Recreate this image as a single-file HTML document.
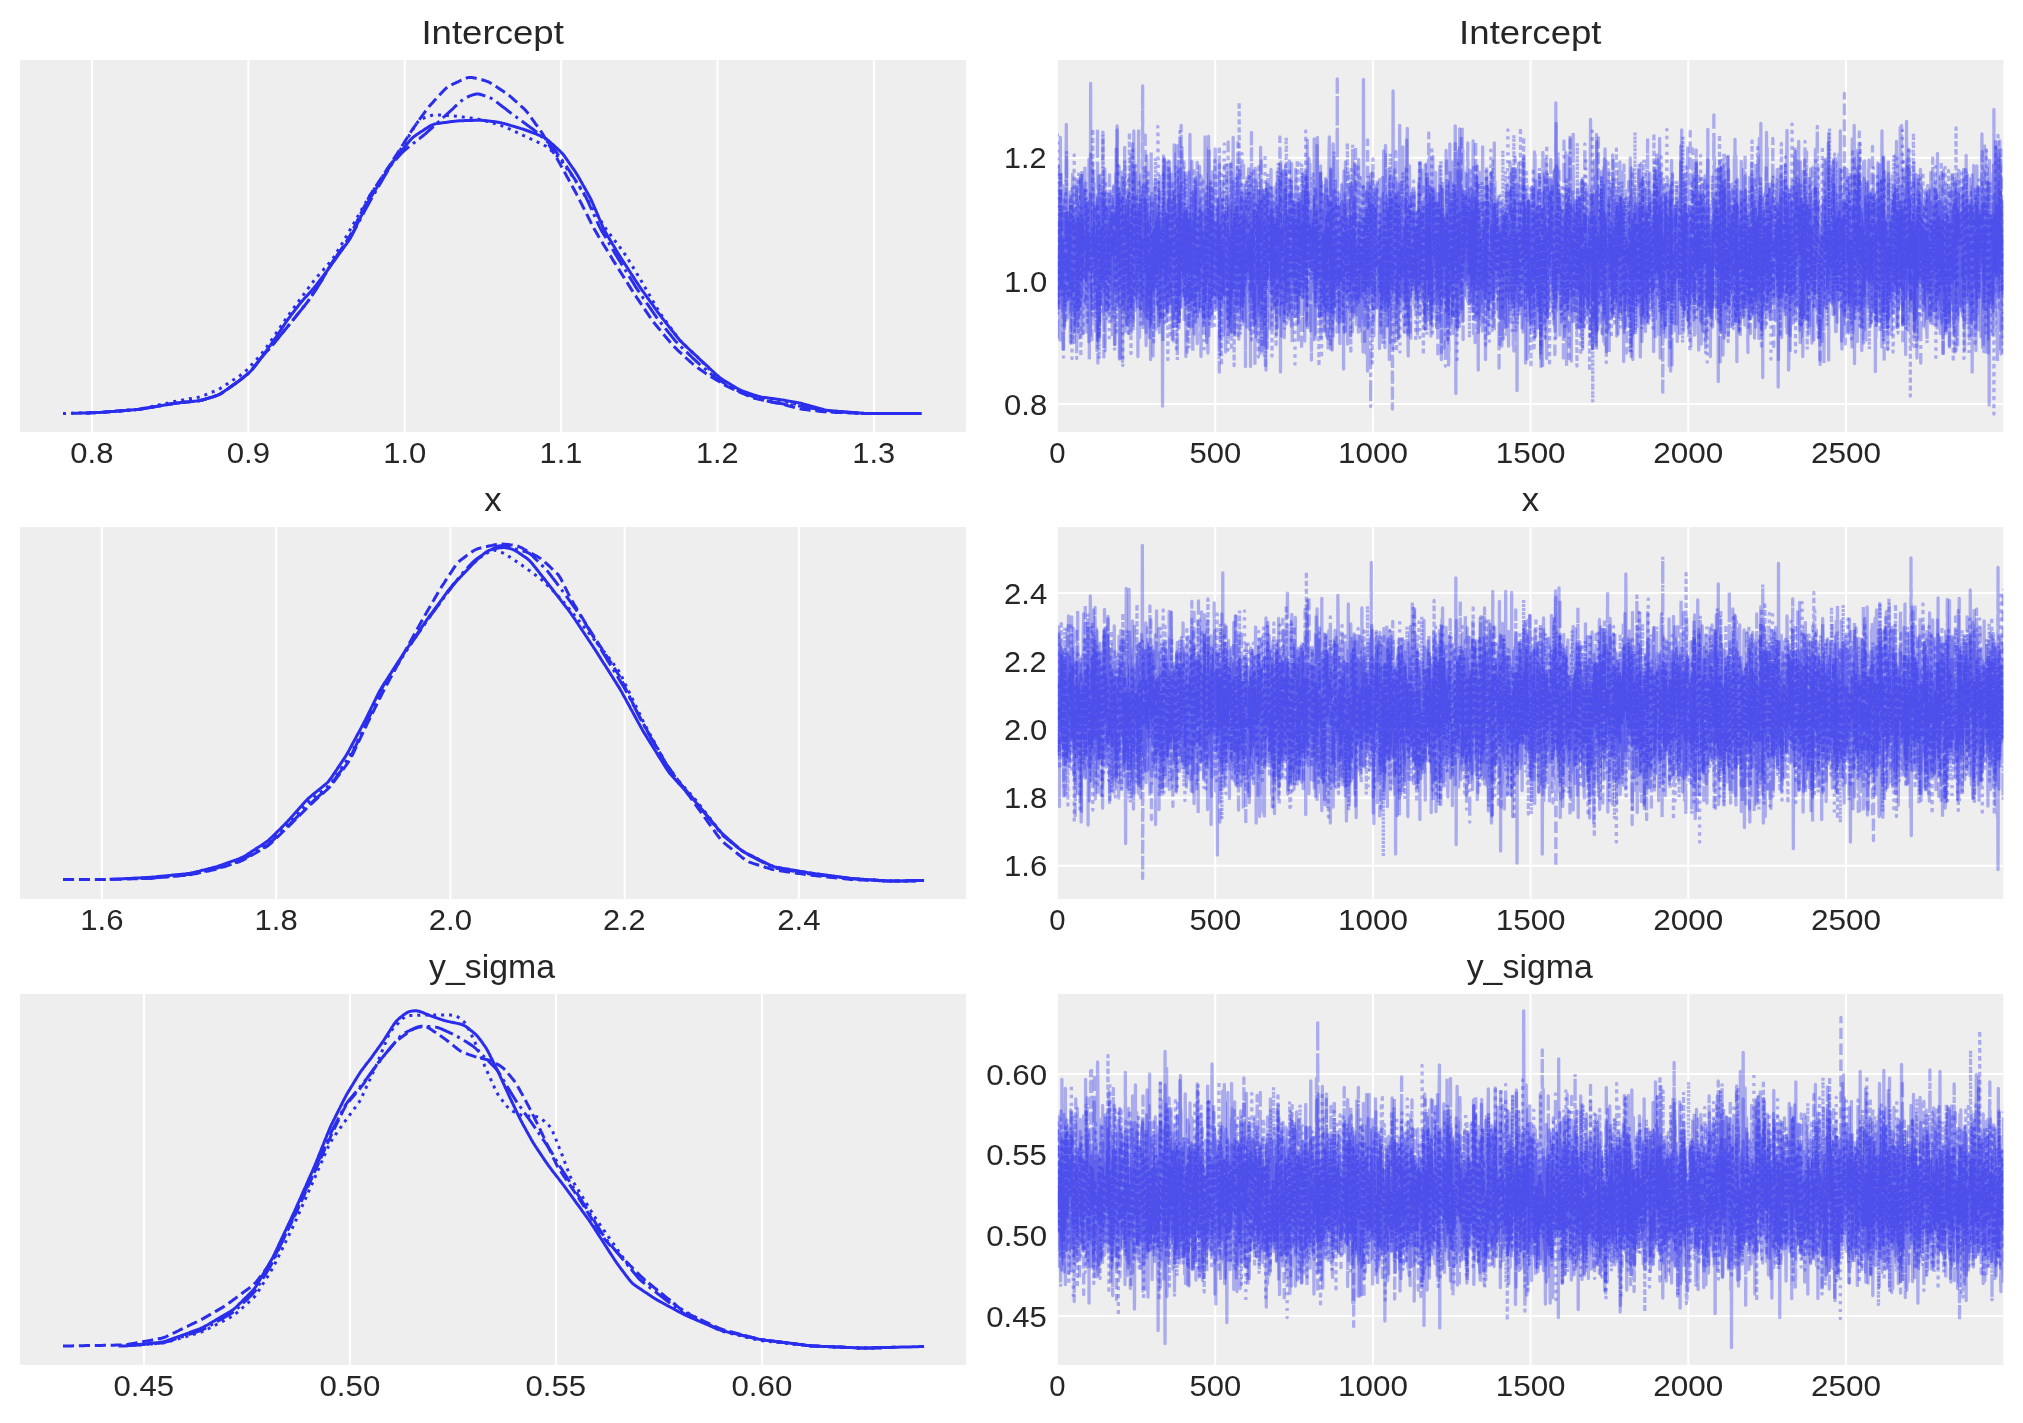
<!DOCTYPE html><html><head><meta charset="utf-8"><title>Trace plot</title><style>html,body{margin:0;padding:0;background:#fff;overflow:hidden}svg{display:block;will-change:transform}</style></head><body><svg width="2023" height="1423" viewBox="0 0 2023 1423">
<rect width="2023" height="1423" fill="#ffffff"/>
<defs><clipPath id="cl0"><rect x="19.97" y="59.95" width="945.93" height="371.95"/></clipPath><clipPath id="cr0"><rect x="1057.85" y="59.95" width="945.55" height="371.95"/></clipPath><clipPath id="cl1"><rect x="19.97" y="527.1" width="945.93" height="371.80"/></clipPath><clipPath id="cr1"><rect x="1057.85" y="527.1" width="945.55" height="371.80"/></clipPath><clipPath id="cl2"><rect x="19.97" y="993.9" width="945.93" height="371.00"/></clipPath><clipPath id="cr2"><rect x="1057.85" y="993.9" width="945.55" height="371.00"/></clipPath></defs>
<rect x="19.97" y="59.95" width="945.93" height="371.95" fill="#eeeeee"/>
<rect x="1057.85" y="59.95" width="945.55" height="371.95" fill="#eeeeee"/>
<path d="M91.95 59.95V431.9M248.34 59.95V431.9M404.73 59.95V431.9M561.12 59.95V431.9M717.51 59.95V431.9M873.90 59.95V431.9M1057.85 403.97H2003.4M1057.85 280.91H2003.4M1057.85 157.85H2003.4M1215.20 59.95V431.9M1372.90 59.95V431.9M1530.60 59.95V431.9M1688.30 59.95V431.9M1846.00 59.95V431.9" stroke="#ffffff" stroke-width="2" fill="none"/>
<rect x="19.97" y="527.1" width="945.93" height="371.80" fill="#eeeeee"/>
<rect x="1057.85" y="527.1" width="945.55" height="371.80" fill="#eeeeee"/>
<path d="M101.87 527.1V898.9M276.13 527.1V898.9M450.39 527.1V898.9M624.65 527.1V898.9M798.91 527.1V898.9M1057.85 865.87H2003.4M1057.85 797.65H2003.4M1057.85 729.43H2003.4M1057.85 661.21H2003.4M1057.85 592.99H2003.4M1215.20 527.1V898.9M1372.90 527.1V898.9M1530.60 527.1V898.9M1688.30 527.1V898.9M1846.00 527.1V898.9" stroke="#ffffff" stroke-width="2" fill="none"/>
<rect x="19.97" y="993.9" width="945.93" height="371.00" fill="#eeeeee"/>
<rect x="1057.85" y="993.9" width="945.55" height="371.00" fill="#eeeeee"/>
<path d="M143.97 993.9V1364.9M349.97 993.9V1364.9M555.97 993.9V1364.9M761.97 993.9V1364.9M1057.85 1316.10H2003.4M1057.85 1235.39H2003.4M1057.85 1154.68H2003.4M1057.85 1073.97H2003.4M1215.20 993.9V1364.9M1372.90 993.9V1364.9M1530.60 993.9V1364.9M1688.30 993.9V1364.9M1846.00 993.9V1364.9" stroke="#ffffff" stroke-width="2" fill="none"/>
<g clip-path="url(#cl0)" fill="none" stroke="#2a2eec" stroke-width="3.0" stroke-linecap="butt" stroke-linejoin="round">
<path d="M87.0 412.9L88.5 412.9 90.0 412.8 91.5 412.8 93.0 412.7 94.5 412.7 96.0 412.6 97.5 412.6 99.0 412.5 100.5 412.4 102.0 412.3 103.5 412.2 105.0 412.1 106.5 411.9 108.0 411.8 109.5 411.7 111.0 411.6 112.5 411.5 114.0 411.4 115.5 411.2 117.0 411.1 118.5 411.0 120.0 410.9 121.5 410.8 123.0 410.7 124.5 410.5 126.0 410.4 127.5 410.3 129.0 410.2 130.5 410.1 132.0 410.0 133.5 409.8 135.0 409.7 136.5 409.6 138.0 409.4 139.5 409.2 140.9 409.0 142.4 408.8 143.9 408.5 145.4 408.3 146.9 408.0 148.4 407.8 149.8 407.5 151.3 407.3 152.8 407.0 154.3 406.8 155.8 406.5 157.2 406.3 158.7 406.0 160.2 405.8 161.7 405.6 163.2 405.3 164.7 405.1 166.1 404.8 167.6 404.6 169.1 404.3 170.6 404.1 172.1 403.8 173.5 403.6 175.0 403.4 176.5 403.1 178.0 402.9 179.5 402.8 181.0 402.6 182.5 402.5 184.0 402.3 185.5 402.2 187.0 402.0 188.5 401.9 190.0 401.7 191.5 401.6 192.9 401.4 194.4 401.2 195.9 401.1 197.4 400.9 198.9 400.7 200.4 400.4 201.8 400.1 203.3 399.7 204.7 399.3 206.2 398.8 207.6 398.4 209.0 398.0 210.5 397.6 211.9 397.1 213.4 396.7 214.8 396.2 216.2 395.8 217.6 395.2 218.9 394.6 220.3 393.9 221.5 393.1 222.8 392.3 224.0 391.5 225.3 390.6 226.5 389.8 227.7 388.9 228.9 388.0 230.2 387.2 231.4 386.3 232.6 385.5 233.9 384.6 235.1 383.7 236.3 382.8 237.5 382.0 238.7 381.1 239.9 380.1 241.1 379.2 242.3 378.3 243.4 377.3 244.6 376.4 245.8 375.5 246.9 374.5 248.1 373.5 249.2 372.6 250.3 371.5 251.3 370.4 252.3 369.3 253.2 368.1 254.2 367.0 255.1 365.8 256.0 364.6 256.9 363.4 257.8 362.2 258.7 361.0 259.7 359.8 260.6 358.6 261.5 357.4 262.4 356.2 263.3 355.0 264.2 353.8 265.1 352.6 265.9 351.4 266.8 350.2 267.7 348.9 268.6 347.7 269.4 346.5 270.3 345.3 271.2 344.0 272.0 342.8 272.9 341.6 273.8 340.4 274.6 339.1 275.5 337.9 276.4 336.7 277.2 335.4 278.0 334.2 278.9 332.9 279.7 331.7 280.6 330.4 281.4 329.2 282.2 327.9 283.1 326.7 283.9 325.4 284.7 324.2 285.6 322.9 286.4 321.7 287.2 320.5 288.1 319.2 289.0 318.0 289.9 316.8 290.8 315.6 291.7 314.4 292.6 313.2 293.5 312.0 294.4 310.8 295.3 309.6 296.3 308.4 297.2 307.3 298.1 306.1 299.0 304.9 299.9 303.7 300.9 302.5 301.9 301.4 302.8 300.3 303.8 299.1 304.8 298.0 305.9 296.9 306.9 295.8 307.9 294.7 308.9 293.6 309.9 292.5 310.9 291.4 311.9 290.2 312.9 289.1 313.9 288.0 314.8 286.8 315.8 285.6 316.7 284.4 317.6 283.3 318.5 282.1 319.4 280.9 320.3 279.7 321.2 278.5 322.2 277.3 323.1 276.1 324.0 274.9 324.9 273.7 325.8 272.5 326.7 271.3 327.6 270.1 328.4 268.9 329.3 267.6 330.2 266.4 331.1 265.2 331.9 264.0 332.8 262.7 333.7 261.5 334.6 260.3 335.4 259.1 336.3 257.8 337.2 256.6 338.0 255.4 338.9 254.2 339.8 253.0 340.7 251.7 341.6 250.5 342.5 249.3 343.3 248.1 344.2 246.9 345.1 245.7 346.0 244.5 346.9 243.3 347.7 242.0 348.6 240.8 349.4 239.5 350.1 238.2 350.8 236.9 351.5 235.5 352.2 234.2 352.8 232.9 353.5 231.5 354.2 230.2 354.8 228.8 355.5 227.5 356.2 226.1 356.8 224.8 357.5 223.4 358.2 222.1 358.8 220.7 359.5 219.4 360.2 218.1 360.8 216.7 361.5 215.4 362.2 214.0 362.8 212.7 363.5 211.3 364.2 210.0 364.8 208.6 365.5 207.3 366.2 205.9 366.8 204.6 367.5 203.2 368.2 201.9 368.9 200.6 369.6 199.3 370.3 198.0 371.1 196.7 371.9 195.4 372.7 194.1 373.5 192.8 374.3 191.6 375.1 190.3 375.9 189.0 376.7 187.7 377.5 186.5 378.3 185.2 379.1 183.9 379.9 182.6 380.7 181.4 381.5 180.1 382.3 178.8 383.1 177.6 383.9 176.3 384.7 175.0 385.4 173.7 386.2 172.5 387.0 171.2 387.8 169.9 388.6 168.6 389.4 167.4 390.2 166.1 391.0 164.8 391.9 163.6 392.7 162.3 393.5 161.1 394.4 159.9 395.3 158.7 396.3 157.5 397.2 156.3 398.1 155.2 399.1 154.0 400.0 152.8 401.0 151.6 401.9 150.5 402.8 149.3 403.8 148.1 404.7 147.0 405.7 145.8 406.6 144.6 407.5 143.4 408.5 142.3 409.4 141.1 410.4 140.0 411.4 138.9 412.5 137.8 413.6 136.9 414.8 136.0 416.0 135.1 417.3 134.3 418.5 133.4 419.8 132.6 421.0 131.8 422.3 131.0 423.5 130.2 424.8 129.3 426.0 128.5 427.3 127.7 428.6 126.9 429.8 126.1 431.1 125.4 432.5 124.8 433.9 124.3 435.3 123.9 436.7 123.6 438.2 123.4 439.7 123.2 441.2 123.0 442.7 122.8 444.2 122.6 445.7 122.4 447.1 122.2 448.6 122.0 450.1 121.8 451.6 121.6 453.1 121.4 454.6 121.2 456.1 121.1 457.6 120.9 459.1 120.8 460.6 120.8 462.1 120.7 463.6 120.7 465.1 120.6 466.6 120.6 468.1 120.5 469.6 120.5 471.1 120.4 472.6 120.4 474.1 120.3 475.6 120.3 477.1 120.2 478.6 120.2 480.1 120.3 481.6 120.3 483.1 120.5 484.6 120.6 486.1 120.8 487.6 121.0 489.0 121.1 490.5 121.3 492.0 121.5 493.5 121.6 495.0 121.8 496.5 122.0 498.0 122.2 499.5 122.5 500.9 122.7 502.4 123.1 503.8 123.4 505.3 123.9 506.7 124.3 508.2 124.7 509.6 125.1 511.1 125.6 512.5 126.0 513.9 126.4 515.4 126.8 516.8 127.3 518.3 127.7 519.7 128.1 521.1 128.6 522.6 129.0 524.0 129.5 525.4 130.0 526.8 130.5 528.2 131.0 529.6 131.5 531.0 132.1 532.4 132.6 533.8 133.2 535.2 133.7 536.6 134.2 538.0 134.8 539.4 135.3 540.8 135.9 542.2 136.5 543.5 137.1 544.8 137.8 546.1 138.7 547.2 139.6 548.4 140.5 549.5 141.5 550.6 142.5 551.7 143.5 552.8 144.5 554.0 145.5 555.1 146.6 556.2 147.6 557.3 148.6 558.4 149.6 559.5 150.6 560.6 151.7 561.6 152.7 562.6 153.8 563.6 155.0 564.5 156.2 565.3 157.4 566.2 158.6 567.1 159.9 567.9 161.1 568.8 162.3 569.6 163.6 570.5 164.8 571.3 166.0 572.2 167.3 573.1 168.5 573.9 169.7 574.8 171.0 575.6 172.2 576.4 173.5 577.2 174.8 578.0 176.1 578.7 177.4 579.5 178.7 580.2 180.0 580.9 181.3 581.7 182.6 582.4 183.9 583.1 185.2 583.9 186.5 584.6 187.8 585.4 189.1 586.1 190.4 586.8 191.8 587.6 193.1 588.3 194.4 589.0 195.7 589.7 197.0 590.4 198.3 591.1 199.7 591.7 201.0 592.3 202.4 592.9 203.8 593.5 205.2 594.1 206.6 594.7 207.9 595.3 209.3 595.9 210.7 596.5 212.1 597.1 213.5 597.7 214.8 598.2 216.2 598.8 217.6 599.4 219.0 600.0 220.4 600.6 221.8 601.2 223.1 601.8 224.5 602.4 225.9 603.0 227.3 603.6 228.6 604.3 230.0 605.0 231.3 605.7 232.6 606.5 233.9 607.2 235.2 608.0 236.5 608.8 237.8 609.5 239.1 610.3 240.4 611.1 241.6 611.9 242.9 612.6 244.2 613.4 245.5 614.2 246.8 614.9 248.1 615.7 249.4 616.5 250.7 617.3 252.0 618.0 253.2 618.8 254.5 619.6 255.8 620.4 257.1 621.2 258.4 622.0 259.6 622.8 260.9 623.6 262.1 624.5 263.4 625.3 264.7 626.1 265.9 626.9 267.2 627.7 268.4 628.6 269.7 629.4 271.0 630.2 272.2 631.0 273.5 631.8 274.7 632.7 276.0 633.5 277.2 634.3 278.5 635.1 279.8 635.9 281.0 636.8 282.3 637.6 283.5 638.4 284.8 639.2 286.0 640.1 287.3 640.9 288.5 641.8 289.8 642.7 291.0 643.5 292.2 644.4 293.4 645.3 294.6 646.2 295.9 647.0 297.1 647.9 298.3 648.8 299.5 649.7 300.8 650.5 302.0 651.4 303.2 652.3 304.4 653.2 305.6 654.0 306.9 654.9 308.1 655.8 309.3 656.6 310.5 657.5 311.8 658.4 313.0 659.3 314.2 660.2 315.4 661.1 316.6 662.0 317.8 662.9 319.0 663.9 320.1 664.8 321.3 665.7 322.5 666.6 323.7 667.6 324.9 668.5 326.0 669.4 327.2 670.4 328.4 671.3 329.6 672.2 330.8 673.2 331.9 674.1 333.1 675.0 334.3 675.9 335.5 676.9 336.7 677.8 337.8 678.8 339.0 679.7 340.1 680.8 341.2 681.8 342.3 682.9 343.4 684.0 344.4 685.0 345.4 686.1 346.5 687.2 347.5 688.3 348.5 689.4 349.5 690.5 350.6 691.6 351.6 692.7 352.6 693.8 353.6 694.9 354.7 696.0 355.7 697.1 356.7 698.2 357.7 699.3 358.8 700.4 359.8 701.5 360.8 702.6 361.8 703.7 362.9 704.8 363.9 705.9 364.9 707.0 365.9 708.1 366.9 709.2 368.0 710.3 369.0 711.4 370.0 712.5 371.0 713.6 372.0 714.7 373.1 715.8 374.1 717.0 375.1 718.1 376.1 719.2 377.1 720.4 378.0 721.6 378.9 722.9 379.7 724.1 380.5 725.4 381.3 726.7 382.1 728.0 382.8 729.2 383.6 730.5 384.4 731.8 385.2 733.1 385.9 734.4 386.7 735.7 387.5 737.0 388.3 738.3 389.0 739.6 389.7 741.0 390.3 742.3 390.9 743.7 391.4 745.2 391.9 746.6 392.4 748.0 392.9 749.4 393.4 750.8 393.8 752.3 394.3 753.7 394.8 755.1 395.3 756.5 395.7 758.0 396.2 759.4 396.5 760.9 396.9 762.3 397.2 763.8 397.4 765.3 397.6 766.8 397.8 768.3 398.0 769.8 398.2 771.3 398.4 772.8 398.6 774.2 398.8 775.7 399.0 777.2 399.2 778.7 399.4 780.2 399.6 781.7 399.9 783.2 400.1 784.6 400.3 786.1 400.6 787.6 400.9 789.1 401.1 790.6 401.4 792.1 401.6 793.5 401.9 795.0 402.1 796.5 402.4 798.0 402.7 799.4 403.0 800.9 403.3 802.3 403.7 803.8 404.1 805.2 404.5 806.7 404.9 808.1 405.3 809.6 405.7 811.0 406.1 812.5 406.5 813.9 406.9 815.4 407.3 816.8 407.7 818.3 408.1 819.7 408.5 821.2 408.9 822.6 409.3 824.1 409.7 825.5 410.0 827.0 410.2 828.5 410.4 830.0 410.6 831.5 410.7 833.0 410.9 834.5 411.0 836.0 411.1 837.5 411.2 839.0 411.4 840.5 411.5 842.0 411.6 843.4 411.7 844.9 411.9 846.4 412.0 847.9 412.1 849.4 412.2 850.9 412.3 852.4 412.5 853.9 412.6 855.4 412.7 856.9 412.8 858.4 413.0 859.9 413.1 861.4 413.2 862.9 413.3 864.4 413.4 865.9 413.4 867.4 413.5 868.9 413.5 870.4 413.5 871.9 413.5 873.4 413.5 874.9 413.5 876.4 413.5 877.9 413.5 879.4 413.5 880.9 413.5 882.4 413.5 883.9 413.5 885.4 413.5 886.9 413.5 888.4 413.5 889.9 413.5 891.5 413.5 893.0 413.5 894.5 413.5 896.0 413.5 897.5 413.5 899.0 413.5 900.5 413.5 902.0 413.5 903.5 413.5 905.0 413.5 906.5 413.5 908.0 413.5 909.5 413.5 911.0 413.5" stroke-linecap="square"/>
<path d="M87.0 412.9L88.5 412.9 90.0 412.8 91.5 412.8 93.0 412.7 94.6 412.7 96.1 412.6 97.6 412.6 99.1 412.5 100.6 412.4 102.1 412.3 103.6 412.2 105.1 412.1 106.5 411.9 108.0 411.8 109.5 411.7 111.0 411.6 112.5 411.5 114.0 411.4 115.5 411.2 117.0 411.1 118.5 411.0 120.0 410.9 121.5 410.8 123.0 410.7 124.5 410.5 126.0 410.4 127.5 410.3 129.0 410.2 130.5 410.1 132.0 410.0 133.5 409.8 135.0 409.7 136.5 409.6 138.0 409.4 139.5 409.2 141.0 409.0 142.5 408.7 143.9 408.5 145.4 408.3 146.9 408.0 148.4 407.8 149.9 407.5 151.4 407.3 152.8 407.0 154.3 406.8 155.8 406.5 157.3 406.3 158.8 406.0 160.3 405.8 161.7 405.5 163.2 405.3 164.7 405.0 166.2 404.8 167.7 404.6 169.2 404.3 170.6 404.1 172.1 403.8 173.6 403.6 175.1 403.3 176.6 403.1 178.1 402.9 179.6 402.8 181.1 402.6 182.5 402.4 184.0 402.3 185.5 402.1 187.0 402.0 188.5 401.8 190.0 401.7 191.5 401.5 193.0 401.4 194.5 401.2 196.0 401.1 197.5 400.9 199.0 400.7 200.4 400.4 201.9 400.0 203.3 399.7 204.8 399.3 206.2 398.8 207.7 398.4 209.1 398.0 210.6 397.5 212.0 397.1 213.4 396.7 214.9 396.2 216.3 395.7 217.7 395.2 219.0 394.6 220.3 393.9 221.6 393.1 222.8 392.3 224.1 391.4 225.3 390.6 226.6 389.7 227.8 388.9 229.0 388.0 230.2 387.1 231.5 386.3 232.7 385.4 233.9 384.5 235.2 383.7 236.4 382.8 237.6 381.9 238.8 381.0 240.0 380.1 241.2 379.2 242.3 378.2 243.5 377.3 244.7 376.3 245.9 375.4 247.0 374.4 248.2 373.5 249.3 372.5 250.4 371.4 251.4 370.4 252.4 369.2 253.3 368.1 254.2 366.9 255.1 365.7 256.1 364.5 257.0 363.3 257.9 362.1 258.8 360.9 259.7 359.7 260.7 358.6 261.6 357.4 262.5 356.2 263.5 355.1 264.5 353.9 265.5 352.8 266.5 351.7 267.5 350.6 268.6 349.5 269.6 348.4 270.6 347.3 271.5 346.1 272.5 345.0 273.5 343.8 274.4 342.7 275.4 341.5 276.3 340.3 277.3 339.2 278.2 338.0 279.2 336.9 280.2 335.7 281.1 334.6 282.1 333.4 283.0 332.2 284.0 331.1 284.9 329.9 285.9 328.8 286.9 327.6 287.8 326.4 288.8 325.3 289.7 324.1 290.7 322.9 291.6 321.8 292.5 320.6 293.5 319.4 294.4 318.3 295.4 317.1 296.3 315.9 297.3 314.7 298.2 313.6 299.1 312.4 300.1 311.2 301.0 310.1 302.0 308.9 302.9 307.7 303.8 306.5 304.8 305.4 305.7 304.2 306.6 303.0 307.5 301.8 308.4 300.6 309.3 299.3 310.1 298.1 310.9 296.8 311.8 295.6 312.6 294.3 313.4 293.1 314.3 291.8 315.1 290.6 316.0 289.3 316.8 288.1 317.6 286.8 318.4 285.6 319.3 284.3 320.1 283.1 320.9 281.8 321.6 280.5 322.4 279.2 323.1 277.9 323.9 276.6 324.6 275.3 325.4 274.0 326.1 272.7 326.9 271.4 327.7 270.1 328.4 268.8 329.2 267.5 330.0 266.2 330.8 264.9 331.6 263.7 332.4 262.4 333.2 261.2 334.1 259.9 334.9 258.7 335.8 257.4 336.6 256.2 337.4 254.9 338.3 253.7 339.1 252.5 339.9 251.2 340.8 249.9 341.6 248.7 342.4 247.4 343.3 246.2 344.1 244.9 344.9 243.7 345.7 242.4 346.6 241.2 347.4 239.9 348.2 238.6 348.9 237.3 349.7 236.0 350.4 234.7 351.1 233.4 351.7 232.0 352.4 230.7 353.1 229.3 353.7 228.0 354.4 226.6 355.1 225.3 355.7 223.9 356.4 222.6 357.1 221.2 357.7 219.9 358.4 218.5 359.1 217.2 359.7 215.8 360.4 214.5 361.0 213.2 361.7 211.8 362.4 210.5 363.0 209.1 363.7 207.8 364.4 206.4 365.0 205.1 365.7 203.7 366.4 202.4 367.0 201.0 367.7 199.7 368.4 198.3 369.1 197.0 369.8 195.7 370.6 194.4 371.4 193.1 372.2 191.9 373.0 190.6 373.8 189.4 374.7 188.1 375.5 186.8 376.3 185.6 377.1 184.3 378.0 183.1 378.8 181.8 379.6 180.6 380.4 179.3 381.3 178.0 382.1 176.8 382.9 175.5 383.7 174.3 384.5 173.0 385.4 171.8 386.2 170.5 387.0 169.2 387.8 168.0 388.7 166.7 389.5 165.5 390.3 164.2 391.1 163.0 392.0 161.7 392.8 160.4 393.6 159.2 394.4 157.9 395.2 156.7 396.1 155.4 396.9 154.1 397.7 152.9 398.5 151.6 399.3 150.3 400.1 149.0 400.9 147.8 401.7 146.5 402.5 145.2 403.3 144.0 404.1 142.7 404.9 141.4 405.7 140.1 406.5 138.9 407.3 137.6 408.1 136.3 408.9 135.1 409.7 133.8 410.5 132.5 411.3 131.2 412.1 130.0 413.0 128.7 413.8 127.5 414.7 126.3 415.6 125.1 416.4 123.8 417.3 122.6 418.2 121.4 419.0 120.2 419.9 118.9 420.8 117.7 421.7 116.5 422.5 115.3 423.4 114.1 424.3 112.8 425.2 111.6 426.1 110.4 427.0 109.2 427.9 108.0 428.8 106.8 429.8 105.7 430.8 104.6 431.8 103.5 432.8 102.4 433.8 101.3 434.9 100.1 435.9 99.0 436.9 97.9 437.9 96.8 438.9 95.7 439.9 94.6 440.9 93.5 442.0 92.4 443.0 91.3 444.0 90.2 445.1 89.1 446.2 88.1 447.3 87.2 448.6 86.4 449.8 85.7 451.2 85.0 452.5 84.3 453.9 83.7 455.2 83.1 456.6 82.4 458.0 81.8 459.3 81.2 460.7 80.5 462.1 79.9 463.4 79.3 464.8 78.7 466.2 78.1 467.5 77.7 468.9 77.4 470.4 77.4 471.8 77.5 473.2 77.7 474.7 78.0 476.1 78.4 477.6 78.7 479.1 79.1 480.5 79.5 482.0 79.8 483.4 80.2 484.9 80.6 486.3 81.1 487.7 81.6 489.0 82.2 490.3 82.9 491.6 83.7 492.9 84.5 494.1 85.3 495.4 86.1 496.7 86.9 497.9 87.8 499.2 88.6 500.4 89.4 501.7 90.2 502.9 91.0 504.2 91.9 505.5 92.7 506.7 93.6 507.9 94.4 509.1 95.3 510.2 96.3 511.4 97.3 512.5 98.3 513.6 99.3 514.7 100.3 515.9 101.3 517.0 102.3 518.1 103.3 519.2 104.3 520.3 105.3 521.4 106.4 522.5 107.4 523.6 108.4 524.7 109.4 525.7 110.5 526.7 111.7 527.6 112.8 528.5 114.0 529.4 115.2 530.3 116.5 531.2 117.7 532.0 118.9 532.9 120.1 533.8 121.3 534.7 122.6 535.5 123.8 536.4 125.0 537.3 126.2 538.2 127.5 539.0 128.7 539.9 129.9 540.8 131.1 541.6 132.4 542.4 133.7 543.2 134.9 544.0 136.2 544.7 137.5 545.5 138.8 546.2 140.1 547.0 141.4 547.8 142.7 548.5 144.0 549.3 145.3 550.0 146.6 550.8 147.9 551.5 149.2 552.3 150.5 553.0 151.8 553.8 153.1 554.5 154.4 555.3 155.7 556.0 157.0 556.8 158.3 557.6 159.6 558.3 160.9 559.0 162.2 559.8 163.5 560.5 164.8 561.2 166.2 562.0 167.5 562.7 168.8 563.4 170.1 564.1 171.4 564.9 172.8 565.6 174.1 566.3 175.4 567.0 176.7 567.8 178.0 568.5 179.3 569.2 180.7 569.9 182.0 570.6 183.3 571.4 184.6 572.1 185.9 572.8 187.2 573.5 188.6 574.3 189.9 575.0 191.2 575.7 192.5 576.4 193.8 577.1 195.2 577.8 196.5 578.5 197.8 579.2 199.2 579.8 200.5 580.5 201.9 581.2 203.2 581.9 204.6 582.5 205.9 583.2 207.2 583.9 208.6 584.6 209.9 585.3 211.3 585.9 212.6 586.6 214.0 587.3 215.3 588.0 216.6 588.6 218.0 589.3 219.3 590.0 220.7 590.7 222.0 591.3 223.3 592.0 224.7 592.7 226.0 593.4 227.4 594.1 228.7 594.8 230.0 595.6 231.3 596.3 232.6 597.1 233.9 597.9 235.2 598.6 236.5 599.4 237.8 600.2 239.0 601.0 240.3 601.8 241.6 602.6 242.9 603.3 244.2 604.1 245.5 604.9 246.7 605.7 248.0 606.5 249.3 607.2 250.6 608.0 251.9 608.8 253.2 609.6 254.4 610.4 255.7 611.2 257.0 611.9 258.3 612.7 259.6 613.5 260.9 614.3 262.1 615.1 263.4 615.9 264.7 616.7 266.0 617.5 267.2 618.3 268.5 619.1 269.8 619.9 271.1 620.7 272.3 621.5 273.6 622.3 274.9 623.1 276.1 623.9 277.4 624.7 278.7 625.5 280.0 626.3 281.2 627.1 282.5 627.9 283.8 628.7 285.1 629.5 286.3 630.3 287.6 631.1 288.9 631.9 290.2 632.7 291.4 633.5 292.7 634.3 293.9 635.1 295.2 636.0 296.4 636.8 297.7 637.7 298.9 638.5 300.2 639.4 301.4 640.2 302.7 641.0 303.9 641.9 305.1 642.7 306.4 643.6 307.6 644.4 308.9 645.3 310.1 646.1 311.4 647.0 312.6 647.8 313.8 648.7 315.1 649.5 316.3 650.4 317.6 651.2 318.8 652.1 320.0 652.9 321.3 653.8 322.5 654.8 323.6 655.7 324.8 656.7 326.0 657.6 327.1 658.6 328.3 659.5 329.4 660.5 330.6 661.5 331.8 662.4 332.9 663.4 334.1 664.3 335.2 665.3 336.4 666.3 337.5 667.2 338.7 668.2 339.8 669.2 341.0 670.1 342.1 671.1 343.3 672.1 344.4 673.1 345.5 674.1 346.6 675.2 347.7 676.3 348.7 677.3 349.8 678.4 350.8 679.5 351.8 680.6 352.8 681.7 353.9 682.8 354.9 683.9 355.9 685.0 356.9 686.1 358.0 687.2 359.0 688.3 360.0 689.4 361.0 690.6 362.0 691.7 363.0 692.8 364.0 694.0 365.0 695.1 365.9 696.4 366.8 697.6 367.7 698.8 368.5 700.0 369.4 701.3 370.3 702.5 371.1 703.7 372.0 705.0 372.8 706.2 373.7 707.5 374.5 708.7 375.3 710.0 376.1 711.3 376.9 712.6 377.6 713.9 378.4 715.2 379.2 716.4 380.0 717.7 380.8 719.0 381.5 720.3 382.3 721.6 383.1 722.9 383.9 724.2 384.6 725.5 385.4 726.8 386.1 728.1 386.8 729.5 387.4 730.8 388.1 732.2 388.7 733.6 389.3 735.0 389.9 736.3 390.5 737.7 391.1 739.1 391.8 740.4 392.4 741.8 393.0 743.2 393.6 744.6 394.2 745.9 394.8 747.3 395.4 748.7 396.0 750.1 396.6 751.4 397.2 752.8 397.7 754.3 398.2 755.7 398.6 757.2 398.9 758.6 399.3 760.1 399.6 761.6 399.9 763.0 400.2 764.5 400.4 766.0 400.7 767.5 401.0 768.9 401.3 770.4 401.6 771.9 401.9 773.4 402.2 774.8 402.5 776.3 402.8 777.8 403.1 779.2 403.4 780.7 403.8 782.2 404.1 783.6 404.5 785.1 404.9 786.5 405.3 788.0 405.7 789.4 406.1 790.9 406.5 792.3 406.9 793.8 407.3 795.2 407.7 796.7 408.1 798.1 408.4 799.6 408.7 801.1 409.0 802.5 409.2 804.0 409.4 805.5 409.6 807.0 409.8 808.5 410.0 810.0 410.2 811.5 410.3 813.0 410.5 814.5 410.7 816.0 410.8 817.5 411.0 819.0 411.2 820.5 411.4 822.0 411.5 823.4 411.7 824.9 411.8 826.4 411.9 827.9 412.0 829.4 412.1 830.9 412.2 832.4 412.2 833.9 412.3 835.4 412.4 836.9 412.4 838.4 412.5 839.9 412.5 841.5 412.6 843.0 412.7 844.5 412.7 846.0 412.8 847.5 412.8 849.0 412.9 850.5 412.9 852.0 413.0 853.5 413.1 855.0 413.1 856.5 413.2 858.0 413.2 859.5 413.3 861.0 413.3 862.5 413.4 864.0 413.4 865.5 413.5 867.0 413.5 868.5 413.5 870.0 413.5 871.5 413.5 873.0 413.5 874.5 413.5 876.0 413.5 877.5 413.5 879.0 413.5 880.5 413.5 882.0 413.5 883.5 413.5 885.0 413.5 886.5 413.5 888.0 413.5 889.5 413.5 891.0 413.5 892.5 413.5 894.0 413.5 895.5 413.5 897.0 413.5 898.6 413.5 900.1 413.5 901.6 413.5 903.1 413.5 904.6 413.5 906.1 413.5 907.6 413.5 909.1 413.5 910.6 413.5 912.1 413.5 913.6 413.5 915.1 413.5 916.6 413.5 918.1 413.5 919.6 413.5 921.1 413.5 922.6 413.5" stroke-dasharray="11.10 4.80"/>
<path d="M72.0 413.3L73.5 413.3 75.0 413.3 76.5 413.2 78.0 413.2 79.5 413.1 81.0 413.1 82.5 413.0 84.0 413.0 85.5 413.0 87.0 412.9 88.5 412.9 90.0 412.8 91.5 412.8 93.0 412.7 94.5 412.7 96.1 412.6 97.6 412.6 99.1 412.5 100.6 412.4 102.1 412.3 103.6 412.2 105.0 412.1 106.5 411.9 108.0 411.8 109.5 411.7 111.0 411.6 112.5 411.5 114.0 411.4 115.5 411.2 117.0 411.1 118.5 411.0 120.0 410.9 121.5 410.8 123.0 410.7 124.5 410.5 126.0 410.4 127.5 410.3 129.0 410.2 130.5 410.1 132.0 410.0 133.5 409.8 135.0 409.7 136.5 409.6 138.0 409.4 139.5 409.2 141.0 409.0 142.5 408.7 143.9 408.5 145.4 408.3 146.9 408.0 148.4 407.8 149.9 407.5 151.4 407.3 152.8 407.0 154.3 406.8 155.8 406.5 157.3 406.3 158.8 406.0 160.3 405.8 161.7 405.5 163.2 405.3 164.7 405.0 166.2 404.8 167.7 404.6 169.1 404.3 170.6 404.1 172.1 403.8 173.6 403.6 175.1 403.4 176.6 403.1 178.1 402.9 179.6 402.8 181.0 402.6 182.5 402.4 184.0 402.3 185.5 402.1 187.0 402.0 188.5 401.8 190.0 401.7 191.5 401.5 193.0 401.4 194.5 401.2 196.0 401.1 197.5 400.9 199.0 400.7 200.4 400.4 201.9 400.0 203.3 399.7 204.8 399.3 206.2 398.8 207.7 398.4 209.1 398.0 210.5 397.5 212.0 397.1 213.4 396.7 214.9 396.2 216.3 395.7 217.7 395.2 219.0 394.6 220.3 393.9 221.6 393.1 222.8 392.3 224.1 391.4 225.3 390.6 226.5 389.7 227.8 388.9 229.0 388.0 230.2 387.1 231.5 386.3 232.7 385.4 233.9 384.5 235.2 383.7 236.4 382.8 237.6 381.9 238.8 381.0 240.0 380.1 241.2 379.2 242.3 378.2 243.5 377.3 244.7 376.3 245.9 375.4 247.0 374.5 248.2 373.5 249.3 372.5 250.4 371.5 251.4 370.4 252.3 369.2 253.3 368.1 254.2 366.9 255.1 365.7 256.1 364.5 257.0 363.3 257.9 362.1 258.8 360.9 259.7 359.7 260.6 358.6 261.6 357.4 262.5 356.2 263.5 355.1 264.5 353.9 265.5 352.8 266.5 351.7 267.5 350.6 268.6 349.5 269.6 348.4 270.6 347.3 271.5 346.1 272.5 345.0 273.5 343.8 274.4 342.7 275.4 341.5 276.3 340.4 277.3 339.2 278.2 338.0 279.2 336.9 280.2 335.7 281.1 334.6 282.1 333.4 283.0 332.2 284.0 331.1 284.9 329.9 285.9 328.8 286.9 327.6 287.8 326.4 288.8 325.3 289.7 324.1 290.7 322.9 291.6 321.8 292.5 320.6 293.5 319.4 294.4 318.3 295.4 317.1 296.3 315.9 297.2 314.7 298.2 313.6 299.1 312.4 300.1 311.2 301.0 310.1 302.0 308.9 302.9 307.7 303.8 306.5 304.8 305.4 305.7 304.2 306.6 303.0 307.5 301.8 308.4 300.6 309.3 299.3 310.1 298.1 310.9 296.9 311.8 295.6 312.6 294.4 313.4 293.1 314.3 291.9 315.1 290.6 315.9 289.4 316.8 288.1 317.6 286.9 318.4 285.6 319.3 284.3 320.1 283.1 320.8 281.8 321.6 280.5 322.4 279.2 323.1 277.9 323.9 276.6 324.6 275.3 325.4 274.0 326.1 272.7 326.9 271.4 327.6 270.1 328.4 268.8 329.2 267.5 330.0 266.2 330.7 265.0 331.6 263.7 332.4 262.4 333.2 261.2 334.1 259.9 334.9 258.7 335.8 257.5 336.6 256.2 337.5 255.0 338.3 253.7 339.2 252.5 340.1 251.3 341.0 250.2 342.0 249.0 342.9 247.8 343.9 246.7 344.8 245.5 345.8 244.3 346.7 243.1 347.6 242.0 348.5 240.7 349.3 239.5 350.1 238.2 350.9 236.9 351.6 235.6 352.3 234.3 353.0 233.0 353.7 231.7 354.4 230.3 355.1 229.0 355.9 227.7 356.6 226.3 357.3 225.0 358.0 223.7 358.7 222.4 359.4 221.0 360.1 219.7 360.8 218.4 361.5 217.1 362.2 215.7 362.9 214.4 363.6 213.1 364.3 211.7 365.0 210.4 365.7 209.1 366.4 207.8 367.1 206.4 367.9 205.1 368.6 203.8 369.3 202.5 370.0 201.2 370.8 199.9 371.5 198.6 372.3 197.2 373.0 195.9 373.8 194.6 374.5 193.3 375.3 192.1 376.0 190.8 376.8 189.5 377.5 188.2 378.3 186.9 379.1 185.6 379.8 184.3 380.6 183.0 381.3 181.7 382.1 180.4 382.8 179.1 383.6 177.8 384.3 176.5 385.1 175.2 385.9 173.9 386.6 172.6 387.4 171.3 388.1 170.0 388.9 168.7 389.7 167.4 390.5 166.1 391.4 164.9 392.3 163.7 393.2 162.6 394.2 161.4 395.2 160.3 396.2 159.2 397.2 158.0 398.2 156.9 399.2 155.8 400.2 154.7 401.2 153.6 402.3 152.5 403.3 151.5 404.5 150.5 405.6 149.5 406.8 148.6 407.9 147.7 409.1 146.7 410.3 145.8 411.5 144.9 412.7 143.9 413.8 143.0 415.0 142.1 416.2 141.1 417.4 140.2 418.6 139.3 419.8 138.4 420.9 137.4 422.1 136.5 423.3 135.5 424.4 134.6 425.6 133.6 426.7 132.6 427.8 131.6 428.9 130.6 430.0 129.6 431.2 128.6 432.3 127.6 433.4 126.5 434.5 125.5 435.6 124.5 436.7 123.5 437.8 122.5 438.9 121.5 440.0 120.5 441.1 119.4 442.2 118.4 443.3 117.4 444.5 116.4 445.6 115.4 446.7 114.4 447.8 113.3 448.9 112.3 450.0 111.3 451.1 110.3 452.2 109.3 453.3 108.3 454.4 107.2 455.5 106.2 456.6 105.2 457.7 104.2 458.9 103.2 460.0 102.2 461.1 101.2 462.2 100.2 463.4 99.3 464.6 98.5 465.9 97.7 467.2 97.1 468.6 96.5 470.0 95.9 471.4 95.4 472.8 94.9 474.2 94.5 475.6 94.1 477.0 94.0 478.4 94.1 479.8 94.3 481.3 94.7 482.7 95.1 484.1 95.6 485.5 96.1 487.0 96.6 488.4 97.1 489.7 97.7 491.1 98.3 492.3 99.0 493.6 99.9 494.8 100.7 496.0 101.6 497.2 102.5 498.4 103.4 499.6 104.4 500.8 105.3 502.0 106.2 503.2 107.1 504.4 108.0 505.6 108.9 506.8 109.9 507.9 110.8 509.1 111.7 510.3 112.6 511.5 113.5 512.7 114.4 513.9 115.3 515.2 116.2 516.4 117.1 517.6 118.0 518.8 118.9 520.0 119.7 521.2 120.6 522.4 121.5 523.6 122.4 524.8 123.3 526.1 124.2 527.3 125.1 528.5 126.0 529.7 126.9 530.9 127.8 532.1 128.6 533.3 129.5 534.5 130.5 535.7 131.4 536.8 132.4 538.0 133.3 539.1 134.3 540.2 135.3 541.3 136.3 542.5 137.3 543.6 138.3 544.7 139.3 545.8 140.3 546.9 141.3 548.1 142.3 549.2 143.4 550.2 144.4 551.2 145.5 552.2 146.6 553.1 147.8 554.0 149.0 554.9 150.2 555.8 151.4 556.7 152.7 557.5 153.9 558.4 155.1 559.3 156.3 560.2 157.6 561.0 158.8 561.9 160.0 562.8 161.2 563.6 162.5 564.5 163.7 565.4 164.9 566.2 166.2 567.1 167.4 567.9 168.6 568.8 169.9 569.6 171.1 570.4 172.4 571.2 173.7 572.0 174.9 572.9 176.2 573.7 177.5 574.5 178.7 575.3 180.0 576.1 181.2 576.9 182.5 577.7 183.8 578.6 185.0 579.4 186.3 580.2 187.6 581.0 188.8 581.8 190.1 582.6 191.4 583.4 192.6 584.2 193.9 584.9 195.2 585.6 196.5 586.3 197.9 586.9 199.3 587.6 200.6 588.2 202.0 588.8 203.4 589.4 204.7 590.0 206.1 590.7 207.5 591.3 208.8 591.9 210.2 592.5 211.6 593.2 212.9 593.8 214.3 594.4 215.7 595.0 217.0 595.6 218.4 596.3 219.8 596.9 221.1 597.5 222.5 598.1 223.9 598.8 225.2 599.4 226.6 600.1 227.9 600.8 229.2 601.5 230.6 602.3 231.9 603.1 233.2 603.8 234.4 604.6 235.7 605.4 237.0 606.1 238.3 606.9 239.6 607.7 240.9 608.4 242.2 609.2 243.5 609.9 244.8 610.7 246.1 611.5 247.4 612.2 248.7 613.0 250.0 613.8 251.3 614.5 252.6 615.3 253.8 616.1 255.1 616.9 256.4 617.6 257.7 618.4 259.0 619.2 260.3 620.0 261.5 620.8 262.8 621.6 264.1 622.4 265.4 623.2 266.7 624.0 267.9 624.7 269.2 625.5 270.5 626.3 271.8 627.1 273.0 627.9 274.3 628.7 275.6 629.5 276.9 630.3 278.2 631.1 279.4 631.9 280.7 632.7 282.0 633.5 283.3 634.2 284.5 635.0 285.8 635.8 287.1 636.7 288.4 637.5 289.6 638.3 290.9 639.2 292.1 640.0 293.4 640.9 294.6 641.7 295.8 642.6 297.1 643.4 298.3 644.3 299.5 645.1 300.8 646.0 302.0 646.8 303.3 647.7 304.5 648.5 305.7 649.4 307.0 650.2 308.2 651.1 309.4 651.9 310.7 652.8 311.9 653.7 313.1 654.5 314.4 655.4 315.6 656.2 316.8 657.1 318.0 658.0 319.2 659.0 320.4 659.9 321.6 660.8 322.8 661.8 324.0 662.7 325.1 663.6 326.3 664.6 327.5 665.5 328.7 666.5 329.8 667.4 331.0 668.3 332.2 669.3 333.4 670.2 334.5 671.2 335.7 672.1 336.9 673.0 338.0 674.0 339.2 674.9 340.4 675.9 341.5 676.9 342.6 677.9 343.7 679.0 344.8 680.0 345.9 681.1 346.9 682.2 347.9 683.3 349.0 684.4 350.0 685.5 351.1 686.6 352.1 687.7 353.1 688.7 354.2 689.8 355.2 690.9 356.2 692.0 357.3 693.1 358.3 694.2 359.3 695.3 360.4 696.4 361.4 697.5 362.4 698.6 363.4 699.8 364.4 700.9 365.3 702.1 366.3 703.2 367.3 704.4 368.3 705.5 369.2 706.6 370.2 707.8 371.2 708.9 372.1 710.1 373.1 711.2 374.1 712.4 375.1 713.5 376.0 714.7 377.0 715.9 377.9 717.1 378.8 718.3 379.6 719.6 380.4 720.9 381.2 722.2 381.9 723.5 382.7 724.8 383.4 726.1 384.1 727.4 384.9 728.7 385.6 730.0 386.4 731.3 387.1 732.6 387.8 734.0 388.6 735.3 389.3 736.6 390.0 737.9 390.7 739.3 391.4 740.6 392.0 742.0 392.6 743.4 393.1 744.8 393.6 746.2 394.1 747.7 394.6 749.1 395.0 750.5 395.5 752.0 396.0 753.4 396.5 754.8 396.9 756.2 397.4 757.7 397.9 759.1 398.4 760.5 398.8 761.9 399.3 763.4 399.8 764.8 400.3 766.2 400.7 767.7 401.1 769.1 401.5 770.6 401.9 772.0 402.2 773.5 402.4 775.0 402.7 776.5 402.9 778.0 403.1 779.4 403.3 780.9 403.5 782.4 403.7 783.9 403.9 785.4 404.1 786.9 404.3 788.4 404.5 789.9 404.7 791.4 404.8 792.9 405.0 794.3 405.2 795.8 405.5 797.3 405.7 798.8 405.9 800.3 406.1 801.8 406.4 803.3 406.6 804.7 406.9 806.2 407.2 807.7 407.5 809.2 407.8 810.6 408.0 812.1 408.3 813.6 408.6 815.1 408.9 816.5 409.2 818.0 409.5 819.5 409.7 821.0 410.0 822.4 410.3 823.9 410.5 825.4 410.8 826.9 411.0 828.4 411.1 829.9 411.2 831.4 411.3 832.9 411.4 834.4 411.5 835.9 411.6 837.4 411.7 838.9 411.8 840.4 411.9 841.9 412.0 843.4 412.1 844.9 412.2 846.4 412.3 847.9 412.4 849.4 412.5 850.9 412.6 852.4 412.7 853.9 412.8 855.4 412.9 856.9 413.0 858.4 413.1 859.9 413.2 861.4 413.3 862.9 413.3 864.4 413.4 865.9 413.4 867.4 413.5 868.9 413.5 870.4 413.5 871.9 413.5 873.4 413.5 874.9 413.5 876.4 413.5 877.9 413.5 879.4 413.5 880.9 413.5 882.4 413.5 883.9 413.5 885.4 413.5 886.9 413.5 888.4 413.5 889.9 413.5 891.4 413.5 892.9 413.5 894.4 413.5 895.9 413.5 897.4 413.5 899.0 413.5 900.5 413.5 902.0 413.5 903.5 413.5 905.0 413.5 906.5 413.5 908.0 413.5 909.5 413.5 911.0 413.5" stroke-dasharray="19.20 4.80 3.00 4.80"/>
<path d="M63.0 413.6L64.5 413.6 66.0 413.5 67.5 413.5 69.0 413.4 70.5 413.4 72.0 413.3 73.5 413.3 75.0 413.3 76.5 413.2 78.0 413.2 79.5 413.1 81.0 413.1 82.5 413.0 84.0 413.0 85.5 413.0 87.0 412.9 88.5 412.9 90.0 412.8 91.5 412.8 93.0 412.7 94.5 412.7 96.1 412.6 97.6 412.6 99.1 412.5 100.6 412.4 102.1 412.3 103.5 412.2 105.0 412.1 106.5 411.9 108.0 411.8 109.5 411.7 111.0 411.6 112.5 411.5 114.0 411.4 115.5 411.2 117.0 411.1 118.5 411.0 120.0 410.9 121.5 410.8 123.0 410.7 124.5 410.5 126.0 410.4 127.5 410.3 129.0 410.2 130.5 410.1 132.0 410.0 133.5 409.8 135.0 409.7 136.5 409.5 138.0 409.3 139.5 409.1 140.9 408.8 142.4 408.5 143.9 408.2 145.4 407.9 146.8 407.6 148.3 407.3 149.8 406.9 151.2 406.6 152.7 406.3 154.2 406.0 155.6 405.7 157.1 405.3 158.6 405.0 160.0 404.7 161.5 404.4 163.0 404.1 164.4 403.7 165.9 403.4 167.4 403.1 168.9 402.8 170.3 402.5 171.8 402.1 173.3 401.8 174.7 401.5 176.2 401.2 177.7 400.9 179.2 400.6 180.6 400.4 182.1 400.1 183.6 399.9 185.1 399.6 186.6 399.3 188.0 399.1 189.5 398.8 191.0 398.6 192.5 398.3 194.0 398.0 195.4 397.8 196.9 397.5 198.4 397.2 199.8 396.8 201.2 396.4 202.7 395.9 204.1 395.3 205.5 394.8 206.9 394.2 208.2 393.7 209.6 393.1 211.0 392.5 212.4 392.0 213.8 391.4 215.2 390.8 216.6 390.2 217.9 389.6 219.3 388.9 220.6 388.2 221.9 387.4 223.1 386.6 224.4 385.8 225.6 385.0 226.9 384.1 228.2 383.3 229.4 382.5 230.7 381.7 231.9 380.9 233.2 380.0 234.5 379.2 235.7 378.4 237.0 377.6 238.2 376.8 239.5 375.9 240.7 375.1 242.0 374.2 243.2 373.3 244.3 372.4 245.4 371.4 246.5 370.3 247.5 369.3 248.5 368.2 249.6 367.0 250.6 365.9 251.6 364.8 252.6 363.7 253.6 362.6 254.6 361.5 255.6 360.4 256.7 359.3 257.7 358.2 258.7 357.1 259.7 355.9 260.7 354.8 261.7 353.7 262.6 352.5 263.6 351.4 264.5 350.2 265.4 349.0 266.2 347.7 267.1 346.5 267.9 345.2 268.8 344.0 269.6 342.8 270.5 341.5 271.3 340.3 272.2 339.0 273.0 337.8 273.9 336.6 274.7 335.3 275.6 334.1 276.4 332.8 277.2 331.6 278.1 330.4 278.9 329.1 279.8 327.9 280.6 326.6 281.5 325.4 282.3 324.2 283.2 322.9 284.0 321.7 284.9 320.4 285.7 319.2 286.6 318.0 287.4 316.7 288.3 315.5 289.2 314.3 290.0 313.0 290.9 311.8 291.8 310.6 292.7 309.4 293.6 308.2 294.5 307.0 295.4 305.8 296.3 304.6 297.1 303.3 298.0 302.1 298.9 300.9 299.8 299.7 300.7 298.5 301.6 297.3 302.5 296.1 303.4 294.9 304.3 293.6 305.1 292.4 306.0 291.2 306.9 290.0 307.8 288.8 308.7 287.6 309.6 286.4 310.5 285.2 311.4 284.0 312.3 282.8 313.2 281.6 314.1 280.4 315.1 279.2 316.1 278.1 317.0 276.9 318.0 275.8 319.0 274.7 320.0 273.6 321.0 272.4 322.0 271.3 323.0 270.2 324.0 269.0 325.0 267.9 326.0 266.8 327.0 265.7 327.9 264.5 328.9 263.4 329.9 262.3 330.9 261.1 331.8 259.9 332.7 258.7 333.6 257.5 334.4 256.3 335.2 255.0 336.0 253.7 336.7 252.4 337.5 251.1 338.3 249.8 339.1 248.6 339.8 247.3 340.6 246.0 341.4 244.7 342.2 243.4 342.9 242.1 343.7 240.8 344.5 239.5 345.2 238.2 346.0 236.9 346.7 235.6 347.5 234.3 348.2 233.0 349.0 231.7 349.7 230.4 350.5 229.1 351.2 227.8 352.0 226.5 352.7 225.2 353.5 223.9 354.2 222.6 355.0 221.3 355.7 220.0 356.5 218.7 357.2 217.4 358.0 216.1 358.7 214.8 359.5 213.5 360.2 212.2 361.0 210.9 361.7 209.6 362.5 208.3 363.2 207.0 364.0 205.6 364.7 204.3 365.5 203.0 366.2 201.7 367.0 200.4 367.7 199.1 368.5 197.8 369.3 196.6 370.0 195.3 370.9 194.0 371.7 192.8 372.5 191.5 373.3 190.3 374.2 189.0 375.0 187.8 375.8 186.5 376.7 185.3 377.5 184.0 378.4 182.8 379.2 181.5 380.0 180.3 380.9 179.0 381.7 177.8 382.5 176.5 383.4 175.3 384.2 174.0 385.0 172.8 385.9 171.5 386.7 170.3 387.5 169.0 388.4 167.8 389.2 166.5 390.1 165.3 390.9 164.0 391.7 162.8 392.6 161.5 393.4 160.3 394.2 159.0 395.1 157.8 395.9 156.5 396.7 155.3 397.6 154.0 398.4 152.8 399.2 151.5 400.1 150.3 400.9 149.0 401.7 147.7 402.5 146.5 403.3 145.2 404.1 143.9 404.8 142.6 405.6 141.3 406.4 140.1 407.2 138.8 408.0 137.5 408.8 136.2 409.5 134.9 410.3 133.6 411.1 132.4 411.9 131.1 412.7 129.8 413.5 128.5 414.2 127.2 415.0 126.0 415.8 124.7 416.7 123.5 417.5 122.3 418.5 121.2 419.6 120.3 420.8 119.5 422.1 118.9 423.4 118.3 424.8 117.7 426.2 117.2 427.6 116.6 429.0 116.1 430.5 115.7 431.9 115.3 433.3 115.1 434.8 114.9 436.3 114.9 437.8 115.0 439.3 115.0 440.8 115.1 442.3 115.2 443.8 115.3 445.3 115.4 446.8 115.5 448.3 115.6 449.8 115.7 451.3 115.8 452.8 116.0 454.3 116.1 455.8 116.2 457.2 116.4 458.7 116.5 460.2 116.7 461.7 116.9 463.2 117.1 464.7 117.3 466.2 117.5 467.7 117.7 469.2 117.9 470.7 118.0 472.2 118.2 473.6 118.4 475.1 118.6 476.6 118.8 478.1 119.1 479.6 119.4 481.0 119.7 482.5 120.0 483.9 120.4 485.4 120.8 486.8 121.3 488.3 121.7 489.7 122.1 491.1 122.5 492.6 123.0 494.0 123.4 495.5 123.8 496.9 124.3 498.3 124.7 499.8 125.2 501.2 125.6 502.6 126.1 504.0 126.6 505.4 127.2 506.8 127.8 508.2 128.4 509.5 129.0 510.9 129.6 512.3 130.3 513.6 130.9 515.0 131.5 516.4 132.2 517.7 132.8 519.1 133.5 520.4 134.1 521.8 134.7 523.2 135.4 524.5 136.0 525.9 136.6 527.2 137.3 528.6 137.9 530.0 138.5 531.3 139.2 532.7 139.8 534.1 140.4 535.4 141.0 536.8 141.7 538.2 142.3 539.5 142.9 540.9 143.5 542.3 144.2 543.6 144.8 544.9 145.6 546.2 146.3 547.4 147.2 548.6 148.1 549.7 149.1 550.8 150.1 551.9 151.1 553.0 152.1 554.1 153.1 555.2 154.2 556.3 155.2 557.4 156.3 558.4 157.3 559.4 158.5 560.4 159.6 561.3 160.8 562.2 162.0 563.1 163.2 563.9 164.4 564.8 165.7 565.7 166.9 566.5 168.1 567.4 169.3 568.3 170.5 569.2 171.8 570.0 173.0 570.9 174.2 571.8 175.4 572.7 176.7 573.5 177.9 574.4 179.1 575.2 180.4 576.1 181.6 576.9 182.9 577.7 184.2 578.5 185.4 579.3 186.7 580.1 188.0 580.9 189.2 581.7 190.5 582.5 191.8 583.3 193.1 584.1 194.3 584.9 195.6 585.7 196.9 586.5 198.2 587.3 199.4 588.1 200.7 588.9 202.0 589.7 203.3 590.5 204.5 591.3 205.8 592.1 207.1 592.9 208.3 593.7 209.6 594.5 210.9 595.3 212.1 596.1 213.4 596.9 214.7 597.7 215.9 598.5 217.2 599.3 218.5 600.1 219.7 601.0 221.0 601.8 222.3 602.6 223.5 603.4 224.8 604.2 226.1 605.0 227.3 605.8 228.6 606.7 229.8 607.6 231.0 608.5 232.3 609.4 233.5 610.3 234.6 611.2 235.8 612.1 237.0 613.0 238.2 613.9 239.4 614.8 240.6 615.7 241.8 616.7 243.0 617.6 244.2 618.5 245.4 619.4 246.6 620.3 247.8 621.2 249.0 622.1 250.2 623.0 251.4 623.9 252.6 624.7 253.9 625.5 255.1 626.3 256.4 627.1 257.7 627.9 258.9 628.7 260.2 629.5 261.5 630.3 262.8 631.0 264.1 631.8 265.4 632.6 266.6 633.4 267.9 634.2 269.2 634.9 270.5 635.7 271.8 636.5 273.1 637.3 274.4 638.1 275.6 638.9 276.9 639.6 278.2 640.4 279.5 641.2 280.8 642.0 282.1 642.7 283.4 643.5 284.7 644.2 286.0 645.0 287.3 645.7 288.6 646.5 289.9 647.2 291.2 648.0 292.5 648.7 293.8 649.5 295.1 650.2 296.4 650.9 297.7 651.7 299.0 652.4 300.3 653.2 301.6 653.9 302.9 654.7 304.2 655.4 305.5 656.2 306.8 656.9 308.1 657.7 309.4 658.5 310.7 659.3 312.0 660.1 313.2 661.0 314.5 661.8 315.7 662.7 316.9 663.6 318.1 664.5 319.3 665.4 320.5 666.3 321.8 667.1 323.0 668.0 324.2 668.9 325.4 669.8 326.6 670.7 327.8 671.6 329.0 672.5 330.3 673.3 331.5 674.2 332.7 675.1 333.9 676.0 335.1 676.9 336.3 677.8 337.5 678.7 338.7 679.6 339.9 680.6 341.0 681.6 342.1 682.7 343.2 683.8 344.2 684.9 345.3 686.0 346.3 687.1 347.3 688.2 348.3 689.2 349.4 690.3 350.4 691.4 351.4 692.5 352.4 693.6 353.5 694.7 354.5 695.8 355.5 696.9 356.5 698.0 357.6 699.1 358.6 700.2 359.7 701.2 360.7 702.3 361.8 703.3 362.9 704.4 364.0 705.4 365.1 706.4 366.2 707.5 367.2 708.5 368.3 709.6 369.4 710.6 370.5 711.6 371.6 712.7 372.7 713.7 373.8 714.7 374.9 715.8 376.0 716.8 377.0 717.8 378.1 718.9 379.2 719.9 380.3 721.0 381.4 722.0 382.4 723.1 383.4 724.3 384.3 725.5 385.1 726.8 385.9 728.2 386.5 729.5 387.1 730.9 387.7 732.3 388.3 733.7 388.9 735.0 389.5 736.4 390.1 737.8 390.7 739.2 391.3 740.6 391.9 741.9 392.5 743.3 393.1 744.7 393.7 746.1 394.3 747.5 394.8 748.9 395.3 750.3 395.8 751.7 396.2 753.2 396.5 754.7 396.8 756.2 397.0 757.6 397.3 759.1 397.5 760.6 397.7 762.1 398.0 763.6 398.2 765.1 398.5 766.5 398.7 768.0 399.0 769.5 399.2 771.0 399.5 772.5 399.7 774.0 399.9 775.4 400.2 776.9 400.4 778.4 400.7 779.9 401.0 781.4 401.2 782.8 401.5 784.3 401.8 785.8 402.1 787.3 402.4 788.7 402.7 790.2 403.0 791.7 403.3 793.1 403.6 794.6 403.9 796.1 404.2 797.6 404.5 799.0 404.8 800.5 405.1 802.0 405.5 803.4 405.8 804.9 406.1 806.4 406.5 807.8 406.8 809.3 407.1 810.8 407.5 812.2 407.8 813.7 408.2 815.1 408.5 816.6 408.8 818.1 409.2 819.5 409.5 821.0 409.8 822.5 410.2 823.9 410.5 825.4 410.7 826.9 410.9 828.4 411.1 829.9 411.2 831.4 411.3 832.9 411.4 834.4 411.5 835.9 411.6 837.4 411.7 838.9 411.8 840.4 411.9 841.9 412.0 843.4 412.1 844.9 412.2 846.4 412.3 847.9 412.4 849.4 412.5 850.9 412.6 852.4 412.7 853.9 412.8 855.4 412.9 856.9 413.0 858.4 413.1 859.9 413.2 861.4 413.3 862.9 413.3 864.4 413.4 865.9 413.4 867.4 413.5 868.9 413.5 870.4 413.5 871.9 413.5 873.4 413.5 874.9 413.5 876.4 413.5 877.9 413.5 879.4 413.5 880.9 413.5 882.4 413.5 883.9 413.5 885.4 413.5 886.9 413.5 888.4 413.5 889.9 413.5 891.4 413.5 892.9 413.5 894.4 413.5 895.9 413.5 897.4 413.5 899.0 413.5 900.5 413.5 902.0 413.5 903.5 413.5 905.0 413.5 906.5 413.5 908.0 413.5 909.5 413.5 911.0 413.5" stroke-dasharray="3.00 4.95"/>
</g>
<g clip-path="url(#cl1)" fill="none" stroke="#2a2eec" stroke-width="3.0" stroke-linecap="butt" stroke-linejoin="round">
<path d="M111.1 879.3L112.6 879.3 114.1 879.2 115.6 879.2 117.1 879.1 118.6 879.0 120.1 878.9 121.6 878.9 123.1 878.8 124.6 878.7 126.1 878.6 127.6 878.5 129.1 878.5 130.6 878.4 132.1 878.3 133.6 878.2 135.1 878.1 136.6 878.1 138.1 878.0 139.6 877.9 141.1 877.8 142.6 877.7 144.1 877.7 145.6 877.6 147.1 877.5 148.6 877.4 150.1 877.3 151.6 877.2 153.1 877.0 154.6 876.9 156.1 876.8 157.6 876.6 159.1 876.5 160.6 876.3 162.1 876.2 163.6 876.0 165.1 875.9 166.6 875.7 168.1 875.6 169.6 875.4 171.1 875.3 172.6 875.1 174.1 875.0 175.6 874.8 177.1 874.7 178.6 874.5 180.1 874.4 181.6 874.2 183.1 874.1 184.6 873.9 186.1 873.8 187.6 873.6 189.0 873.4 190.5 873.1 192.0 872.8 193.5 872.5 194.9 872.1 196.4 871.8 197.8 871.4 199.3 871.1 200.8 870.7 202.2 870.3 203.7 870.0 205.1 869.6 206.6 869.3 208.0 868.9 209.5 868.5 211.0 868.2 212.4 867.8 213.9 867.4 215.3 867.0 216.8 866.6 218.2 866.1 219.6 865.6 221.0 865.2 222.5 864.7 223.9 864.2 225.3 863.7 226.7 863.2 228.1 862.7 229.5 862.2 231.0 861.7 232.4 861.2 233.8 860.7 235.2 860.2 236.6 859.7 238.0 859.1 239.4 858.6 240.8 858.0 242.2 857.4 243.5 856.7 244.8 856.0 246.1 855.2 247.3 854.4 248.6 853.5 249.9 852.7 251.1 851.9 252.4 851.1 253.6 850.3 254.9 849.5 256.2 848.6 257.4 847.8 258.7 847.0 260.0 846.2 261.2 845.4 262.5 844.5 263.7 843.7 265.0 842.9 266.2 842.0 267.4 841.1 268.6 840.2 269.7 839.2 270.8 838.2 271.9 837.2 273.0 836.1 274.0 835.1 275.1 834.0 276.2 832.9 277.2 831.9 278.3 830.8 279.4 829.7 280.4 828.7 281.5 827.6 282.5 826.6 283.6 825.5 284.7 824.4 285.7 823.3 286.7 822.3 287.8 821.2 288.8 820.0 289.8 818.9 290.8 817.8 291.8 816.7 292.8 815.6 293.8 814.4 294.8 813.3 295.8 812.2 296.8 811.1 297.8 809.9 298.8 808.8 299.8 807.7 300.8 806.6 301.8 805.4 302.8 804.3 303.8 803.2 304.8 802.1 305.8 801.0 306.9 799.9 307.9 798.9 309.0 797.8 310.2 796.9 311.3 795.9 312.5 794.9 313.6 794.0 314.8 793.0 316.0 792.1 317.1 791.1 318.3 790.2 319.5 789.2 320.6 788.3 321.8 787.3 323.0 786.4 324.1 785.4 325.3 784.5 326.4 783.5 327.5 782.5 328.5 781.4 329.4 780.2 330.3 779.0 331.2 777.8 332.1 776.6 332.9 775.3 333.7 774.1 334.6 772.8 335.4 771.6 336.2 770.3 337.1 769.1 337.9 767.8 338.7 766.6 339.6 765.3 340.4 764.1 341.2 762.8 342.1 761.6 342.9 760.3 343.7 759.1 344.6 757.8 345.4 756.6 346.2 755.3 347.0 754.0 347.7 752.7 348.5 751.4 349.2 750.1 349.9 748.7 350.6 747.4 351.3 746.1 352.0 744.8 352.7 743.5 353.5 742.1 354.2 740.8 354.9 739.5 355.6 738.2 356.3 736.8 357.0 735.5 357.7 734.2 358.4 732.9 359.2 731.5 359.9 730.2 360.6 728.9 361.3 727.6 362.0 726.2 362.7 724.9 363.4 723.6 364.1 722.3 364.8 720.9 365.5 719.6 366.2 718.2 366.9 716.9 367.5 715.6 368.2 714.2 368.8 712.9 369.5 711.5 370.2 710.2 370.8 708.8 371.5 707.4 372.2 706.1 372.8 704.7 373.5 703.4 374.1 702.0 374.8 700.7 375.5 699.3 376.1 698.0 376.8 696.6 377.5 695.3 378.1 694.0 378.8 692.6 379.5 691.3 380.2 690.0 381.0 688.7 381.8 687.4 382.6 686.1 383.4 684.9 384.2 683.6 385.0 682.3 385.8 681.1 386.6 679.8 387.5 678.5 388.3 677.3 389.1 676.0 389.9 674.7 390.7 673.5 391.5 672.2 392.3 671.0 393.2 669.7 394.0 668.4 394.8 667.2 395.6 665.9 396.4 664.6 397.2 663.4 398.0 662.1 398.9 660.8 399.7 659.6 400.5 658.3 401.3 657.0 402.1 655.8 402.9 654.5 403.8 653.3 404.6 652.0 405.4 650.8 406.3 649.5 407.1 648.3 408.0 647.1 408.9 645.8 409.7 644.6 410.6 643.4 411.4 642.1 412.3 640.9 413.1 639.6 414.0 638.4 414.8 637.2 415.7 635.9 416.5 634.7 417.4 633.5 418.3 632.2 419.1 631.0 420.0 629.7 420.8 628.5 421.7 627.3 422.5 626.0 423.4 624.8 424.2 623.6 425.1 622.3 426.0 621.1 426.8 619.9 427.7 618.6 428.6 617.4 429.4 616.2 430.3 615.0 431.2 613.8 432.1 612.6 433.0 611.4 433.9 610.1 434.8 608.9 435.7 607.7 436.6 606.5 437.5 605.3 438.4 604.1 439.3 602.9 440.2 601.7 441.1 600.5 442.0 599.3 442.9 598.1 443.7 596.8 444.6 595.6 445.5 594.4 446.4 593.2 447.3 592.0 448.2 590.8 449.1 589.6 450.0 588.4 451.0 587.2 451.9 586.1 452.9 584.9 453.9 583.8 454.9 582.7 456.0 581.6 457.0 580.5 458.0 579.5 459.1 578.4 460.1 577.3 461.2 576.2 462.2 575.1 463.2 574.0 464.3 572.9 465.3 571.9 466.4 570.8 467.4 569.7 468.4 568.6 469.5 567.5 470.5 566.4 471.6 565.3 472.6 564.3 473.6 563.2 474.7 562.1 475.8 561.1 476.9 560.0 478.0 559.0 479.1 558.0 480.2 557.0 481.3 556.0 482.5 555.0 483.6 554.0 484.7 553.1 485.9 552.2 487.1 551.4 488.4 550.7 489.8 550.1 491.2 549.7 492.6 549.3 494.1 548.9 495.6 548.6 497.0 548.3 498.5 548.0 500.0 547.8 501.5 547.7 502.9 547.6 504.4 547.6 505.9 547.7 507.4 548.0 508.8 548.3 510.3 548.6 511.7 549.1 513.1 549.6 514.4 550.2 515.7 550.9 517.0 551.7 518.3 552.5 519.5 553.4 520.8 554.2 522.0 555.0 523.3 555.9 524.5 556.7 525.8 557.6 527.0 558.4 528.1 559.4 529.2 560.4 530.3 561.4 531.3 562.5 532.3 563.7 533.2 564.8 534.1 566.0 535.1 567.2 536.0 568.4 536.9 569.6 537.9 570.7 538.8 571.9 539.7 573.1 540.6 574.3 541.6 575.5 542.5 576.6 543.4 577.8 544.4 579.0 545.3 580.2 546.2 581.4 547.2 582.6 548.1 583.7 549.0 584.9 549.9 586.1 550.8 587.3 551.8 588.5 552.7 589.7 553.6 590.9 554.5 592.1 555.4 593.3 556.3 594.5 557.3 595.6 558.2 596.8 559.1 598.0 560.0 599.2 560.9 600.4 561.8 601.6 562.8 602.8 563.7 604.0 564.6 605.2 565.5 606.4 566.4 607.6 567.4 608.7 568.3 609.9 569.2 611.1 570.1 612.3 571.0 613.6 571.8 614.8 572.7 616.0 573.5 617.3 574.4 618.5 575.2 619.8 576.0 621.0 576.9 622.3 577.7 623.5 578.5 624.8 579.4 626.0 580.2 627.3 581.0 628.5 581.9 629.8 582.7 631.0 583.5 632.3 584.4 633.5 585.2 634.8 586.0 636.0 586.9 637.3 587.7 638.5 588.5 639.8 589.4 641.0 590.2 642.3 591.0 643.5 591.9 644.8 592.7 646.0 593.5 647.3 594.4 648.6 595.2 649.8 596.0 651.1 596.8 652.3 597.6 653.6 598.4 654.9 599.2 656.2 600.0 657.4 600.8 658.7 601.6 660.0 602.4 661.2 603.2 662.5 604.1 663.8 604.9 665.0 605.7 666.3 606.5 667.6 607.3 668.8 608.1 670.1 608.9 671.4 609.7 672.7 610.5 673.9 611.3 675.2 612.1 676.5 612.9 677.7 613.7 679.0 614.5 680.3 615.3 681.5 616.1 682.8 616.9 684.1 617.7 685.4 618.5 686.6 619.3 687.9 620.1 689.2 620.8 690.5 621.6 691.8 622.3 693.1 623.0 694.5 623.7 695.8 624.5 697.1 625.2 698.4 625.9 699.7 626.6 701.1 627.3 702.4 628.1 703.7 628.8 705.0 629.5 706.3 630.2 707.7 630.9 709.0 631.7 710.3 632.4 711.6 633.1 712.9 633.8 714.3 634.5 715.6 635.3 716.9 636.0 718.2 636.7 719.5 637.4 720.9 638.1 722.2 638.9 723.5 639.6 724.8 640.3 726.1 641.0 727.5 641.8 728.8 642.5 730.1 643.3 731.4 644.0 732.7 644.8 733.9 645.6 735.2 646.4 736.5 647.2 737.8 648.0 739.1 648.8 740.3 649.6 741.6 650.4 742.9 651.2 744.2 652.0 745.4 652.8 746.7 653.6 748.0 654.4 749.3 655.2 750.5 656.0 751.8 656.7 753.1 657.5 754.4 658.3 755.6 659.1 756.9 659.9 758.2 660.7 759.5 661.5 760.7 662.3 762.0 663.1 763.3 663.9 764.6 664.7 765.8 665.5 767.1 666.3 768.4 667.1 769.6 668.0 770.9 668.8 772.1 669.7 773.3 670.7 774.5 671.7 775.6 672.7 776.7 673.7 777.8 674.7 778.9 675.7 780.1 676.7 781.2 677.7 782.3 678.7 783.4 679.7 784.5 680.8 785.6 681.8 786.7 682.8 787.8 683.8 789.0 684.8 790.1 685.8 791.2 686.8 792.3 687.8 793.4 688.8 794.5 689.9 795.6 690.9 796.7 691.9 797.9 692.9 799.0 693.9 800.1 694.9 801.2 695.9 802.4 696.8 803.5 697.8 804.7 698.8 805.8 699.7 807.0 700.7 808.1 701.7 809.3 702.6 810.4 703.6 811.6 704.5 812.7 705.5 813.9 706.5 815.1 707.4 816.2 708.4 817.4 709.4 818.5 710.3 819.7 711.3 820.8 712.2 822.0 713.2 823.1 714.2 824.3 715.1 825.5 716.1 826.6 717.0 827.8 718.0 828.9 719.0 830.1 720.0 831.2 721.0 832.3 722.0 833.4 723.1 834.4 724.2 835.4 725.3 836.4 726.5 837.4 727.6 838.4 728.7 839.4 729.9 840.4 731.0 841.4 732.1 842.4 733.3 843.4 734.4 844.4 735.5 845.3 736.6 846.3 737.8 847.3 738.9 848.3 740.1 849.3 741.3 850.2 742.5 851.0 743.7 851.8 745.0 852.6 746.4 853.3 747.7 853.9 749.0 854.6 750.4 855.3 751.7 856.0 753.1 856.6 754.4 857.3 755.8 858.0 757.1 858.7 758.5 859.3 759.8 860.0 761.2 860.7 762.5 861.3 763.8 862.0 765.2 862.7 766.5 863.4 767.9 864.0 769.2 864.7 770.6 865.3 772.0 865.9 773.3 866.4 774.8 866.9 776.2 867.2 777.7 867.5 779.2 867.8 780.6 868.1 782.1 868.3 783.6 868.6 785.1 868.8 786.6 869.1 788.1 869.3 789.5 869.5 791.0 869.8 792.5 870.0 794.0 870.3 795.5 870.5 797.0 870.8 798.4 871.0 799.9 871.3 801.4 871.5 802.9 871.8 804.4 872.0 805.9 872.2 807.3 872.5 808.8 872.7 810.3 873.0 811.8 873.2 813.3 873.4 814.8 873.6 816.3 873.9 817.7 874.1 819.2 874.3 820.7 874.5 822.2 874.6 823.7 874.8 825.2 875.0 826.7 875.2 828.2 875.4 829.7 875.6 831.2 875.8 832.6 876.0 834.1 876.2 835.6 876.4 837.1 876.6 838.6 876.8 840.1 877.0 841.6 877.2 843.1 877.4 844.6 877.6 846.1 877.8 847.6 878.0 849.0 878.2 850.5 878.4 852.0 878.5 853.5 878.7 855.0 878.8 856.5 878.9 858.0 879.0 859.5 879.1 861.0 879.2 862.5 879.3 864.0 879.4 865.5 879.5 867.0 879.6 868.5 879.7 870.0 879.8 871.5 879.9 873.0 880.0 874.5 880.1 876.0 880.2 877.5 880.3 879.0 880.4 880.5 880.5 882.0 880.6 883.5 880.7 885.0 880.8 886.5 880.9 888.0 881.0 889.5 881.0 891.0 881.1 892.5 881.1 894.0 881.1 895.5 881.1 897.0 881.1 898.5 881.0 900.1 881.0 901.6 881.0 903.1 880.9 904.6 880.9 906.1 880.9 907.6 880.8 909.1 880.8 910.6 880.8 912.1 880.7 913.6 880.7 915.1 880.7 916.6 880.6 918.1 880.6 919.6 880.6 921.1 880.5 922.6 880.5" stroke-linecap="square"/>
<path d="M63.0 879.4L64.5 879.4 66.0 879.4 67.5 879.4 69.0 879.4 70.5 879.4 72.0 879.4 73.5 879.4 75.0 879.4 76.5 879.4 78.0 879.4 79.5 879.4 81.0 879.4 82.5 879.4 84.0 879.4 85.5 879.4 87.0 879.4 88.5 879.4 90.0 879.4 91.5 879.4 93.0 879.4 94.5 879.4 96.0 879.4 97.5 879.4 99.1 879.4 100.6 879.4 102.1 879.4 103.6 879.4 105.1 879.4 106.6 879.4 108.1 879.4 109.6 879.4 111.1 879.4 112.6 879.3 114.1 879.3 115.6 879.3 117.1 879.2 118.6 879.2 120.1 879.2 121.6 879.1 123.1 879.1 124.6 879.0 126.1 879.0 127.6 878.9 129.1 878.9 130.6 878.9 132.1 878.8 133.6 878.8 135.1 878.7 136.6 878.7 138.1 878.7 139.6 878.6 141.1 878.6 142.6 878.5 144.1 878.5 145.6 878.4 147.1 878.4 148.6 878.3 150.1 878.3 151.6 878.2 153.1 878.1 154.6 878.0 156.1 877.8 157.6 877.7 159.1 877.6 160.6 877.4 162.1 877.3 163.6 877.2 165.1 877.1 166.6 876.9 168.1 876.8 169.6 876.7 171.1 876.5 172.6 876.4 174.1 876.3 175.6 876.1 177.0 876.0 178.5 875.9 180.0 875.8 181.5 875.6 183.0 875.5 184.5 875.4 186.0 875.2 187.5 875.1 189.0 874.9 190.5 874.7 192.0 874.4 193.4 874.1 194.9 873.8 196.4 873.5 197.9 873.2 199.3 872.9 200.8 872.6 202.3 872.3 203.7 872.0 205.2 871.7 206.7 871.4 208.1 871.1 209.6 870.8 211.1 870.4 212.6 870.1 214.0 869.8 215.5 869.4 216.9 869.0 218.4 868.6 219.8 868.2 221.2 867.7 222.6 867.2 224.1 866.7 225.5 866.3 226.9 865.8 228.3 865.3 229.8 864.8 231.2 864.4 232.6 863.9 234.0 863.4 235.5 862.9 236.9 862.5 238.3 862.0 239.7 861.5 241.1 860.9 242.5 860.3 243.8 859.7 245.2 859.0 246.5 858.2 247.8 857.5 249.1 856.8 250.4 856.0 251.7 855.3 253.0 854.5 254.3 853.8 255.6 853.0 256.9 852.3 258.2 851.5 259.5 850.8 260.8 850.0 262.1 849.3 263.4 848.5 264.7 847.8 266.0 847.0 267.2 846.2 268.4 845.3 269.6 844.4 270.7 843.4 271.8 842.4 272.9 841.4 274.0 840.3 275.1 839.3 276.2 838.2 277.3 837.2 278.4 836.2 279.4 835.1 280.5 834.1 281.6 833.0 282.7 832.0 283.8 831.0 284.9 829.9 285.9 828.9 287.0 827.8 288.1 826.8 289.2 825.8 290.3 824.7 291.3 823.7 292.4 822.6 293.5 821.5 294.5 820.5 295.6 819.4 296.7 818.3 297.7 817.3 298.8 816.2 299.8 815.2 300.9 814.1 302.0 813.0 303.0 812.0 304.1 810.9 305.1 809.9 306.2 808.8 307.3 807.7 308.3 806.7 309.4 805.6 310.5 804.6 311.6 803.6 312.7 802.6 313.8 801.6 315.0 800.5 316.1 799.5 317.2 798.5 318.3 797.5 319.4 796.5 320.5 795.5 321.6 794.5 322.8 793.5 323.9 792.5 325.0 791.5 326.1 790.5 327.2 789.5 328.3 788.4 329.3 787.4 330.3 786.3 331.3 785.1 332.2 783.9 333.1 782.7 334.0 781.5 334.9 780.3 335.8 779.1 336.7 777.9 337.6 776.7 338.5 775.5 339.4 774.3 340.3 773.1 341.2 771.9 342.1 770.7 343.0 769.5 343.9 768.3 344.8 767.1 345.7 765.9 346.6 764.6 347.4 763.4 348.3 762.2 349.1 761.0 349.9 759.7 350.7 758.4 351.3 757.1 352.0 755.7 352.7 754.4 353.3 753.0 354.0 751.6 354.6 750.3 355.2 748.9 355.9 747.6 356.5 746.2 357.2 744.9 357.8 743.5 358.5 742.1 359.1 740.8 359.7 739.4 360.4 738.1 361.0 736.7 361.7 735.4 362.3 734.0 363.0 732.6 363.6 731.3 364.2 729.9 364.9 728.6 365.5 727.2 366.2 725.9 366.8 724.5 367.5 723.1 368.1 721.8 368.8 720.4 369.5 719.1 370.1 717.8 370.8 716.4 371.5 715.1 372.1 713.7 372.8 712.4 373.5 711.0 374.2 709.7 374.8 708.3 375.5 707.0 376.2 705.7 376.8 704.3 377.5 703.0 378.2 701.6 378.9 700.3 379.5 698.9 380.2 697.6 380.9 696.3 381.5 694.9 382.2 693.6 382.9 692.2 383.6 690.9 384.2 689.5 384.9 688.2 385.6 686.9 386.3 685.6 387.0 684.2 387.8 682.9 388.5 681.6 389.2 680.3 389.9 678.9 390.6 677.6 391.3 676.3 392.1 675.0 392.8 673.7 393.5 672.3 394.2 671.0 394.9 669.7 395.6 668.4 396.4 667.1 397.1 665.7 397.8 664.4 398.5 663.1 399.2 661.8 399.9 660.5 400.7 659.1 401.4 657.8 402.1 656.5 402.8 655.2 403.5 653.9 404.3 652.6 405.0 651.2 405.7 649.9 406.4 648.6 407.2 647.3 407.9 646.0 408.6 644.7 409.3 643.3 410.1 642.0 410.8 640.7 411.5 639.4 412.2 638.1 413.0 636.8 413.7 635.5 414.4 634.1 415.2 632.8 415.9 631.5 416.6 630.2 417.3 628.9 418.1 627.6 418.8 626.3 419.5 624.9 420.2 623.6 421.0 622.3 421.7 621.0 422.4 619.7 423.2 618.4 423.9 617.1 424.7 615.8 425.4 614.5 426.2 613.2 426.9 611.9 427.7 610.6 428.4 609.3 429.2 608.0 429.9 606.7 430.7 605.4 431.4 604.1 432.2 602.8 432.9 601.5 433.7 600.2 434.4 598.9 435.2 597.6 435.9 596.3 436.7 595.0 437.4 593.7 438.2 592.4 438.9 591.1 439.7 589.8 440.5 588.5 441.3 587.2 442.1 586.0 443.0 584.7 443.8 583.5 444.6 582.2 445.4 580.9 446.2 579.7 447.1 578.4 447.9 577.2 448.7 575.9 449.5 574.7 450.3 573.4 451.2 572.1 452.0 570.9 452.8 569.6 453.6 568.4 454.5 567.1 455.3 565.9 456.2 564.7 457.1 563.5 458.1 562.4 459.2 561.4 460.3 560.4 461.5 559.5 462.7 558.6 463.9 557.7 465.1 556.8 466.3 555.9 467.5 555.0 468.7 554.2 469.9 553.3 471.1 552.4 472.4 551.5 473.6 550.7 474.9 550.0 476.2 549.4 477.6 548.8 479.0 548.4 480.5 548.0 481.9 547.7 483.4 547.3 484.9 547.0 486.3 546.7 487.8 546.3 489.2 546.0 490.7 545.7 492.2 545.4 493.6 545.0 495.1 544.7 496.6 544.4 498.1 544.2 499.5 544.1 501.0 544.0 502.5 544.1 504.0 544.2 505.5 544.3 507.0 544.5 508.5 544.6 510.0 544.8 511.5 544.9 512.9 545.1 514.4 545.3 515.9 545.6 517.3 546.0 518.7 546.5 520.0 547.1 521.4 547.7 522.7 548.4 524.0 549.2 525.3 549.9 526.6 550.6 528.0 551.3 529.3 552.1 530.6 552.8 531.9 553.5 533.2 554.2 534.5 555.0 535.8 555.7 537.2 556.4 538.4 557.2 539.7 558.0 540.9 558.8 542.1 559.7 543.3 560.7 544.4 561.6 545.5 562.7 546.6 563.7 547.7 564.7 548.8 565.7 549.9 566.7 551.0 567.8 552.1 568.8 553.2 569.8 554.3 570.8 555.4 571.9 556.5 572.9 557.5 574.0 558.5 575.1 559.3 576.3 560.1 577.6 560.9 578.9 561.6 580.2 562.2 581.5 562.9 582.9 563.6 584.2 564.3 585.6 564.9 586.9 565.6 588.2 566.3 589.6 566.9 590.9 567.6 592.3 568.3 593.6 568.9 595.0 569.6 596.3 570.3 597.6 571.0 599.0 571.8 600.3 572.5 601.6 573.3 602.9 574.0 604.2 574.8 605.5 575.6 606.7 576.4 608.0 577.1 609.3 577.9 610.6 578.7 611.9 579.5 613.2 580.2 614.5 581.0 615.7 581.8 617.0 582.6 618.3 583.3 619.6 584.1 620.9 584.9 622.2 585.7 623.5 586.4 624.8 587.2 626.0 588.0 627.3 588.8 628.6 589.6 629.9 590.4 631.1 591.2 632.4 592.0 633.7 592.8 634.9 593.7 636.2 594.5 637.4 595.3 638.7 596.1 639.9 596.9 641.2 597.8 642.5 598.6 643.7 599.4 645.0 600.2 646.2 601.1 647.5 601.9 648.8 602.7 650.0 603.5 651.3 604.3 652.5 605.2 653.8 606.0 655.0 606.8 656.3 607.6 657.6 608.4 658.8 609.2 660.1 610.0 661.4 610.9 662.6 611.7 663.9 612.5 665.2 613.3 666.4 614.1 667.7 614.9 668.9 615.7 670.2 616.5 671.5 617.3 672.7 618.1 674.0 618.9 675.3 619.7 676.6 620.4 677.9 621.1 679.2 621.8 680.6 622.4 681.9 623.1 683.3 623.8 684.6 624.4 686.0 625.1 687.3 625.7 688.7 626.4 690.0 627.0 691.4 627.7 692.7 628.4 694.1 629.0 695.4 629.7 696.8 630.3 698.1 631.0 699.5 631.6 700.8 632.3 702.2 633.0 703.5 633.6 704.9 634.3 706.2 634.9 707.6 635.6 708.9 636.2 710.3 636.9 711.6 637.6 713.0 638.2 714.3 638.9 715.7 639.6 717.0 640.3 718.3 641.0 719.7 641.7 721.0 642.4 722.3 643.2 723.6 643.9 724.9 644.7 726.2 645.4 727.5 646.1 728.8 646.9 730.1 647.6 731.4 648.4 732.7 649.1 734.0 649.9 735.3 650.6 736.7 651.3 738.0 652.1 739.3 652.8 740.6 653.6 741.9 654.3 743.2 655.1 744.5 655.8 745.8 656.5 747.1 657.3 748.4 658.0 749.7 658.8 751.0 659.5 752.3 660.2 753.6 661.0 754.9 661.7 756.2 662.5 757.5 663.2 758.8 664.0 760.1 664.8 761.4 665.6 762.7 666.4 763.9 667.3 765.2 668.1 766.4 669.0 767.6 669.9 768.8 670.8 770.1 671.6 771.3 672.5 772.5 673.4 773.7 674.3 775.0 675.1 776.2 676.0 777.4 676.9 778.6 677.7 779.8 678.6 781.1 679.5 782.3 680.4 783.5 681.2 784.7 682.1 786.0 683.0 787.2 683.9 788.4 684.7 789.6 685.6 790.8 686.5 792.1 687.3 793.3 688.2 794.5 689.1 795.7 690.0 797.0 690.8 798.2 691.7 799.4 692.6 800.6 693.5 801.8 694.3 803.1 695.2 804.3 696.1 805.5 697.0 806.7 697.8 807.9 698.7 809.2 699.6 810.4 700.5 811.6 701.3 812.8 702.2 814.1 703.1 815.3 704.0 816.5 704.8 817.7 705.7 818.9 706.6 820.2 707.5 821.4 708.3 822.6 709.2 823.8 710.1 825.0 711.0 826.3 711.8 827.5 712.7 828.7 713.6 829.9 714.5 831.1 715.3 832.4 716.2 833.6 717.1 834.8 718.0 836.0 718.9 837.2 719.8 838.4 720.7 839.6 721.7 840.7 722.8 841.7 723.9 842.7 725.0 843.7 726.2 844.6 727.4 845.6 728.5 846.5 729.7 847.4 730.9 848.4 732.1 849.3 733.2 850.3 734.4 851.2 735.6 852.1 736.8 853.1 737.9 854.0 739.1 855.0 740.3 855.9 741.4 856.8 742.6 857.8 743.8 858.7 745.0 859.6 746.2 860.4 747.5 861.2 748.8 861.8 750.2 862.4 751.6 862.9 753.0 863.4 754.4 863.8 755.9 864.3 757.3 864.7 758.7 865.2 760.2 865.6 761.6 866.1 763.0 866.6 764.5 867.0 765.9 867.5 767.3 867.9 768.8 868.4 770.2 868.8 771.6 869.2 773.1 869.6 774.6 869.9 776.0 870.2 777.5 870.4 779.0 870.6 780.5 870.9 782.0 871.1 783.5 871.3 784.9 871.5 786.4 871.7 787.9 871.9 789.4 872.1 790.9 872.3 792.4 872.5 793.9 872.7 795.4 873.0 796.8 873.2 798.3 873.4 799.8 873.6 801.3 873.8 802.8 874.0 804.3 874.2 805.8 874.4 807.3 874.6 808.7 874.8 810.2 875.0 811.7 875.2 813.2 875.4 814.7 875.6 816.2 875.8 817.7 875.9 819.2 876.1 820.7 876.2 822.2 876.4 823.7 876.6 825.2 876.7 826.6 876.9 828.1 877.0 829.6 877.2 831.1 877.4 832.6 877.5 834.1 877.7 835.6 877.8 837.1 878.0 838.6 878.2 840.1 878.3 841.6 878.5 843.1 878.6 844.6 878.8 846.1 879.0 847.6 879.1 849.1 879.3 850.5 879.4 852.0 879.5 853.5 879.6 855.0 879.7 856.5 879.8 858.0 879.8 859.5 879.9 861.0 880.0 862.5 880.0 864.0 880.1 865.5 880.2 867.0 880.2 868.5 880.3 870.0 880.3 871.6 880.4 873.1 880.5 874.6 880.5 876.1 880.6 877.6 880.6 879.1 880.7 880.6 880.8 882.1 880.8 883.6 880.9 885.1 880.9 886.6 881.0 888.1 881.1 889.6 881.1 891.1 881.1 892.6 881.1 894.1 881.1 895.6 881.1 897.1 881.1 898.6 881.0 900.1 881.0 901.6 881.0 903.1 880.9 904.6 880.9 906.1 880.9 907.6 880.8 909.1 880.8 910.6 880.8 912.1 880.7 913.6 880.7 915.1 880.7 916.6 880.6" stroke-dasharray="11.10 4.80"/>
<path d="M141.1 878.6L142.6 878.5 144.1 878.5 145.6 878.4 147.1 878.4 148.6 878.3 150.1 878.2 151.6 878.2 153.1 878.0 154.6 877.9 156.1 877.8 157.6 877.6 159.1 877.5 160.6 877.3 162.1 877.2 163.6 877.0 165.1 876.9 166.6 876.7 168.1 876.6 169.6 876.4 171.0 876.3 172.5 876.1 174.0 876.0 175.5 875.8 177.0 875.7 178.5 875.5 180.0 875.4 181.5 875.2 183.0 875.1 184.5 874.9 186.0 874.8 187.5 874.6 189.0 874.4 190.5 874.2 191.9 873.9 193.4 873.6 194.9 873.3 196.3 872.9 197.8 872.6 199.3 872.3 200.7 871.9 202.2 871.6 203.6 871.3 205.1 870.9 206.6 870.6 208.0 870.2 209.5 869.9 211.0 869.6 212.4 869.2 213.9 868.9 215.3 868.5 216.8 868.1 218.2 867.7 219.7 867.2 221.1 866.7 222.5 866.3 223.9 865.8 225.4 865.3 226.8 864.8 228.2 864.4 229.6 863.9 231.1 863.4 232.5 862.9 233.9 862.5 235.3 862.0 236.8 861.5 238.2 861.0 239.6 860.5 241.0 860.0 242.4 859.4 243.7 858.7 245.0 858.0 246.3 857.3 247.7 856.6 249.0 855.8 250.3 855.1 251.6 854.3 252.9 853.6 254.2 852.8 255.5 852.1 256.8 851.4 258.1 850.6 259.4 849.9 260.7 849.1 262.0 848.4 263.3 847.6 264.6 846.9 265.9 846.1 267.1 845.3 268.3 844.4 269.5 843.5 270.6 842.5 271.7 841.5 272.8 840.4 273.9 839.4 275.0 838.4 276.1 837.3 277.2 836.3 278.3 835.3 279.3 834.2 280.4 833.2 281.5 832.1 282.6 831.1 283.7 830.1 284.8 829.0 285.8 828.0 286.9 826.9 288.0 825.9 289.1 824.8 290.2 823.8 291.2 822.7 292.3 821.7 293.4 820.6 294.4 819.6 295.5 818.5 296.6 817.4 297.6 816.4 298.7 815.3 299.7 814.3 300.8 813.2 301.9 812.1 302.9 811.1 304.0 810.0 305.1 808.9 306.1 807.9 307.2 806.8 308.3 805.8 309.3 804.7 310.4 803.7 311.5 802.7 312.6 801.6 313.7 800.6 314.9 799.6 316.0 798.6 317.1 797.6 318.2 796.6 319.3 795.6 320.4 794.6 321.6 793.6 322.7 792.6 323.8 791.6 324.9 790.6 326.0 789.6 327.1 788.6 328.2 787.5 329.2 786.4 330.2 785.3 331.2 784.2 332.1 783.0 333.0 781.8 333.9 780.6 334.7 779.4 335.6 778.1 336.5 776.9 337.4 775.7 338.2 774.5 339.1 773.2 340.0 772.0 340.9 770.8 341.7 769.6 342.6 768.4 343.5 767.1 344.4 765.9 345.2 764.7 346.1 763.5 347.0 762.2 347.8 761.0 348.7 759.8 349.5 758.5 350.2 757.2 350.9 755.9 351.6 754.5 352.3 753.2 352.9 751.8 353.5 750.5 354.2 749.1 354.8 747.8 355.5 746.4 356.1 745.1 356.8 743.7 357.4 742.3 358.0 741.0 358.7 739.6 359.3 738.3 360.0 736.9 360.6 735.5 361.2 734.2 361.9 732.8 362.5 731.5 363.2 730.1 363.8 728.8 364.5 727.4 365.1 726.0 365.7 724.7 366.4 723.3 367.0 722.0 367.6 720.6 368.2 719.2 368.9 717.8 369.5 716.5 370.1 715.1 370.7 713.7 371.3 712.4 371.9 711.0 372.5 709.6 373.2 708.2 373.8 706.9 374.4 705.5 375.0 704.1 375.6 702.8 376.2 701.4 376.8 700.0 377.4 698.6 378.1 697.3 378.7 695.9 379.3 694.5 379.9 693.2 380.5 691.8 381.1 690.4 381.7 689.1 382.4 687.7 383.0 686.3 383.7 685.0 384.4 683.7 385.2 682.4 386.0 681.1 386.8 679.9 387.6 678.6 388.4 677.4 389.3 676.1 390.1 674.9 390.9 673.6 391.8 672.4 392.6 671.1 393.4 669.9 394.3 668.6 395.1 667.4 395.9 666.1 396.8 664.9 397.6 663.6 398.4 662.4 399.3 661.1 400.1 659.9 400.9 658.6 401.8 657.4 402.6 656.1 403.4 654.9 404.3 653.6 405.1 652.4 406.0 651.1 406.8 649.9 407.7 648.7 408.5 647.4 409.4 646.2 410.2 644.9 411.1 643.7 411.9 642.5 412.8 641.2 413.6 640.0 414.5 638.8 415.3 637.5 416.2 636.3 417.0 635.0 417.9 633.8 418.7 632.6 419.6 631.3 420.4 630.1 421.3 628.9 422.1 627.6 423.0 626.4 423.9 625.1 424.7 623.9 425.6 622.7 426.4 621.4 427.3 620.2 428.2 619.0 429.0 617.8 429.9 616.5 430.8 615.3 431.7 614.1 432.6 612.9 433.5 611.7 434.4 610.5 435.3 609.3 436.2 608.1 437.1 606.9 438.0 605.7 438.8 604.5 439.7 603.3 440.6 602.1 441.5 600.8 442.4 599.6 443.3 598.4 444.2 597.2 445.1 596.0 446.0 594.8 446.9 593.6 447.8 592.4 448.7 591.2 449.6 590.0 450.5 588.8 451.4 587.6 452.3 586.4 453.2 585.2 454.1 584.0 455.0 582.8 456.0 581.6 456.9 580.4 457.8 579.3 458.7 578.1 459.6 576.9 460.6 575.7 461.5 574.5 462.5 573.4 463.4 572.2 464.4 571.1 465.4 570.0 466.4 568.9 467.5 567.8 468.5 566.7 469.5 565.6 470.6 564.5 471.6 563.4 472.7 562.4 473.8 561.3 474.9 560.3 476.0 559.4 477.2 558.5 478.4 557.7 479.7 556.8 481.0 556.1 482.3 555.3 483.6 554.5 484.8 553.7 486.1 553.0 487.4 552.2 488.7 551.4 490.0 550.6 491.3 549.9 492.6 549.1 493.8 548.3 495.1 547.6 496.4 546.9 497.8 546.3 499.1 545.9 500.5 545.7 501.9 545.8 503.3 546.0 504.7 546.3 506.2 546.7 507.6 547.0 509.1 547.4 510.6 547.8 512.0 548.2 513.5 548.6 514.9 548.9 516.4 549.3 517.8 549.7 519.3 550.1 520.7 550.5 522.2 550.8 523.6 551.2 525.1 551.6 526.5 552.1 527.8 552.6 529.1 553.3 530.3 554.1 531.5 555.0 532.6 556.0 533.7 557.1 534.7 558.1 535.8 559.2 536.8 560.2 537.9 561.3 539.0 562.4 540.0 563.4 541.1 564.5 542.2 565.6 543.2 566.6 544.3 567.7 545.3 568.8 546.3 569.9 547.3 571.0 548.3 572.1 549.2 573.3 550.1 574.5 551.0 575.7 551.9 576.9 552.8 578.1 553.8 579.3 554.7 580.5 555.6 581.7 556.5 582.9 557.4 584.1 558.3 585.3 559.2 586.5 560.1 587.7 561.0 588.9 561.9 590.1 562.8 591.3 563.7 592.5 564.6 593.7 565.5 594.9 566.4 596.1 567.2 597.4 568.1 598.6 569.0 599.8 569.9 601.0 570.7 602.2 571.6 603.5 572.5 604.7 573.3 605.9 574.2 607.1 575.1 608.4 576.0 609.6 576.8 610.8 577.7 612.0 578.6 613.3 579.4 614.5 580.3 615.7 581.2 616.9 582.0 618.2 582.9 619.4 583.7 620.7 584.5 621.9 585.3 623.2 586.0 624.5 586.8 625.8 587.6 627.1 588.4 628.4 589.1 629.7 589.9 631.0 590.7 632.2 591.4 633.5 592.2 634.8 593.0 636.1 593.8 637.4 594.5 638.7 595.3 640.0 596.1 641.3 596.8 642.6 597.6 643.8 598.4 645.1 599.2 646.4 599.9 647.7 600.7 649.0 601.5 650.3 602.3 651.6 603.0 652.9 603.8 654.1 604.6 655.4 605.4 656.7 606.2 658.0 606.9 659.3 607.7 660.6 608.5 661.8 609.3 663.1 610.1 664.4 610.8 665.7 611.6 667.0 612.4 668.3 613.2 669.5 614.0 670.8 614.7 672.1 615.5 673.4 616.3 674.7 617.1 676.0 617.9 677.3 618.6 678.5 619.4 679.8 620.2 681.1 621.0 682.4 621.8 683.7 622.5 685.0 623.3 686.2 624.1 687.5 624.8 688.8 625.6 690.2 626.3 691.5 627.0 692.8 627.7 694.1 628.4 695.5 629.1 696.8 629.8 698.1 630.5 699.5 631.2 700.8 631.9 702.1 632.6 703.4 633.2 704.8 633.9 706.1 634.6 707.4 635.3 708.8 636.0 710.1 636.7 711.4 637.4 712.8 638.1 714.1 638.8 715.4 639.5 716.8 640.2 718.1 640.9 719.4 641.6 720.8 642.3 722.1 643.0 723.4 643.7 724.7 644.4 726.1 645.1 727.4 645.8 728.7 646.5 730.1 647.2 731.4 647.9 732.7 648.6 734.0 649.4 735.3 650.1 736.6 650.9 737.9 651.6 739.2 652.4 740.5 653.2 741.8 653.9 743.1 654.7 744.4 655.4 745.7 656.2 747.0 657.0 748.3 657.7 749.6 658.5 750.9 659.2 752.2 660.0 753.5 660.8 754.8 661.5 756.1 662.3 757.4 663.0 758.7 663.8 760.0 664.5 761.3 665.3 762.6 666.1 763.9 666.8 765.2 667.6 766.4 668.3 767.7 669.1 769.0 669.9 770.3 670.7 771.6 671.5 772.9 672.3 774.1 673.2 775.3 674.2 776.5 675.1 777.6 676.1 778.8 677.1 779.9 678.1 781.0 679.0 782.2 680.0 783.3 681.0 784.4 682.0 785.6 683.0 786.7 683.9 787.9 684.9 789.0 685.9 790.1 686.9 791.3 687.9 792.4 688.8 793.5 689.8 794.7 690.8 795.8 691.8 797.0 692.8 798.1 693.8 799.2 694.7 800.4 695.7 801.5 696.7 802.7 697.6 803.8 698.5 805.0 699.5 806.2 700.4 807.4 701.3 808.6 702.3 809.7 703.2 810.9 704.1 812.1 705.0 813.3 706.0 814.5 706.9 815.7 707.8 816.8 708.7 818.0 709.7 819.2 710.6 820.4 711.5 821.6 712.4 822.8 713.4 823.9 714.3 825.1 715.2 826.3 716.1 827.5 717.1 828.7 718.0 829.9 718.9 831.0 719.9 832.2 720.8 833.3 721.8 834.4 722.9 835.5 724.0 836.5 725.2 837.4 726.3 838.4 727.5 839.3 728.7 840.2 729.9 841.2 731.1 842.1 732.2 843.0 733.4 843.9 734.6 844.9 735.8 845.8 737.0 846.7 738.2 847.6 739.3 848.6 740.5 849.5 741.7 850.4 742.9 851.3 744.1 852.2 745.4 853.0 746.7 853.8 748.0 854.5 749.3 855.2 750.6 855.9 752.0 856.6 753.3 857.3 754.6 858.0 755.9 858.7 757.3 859.4 758.6 860.1 759.9 860.8 761.3 861.5 762.6 862.2 763.9 862.9 765.3 863.6 766.6 864.3 767.9 864.9 769.3 865.6 770.6 866.3 772.0 866.9 773.4 867.4 774.8 867.9 776.2 868.2 777.7 868.5 779.2 868.8 780.6 869.1 782.1 869.3 783.6 869.6 785.1 869.8 786.6 870.1 788.1 870.3 789.5 870.5 791.0 870.8 792.5 871.0 794.0 871.3 795.5 871.5 796.9 871.8 798.4 872.0 799.9 872.3 801.4 872.5 802.9 872.8 804.4 873.0 805.8 873.2 807.3 873.5 808.8 873.7 810.3 874.0 811.8 874.2 813.3 874.4 814.7 874.6 816.2 874.8 817.7 874.9 819.2 875.1 820.7 875.2 822.2 875.4 823.7 875.6 825.2 875.7 826.7 875.9 828.2 876.0 829.7 876.2 831.2 876.4 832.7 876.5 834.2 876.7 835.7 876.8 837.1 877.0 838.6 877.2 840.1 877.3 841.6 877.5 843.1 877.6 844.6 877.8 846.1 878.0 847.6 878.1 849.1 878.3 850.6 878.4 852.1 878.6 853.6 878.7 855.1 878.8 856.6 878.9 858.1 879.0 859.6 879.1 861.1 879.2 862.6 879.3 864.1 879.4 865.6 879.5 867.1 879.6 868.6 879.7 870.1 879.8 871.6 879.9 873.1 880.0 874.6 880.1 876.1 880.2 877.6 880.3 879.1 880.4 880.6 880.5 882.1 880.6 883.6 880.7 885.1 880.8 886.6 880.9 888.1 881.0 889.6 881.0 891.1 881.1 892.6 881.1 894.1 881.1 895.6 881.1 897.1 881.1 898.6 881.0 900.1 881.0 901.6 881.0 903.1 880.9 904.6 880.9 906.1 880.9 907.6 880.8 909.1 880.8 910.6 880.8 912.1 880.7 913.6 880.7 915.1 880.7 916.6 880.6" stroke-dasharray="19.20 4.80 3.00 4.80"/>
<path d="M141.1 878.2L142.6 878.1 144.1 878.1 145.6 878.0 147.1 877.9 148.6 877.9 150.1 877.8 151.6 877.7 153.1 877.6 154.6 877.5 156.1 877.3 157.6 877.2 159.1 877.1 160.6 876.9 162.1 876.8 163.6 876.7 165.1 876.6 166.6 876.4 168.1 876.3 169.5 876.2 171.0 876.0 172.5 875.9 174.0 875.8 175.5 875.6 177.0 875.5 178.5 875.4 180.0 875.3 181.5 875.1 183.0 875.0 184.5 874.9 186.0 874.7 187.5 874.6 189.0 874.4 190.5 874.1 191.9 873.9 193.4 873.6 194.9 873.3 196.3 872.9 197.8 872.6 199.3 872.3 200.7 871.9 202.2 871.6 203.7 871.2 205.1 870.9 206.6 870.6 208.1 870.2 209.5 869.9 211.0 869.6 212.4 869.2 213.9 868.9 215.4 868.5 216.8 868.1 218.2 867.6 219.7 867.2 221.1 866.7 222.5 866.3 223.9 865.8 225.4 865.3 226.8 864.8 228.2 864.4 229.6 863.9 231.1 863.4 232.5 862.9 233.9 862.5 235.3 862.0 236.8 861.5 238.2 861.0 239.6 860.5 241.0 859.9 242.3 859.3 243.7 858.7 245.0 857.9 246.3 857.2 247.6 856.4 248.9 855.6 250.1 854.9 251.4 854.1 252.7 853.3 254.0 852.5 255.3 851.7 256.5 850.9 257.8 850.2 259.1 849.4 260.4 848.6 261.7 847.8 263.0 847.0 264.2 846.2 265.5 845.4 266.7 844.6 267.9 843.7 269.1 842.8 270.2 841.8 271.3 840.7 272.4 839.7 273.4 838.6 274.5 837.6 275.6 836.5 276.6 835.4 277.7 834.4 278.7 833.3 279.8 832.2 280.9 831.2 281.9 830.1 283.0 829.1 284.0 828.0 285.1 826.9 286.1 825.9 287.2 824.8 288.2 823.7 289.3 822.6 290.3 821.5 291.3 820.4 292.3 819.3 293.3 818.2 294.3 817.1 295.3 816.0 296.4 814.8 297.4 813.7 298.4 812.6 299.4 811.5 300.4 810.4 301.4 809.3 302.4 808.2 303.4 807.1 304.5 806.0 305.5 804.9 306.5 803.8 307.5 802.7 308.6 801.7 309.7 800.6 310.9 799.7 312.0 798.7 313.2 797.8 314.4 796.9 315.6 796.0 316.8 795.1 318.0 794.2 319.2 793.2 320.4 792.3 321.6 791.4 322.8 790.5 324.0 789.6 325.1 788.7 326.3 787.8 327.5 786.8 328.6 785.8 329.7 784.8 330.7 783.7 331.6 782.5 332.5 781.3 333.3 780.1 334.2 778.9 335.0 777.6 335.9 776.4 336.7 775.1 337.5 773.9 338.4 772.6 339.2 771.4 340.1 770.2 340.9 768.9 341.8 767.7 342.6 766.4 343.4 765.2 344.3 763.9 345.1 762.7 346.0 761.5 346.8 760.2 347.6 758.9 348.4 757.7 349.2 756.4 350.0 755.1 350.7 753.8 351.4 752.5 352.2 751.2 352.9 749.8 353.6 748.5 354.3 747.2 355.0 745.9 355.7 744.6 356.5 743.2 357.2 741.9 357.9 740.6 358.6 739.3 359.3 738.0 360.0 736.6 360.8 735.3 361.5 734.0 362.2 732.7 362.9 731.4 363.6 730.0 364.3 728.7 365.1 727.4 365.8 726.1 366.5 724.8 367.2 723.4 367.9 722.1 368.5 720.8 369.2 719.4 369.8 718.0 370.5 716.7 371.1 715.3 371.8 714.0 372.4 712.6 373.0 711.2 373.7 709.9 374.3 708.5 375.0 707.2 375.6 705.8 376.2 704.4 376.9 703.1 377.5 701.7 378.1 700.4 378.8 699.0 379.4 697.6 380.1 696.3 380.7 694.9 381.3 693.6 382.0 692.2 382.7 690.9 383.4 689.6 384.1 688.2 384.8 686.9 385.6 685.6 386.3 684.3 387.1 683.0 387.8 681.7 388.6 680.4 389.3 679.1 390.1 677.8 390.9 676.5 391.6 675.2 392.4 673.9 393.1 672.6 393.9 671.3 394.6 670.0 395.4 668.8 396.2 667.5 396.9 666.2 397.7 664.9 398.4 663.6 399.2 662.3 399.9 661.0 400.7 659.7 401.5 658.4 402.2 657.1 403.0 655.8 403.8 654.5 404.6 653.3 405.4 652.0 406.2 650.7 407.1 649.5 407.9 648.3 408.8 647.0 409.6 645.8 410.5 644.6 411.3 643.3 412.2 642.1 413.0 640.8 413.9 639.6 414.8 638.4 415.6 637.1 416.5 635.9 417.3 634.7 418.2 633.4 419.0 632.2 419.9 630.9 420.7 629.7 421.6 628.5 422.4 627.2 423.3 626.0 424.1 624.8 425.0 623.5 425.8 622.3 426.7 621.0 427.5 619.8 428.4 618.6 429.3 617.4 430.1 616.1 431.0 614.9 431.9 613.7 432.8 612.5 433.6 611.3 434.5 610.0 435.4 608.8 436.3 607.6 437.1 606.4 438.0 605.2 438.9 603.9 439.8 602.7 440.7 601.5 441.5 600.3 442.4 599.1 443.3 597.8 444.2 596.6 445.0 595.4 445.9 594.2 446.8 593.0 447.7 591.7 448.5 590.5 449.4 589.3 450.3 588.1 451.2 586.9 452.2 585.7 453.1 584.6 454.1 583.5 455.1 582.3 456.1 581.2 457.1 580.1 458.2 579.0 459.2 577.9 460.2 576.8 461.2 575.7 462.2 574.6 463.2 573.5 464.2 572.3 465.2 571.2 466.3 570.1 467.3 569.0 468.3 567.9 469.3 566.9 470.4 565.8 471.5 564.8 472.6 563.8 473.8 562.8 474.9 561.8 476.1 560.9 477.2 559.9 478.4 559.0 479.5 558.0 480.7 557.1 481.9 556.2 483.2 555.4 484.4 554.6 485.7 553.8 487.0 553.0 488.3 552.2 489.6 551.5 490.9 550.9 492.2 550.4 493.5 550.2 494.9 550.2 496.2 550.4 497.6 550.9 499.0 551.4 500.4 551.9 501.8 552.5 503.1 553.1 504.5 553.8 505.8 554.5 507.1 555.3 508.3 556.1 509.6 556.9 510.8 557.7 512.1 558.6 513.3 559.4 514.6 560.3 515.8 561.1 517.1 561.9 518.3 562.8 519.5 563.6 520.8 564.5 522.0 565.3 523.2 566.2 524.5 567.1 525.7 567.9 526.9 568.8 528.1 569.7 529.4 570.6 530.6 571.4 531.8 572.3 533.0 573.2 534.2 574.1 535.4 575.0 536.7 575.9 537.9 576.7 539.1 577.6 540.2 578.6 541.4 579.5 542.5 580.5 543.6 581.5 544.7 582.6 545.8 583.6 546.8 584.7 547.9 585.7 549.0 586.8 550.0 587.8 551.1 588.9 552.2 590.0 553.2 591.0 554.3 592.1 555.4 593.1 556.4 594.2 557.5 595.3 558.5 596.4 559.5 597.5 560.5 598.6 561.5 599.7 562.5 600.9 563.5 602.0 564.4 603.2 565.4 604.3 566.3 605.5 567.3 606.6 568.3 607.8 569.2 608.9 570.2 610.1 571.1 611.3 572.1 612.4 573.0 613.6 574.0 614.7 574.9 615.9 575.9 617.1 576.8 618.2 577.8 619.4 578.7 620.6 579.7 621.7 580.6 622.9 581.6 624.1 582.5 625.2 583.5 626.4 584.4 627.5 585.4 628.7 586.3 629.9 587.3 631.0 588.2 632.2 589.2 633.4 590.1 634.5 591.1 635.7 592.0 636.9 593.0 638.0 593.9 639.2 594.9 640.4 595.8 641.5 596.8 642.7 597.7 643.9 598.6 645.0 599.6 646.2 600.5 647.4 601.5 648.5 602.4 649.7 603.4 650.9 604.3 652.0 605.2 653.2 606.2 654.4 607.1 655.6 608.0 656.8 609.0 657.9 609.9 659.1 610.8 660.3 611.7 661.5 612.6 662.7 613.5 663.9 614.4 665.1 615.4 666.3 616.3 667.5 617.2 668.7 618.0 669.9 618.8 671.2 619.6 672.5 620.3 673.8 621.0 675.1 621.6 676.5 622.3 677.8 622.9 679.2 623.6 680.5 624.2 681.9 624.9 683.2 625.5 684.6 626.2 685.9 626.8 687.3 627.5 688.6 628.1 690.0 628.8 691.3 629.4 692.7 630.1 694.1 630.8 695.4 631.4 696.8 632.1 698.1 632.7 699.5 633.4 700.8 634.0 702.2 634.7 703.5 635.3 704.9 636.0 706.2 636.6 707.6 637.3 708.9 637.9 710.3 638.6 711.6 639.2 713.0 639.9 714.4 640.5 715.7 641.2 717.1 641.8 718.4 642.5 719.8 643.1 721.1 643.8 722.5 644.5 723.8 645.1 725.2 645.8 726.5 646.5 727.8 647.3 729.1 648.0 730.5 648.7 731.8 649.4 733.1 650.1 734.4 650.8 735.7 651.6 737.1 652.3 738.4 653.0 739.7 653.7 741.0 654.4 742.3 655.1 743.7 655.9 745.0 656.6 746.3 657.3 747.6 658.0 748.9 658.7 750.3 659.4 751.6 660.2 752.9 660.9 754.2 661.6 755.5 662.3 756.9 663.0 758.2 663.7 759.5 664.5 760.8 665.2 762.1 665.9 763.4 666.6 764.8 667.3 766.1 668.1 767.4 668.8 768.7 669.6 770.0 670.5 771.2 671.4 772.4 672.3 773.5 673.3 774.7 674.3 775.8 675.3 776.9 676.3 778.1 677.2 779.2 678.2 780.3 679.2 781.4 680.2 782.6 681.2 783.7 682.2 784.8 683.2 785.9 684.2 787.1 685.2 788.2 686.2 789.3 687.2 790.4 688.2 791.6 689.2 792.7 690.2 793.8 691.2 794.9 692.2 796.1 693.2 797.2 694.2 798.3 695.2 799.4 696.1 800.6 697.1 801.7 698.0 802.9 699.0 804.1 699.9 805.3 700.8 806.5 701.7 807.6 702.7 808.8 703.6 810.0 704.5 811.2 705.4 812.4 706.3 813.6 707.2 814.8 708.2 816.0 709.1 817.2 710.0 818.3 710.9 819.5 711.8 820.7 712.7 821.9 713.7 823.1 714.6 824.3 715.5 825.5 716.4 826.7 717.3 827.9 718.3 829.0 719.2 830.2 720.1 831.4 721.1 832.5 722.1 833.6 723.1 834.7 724.2 835.7 725.3 836.7 726.5 837.7 727.6 838.7 728.8 839.7 729.9 840.7 731.0 841.6 732.2 842.6 733.3 843.6 734.5 844.6 735.6 845.5 736.7 846.5 737.9 847.5 739.0 848.5 740.2 849.4 741.4 850.3 742.6 851.1 743.9 851.9 745.2 852.6 746.5 853.3 747.9 854.0 749.2 854.7 750.5 855.4 751.9 856.0 753.2 856.7 754.6 857.4 755.9 858.1 757.3 858.7 758.6 859.4 760.0 860.1 761.3 860.7 762.6 861.4 764.0 862.1 765.3 862.8 766.7 863.4 768.0 864.1 769.4 864.8 770.7 865.4 772.1 866.0 773.5 866.5 774.9 866.9 776.4 867.3 777.8 867.6 779.3 867.8 780.8 868.1 782.3 868.3 783.7 868.6 785.2 868.8 786.7 869.1 788.2 869.3 789.7 869.6 791.1 869.8 792.6 870.1 794.1 870.3 795.6 870.5 797.1 870.8 798.6 871.0 800.0 871.3 801.5 871.5 803.0 871.8 804.5 872.0 806.0 872.3 807.4 872.5 808.9 872.8 810.4 873.0 811.9 873.2 813.4 873.4 814.9 873.7 816.4 873.9 817.8 874.1 819.3 874.3 820.8 874.5 822.3 874.7 823.8 874.9 825.3 875.1 826.8 875.3 828.3 875.5 829.8 875.6 831.2 875.8 832.7 876.0 834.2 876.2 835.7 876.4 837.2 876.6 838.7 876.8 840.2 877.0 841.7 877.2 843.2 877.4 844.6 877.6 846.1 877.8 847.6 878.0 849.1 878.2 850.6 878.4 852.1 878.5 853.6 878.7 855.1 878.8 856.6 878.9 858.1 879.0 859.6 879.1 861.1 879.2 862.6 879.3 864.1 879.4 865.6 879.5 867.1 879.6 868.6 879.7 870.1 879.8 871.6 879.9 873.1 880.0 874.6 880.1 876.1 880.2 877.6 880.3 879.1 880.4 880.6 880.5 882.1 880.6 883.6 880.7 885.1 880.8 886.6 880.9 888.1 881.0 889.6 881.0 891.1 881.1 892.6 881.1 894.1 881.1 895.6 881.1 897.1 881.1 898.6 881.0 900.1 881.0 901.6 881.0 903.1 880.9 904.6 880.9 906.1 880.9 907.6 880.8 909.1 880.8 910.6 880.8 912.1 880.7 913.6 880.7 915.1 880.7 916.6 880.6" stroke-dasharray="3.00 4.95"/>
</g>
<g clip-path="url(#cl2)" fill="none" stroke="#2a2eec" stroke-width="3.0" stroke-linecap="butt" stroke-linejoin="round">
<path d="M120.1 1346.0L121.6 1346.0 123.1 1345.9 124.6 1345.9 126.1 1345.8 127.6 1345.6 129.1 1345.5 130.6 1345.4 132.1 1345.2 133.6 1345.1 135.1 1344.9 136.6 1344.8 138.1 1344.6 139.6 1344.5 141.1 1344.3 142.6 1344.2 144.1 1344.0 145.6 1343.9 147.1 1343.7 148.6 1343.6 150.1 1343.4 151.6 1343.3 153.1 1343.1 154.6 1343.0 156.1 1342.8 157.6 1342.7 159.0 1342.5 160.5 1342.3 162.0 1342.1 163.5 1341.8 164.9 1341.4 166.3 1341.0 167.8 1340.5 169.2 1340.0 170.6 1339.5 172.0 1339.0 173.4 1338.4 174.8 1337.9 176.2 1337.4 177.7 1336.9 179.1 1336.4 180.5 1335.9 181.9 1335.3 183.3 1334.8 184.7 1334.3 186.1 1333.8 187.5 1333.3 188.9 1332.8 190.4 1332.2 191.8 1331.7 193.2 1331.2 194.6 1330.7 196.0 1330.2 197.4 1329.7 198.8 1329.1 200.2 1328.6 201.6 1328.0 203.0 1327.3 204.3 1326.7 205.6 1325.9 206.9 1325.2 208.2 1324.5 209.5 1323.7 210.8 1322.9 212.1 1322.2 213.4 1321.4 214.7 1320.7 216.0 1319.9 217.3 1319.1 218.6 1318.4 219.9 1317.6 221.2 1316.9 222.5 1316.1 223.8 1315.4 225.1 1314.6 226.4 1313.8 227.7 1313.1 229.0 1312.3 230.3 1311.5 231.5 1310.7 232.8 1309.9 234.0 1309.0 235.1 1308.0 236.2 1307.0 237.3 1306.0 238.4 1304.9 239.4 1303.9 240.5 1302.8 241.6 1301.8 242.6 1300.7 243.7 1299.6 244.8 1298.6 245.8 1297.5 246.9 1296.5 248.0 1295.4 249.0 1294.3 250.1 1293.3 251.1 1292.2 252.2 1291.1 253.2 1290.0 254.2 1288.9 255.1 1287.7 255.9 1286.5 256.7 1285.2 257.5 1283.9 258.2 1282.6 259.0 1281.3 259.7 1280.0 260.5 1278.7 261.3 1277.4 262.0 1276.1 262.8 1274.8 263.5 1273.5 264.3 1272.2 265.0 1270.9 265.8 1269.6 266.5 1268.3 267.3 1267.0 268.1 1265.7 268.8 1264.4 269.6 1263.1 270.3 1261.8 271.1 1260.5 271.8 1259.2 272.5 1257.9 273.2 1256.6 273.9 1255.2 274.6 1253.9 275.2 1252.5 275.8 1251.2 276.5 1249.8 277.1 1248.4 277.8 1247.1 278.4 1245.7 279.0 1244.3 279.7 1243.0 280.3 1241.6 281.0 1240.3 281.6 1238.9 282.2 1237.5 282.9 1236.2 283.5 1234.8 284.2 1233.5 284.8 1232.1 285.4 1230.7 286.1 1229.4 286.7 1228.0 287.4 1226.7 288.0 1225.3 288.6 1223.9 289.3 1222.6 289.9 1221.2 290.6 1219.9 291.2 1218.5 291.8 1217.1 292.5 1215.8 293.1 1214.4 293.7 1213.1 294.4 1211.7 295.0 1210.3 295.6 1208.9 296.2 1207.6 296.8 1206.2 297.4 1204.8 298.0 1203.4 298.6 1202.1 299.3 1200.7 299.9 1199.3 300.5 1197.9 301.1 1196.6 301.7 1195.2 302.3 1193.8 302.9 1192.4 303.5 1191.1 304.1 1189.7 304.7 1188.3 305.4 1186.9 306.0 1185.6 306.6 1184.2 307.2 1182.8 307.8 1181.5 308.4 1180.1 309.0 1178.7 309.6 1177.3 310.2 1176.0 310.8 1174.6 311.4 1173.2 312.1 1171.8 312.7 1170.5 313.3 1169.1 313.9 1167.7 314.5 1166.3 315.0 1164.9 315.6 1163.5 316.2 1162.1 316.7 1160.8 317.3 1159.4 317.9 1158.0 318.4 1156.6 319.0 1155.2 319.5 1153.8 320.1 1152.4 320.7 1151.0 321.2 1149.6 321.8 1148.2 322.3 1146.8 322.9 1145.4 323.5 1144.0 324.0 1142.6 324.6 1141.2 325.1 1139.8 325.7 1138.4 326.3 1137.0 326.8 1135.6 327.4 1134.2 328.0 1132.9 328.5 1131.5 329.1 1130.1 329.7 1128.7 330.3 1127.3 330.9 1125.9 331.5 1124.6 332.2 1123.2 332.9 1121.9 333.5 1120.5 334.2 1119.2 334.9 1117.8 335.5 1116.5 336.2 1115.1 336.9 1113.8 337.5 1112.5 338.2 1111.1 338.9 1109.8 339.6 1108.4 340.2 1107.1 340.9 1105.7 341.6 1104.4 342.2 1103.0 342.9 1101.7 343.6 1100.3 344.3 1099.0 345.0 1097.7 345.7 1096.3 346.4 1095.0 347.1 1093.7 347.9 1092.4 348.7 1091.1 349.5 1089.9 350.2 1088.6 351.0 1087.3 351.8 1086.0 352.6 1084.7 353.4 1083.4 354.1 1082.1 354.9 1080.9 355.7 1079.6 356.5 1078.3 357.3 1077.0 358.1 1075.7 358.9 1074.5 359.7 1073.2 360.5 1072.0 361.4 1070.7 362.3 1069.5 363.2 1068.3 364.1 1067.1 365.0 1065.9 365.9 1064.7 366.8 1063.5 367.7 1062.4 368.7 1061.2 369.6 1060.0 370.5 1058.8 371.4 1057.6 372.3 1056.3 373.2 1055.1 374.0 1053.9 374.9 1052.7 375.8 1051.5 376.7 1050.3 377.5 1049.0 378.4 1047.8 379.3 1046.6 380.2 1045.4 381.1 1044.2 381.9 1042.9 382.8 1041.7 383.6 1040.5 384.5 1039.2 385.3 1037.9 386.1 1036.7 386.9 1035.4 387.7 1034.1 388.5 1032.8 389.3 1031.6 390.1 1030.3 390.9 1029.0 391.7 1027.7 392.5 1026.5 393.3 1025.2 394.1 1024.0 395.0 1022.8 395.9 1021.6 396.9 1020.5 398.0 1019.5 399.1 1018.5 400.3 1017.5 401.4 1016.6 402.6 1015.7 403.8 1014.7 405.0 1013.9 406.2 1013.1 407.5 1012.4 408.8 1011.8 410.2 1011.4 411.7 1011.1 413.1 1010.9 414.6 1010.8 416.1 1010.8 417.5 1011.0 418.9 1011.3 420.3 1011.7 421.7 1012.2 423.1 1012.7 424.5 1013.3 425.9 1013.9 427.3 1014.5 428.7 1015.0 430.1 1015.6 431.5 1016.1 432.9 1016.7 434.3 1017.2 435.7 1017.6 437.2 1018.1 438.6 1018.6 440.0 1019.1 441.4 1019.6 442.9 1020.0 444.3 1020.5 445.7 1020.9 447.2 1021.3 448.7 1021.6 450.1 1021.9 451.6 1022.2 453.1 1022.5 454.5 1022.8 456.0 1023.1 457.5 1023.4 459.0 1023.7 460.4 1024.1 461.8 1024.5 463.2 1025.0 464.5 1025.7 465.8 1026.4 467.0 1027.3 468.2 1028.2 469.3 1029.1 470.5 1030.1 471.7 1031.0 472.8 1032.0 474.0 1032.9 475.1 1033.9 476.2 1034.9 477.2 1036.0 478.2 1037.1 479.1 1038.3 480.0 1039.5 480.9 1040.7 481.8 1041.9 482.7 1043.2 483.5 1044.4 484.4 1045.6 485.3 1046.8 486.1 1048.1 486.8 1049.4 487.6 1050.7 488.3 1052.0 489.0 1053.4 489.7 1054.7 490.3 1056.0 491.0 1057.4 491.7 1058.7 492.4 1060.1 493.0 1061.4 493.7 1062.8 494.4 1064.1 495.1 1065.4 495.7 1066.8 496.4 1068.1 497.1 1069.5 497.7 1070.8 498.3 1072.2 499.0 1073.6 499.6 1074.9 500.2 1076.3 500.8 1077.7 501.5 1079.0 502.1 1080.4 502.7 1081.8 503.3 1083.1 503.9 1084.5 504.6 1085.9 505.2 1087.3 505.8 1088.6 506.4 1090.0 507.1 1091.4 507.7 1092.7 508.3 1094.1 508.9 1095.5 509.6 1096.8 510.2 1098.2 510.9 1099.5 511.5 1100.9 512.1 1102.3 512.8 1103.6 513.4 1105.0 514.1 1106.3 514.7 1107.7 515.4 1109.0 516.0 1110.4 516.7 1111.8 517.3 1113.1 518.0 1114.5 518.6 1115.8 519.3 1117.2 519.9 1118.5 520.6 1119.9 521.3 1121.2 522.0 1122.5 522.7 1123.9 523.4 1125.2 524.1 1126.5 524.9 1127.8 525.6 1129.1 526.3 1130.5 527.0 1131.8 527.8 1133.1 528.5 1134.4 529.2 1135.7 530.0 1137.0 530.7 1138.4 531.4 1139.7 532.2 1141.0 532.9 1142.3 533.7 1143.5 534.5 1144.8 535.3 1146.1 536.2 1147.3 537.0 1148.6 537.8 1149.8 538.7 1151.1 539.5 1152.3 540.4 1153.6 541.2 1154.8 542.0 1156.1 542.9 1157.3 543.7 1158.6 544.5 1159.8 545.4 1161.1 546.2 1162.3 547.1 1163.5 547.9 1164.8 548.8 1166.0 549.7 1167.2 550.6 1168.4 551.5 1169.6 552.4 1170.8 553.3 1172.0 554.3 1173.2 555.2 1174.4 556.1 1175.6 557.0 1176.7 557.9 1177.9 558.9 1179.1 559.8 1180.3 560.7 1181.5 561.6 1182.7 562.5 1183.9 563.5 1185.1 564.4 1186.3 565.3 1187.5 566.1 1188.7 567.0 1189.9 567.9 1191.1 568.8 1192.3 569.7 1193.6 570.6 1194.8 571.4 1196.0 572.3 1197.2 573.2 1198.4 574.1 1199.6 575.0 1200.9 575.9 1202.1 576.7 1203.3 577.6 1204.5 578.5 1205.7 579.4 1207.0 580.3 1208.2 581.2 1209.4 582.0 1210.6 582.9 1211.8 583.8 1213.0 584.7 1214.3 585.6 1215.5 586.4 1216.7 587.3 1217.9 588.2 1219.1 589.1 1220.4 589.9 1221.6 590.8 1222.8 591.6 1224.1 592.4 1225.3 593.3 1226.6 594.1 1227.9 594.9 1229.1 595.7 1230.4 596.5 1231.7 597.3 1232.9 598.1 1234.2 598.9 1235.5 599.8 1236.7 600.6 1238.0 601.4 1239.2 602.2 1240.5 603.0 1241.8 603.8 1243.0 604.6 1244.3 605.5 1245.6 606.3 1246.8 607.1 1248.1 607.9 1249.4 608.7 1250.6 609.5 1251.9 610.3 1253.2 611.1 1254.4 612.0 1255.7 612.8 1257.0 613.6 1258.2 614.4 1259.5 615.2 1260.7 616.1 1262.0 616.9 1263.2 617.8 1264.4 618.7 1265.6 619.6 1266.8 620.5 1268.1 621.4 1269.3 622.3 1270.5 623.2 1271.7 624.1 1272.9 625.0 1274.1 625.9 1275.3 626.8 1276.5 627.7 1277.7 628.6 1278.9 629.5 1280.1 630.5 1281.2 631.5 1282.3 632.5 1283.4 633.7 1284.3 634.8 1285.2 636.1 1286.1 637.3 1286.9 638.6 1287.8 639.8 1288.6 641.1 1289.4 642.3 1290.3 643.6 1291.1 644.8 1292.0 646.1 1292.8 647.3 1293.6 648.6 1294.5 649.8 1295.3 651.1 1296.1 652.3 1297.0 653.6 1297.8 654.8 1298.6 656.1 1299.3 657.4 1300.1 658.7 1300.8 660.1 1301.6 661.4 1302.3 662.7 1303.0 664.0 1303.7 665.3 1304.4 666.7 1305.2 668.0 1305.9 669.3 1306.6 670.6 1307.3 671.9 1308.0 673.3 1308.8 674.6 1309.5 675.9 1310.2 677.2 1310.9 678.5 1311.6 679.9 1312.3 681.2 1313.0 682.5 1313.7 683.9 1314.4 685.2 1315.1 686.6 1315.7 688.0 1316.3 689.3 1316.9 690.7 1317.5 692.1 1318.1 693.5 1318.7 694.9 1319.3 696.2 1319.9 697.6 1320.5 699.0 1321.1 700.4 1321.7 701.8 1322.3 703.1 1322.8 704.5 1323.4 705.9 1324.0 707.3 1324.6 708.7 1325.2 710.1 1325.8 711.4 1326.4 712.8 1327.0 714.2 1327.6 715.6 1328.2 717.0 1328.8 718.4 1329.3 719.8 1329.9 721.2 1330.3 722.6 1330.8 724.1 1331.1 725.5 1331.5 727.0 1331.9 728.4 1332.2 729.9 1332.5 731.4 1332.9 732.8 1333.2 734.3 1333.6 735.8 1333.9 737.2 1334.2 738.7 1334.6 740.2 1334.9 741.6 1335.3 743.1 1335.6 744.6 1336.0 746.0 1336.3 747.5 1336.6 748.9 1337.0 750.4 1337.3 751.9 1337.7 753.3 1338.0 754.8 1338.3 756.3 1338.7 757.7 1339.0 759.2 1339.3 760.7 1339.5 762.2 1339.8 763.7 1340.0 765.2 1340.2 766.6 1340.4 768.1 1340.5 769.6 1340.7 771.1 1340.9 772.6 1341.1 774.1 1341.3 775.6 1341.5 777.1 1341.7 778.6 1341.8 780.1 1342.0 781.6 1342.2 783.1 1342.4 784.6 1342.6 786.0 1342.8 787.5 1343.0 789.0 1343.1 790.5 1343.3 792.0 1343.5 793.5 1343.7 795.0 1343.9 796.5 1344.1 798.0 1344.3 799.5 1344.4 801.0 1344.6 802.5 1344.8 803.9 1345.0 805.4 1345.2 806.9 1345.4 808.4 1345.5 809.9 1345.7 811.4 1345.8 812.9 1346.0 814.4 1346.1 815.9 1346.1 817.4 1346.2 818.9 1346.3 820.4 1346.3 821.9 1346.4 823.4 1346.5 824.9 1346.5 826.4 1346.6 827.9 1346.6 829.4 1346.7 830.9 1346.8 832.4 1346.8 833.9 1346.9 835.4 1346.9 836.9 1347.0 838.4 1347.1 839.9 1347.1 841.4 1347.2 842.9 1347.2 844.5 1347.3 846.0 1347.4 847.5 1347.4 849.0 1347.5 850.5 1347.6 852.0 1347.6 853.5 1347.7 855.0 1347.7 856.5 1347.8 858.0 1347.9 859.5 1347.9 861.0 1348.0 862.5 1348.0 864.0 1348.0 865.5 1348.0 867.0 1348.0 868.5 1348.0 870.0 1347.9 871.5 1347.9 873.0 1347.9 874.5 1347.8 876.0 1347.8 877.5 1347.7 879.0 1347.7 880.5 1347.7 882.0 1347.6 883.5 1347.6 885.0 1347.5 886.5 1347.5 888.0 1347.5 889.5 1347.4 891.0 1347.4 892.5 1347.3 894.0 1347.3 895.5 1347.3 897.0 1347.2 898.5 1347.2 900.1 1347.1 901.6 1347.1 903.1 1347.1 904.6 1347.0 906.1 1347.0 907.6 1346.9 909.1 1346.9 910.6 1346.9 912.1 1346.8 913.6 1346.8 915.1 1346.7 916.6 1346.7 918.1 1346.7 919.6 1346.6 921.1 1346.6 922.6 1346.5" stroke-linecap="square"/>
<path d="M63.0 1346.0L64.5 1346.0 66.0 1346.0 67.5 1345.9 69.0 1345.9 70.5 1345.9 72.0 1345.9 73.5 1345.8 75.0 1345.8 76.5 1345.8 78.0 1345.8 79.5 1345.7 81.0 1345.7 82.5 1345.7 84.0 1345.7 85.5 1345.6 87.0 1345.6 88.5 1345.6 90.0 1345.6 91.5 1345.5 93.0 1345.5 94.5 1345.5 96.0 1345.5 97.5 1345.4 99.0 1345.4 100.5 1345.4 102.0 1345.4 103.5 1345.3 105.1 1345.3 106.6 1345.3 108.1 1345.3 109.6 1345.2 111.1 1345.2 112.6 1345.2 114.1 1345.2 115.6 1345.1 117.1 1345.1 118.6 1345.1 120.1 1345.1 121.6 1345.0 123.1 1344.9 124.6 1344.8 126.0 1344.6 127.5 1344.4 129.0 1344.1 130.5 1343.9 132.0 1343.6 133.4 1343.4 134.9 1343.1 136.4 1342.8 137.9 1342.6 139.4 1342.3 140.8 1342.0 142.3 1341.8 143.8 1341.5 145.3 1341.2 146.7 1341.0 148.2 1340.7 149.7 1340.5 151.2 1340.2 152.7 1339.9 154.1 1339.7 155.6 1339.4 157.1 1339.1 158.6 1338.8 160.0 1338.5 161.5 1338.2 162.9 1337.8 164.3 1337.3 165.7 1336.8 167.1 1336.2 168.4 1335.5 169.8 1334.9 171.2 1334.2 172.5 1333.6 173.9 1332.9 175.2 1332.3 176.6 1331.6 177.9 1331.0 179.3 1330.3 180.6 1329.6 182.0 1329.0 183.3 1328.3 184.7 1327.7 186.0 1327.0 187.4 1326.4 188.7 1325.7 190.1 1325.0 191.4 1324.4 192.8 1323.7 194.1 1323.1 195.5 1322.4 196.8 1321.8 198.2 1321.1 199.5 1320.4 200.9 1319.8 202.2 1319.1 203.5 1318.4 204.8 1317.6 206.1 1316.9 207.4 1316.1 208.7 1315.4 210.0 1314.6 211.3 1313.9 212.6 1313.1 213.9 1312.4 215.2 1311.6 216.5 1310.9 217.8 1310.1 219.1 1309.4 220.4 1308.6 221.7 1307.9 223.0 1307.1 224.3 1306.3 225.5 1305.5 226.8 1304.6 228.0 1303.8 229.2 1302.9 230.4 1302.0 231.6 1301.1 232.8 1300.2 234.0 1299.3 235.3 1298.4 236.5 1297.5 237.7 1296.6 238.9 1295.7 240.1 1294.8 241.3 1293.9 242.5 1293.0 243.7 1292.1 244.9 1291.3 246.1 1290.4 247.3 1289.5 248.5 1288.6 249.7 1287.7 250.9 1286.8 252.1 1285.8 253.3 1284.9 254.3 1283.9 255.4 1282.8 256.4 1281.7 257.3 1280.5 258.2 1279.3 259.1 1278.1 260.0 1277.0 261.0 1275.8 261.9 1274.6 262.8 1273.4 263.7 1272.2 264.6 1271.0 265.5 1269.8 266.4 1268.6 267.3 1267.4 268.2 1266.2 269.1 1265.0 270.0 1263.8 270.9 1262.6 271.8 1261.3 272.6 1260.1 273.4 1258.8 274.1 1257.5 274.8 1256.2 275.5 1254.8 276.1 1253.5 276.8 1252.2 277.5 1250.8 278.1 1249.5 278.8 1248.1 279.5 1246.8 280.2 1245.4 280.8 1244.1 281.5 1242.7 282.2 1241.4 282.8 1240.0 283.5 1238.7 284.2 1237.4 284.8 1236.0 285.5 1234.7 286.2 1233.3 286.8 1232.0 287.5 1230.6 288.2 1229.3 288.9 1227.9 289.5 1226.6 290.2 1225.3 290.9 1223.9 291.5 1222.6 292.2 1221.2 292.9 1219.9 293.5 1218.5 294.1 1217.2 294.8 1215.8 295.4 1214.4 296.0 1213.1 296.6 1211.7 297.3 1210.3 297.9 1209.0 298.5 1207.6 299.1 1206.2 299.7 1204.9 300.4 1203.5 301.0 1202.1 301.6 1200.7 302.2 1199.4 302.8 1198.0 303.5 1196.6 304.1 1195.3 304.7 1193.9 305.3 1192.5 305.9 1191.2 306.6 1189.8 307.2 1188.4 307.8 1187.1 308.4 1185.7 309.0 1184.3 309.6 1183.0 310.3 1181.6 310.9 1180.2 311.5 1178.9 312.1 1177.5 312.7 1176.1 313.4 1174.7 314.0 1173.4 314.6 1172.0 315.2 1170.6 315.8 1169.3 316.4 1167.9 317.1 1166.5 317.7 1165.2 318.3 1163.8 318.9 1162.4 319.5 1161.0 320.1 1159.7 320.7 1158.3 321.4 1156.9 322.0 1155.6 322.6 1154.2 323.2 1152.8 323.8 1151.5 324.4 1150.1 325.0 1148.7 325.7 1147.3 326.3 1146.0 326.9 1144.6 327.5 1143.2 328.1 1141.9 328.7 1140.5 329.4 1139.1 330.0 1137.8 330.6 1136.4 331.3 1135.0 331.9 1133.7 332.6 1132.3 333.2 1131.0 333.9 1129.6 334.5 1128.3 335.2 1126.9 335.9 1125.6 336.5 1124.2 337.2 1122.9 337.8 1121.5 338.5 1120.2 339.2 1118.8 339.8 1117.5 340.5 1116.1 341.1 1114.8 341.8 1113.4 342.4 1112.1 343.1 1110.7 343.8 1109.4 344.5 1108.1 345.2 1106.7 346.0 1105.5 346.8 1104.2 347.7 1103.0 348.6 1101.9 349.6 1100.7 350.5 1099.6 351.5 1098.4 352.5 1097.3 353.4 1096.1 354.4 1095.0 355.4 1093.8 356.4 1092.7 357.3 1091.6 358.3 1090.4 359.3 1089.3 360.2 1088.1 361.2 1086.9 362.1 1085.8 363.0 1084.6 363.9 1083.3 364.8 1082.1 365.6 1080.9 366.5 1079.6 367.3 1078.4 368.2 1077.2 369.0 1075.9 369.9 1074.7 370.7 1073.4 371.5 1072.2 372.4 1071.0 373.2 1069.7 374.1 1068.5 374.9 1067.2 375.8 1066.0 376.7 1064.8 377.5 1063.6 378.4 1062.4 379.4 1061.2 380.3 1060.0 381.3 1058.9 382.2 1057.7 383.2 1056.6 384.1 1055.4 385.1 1054.2 386.1 1053.1 387.0 1051.9 388.0 1050.8 389.0 1049.6 389.9 1048.5 390.9 1047.3 391.8 1046.2 392.8 1045.0 393.8 1043.9 394.8 1042.8 395.9 1041.7 397.0 1040.7 398.1 1039.8 399.3 1038.9 400.5 1038.0 401.7 1037.1 402.9 1036.2 404.1 1035.3 405.4 1034.4 406.6 1033.6 407.8 1032.7 409.0 1031.8 410.2 1030.9 411.5 1030.1 412.8 1029.4 414.1 1028.7 415.4 1028.2 416.9 1027.8 418.3 1027.4 419.8 1027.1 421.2 1026.9 422.7 1026.7 424.1 1026.6 425.5 1026.8 426.8 1027.1 428.1 1027.7 429.4 1028.4 430.7 1029.2 431.9 1030.0 433.2 1030.9 434.4 1031.7 435.7 1032.5 436.9 1033.4 438.2 1034.2 439.4 1035.0 440.7 1035.9 441.9 1036.7 443.1 1037.6 444.3 1038.5 445.5 1039.4 446.7 1040.3 447.9 1041.2 449.1 1042.2 450.2 1043.1 451.4 1044.0 452.6 1045.0 453.8 1045.9 454.9 1046.9 456.1 1047.8 457.3 1048.7 458.5 1049.6 459.7 1050.5 460.9 1051.3 462.2 1052.0 463.6 1052.6 465.0 1053.2 466.4 1053.7 467.8 1054.2 469.2 1054.7 470.6 1055.1 472.1 1055.6 473.5 1056.1 474.9 1056.6 476.3 1057.0 477.8 1057.5 479.2 1057.9 480.7 1058.2 482.1 1058.6 483.6 1058.9 485.1 1059.2 486.5 1059.5 488.0 1059.9 489.4 1060.3 490.8 1060.7 492.2 1061.3 493.5 1061.9 494.8 1062.6 496.1 1063.4 497.4 1064.2 498.7 1064.9 500.0 1065.7 501.2 1066.6 502.4 1067.5 503.5 1068.4 504.6 1069.5 505.6 1070.5 506.6 1071.7 507.6 1072.8 508.5 1074.0 509.5 1075.1 510.5 1076.3 511.4 1077.4 512.4 1078.6 513.3 1079.7 514.2 1080.9 515.1 1082.1 515.9 1083.4 516.7 1084.7 517.5 1086.0 518.2 1087.3 518.9 1088.6 519.7 1089.9 520.4 1091.2 521.1 1092.5 521.9 1093.8 522.6 1095.1 523.3 1096.5 524.0 1097.8 524.8 1099.1 525.5 1100.4 526.2 1101.7 526.9 1103.1 527.6 1104.4 528.3 1105.7 529.0 1107.1 529.7 1108.4 530.3 1109.7 531.0 1111.1 531.7 1112.4 532.4 1113.8 533.0 1115.1 533.7 1116.4 534.4 1117.8 535.0 1119.1 535.7 1120.5 536.4 1121.8 537.1 1123.2 537.7 1124.5 538.4 1125.9 539.1 1127.2 539.7 1128.6 540.4 1129.9 541.0 1131.3 541.6 1132.6 542.3 1134.0 542.9 1135.4 543.5 1136.7 544.2 1138.1 544.8 1139.4 545.4 1140.8 546.1 1142.2 546.7 1143.5 547.3 1144.9 547.9 1146.3 548.6 1147.6 549.2 1149.0 549.8 1150.3 550.5 1151.7 551.1 1153.1 551.7 1154.4 552.4 1155.8 553.0 1157.2 553.6 1158.5 554.3 1159.9 554.9 1161.2 555.6 1162.6 556.2 1163.9 556.9 1165.3 557.6 1166.6 558.4 1167.9 559.2 1169.1 560.1 1170.4 560.9 1171.6 561.7 1172.9 562.6 1174.1 563.4 1175.4 564.2 1176.6 565.1 1177.9 565.9 1179.1 566.8 1180.3 567.6 1181.6 568.4 1182.8 569.3 1184.1 570.1 1185.3 571.0 1186.6 571.8 1187.8 572.6 1189.1 573.5 1190.3 574.3 1191.6 575.2 1192.8 576.0 1194.0 576.8 1195.3 577.7 1196.5 578.5 1197.8 579.3 1199.0 580.1 1200.3 581.0 1201.6 581.8 1202.8 582.6 1204.1 583.4 1205.4 584.2 1206.7 585.0 1207.9 585.7 1209.2 586.5 1210.5 587.3 1211.7 588.1 1213.0 588.9 1214.3 589.7 1215.6 590.5 1216.8 591.3 1218.1 592.1 1219.4 592.9 1220.7 593.7 1221.9 594.5 1223.2 595.3 1224.5 596.1 1225.8 596.9 1227.0 597.7 1228.3 598.5 1229.6 599.3 1230.9 600.1 1232.1 600.9 1233.4 601.7 1234.7 602.5 1235.9 603.3 1237.2 604.1 1238.4 605.0 1239.6 606.0 1240.8 607.0 1241.9 608.0 1243.0 609.0 1244.1 610.1 1245.2 611.1 1246.2 612.2 1247.3 613.2 1248.4 614.3 1249.4 615.4 1250.5 616.4 1251.6 617.5 1252.6 618.5 1253.7 619.6 1254.8 620.6 1255.8 621.7 1256.9 622.7 1258.0 623.8 1259.1 624.9 1260.1 625.9 1261.2 627.0 1262.3 628.0 1263.3 629.1 1264.4 630.1 1265.5 631.2 1266.5 632.2 1267.6 633.3 1268.7 634.4 1269.7 635.4 1270.8 636.5 1271.9 637.5 1272.9 638.6 1274.0 639.6 1275.1 640.7 1276.1 641.8 1277.2 642.9 1278.2 644.0 1279.2 645.2 1280.1 646.3 1281.1 647.5 1282.1 648.6 1283.0 649.8 1284.0 651.0 1284.9 652.1 1285.9 653.3 1286.8 654.5 1287.8 655.6 1288.7 656.8 1289.7 658.0 1290.6 659.1 1291.5 660.3 1292.5 661.4 1293.4 662.6 1294.4 663.8 1295.3 664.9 1296.3 666.1 1297.2 667.3 1298.2 668.4 1299.1 669.6 1300.1 670.8 1301.0 671.9 1302.0 673.1 1302.9 674.3 1303.9 675.4 1304.8 676.6 1305.8 677.7 1306.7 678.9 1307.7 680.1 1308.6 681.3 1309.6 682.5 1310.5 683.7 1311.3 684.9 1312.1 686.2 1312.8 687.6 1313.5 688.9 1314.2 690.3 1314.8 691.6 1315.5 693.0 1316.1 694.4 1316.7 695.7 1317.4 697.1 1318.0 698.4 1318.6 699.8 1319.3 701.2 1319.9 702.5 1320.5 703.9 1321.2 705.2 1321.8 706.6 1322.4 708.0 1323.1 709.3 1323.7 710.7 1324.3 712.1 1325.0 713.4 1325.6 714.8 1326.2 716.1 1326.9 717.5 1327.5 718.9 1328.1 720.3 1328.6 721.7 1329.1 723.1 1329.6 724.5 1330.0 726.0 1330.4 727.4 1330.8 728.9 1331.2 730.3 1331.6 731.8 1332.0 733.2 1332.4 734.7 1332.8 736.1 1333.1 737.6 1333.5 739.0 1333.9 740.5 1334.3 741.9 1334.7 743.4 1335.1 744.9 1335.5 746.3 1335.9 747.8 1336.3 749.2 1336.7 750.7 1337.0 752.1 1337.4 753.6 1337.8 755.0 1338.2 756.5 1338.6 757.9 1338.9 759.4 1339.2 760.9 1339.5 762.3 1339.8 763.8 1340.0 765.3 1340.2 766.8 1340.4 768.3 1340.6 769.8 1340.7 771.3 1340.9 772.8 1341.1 774.3 1341.3 775.7 1341.5 777.2 1341.7 778.7 1341.9 780.2 1342.0 781.7 1342.2 783.2 1342.4 784.7 1342.6 786.2 1342.8 787.7 1343.0 789.2 1343.2 790.6 1343.3 792.1 1343.5 793.6 1343.7 795.1 1343.9 796.6 1344.1 798.1 1344.3 799.6 1344.5 801.1 1344.6 802.6 1344.8 804.1 1345.0 805.6 1345.2 807.0 1345.4 808.5 1345.6 810.0 1345.7 811.5 1345.9 813.0 1346.0 814.5 1346.1 816.0 1346.2 817.5 1346.2 819.0 1346.3 820.5 1346.3 822.0 1346.4 823.5 1346.5 825.0 1346.5 826.5 1346.6 828.0 1346.6 829.5 1346.7 831.0 1346.8 832.5 1346.8 834.0 1346.9 835.5 1346.9 837.0 1347.0 838.5 1347.1 840.0 1347.1 841.5 1347.2 843.0 1347.3 844.5 1347.3 846.0 1347.4 847.5 1347.4 849.0 1347.5 850.5 1347.6 852.0 1347.6 853.5 1347.7 855.0 1347.7 856.5 1347.8 858.0 1347.9 859.5 1347.9 861.0 1348.0 862.5 1348.0 864.0 1348.0 865.5 1348.0 867.0 1348.0 868.5 1348.0 870.0 1347.9 871.5 1347.9 873.0 1347.9 874.6 1347.8 876.1 1347.8 877.6 1347.7 879.1 1347.7 880.6 1347.7 882.1 1347.6 883.6 1347.6 885.1 1347.5 886.6 1347.5 888.1 1347.5 889.6 1347.4 891.1 1347.4 892.6 1347.3 894.1 1347.3 895.6 1347.3" stroke-dasharray="11.10 4.80"/>
<path d="M126.1 1345.8L127.6 1345.7 129.1 1345.6 130.6 1345.5 132.1 1345.4 133.6 1345.3 135.1 1345.2 136.6 1345.1 138.1 1344.9 139.6 1344.8 141.1 1344.7 142.6 1344.6 144.1 1344.5 145.6 1344.4 147.1 1344.3 148.6 1344.1 150.1 1344.0 151.6 1343.9 153.1 1343.8 154.6 1343.7 156.1 1343.6 157.6 1343.4 159.1 1343.3 160.6 1343.1 162.1 1342.9 163.5 1342.7 165.0 1342.3 166.4 1341.9 167.9 1341.5 169.3 1341.0 170.7 1340.6 172.1 1340.1 173.6 1339.6 175.0 1339.1 176.4 1338.7 177.8 1338.2 179.3 1337.7 180.7 1337.2 182.1 1336.8 183.5 1336.3 185.0 1335.8 186.4 1335.4 187.8 1334.9 189.3 1334.4 190.7 1333.9 192.1 1333.5 193.5 1333.0 195.0 1332.5 196.4 1332.0 197.8 1331.5 199.2 1331.1 200.6 1330.5 202.0 1330.0 203.4 1329.3 204.7 1328.7 206.0 1327.9 207.3 1327.2 208.6 1326.5 209.9 1325.7 211.2 1325.0 212.5 1324.2 213.9 1323.5 215.2 1322.7 216.5 1322.0 217.8 1321.2 219.1 1320.5 220.4 1319.7 221.7 1319.0 223.0 1318.2 224.3 1317.5 225.6 1316.7 226.9 1316.0 228.2 1315.2 229.5 1314.5 230.8 1313.7 232.0 1312.9 233.3 1312.0 234.4 1311.1 235.6 1310.2 236.7 1309.2 237.8 1308.2 238.9 1307.1 240.0 1306.1 241.1 1305.0 242.2 1304.0 243.2 1303.0 244.3 1301.9 245.4 1300.9 246.5 1299.9 247.6 1298.8 248.7 1297.8 249.8 1296.7 250.8 1295.7 251.9 1294.6 252.9 1293.6 253.9 1292.4 254.9 1291.3 255.7 1290.1 256.6 1288.8 257.4 1287.6 258.2 1286.3 258.9 1285.0 259.7 1283.7 260.5 1282.4 261.3 1281.1 262.1 1279.9 262.8 1278.6 263.6 1277.3 264.4 1276.0 265.2 1274.7 266.0 1273.4 266.7 1272.2 267.5 1270.9 268.3 1269.6 269.1 1268.3 269.9 1267.0 270.6 1265.7 271.4 1264.4 272.1 1263.1 272.8 1261.8 273.5 1260.5 274.2 1259.1 274.8 1257.8 275.4 1256.4 276.1 1255.0 276.7 1253.7 277.3 1252.3 277.9 1250.9 278.6 1249.5 279.2 1248.2 279.8 1246.8 280.4 1245.4 281.0 1244.1 281.7 1242.7 282.3 1241.3 282.9 1240.0 283.5 1238.6 284.2 1237.2 284.8 1235.9 285.4 1234.5 286.0 1233.1 286.6 1231.8 287.3 1230.4 287.9 1229.0 288.5 1227.7 289.1 1226.3 289.7 1224.9 290.4 1223.5 291.0 1222.2 291.6 1220.8 292.2 1219.4 292.9 1218.1 293.5 1216.7 294.1 1215.3 294.7 1214.0 295.3 1212.6 296.0 1211.2 296.6 1209.9 297.2 1208.5 297.8 1207.1 298.4 1205.7 299.1 1204.4 299.7 1203.0 300.3 1201.6 300.9 1200.3 301.5 1198.9 302.2 1197.5 302.8 1196.2 303.4 1194.8 304.0 1193.4 304.6 1192.1 305.2 1190.7 305.9 1189.3 306.5 1187.9 307.1 1186.6 307.7 1185.2 308.3 1183.8 309.0 1182.5 309.6 1181.1 310.2 1179.7 310.8 1178.4 311.4 1177.0 312.1 1175.6 312.7 1174.2 313.3 1172.9 313.9 1171.5 314.5 1170.1 315.1 1168.8 315.7 1167.4 316.3 1166.0 316.9 1164.6 317.5 1163.3 318.1 1161.9 318.7 1160.5 319.3 1159.1 319.9 1157.7 320.5 1156.4 321.1 1155.0 321.7 1153.6 322.3 1152.2 323.0 1150.9 323.6 1149.5 324.2 1148.1 324.8 1146.7 325.4 1145.3 326.0 1144.0 326.6 1142.6 327.2 1141.2 327.8 1139.8 328.4 1138.5 329.0 1137.1 329.6 1135.7 330.2 1134.4 330.9 1133.0 331.5 1131.7 332.2 1130.3 332.9 1129.0 333.6 1127.6 334.3 1126.3 335.0 1125.0 335.7 1123.6 336.4 1122.3 337.1 1121.0 337.8 1119.6 338.5 1118.3 339.2 1117.0 339.8 1115.6 340.5 1114.3 341.2 1113.0 341.9 1111.6 342.6 1110.3 343.3 1109.0 344.0 1107.7 344.8 1106.3 345.5 1105.1 346.3 1103.8 347.2 1102.6 348.1 1101.4 349.0 1100.2 350.0 1099.0 350.9 1097.9 351.9 1096.7 352.8 1095.6 353.8 1094.4 354.8 1093.2 355.7 1092.1 356.7 1090.9 357.6 1089.8 358.6 1088.6 359.5 1087.4 360.5 1086.3 361.4 1085.1 362.4 1084.0 363.4 1082.8 364.3 1081.6 365.2 1080.5 366.2 1079.3 367.1 1078.1 368.0 1076.9 368.9 1075.7 369.8 1074.5 370.7 1073.3 371.6 1072.1 372.5 1070.9 373.4 1069.7 374.3 1068.5 375.2 1067.3 376.1 1066.1 377.0 1064.9 377.9 1063.7 378.8 1062.5 379.7 1061.3 380.6 1060.1 381.5 1058.9 382.4 1057.7 383.4 1056.5 384.3 1055.3 385.2 1054.1 386.2 1053.0 387.1 1051.8 388.1 1050.6 389.1 1049.5 390.0 1048.3 391.0 1047.2 392.0 1046.0 392.9 1044.9 393.9 1043.7 394.8 1042.6 395.8 1041.4 396.8 1040.3 397.7 1039.1 398.7 1038.0 399.7 1036.9 400.7 1035.8 401.8 1034.8 403.0 1034.0 404.3 1033.2 405.6 1032.5 406.9 1031.8 408.3 1031.2 409.7 1030.6 411.0 1029.9 412.4 1029.3 413.7 1028.7 415.1 1028.1 416.5 1027.5 417.9 1027.0 419.3 1026.6 420.7 1026.3 422.2 1026.2 423.7 1026.2 425.2 1026.3 426.6 1026.4 428.1 1026.5 429.6 1026.6 431.1 1026.7 432.6 1026.8 434.1 1026.9 435.6 1027.1 437.1 1027.4 438.5 1027.8 439.9 1028.3 441.3 1028.8 442.6 1029.4 444.0 1030.1 445.4 1030.7 446.7 1031.3 448.1 1031.9 449.5 1032.6 450.8 1033.2 452.2 1033.8 453.5 1034.5 454.9 1035.2 456.2 1035.9 457.5 1036.6 458.8 1037.4 460.1 1038.1 461.4 1038.9 462.7 1039.7 464.0 1040.5 465.3 1041.2 466.6 1042.0 467.8 1042.8 469.1 1043.6 470.4 1044.4 471.6 1045.2 472.8 1046.1 474.0 1047.0 475.1 1048.0 476.2 1049.0 477.3 1050.0 478.4 1051.1 479.5 1052.2 480.5 1053.2 481.6 1054.3 482.6 1055.3 483.7 1056.4 484.8 1057.5 485.8 1058.5 486.9 1059.6 488.0 1060.7 489.0 1061.7 490.1 1062.8 491.1 1063.8 492.2 1064.9 493.3 1066.0 494.3 1067.0 495.3 1068.1 496.3 1069.3 497.3 1070.4 498.2 1071.6 499.0 1072.9 499.8 1074.1 500.6 1075.4 501.4 1076.7 502.1 1078.0 502.9 1079.3 503.7 1080.6 504.5 1081.8 505.2 1083.1 506.0 1084.4 506.8 1085.7 507.5 1087.0 508.3 1088.3 509.1 1089.6 509.9 1090.9 510.6 1092.2 511.4 1093.4 512.2 1094.7 513.0 1096.0 513.8 1097.3 514.6 1098.6 515.4 1099.8 516.2 1101.1 517.0 1102.3 517.9 1103.6 518.8 1104.8 519.7 1106.0 520.5 1107.2 521.4 1108.4 522.3 1109.7 523.1 1110.9 524.0 1112.1 524.9 1113.3 525.8 1114.6 526.6 1115.8 527.5 1117.0 528.4 1118.2 529.3 1119.5 530.1 1120.7 531.0 1121.9 531.9 1123.1 532.7 1124.4 533.6 1125.6 534.4 1126.8 535.3 1128.1 536.1 1129.3 537.0 1130.6 537.8 1131.8 538.7 1133.0 539.5 1134.3 540.4 1135.5 541.2 1136.8 542.1 1138.0 542.9 1139.3 543.8 1140.5 544.6 1141.7 545.4 1143.0 546.3 1144.2 547.1 1145.5 548.0 1146.7 548.8 1148.0 549.6 1149.2 550.5 1150.5 551.3 1151.8 552.0 1153.0 552.8 1154.3 553.5 1155.6 554.3 1157.0 555.0 1158.3 555.8 1159.6 556.5 1160.9 557.3 1162.2 558.1 1163.4 558.8 1164.7 559.6 1166.0 560.4 1167.3 561.3 1168.5 562.1 1169.8 562.9 1171.1 563.7 1172.3 564.5 1173.6 565.3 1174.9 566.1 1176.1 566.9 1177.4 567.7 1178.7 568.5 1179.9 569.3 1181.2 570.1 1182.5 570.9 1183.7 571.7 1185.0 572.5 1186.3 573.4 1187.6 574.2 1188.8 575.0 1190.1 575.8 1191.4 576.6 1192.6 577.4 1193.9 578.2 1195.2 579.0 1196.4 579.8 1197.7 580.6 1199.0 581.4 1200.2 582.2 1201.5 583.0 1202.8 583.8 1204.1 584.6 1205.3 585.4 1206.6 586.2 1207.9 587.0 1209.2 587.8 1210.4 588.6 1211.7 589.4 1213.0 590.2 1214.3 591.0 1215.5 591.8 1216.8 592.6 1218.1 593.4 1219.4 594.1 1220.6 594.9 1221.9 595.7 1223.2 596.5 1224.5 597.3 1225.7 598.1 1227.0 598.9 1228.3 599.7 1229.6 600.5 1230.8 601.3 1232.1 602.1 1233.4 602.9 1234.6 603.7 1235.9 604.6 1237.1 605.5 1238.4 606.4 1239.6 607.3 1240.7 608.3 1241.9 609.2 1243.1 610.2 1244.2 611.1 1245.4 612.1 1246.5 613.1 1247.7 614.0 1248.8 615.0 1250.0 615.9 1251.1 616.9 1252.3 617.9 1253.4 618.8 1254.6 619.8 1255.8 620.8 1256.9 621.7 1258.1 622.7 1259.2 623.6 1260.4 624.6 1261.5 625.6 1262.7 626.5 1263.8 627.5 1265.0 628.5 1266.2 629.4 1267.3 630.4 1268.5 631.3 1269.6 632.3 1270.8 633.3 1271.9 634.2 1273.1 635.2 1274.2 636.2 1275.4 637.1 1276.5 638.1 1277.7 639.1 1278.8 640.2 1279.8 641.3 1280.8 642.4 1281.8 643.6 1282.7 644.8 1283.7 646.0 1284.6 647.2 1285.5 648.3 1286.4 649.5 1287.3 650.7 1288.3 651.9 1289.2 653.1 1290.1 654.3 1291.0 655.5 1291.9 656.7 1292.8 657.9 1293.8 659.1 1294.7 660.3 1295.6 661.5 1296.5 662.6 1297.4 663.8 1298.3 665.0 1299.3 666.2 1300.2 667.4 1301.1 668.6 1302.0 669.8 1302.9 671.0 1303.8 672.2 1304.7 673.4 1305.7 674.6 1306.6 675.7 1307.5 676.9 1308.4 678.1 1309.3 679.3 1310.2 680.5 1311.1 681.7 1312.0 683.0 1312.9 684.2 1313.7 685.5 1314.4 686.9 1315.1 688.2 1315.7 689.6 1316.4 691.0 1317.0 692.3 1317.6 693.7 1318.2 695.1 1318.8 696.5 1319.4 697.8 1320.0 699.2 1320.6 700.6 1321.2 702.0 1321.8 703.3 1322.4 704.7 1323.0 706.1 1323.6 707.5 1324.2 708.8 1324.8 710.2 1325.4 711.6 1326.0 713.0 1326.6 714.4 1327.2 715.7 1327.8 717.1 1328.4 718.5 1329.0 719.9 1329.5 721.3 1330.0 722.8 1330.4 724.2 1330.8 725.7 1331.2 727.1 1331.6 728.6 1331.9 730.0 1332.3 731.5 1332.6 733.0 1333.0 734.4 1333.3 735.9 1333.7 737.3 1334.0 738.8 1334.4 740.3 1334.8 741.7 1335.1 743.2 1335.5 744.6 1335.8 746.1 1336.2 747.6 1336.5 749.0 1336.9 750.5 1337.2 751.9 1337.6 753.4 1337.9 754.9 1338.3 756.3 1338.6 757.8 1339.0 759.3 1339.3 760.7 1339.5 762.2 1339.8 763.7 1340.0 765.2 1340.2 766.7 1340.4 768.2 1340.5 769.7 1340.7 771.2 1340.9 772.7 1341.1 774.1 1341.3 775.6 1341.5 777.1 1341.7 778.6 1341.8 780.1 1342.0 781.6 1342.2 783.1 1342.4 784.6 1342.6 786.1 1342.8 787.6 1343.0 789.1 1343.1 790.6 1343.3 792.0 1343.5 793.5 1343.7 795.0 1343.9 796.5 1344.1 798.0 1344.3 799.5 1344.4 801.0 1344.6 802.5 1344.8 804.0 1345.0 805.5 1345.2 807.0 1345.4 808.5 1345.5 809.9 1345.7 811.4 1345.9 812.9 1346.0 814.4 1346.1 815.9 1346.1 817.4 1346.2 818.9 1346.3 820.4 1346.3 821.9 1346.4 823.4 1346.5 825.0 1346.5 826.5 1346.6 828.0 1346.6 829.5 1346.7 831.0 1346.8 832.5 1346.8 834.0 1346.9 835.5 1346.9 837.0 1347.0 838.5 1347.1 840.0 1347.1 841.5 1347.2 843.0 1347.2 844.5 1347.3 846.0 1347.4 847.5 1347.4 849.0 1347.5 850.5 1347.6 852.0 1347.6 853.5 1347.7 855.0 1347.7 856.5 1347.8 858.0 1347.9 859.5 1347.9 861.0 1348.0 862.5 1348.0 864.0 1348.0 865.5 1348.0 867.0 1348.0 868.5 1348.0 870.0 1347.9 871.5 1347.9 873.0 1347.9 874.5 1347.8 876.0 1347.8 877.5 1347.7 879.0 1347.7 880.5 1347.7 882.0 1347.6 883.5 1347.6 885.0 1347.5 886.5 1347.5 888.0 1347.5 889.5 1347.4 891.0 1347.4 892.5 1347.3 894.0 1347.3 895.6 1347.3" stroke-dasharray="19.20 4.80 3.00 4.80"/>
<path d="M130.6 1345.5L132.1 1345.4 133.6 1345.3 135.1 1345.2 136.6 1345.1 138.1 1345.0 139.6 1344.9 141.1 1344.8 142.6 1344.6 144.1 1344.5 145.6 1344.4 147.1 1344.3 148.6 1344.2 150.1 1344.1 151.6 1344.0 153.1 1343.9 154.6 1343.8 156.1 1343.6 157.6 1343.5 159.1 1343.4 160.6 1343.3 162.0 1343.1 163.5 1342.8 165.0 1342.5 166.4 1342.2 167.9 1341.8 169.3 1341.4 170.8 1341.0 172.2 1340.6 173.7 1340.1 175.1 1339.7 176.6 1339.3 178.0 1338.9 179.4 1338.5 180.9 1338.0 182.3 1337.6 183.8 1337.2 185.2 1336.8 186.7 1336.4 188.1 1336.0 189.5 1335.5 191.0 1335.1 192.4 1334.7 193.9 1334.3 195.3 1333.9 196.8 1333.5 198.2 1333.0 199.6 1332.6 201.0 1332.1 202.4 1331.6 203.8 1331.0 205.2 1330.4 206.5 1329.7 207.9 1329.0 209.2 1328.3 210.5 1327.6 211.9 1326.9 213.2 1326.2 214.5 1325.5 215.9 1324.8 217.2 1324.1 218.5 1323.5 219.9 1322.8 221.2 1322.1 222.5 1321.4 223.9 1320.7 225.2 1320.0 226.5 1319.3 227.9 1318.6 229.2 1317.9 230.5 1317.2 231.8 1316.4 233.1 1315.6 234.3 1314.8 235.5 1313.9 236.6 1312.9 237.8 1312.0 238.9 1311.0 240.0 1310.0 241.2 1309.0 242.3 1308.0 243.4 1307.0 244.5 1306.0 245.7 1305.0 246.8 1304.0 247.9 1303.0 249.0 1302.0 250.2 1301.0 251.3 1300.0 252.4 1299.0 253.4 1297.9 254.4 1296.8 255.3 1295.7 256.2 1294.5 257.0 1293.2 257.9 1292.0 258.7 1290.7 259.5 1289.4 260.3 1288.1 261.1 1286.9 261.9 1285.6 262.7 1284.3 263.5 1283.0 264.3 1281.8 265.1 1280.5 265.9 1279.2 266.7 1278.0 267.5 1276.7 268.2 1275.4 269.0 1274.1 269.8 1272.9 270.6 1271.6 271.4 1270.3 272.2 1269.0 272.9 1267.7 273.6 1266.4 274.3 1265.0 275.0 1263.7 275.6 1262.4 276.3 1261.0 277.0 1259.7 277.6 1258.3 278.3 1256.9 278.9 1255.6 279.6 1254.2 280.2 1252.9 280.9 1251.5 281.6 1250.2 282.2 1248.8 282.9 1247.5 283.5 1246.1 284.2 1244.8 284.8 1243.4 285.5 1242.1 286.2 1240.7 286.8 1239.4 287.5 1238.0 288.1 1236.7 288.8 1235.3 289.4 1234.0 290.1 1232.6 290.8 1231.3 291.4 1229.9 292.1 1228.6 292.7 1227.2 293.4 1225.9 294.0 1224.5 294.6 1223.1 295.2 1221.8 295.8 1220.4 296.5 1219.0 297.1 1217.6 297.7 1216.3 298.3 1214.9 298.9 1213.5 299.5 1212.1 300.1 1210.8 300.7 1209.4 301.3 1208.0 301.9 1206.6 302.5 1205.3 303.1 1203.9 303.7 1202.5 304.4 1201.1 305.0 1199.8 305.6 1198.4 306.2 1197.0 306.8 1195.7 307.4 1194.3 308.0 1192.9 308.6 1191.5 309.2 1190.2 309.8 1188.8 310.4 1187.4 311.0 1186.0 311.7 1184.7 312.3 1183.3 312.9 1181.9 313.5 1180.5 314.1 1179.2 314.7 1177.8 315.3 1176.4 315.9 1175.0 316.5 1173.7 317.1 1172.3 317.7 1170.9 318.3 1169.5 318.9 1168.1 319.5 1166.8 320.1 1165.4 320.7 1164.0 321.3 1162.6 321.9 1161.3 322.5 1159.9 323.1 1158.5 323.7 1157.1 324.3 1155.7 324.9 1154.4 325.5 1153.0 326.1 1151.6 326.7 1150.2 327.3 1148.9 327.9 1147.5 328.5 1146.1 329.2 1144.8 329.8 1143.4 330.5 1142.1 331.3 1140.8 332.1 1139.6 332.9 1138.3 333.8 1137.1 334.7 1135.9 335.5 1134.6 336.4 1133.4 337.3 1132.2 338.1 1130.9 339.0 1129.7 339.9 1128.5 340.7 1127.3 341.6 1126.0 342.5 1124.8 343.4 1123.6 344.2 1122.4 345.1 1121.2 346.0 1119.9 346.9 1118.7 347.8 1117.5 348.7 1116.3 349.6 1115.1 350.5 1113.9 351.4 1112.7 352.3 1111.5 353.1 1110.3 354.0 1109.1 354.9 1107.9 355.8 1106.7 356.7 1105.5 357.6 1104.2 358.5 1103.0 359.3 1101.8 360.1 1100.5 360.8 1099.2 361.4 1097.8 362.1 1096.5 362.7 1095.1 363.3 1093.7 364.0 1092.4 364.6 1091.0 365.2 1089.6 365.8 1088.3 366.4 1086.9 367.1 1085.5 367.7 1084.2 368.3 1082.8 368.9 1081.4 369.6 1080.1 370.2 1078.7 370.8 1077.3 371.4 1076.0 372.0 1074.6 372.7 1073.2 373.3 1071.9 373.9 1070.5 374.5 1069.1 375.1 1067.8 375.8 1066.4 376.4 1065.0 377.0 1063.6 377.6 1062.3 378.2 1060.9 378.8 1059.5 379.3 1058.1 379.9 1056.7 380.5 1055.3 381.0 1053.9 381.6 1052.5 382.1 1051.1 382.7 1049.7 383.3 1048.3 383.8 1047.0 384.4 1045.6 384.9 1044.2 385.5 1042.8 386.1 1041.4 386.6 1040.0 387.2 1038.6 387.7 1037.2 388.3 1035.8 388.9 1034.5 389.6 1033.1 390.4 1031.9 391.2 1030.7 392.2 1029.5 393.2 1028.4 394.2 1027.3 395.3 1026.2 396.3 1025.2 397.3 1024.1 398.4 1023.0 399.4 1021.9 400.5 1020.8 401.5 1019.8 402.6 1018.7 403.7 1017.8 404.9 1017.0 406.1 1016.4 407.4 1015.9 408.9 1015.7 410.3 1015.5 411.8 1015.4 413.3 1015.4 414.8 1015.3 416.3 1015.3 417.8 1015.2 419.3 1015.2 420.8 1015.1 422.3 1015.1 423.8 1015.1 425.3 1015.1 426.8 1015.1 428.3 1015.1 429.8 1015.1 431.3 1015.1 432.8 1015.1 434.3 1015.1 435.8 1015.1 437.3 1015.1 438.8 1015.1 440.3 1015.1 441.8 1015.1 443.3 1015.1 444.8 1015.1 446.3 1015.1 447.9 1015.1 449.4 1015.1 450.8 1015.1 452.3 1015.2 453.8 1015.4 455.1 1015.7 456.5 1016.3 457.7 1016.9 459.0 1017.7 460.2 1018.6 461.4 1019.5 462.5 1020.5 463.6 1021.5 464.6 1022.5 465.5 1023.7 466.3 1024.9 467.0 1026.2 467.7 1027.6 468.4 1028.9 469.1 1030.2 469.8 1031.6 470.4 1032.9 471.1 1034.3 471.8 1035.6 472.5 1037.0 473.1 1038.3 473.8 1039.6 474.4 1041.0 475.0 1042.4 475.6 1043.8 476.2 1045.1 476.8 1046.5 477.4 1047.9 477.9 1049.3 478.5 1050.7 479.1 1052.1 479.6 1053.5 480.2 1054.9 480.7 1056.3 481.3 1057.7 481.9 1059.1 482.4 1060.4 483.0 1061.8 483.6 1063.2 484.2 1064.6 484.7 1066.0 485.3 1067.4 485.9 1068.8 486.5 1070.1 487.1 1071.5 487.8 1072.9 488.4 1074.2 489.0 1075.6 489.6 1077.0 490.3 1078.3 490.9 1079.7 491.5 1081.1 492.1 1082.4 492.8 1083.8 493.4 1085.2 494.0 1086.5 494.6 1087.9 495.3 1089.3 495.9 1090.6 496.6 1092.0 497.3 1093.3 498.1 1094.6 498.9 1095.8 499.8 1097.0 500.7 1098.2 501.6 1099.4 502.5 1100.6 503.4 1101.8 504.3 1103.0 505.2 1104.2 506.2 1105.4 507.1 1106.5 508.1 1107.6 509.1 1108.6 510.3 1109.6 511.5 1110.4 512.8 1111.2 514.1 1111.9 515.4 1112.5 516.8 1113.2 518.1 1113.8 519.5 1114.4 520.9 1114.9 522.3 1115.3 523.8 1115.5 525.2 1115.7 526.7 1115.8 528.2 1116.0 529.7 1116.1 531.2 1116.2 532.7 1116.3 534.2 1116.4 535.7 1116.6 537.1 1116.8 538.5 1117.3 539.8 1117.8 541.0 1118.6 542.2 1119.5 543.3 1120.4 544.4 1121.4 545.5 1122.4 546.7 1123.4 547.7 1124.4 548.8 1125.5 549.8 1126.6 550.7 1127.7 551.5 1129.0 552.1 1130.3 552.8 1131.6 553.3 1133.0 553.9 1134.4 554.5 1135.8 555.0 1137.2 555.6 1138.6 556.2 1140.0 556.7 1141.4 557.3 1142.8 557.8 1144.2 558.4 1145.6 558.9 1147.0 559.5 1148.4 560.1 1149.7 560.6 1151.1 561.2 1152.5 561.7 1153.9 562.3 1155.3 562.8 1156.7 563.4 1158.1 563.9 1159.5 564.4 1161.0 564.9 1162.4 565.4 1163.8 565.9 1165.2 566.4 1166.6 567.0 1168.0 567.5 1169.4 568.0 1170.9 568.5 1172.3 569.0 1173.7 569.6 1175.0 570.2 1176.4 570.9 1177.7 571.6 1179.1 572.4 1180.3 573.1 1181.6 573.9 1182.9 574.7 1184.2 575.5 1185.5 576.3 1186.8 577.0 1188.1 577.8 1189.3 578.6 1190.6 579.4 1191.9 580.2 1193.2 581.0 1194.5 581.7 1195.7 582.5 1197.0 583.3 1198.3 584.1 1199.6 584.9 1200.9 585.7 1202.2 586.4 1203.4 587.2 1204.7 588.0 1206.0 588.8 1207.3 589.6 1208.6 590.4 1209.9 591.1 1211.1 591.9 1212.4 592.7 1213.7 593.5 1215.0 594.3 1216.3 595.1 1217.5 595.9 1218.8 596.7 1220.0 597.6 1221.3 598.5 1222.5 599.3 1223.7 600.2 1225.0 601.0 1226.2 601.9 1227.4 602.8 1228.7 603.6 1229.9 604.5 1231.1 605.3 1232.4 606.2 1233.6 607.1 1234.8 607.9 1236.0 608.8 1237.3 609.7 1238.5 610.5 1239.7 611.4 1241.0 612.2 1242.2 613.1 1243.4 614.0 1244.7 614.8 1245.9 615.7 1247.1 616.6 1248.4 617.4 1249.6 618.3 1250.8 619.1 1252.0 620.0 1253.3 620.9 1254.5 621.7 1255.7 622.6 1257.0 623.5 1258.2 624.3 1259.4 625.2 1260.7 626.0 1261.9 626.9 1263.1 627.8 1264.4 628.6 1265.6 629.5 1266.8 630.4 1268.0 631.3 1269.2 632.3 1270.3 633.4 1271.3 634.5 1272.3 635.7 1273.3 636.8 1274.2 638.0 1275.1 639.2 1276.1 640.4 1277.0 641.5 1277.9 642.7 1278.9 643.9 1279.8 645.1 1280.7 646.3 1281.6 647.4 1282.6 648.6 1283.5 649.8 1284.4 651.0 1285.4 652.2 1286.3 653.3 1287.2 654.5 1288.2 655.7 1289.1 656.9 1290.0 658.1 1290.9 659.2 1291.9 660.4 1292.8 661.6 1293.7 662.8 1294.7 664.0 1295.6 665.1 1296.5 666.3 1297.5 667.5 1298.4 668.7 1299.3 669.9 1300.2 671.0 1301.2 672.2 1302.1 673.4 1303.0 674.6 1304.0 675.8 1304.9 676.9 1305.8 678.1 1306.7 679.3 1307.7 680.5 1308.5 681.8 1309.4 683.0 1310.2 684.3 1311.0 685.6 1311.7 686.9 1312.4 688.3 1313.2 689.6 1313.9 690.9 1314.6 692.2 1315.3 693.5 1316.1 694.8 1316.8 696.2 1317.5 697.5 1318.2 698.8 1319.0 700.1 1319.7 701.4 1320.4 702.7 1321.1 704.1 1321.8 705.4 1322.6 706.7 1323.3 708.0 1324.0 709.3 1324.7 710.6 1325.5 712.0 1326.2 713.3 1326.9 714.6 1327.6 715.9 1328.4 717.2 1329.1 718.6 1329.7 719.9 1330.3 721.3 1330.9 722.7 1331.4 724.2 1331.8 725.6 1332.2 727.1 1332.5 728.5 1332.9 730.0 1333.3 731.4 1333.6 732.9 1334.0 734.4 1334.3 735.8 1334.7 737.3 1335.0 738.7 1335.4 740.2 1335.7 741.7 1336.1 743.1 1336.4 744.6 1336.8 746.0 1337.2 747.5 1337.5 749.0 1337.9 750.4 1338.2 751.9 1338.6 753.3 1338.9 754.8 1339.3 756.3 1339.6 757.7 1339.9 759.2 1340.2 760.7 1340.5 762.2 1340.7 763.7 1340.9 765.1 1341.1 766.6 1341.2 768.1 1341.4 769.6 1341.5 771.1 1341.7 772.6 1341.9 774.1 1342.0 775.6 1342.2 777.1 1342.3 778.6 1342.5 780.1 1342.6 781.6 1342.8 783.1 1343.0 784.6 1343.1 786.1 1343.3 787.6 1343.4 789.1 1343.6 790.6 1343.7 792.0 1343.9 793.5 1344.1 795.0 1344.2 796.5 1344.4 798.0 1344.5 799.5 1344.7 801.0 1344.8 802.5 1345.0 804.0 1345.2 805.5 1345.3 807.0 1345.5 808.5 1345.6 810.0 1345.8 811.5 1345.9 813.0 1346.0 814.5 1346.1 816.0 1346.2 817.5 1346.2 819.0 1346.3 820.5 1346.3 822.0 1346.4 823.5 1346.5 825.0 1346.5 826.5 1346.6 828.0 1346.6 829.5 1346.7 831.0 1346.8 832.5 1346.8 834.0 1346.9 835.5 1346.9 837.0 1347.0 838.5 1347.1 840.0 1347.1 841.5 1347.2 843.0 1347.2 844.5 1347.3 846.0 1347.4 847.5 1347.4 849.0 1347.5 850.5 1347.6 852.0 1347.6 853.5 1347.7 855.0 1347.7 856.5 1347.8 858.0 1347.9 859.5 1347.9 861.0 1348.0 862.5 1348.0 864.0 1348.0 865.5 1348.0 867.0 1348.0 868.5 1348.0 870.0 1347.9 871.5 1347.9 873.0 1347.9 874.5 1347.8 876.0 1347.8 877.5 1347.7 879.0 1347.7 880.5 1347.7 882.0 1347.6 883.5 1347.6 885.0 1347.5 886.5 1347.5 888.1 1347.5 889.6 1347.4 891.1 1347.4 892.6 1347.3 894.1 1347.3 895.6 1347.3" stroke-dasharray="3.00 4.95"/>
</g>
<g clip-path="url(#cr0)"><g transform="translate(1057.5,0) scale(0.3154,0.5)" fill="none" stroke="#2a2eec" stroke-opacity="0.35" stroke-width="3.3" stroke-linejoin="round">
<path vector-effect="non-scaling-stroke" d="M0 636l1 -50 1-57 1-18 1 63 1 57 1-191 1 27 1 213 1-405 1 137 1 164 1-158 1 131 1-40 1-81 1 193 1-174 1-75 1 7 1 154 1-115 1 234 1-133 1-60 1 170 1-118 1-170 1-92 1 180 1-5 1 170 1 23 1 18 1-185 1-19 1 135 1 53 1-141 1-6 1 44 1-132 1 129 1-3 1 97 1-117 1-113 1 120 1-1 1-36 1 16 1-25 1 0 1-8 1 136 1-106 1 178 1-174 1 145 1-112 1-53 1 87 1-51 1 161 1-70 1-147 1 175 1-172 1 193 1-44 1 17 1-103 1-52 1 152 1-82 1-170 1 184 1 46 1-116 1 61 1 44 1 97 1-242 1 133 1-55 1 100 1-222 1 51 1-21 1 103 1-57 1-38 1-12 1 65 1 37 1 30 1 36 1 19 1-127 1 61 1 156 1-165 1-116 1 128 1 140 1-504 1 261 1 55 1 62 1-215 1-5 1 188 1-87 1 38 1-35 1-62 1 58 1 69 1 72 1 14 1-74 1-112 1 79 1 25 1-20 1 22 1-50 1 159 1 73 1-137 1 66 1-259 1 167 1 9 1 118 1-171 1 88 1-165 1 25 1 154 1-114 1-59 1 164 1-182 1 42 1 58 1 20 1 130 1-6 1-149 1-143 1 363 1-259 1 3 1-31 1 172 1-31 1-56 1 101 1 19 1-32 1-77 1-44 1 40 1-11 1 74 1 3 1-174 1 111 1 2 1-96 1-28 1-3 1 79 1 45 1-34 1 11 1-113 1 102 1-33 1 65 1-131 1 314 1-224 1-34 1 181 1-314 1 220 1 1 1 86 1-185 1 61 1 79 1-79 1-44 1-48 1 93 1 112 1-37 1 159 1-143 1-140 1 24 1 57 1 23 1-182 1 120 1-58 1 47 1 103 1-209 1 261 1-3 1-71 1 28 1-16 1 4 1-151 1 88 1-30 1 182 1-66 1-183 1 215 1-223 1 207 1-127 1 110 1-99 1 104 1-59 1-183 1 194 1-229 1 237 1 66 1-118 1 47 1-205 1 84 1-30 1 50 1-180 1 165 1 24 1 131 1 7 1-104 1-76 1-11 1 194 1-141 1 33 1 124 1-155 1 260 1-236 1-215 1 337 1-98 1 174 1-100 1-144 1 170 1-94 1 31 1 2 1-56 1-28 1-68 1 36 1 134 1-187 1 15 1 261 1-208 1-14 1-13 1 38 1 175 1-95 1 161 1-172 1-207 1 125 1-13 1 129 1 46 1 5 1-113 1 89 1-15 1-169 1 258 1-28 1-73 1-40 1 3 1 118 1-150 1 32 1-48 1 137 1-126 1 2 1 86 1-42 1 32 1-181 1 144 1 118 1 21 1-119 1 28 1-24 1-110 1 219 1-70 1-58 1 91 1-149 1 3 1 101 1 94 1-312 1 104 1 4 1 35 1 8 1-80 1 81 1 59 1-129 1 377 1-235 1 12 1-195 1 48 1-125 1 237 1 20 1-111 1-89 1 71 1 15 1-134 1 248 1 46 1-46 1-39 1-69 1-59 1 56 1-102 1 221 1-258 1 256 1-187 1 199 1-123 1 29 1-46 1-21 1 93 1-14 1-31 1 146 1-52 1 80 1-150 1-213 1 142 1 153 1-14 1-160 1 139 1 101 1-52 1 3 1-3 1-161 1 58 1 146 1-86 1 54 1 7 1 26 1-304 1 195 1-87 1-26 1 120 1-90 1-1 1 31 1-185 1 179 1 51 1-85 1-105 1 74 1 140 1 35 1 6 1-24 1-102 1-42 1 290 1-208 1 102 1-170 1-20 1 160 1-30 1 46 1-129 1 188 1-43 1-40 1-181 1-119 1 232 1 118 1-123 1 90 1-128 1 150 1-68 1-35 1-53 1 59 1-127 1 107 1 177 1-252 1 116 1 35 1-205 1 235 1-101 1 75 1-195 1 163 1-59 1 153 1-264 1 235 1-187 1-18 1-11 1-55 1 280 1-150 1 26 1-27 1-62 1 92 1 89 1-68 1-154 1 255 1-119 1 101 1-197 1 256 1-118 1-21 1-24 1-218 1 84 1 242 1-303 1 318 1 58 1-31 1-159 1-32 1 255 1-246 1 70 1-95 1 106 1-123 1 30 1 165 1-245 1 114 1-49 1-48 1 210 1-83 1 69 1 11 1-115 1-8 1-91 1-5 1 132 1 78 1-80 1-205 1 216 1 77 1-46 1-70 1-78 1 15 1 48 1 68 1-42 1 48 1-38 1 18 1-62 1 222 1-137 1-5 1 77 1-89 1 82 1-35 1-35 1-4 1 31 1-159 1 83 1-12 1 9 1 87 1 20 1-164 1 115 1 127 1 39 1-223 1 93 1-64 1 46 1-13 1-23 1 100 1-115 1-95 1 26 1 226 1-33 1-1 1-100 1-106 1 49 1 192 1-165 1-72 1 121 1-223 1 242 1-173 1-118 1 348 1-88 1-88 1-61 1 280 1-218 1 27 1 70 1 37 1-28 1-21 1 89 1-266 1 251 1-62 1 22 1-23 1-50 1 81 1-48 1-186 1 63 1 128 1-115 1 159 1-95 1 155 1-25 1-26 1-198 1 93 1-30 1 38 1-21 1-5 1-32 1 57 1 103 1-12 1-189 1-18 1 78 1 205 1-298 1 115 1 40 1-10 1 39 1-202 1 7 1 258 1-81 1-49 1-89 1 349 1-318 1-68 1 189 1-28 1-121 1 80 1 162 1-15 1-12 1 35 1-132 1 50 1-54 1-65 1-99 1 146 1 191 1-300 1 143 1-122 1 154 1-75 1 44 1-11 1-122 1 183 1-80 1-5 1 60 1 164 1-237 1-175 1 349 1-94 1-88 1-39 1 3 1 21 1 94 1-151 1 141 1-132 1 312 1-116 1-35 1-55 1 226 1-304 1-16 1 18 1 126 1-187 1 190 1-139 1 92 1-4 1 13 1-13 1-107 1-30 1 1 1 48 1 21 1 20 1-121 1 209 1 18 1-66 1 158 1-130 1-17 1 90 1-41 1-122 1 90 1-31 1-90 1 157 1 48 1-103 1-46 1 206 1-228 1 95 1 9 1 41 1-63 1-109 1 39 1-26 1 113 1-185 1 29 1 122 1 238 1-246 1-120 1 132 1 90 1-256 1 219 1-108 1-24 1 210 1-150 1-99 1 144 1-96 1 66 1-99 1-77 1 277 1-75 1-68 1 100 1 18 1-44 1-8 1 36 1-95 1-45 1 6 1 6 1-47 1 240 1-116 1-31 1-32 1 200 1-325 1 260 1-110 1-45 1-31 1 168 1-13 1-90 1-20 1-29 1 92 1 61 1 58 1-289 1 293 1-196 1 39 1-45 1-17 1-37 1 133 1-45 1 216 1-182 1 91 1-71 1-131 1 105 1-92 1 123 1-60 1 80 1-74 1 102 1-42 1-42 1 15 1 13 1-102 1 29 1 100 1-122 1 262 1-151 1-14 1-137 1 175 1 84 1-154 1-141 1 179 1-11 1 11 1-26 1-117 1-63 1 139 1 56 1-184 1 164 1 3 1 42 1-4 1-55 1 52 1-70 1 32 1-44 1 91 1-17 1-45 1 18 1-3 1-100 1 211 1 75 1-246 1 94 1-151 1 135 1 102 1-321 1 171 1 84 1 27 1-126 1 120 1-104 1-70 1 239 1-95 1-82 1-109 1 68 1 132 1-181 1 172 1-19 1-53 1 140 1-109 1-106 1 90 1 77 1 54 1-146 1-30 1 106 1-19 1-74 1 60 1 163 1-233 1 40 1-46 1 143 1 121 1-76 1-147 1-168 1-31 1 198 1 166 1-102 1-77 1 1 1 33 1-116 1 211 1 112 1-114 1 26 1-324 1 233 1 115 1-193 1-35 1 89 1-14 1-77 1 46 1 118 1-125 1-30 1 54 1-49 1 26 1 80 1-8 1-75 1 113 1-161 1-6 1 298 1-177 1 65 1-11 1-76 1 32 1-72 1 23 1-5 1 112 1-41 1-171 1 372 1-396 1 215 1-165 1 169 1-17 1-122 1 66 1-80 1 178 1-29 1 9 1-113 1 5 1 57 1 14 1 3 1-38 1 99 1-84 1 9 1 37 1 3 1-193 1 197 1-100 1-87 1 57 1 69 1-93 1 228 1-17 1-77 1-17 1-12 1-186 1 18 1 162 1-29 1 111 1-118 1 158 1-257 1 182 1-105 1 176 1-252 1 71 1-125 1 177 1 156 1-74 1 43 1-266 1 208 1 12 1-130 1 32 1-22 1 97 1 132 1-54 1 74 1-545 1 258 1 123 1-97 1-5 1 4 1 9 1-32 1 76 1 212 1-155 1-168 1 61 1 297 1-256 1 100 1-30 1 48 1-175 1 83 1-87 1-24 1-19 1-34 1 126 1 7 1 84 1-114 1 76 1 87 1-224 1 44 1 31 1 207 1-147 1 104 1-242 1 97 1-37 1-34 1-37 1 154 1-89 1 35 1-51 1 22 1-79 1 81 1 100 1-60 1 120 1-139 1-111 1 201 1 94 1-144 1 41 1-49 1 57 1-65 1 104 1-243 1 169 1-73 1-23 1 89 1-60 1 69 1 19 1-21 1-71 1 168 1-33 1-10 1-21 1-165 1 112 1 28 1-45 1-86 1 172 1-169 1 315 1-134 1-223 1-8 1 127 1 61 1-120 1 119 1-187 1 34 1 38 1 154 1-398 1 342 1-2 1 19 1-30 1-61 1-32 1 0 1 165 1-51 1-143 1 173 1-45 1 90 1-224 1 88 1 13 1 24 1-99 1 136 1-88 1-206 1 259 1 47 1 35 1-173 1 70 1 79 1 7 1-83 1 99 1-297 1 221 1-2 1-9 1 158 1-30 1-101 1-33 1 114 1-276 1 114 1-76 1 11 1 133 1-261 1 226 1 185 1 44 1-217 1-82 1 75 1-156 1 193 1-85 1-15 1 168 1-129 1-5 1-67 1-11 1 21 1 166 1-143 1-30 1 97 1-68 1-2 1-38 1 104 1-39 1 27 1 13 1 67 1-27 1 73 1-86 1-86 1 6 1-11 1 82 1-141 1 175 1-117 1 31 1 113 1-4 1-139 1 67 1-23 1 41 1-69 1 43 1-58 1 128 1-41 1-61 1 122 1-75 1 15 1-29 1 173 1-328 1 174 1-61 1 151 1 25 1-126 1 35 1-95 1 150 1 6 1-126 1-34 1-20 1 90 1-30 1 103 1-199 1 16 1 3 1 253 1-232 1 153 1-118 1 6 1-72 1 133 1 15 1 62 1 16 1-168 1 143 1-151 1 102 1 18 1-145 1 9 1 175 1-77 1-16 1-64 1 134 1-30 1-29 1-78 1-17 1 136 1-217 1 123 1 118 1 68 1-95 1 172 1-239 1-36 1-65 1 71 1 205 1-129 1-94 1 264 1-119 1-139 1 55 1 187 1-132 1-52 1-195 1 241 1 42 1-110 1-9 1-22 1-79 1 141 1 122 1-133 1 2 1-89 1 12 1 149 1-143 1-21 1 113 1-108 1 72 1-1 1 32 1-90 1 210 1-157 1 132 1-86 1 33 1-88 1 46 1-260 1 175 1 360 1-221 1-47 1-216 1 349 1-168 1 158 1-288 1 276 1-102 1-12 1 137 1-395 1 257 1-171 1 221 1 70 1-158 1 2 1-97 1 216 1 46 1-78 1-98 1-24 1 126 1-37 1-87 1-49 1 160 1-71 1-58 1 163 1-134 1 43 1 18 1-169 1 179 1 75 1-125 1 1 1 128 1-202 1-65 1 217 1 25 1-74 1-125 1 171 1 15 1-12 1-82 1 3 1 38 1-129 1-105 1 273 1-153 1 70 1 130 1-19 1-50 1-44 1 144 1-113 1-89 1 203 1-148 1-154 1 225 1 28 1 155 1-230 1 140 1-205 1-100 1 100 1 130 1-139 1 110 1 60 1-58 1-72 1 60 1-88 1-154 1 146 1-12 1 136 1-189 1 90 1-60 1 169 1-98 1 243 1-184 1 45 1 15 1-257 1 305 1-128 1 0 1-66 1-43 1 243 1-96 1 15 1-134 1-21 1 128 1 13 1 43 1-132 1-120 1 119 1 105 1 12 1-11 1 83 1-314 1 155 1 41 1-249 1 194 1-117 1 112 1-77 1 97 1 43 1-77 1-28 1-33 1 82 1 45 1 12 1-68 1 79 1-15 1-86 1-4 1 8 1 121 1 63 1-162 1 16 1 49 1-59 1-59 1 100 1-59 1 131 1-70 1 57 1 56 1-178 1-11 1 61 1-81 1 35 1 183 1-168 1 191 1-82 1-219 1 119 1-95 1 214 1 86 1-118 1-191 1 33 1-14 1 116 1-6 1 11 1 9 1-38 1-157 1 183 1-147 1 231 1-53 1-84 1 91 1-16 1-24 1 36 1-198 1 39 1 238 1-292 1 164 1 0 1 13 1 263 1-348 1 119 1-56 1 128 1-297 1 255 1 3 1-15 1-83 1-58 1 107 1-38 1 36 1-154 1 98 1 178 1-294 1 105 1-148 1 240 1-10 1-31 1 114 1-95 1-155 1 51 1 293 1-347 1 85 1-42 1 74 1-15 1 13 1 0 1 104 1-196 1 76 1-17 1 4 1 65 1-24 1 119 1-152 1-1 1 52 1 133 1-283 1 143 1-15 1 29 1 26 1-17 1 65 1-49 1-252 1 85 1-79 1 250 1 112 1-45 1-52 1-177 1-13 1 104 1-27 1 1 1 48 1-81 1 165 1-52 1-29 1 142 1-61 1-138 1 8 1 268 1-320 1 52 1-39 1 80 1-63 1 178 1-100 1 79 1-50 1-160 1-43 1 149 1 47 1-118 1 30 1-136 1 120 1 278 1-223 1 38 1 44 1-90 1 8 1 41 1-176 1 104 1-3 1 24 1-99 1 219 1-218 1 137 1-162 1 6 1 84 1 93 1-72 1-8 1 172 1-104 1 35 1-196 1-31 1 229 1-18 1 72 1-149 1-51 1-91 1 288 1-208 1 102 1 55 1-35 1 39 1-117 1 44 1-111 1 162 1 119 1-77 1-127 1 171 1-65 1-124 1 180 1-207 1 46 1 90 1-52 1 44 1-9 1-7 1-34 1 11 1 62 1 21 1-288 1 299 1-88 1-127 1 19 1 162 1-258 1 24 1 196 1 85 1-177 1 79 1 11 1 48 1-19 1-74 1-69 1 272 1 34 1-312 1 171 1-146 1 55 1-106 1 31 1 113 1-11 1-48 1-39 1 131 1 81 1-151 1 14 1 11 1 79 1-153 1 217 1-111 1-168 1 225 1-145 1-4 1 3 1 195 1-248 1 80 1-34 1 18 1 24 1-108 1-20 1 303 1-94 1-58 1 181 1-334 1 210 1-128 1 32 1 44 1 73 1-59 1-45 1-66 1 95 1 19 1-15 1-146 1 93 1 94 1 53 1-78 1 46 1-45 1-168 1 61 1 43 1-17 1-121 1-100 1 217 1 64 1-34 1 7 1 38 1-84 1 249 1-225 1-36 1 155 1 2 1-271 1 264 1-48 1 36 1-14 1 5 1 127 1-422 1 300 1-107 1 46 1-134 1 60 1-39 1-4 1 30 1 76 1-82 1 232 1-230 1 16 1 37 1 154 1-248 1 189 1-125 1 228 1-150 1 44 1 12 1-10 1-229 1 169 1-37 1-169 1 335 1-275 1 179 1 24 1-20 1 124 1-23 1-35 1-52 1-122 1-34 1 138 1-73 1-6 1 65 1-45 1 80 1-111 1 76 1-26 1-21 1 10 1 83 1 58 1-119 1 48 1-4 1-40 1 57 1-112 1 5 1 124 1-121 1 127 1-160 1 10 1 61 1-85 1-12 1 52 1 210 1-180 1-6 1-57 1 169 1-160 1 33 1-5 1 156 1-34 1-188 1 28 1 86 1-109 1 75 1 67 1 104 1-240 1 109 1-37 1 186 1-110 1-82 1 54 1 46 1 34 1-125 1 57 1-3 1-4 1 33 1-29 1 26 1-62 1 131 1-25 1-105 1 19 1-32 1-172 1 117 1-35 1 65 1 52 1 64 1 92 1-37 1 85 1-111 1 41 1-55 1-88 1 37 1-122 1-2 1-11 1 15 1 54 1 76 1-94 1 69 1-4 1-60 1 141 1 47 1-180 1-134 1 61 1 87 1 147 1-68 1 149 1-130 1-257 1 27 1 244 1-63 1 46 1 47 1-101 1 9 1-42 1-17 1-40 1-61 1 135 1 13 1-21 1-43 1 56 1 80 1-43 1-120 1 166 1-172 1 205 1-187 1 1 1 78 1-18 1 20 1-179 1 199 1 26 1-106 1-66 1 70 1 48 1-110 1 167 1 2 1 41 1-227 1 312 1-80 1-144 1-16 1-121 1 120 1 89 1-176 1 29 1-8 1 8 1 50 1 183 1-36 1-281 1 179 1 170 1-171 1-84 1 51 1 37 1 214 1-218 1 19 1-169 1 155 1 6 1 37 1-30 1-39 1 76 1 33 1 33 1-127 1 46 1-3 1 108 1-63 1 94 1-259 1-20 1 69 1 52 1-57 1 182 1-14 1-232 1 206 1-91 1 58 1 164 1-164 1-141 1-44 1 359 1-94 1-88 1-148 1-21 1-34 1-9 1 198 1 51 1-179 1 112 1-28 1 37 1 4 1-124 1 180 1 63 1-91 1-76 1 40 1-16 1 164 1-96 1-182 1 117 1 48 1-169 1 159 1-126 1 51 1-19 1-57 1-117 1 96 1 198 1 24 1-71 1-15 1-84 1 64 1-17 1 174 1-149 1-56 1-107 1 83 1 66 1 120 1-110 1-1 1 15 1-30 1-34 1 6 1-168 1 303 1 52 1-182 1 153 1-93 1-13 1 69 1-152 1 13 1 49 1-45 1-24 1 113 1-88 1 44 1 14 1 45 1-208 1 131 1 163 1-180 1-45 1 67 1-46 1-59 1 112 1 87 1-248 1 84 1-24 1 146 1-86 1 220 1-205 1 237 1-94 1 39 1-243 1 20 1 144 1-172 1 108 1 186 1-140 1 118 1-163 1-29 1 106 1-148 1-21 1 183 1-140 1 66 1 18 1-186 1 225 1-32 1-29 1-62 1-19 1 163 1-217 1-43 1-18 1 173 1 65 1 51 1-134 1 42 1-2 1 53 1 145 1-176 1-11 1 19 1 95 1-104 1-12 1 90 1-168 1 66 1-17 1-26 1 64 1-17 1-60 1-21 1-12 1 104 1-93 1-33 1 237 1-90 1-38 1-2 1-169 1 424 1-242 1-2 1 118 1-37 1-219 1 283 1-218 1 128 1-37 1-20 1-182 1 138 1-16 1-46 1 299 1-379 1 328 1-85 1-135 1 182 1 44 1-269 1 140 1-120 1 41 1 67 1-178 1 184 1-216 1 275 1 9 1-28 1-89 1 130 1-40 1-202 1 116 1-90 1 72 1 93 1 16 1-91 1 11 1 58 1 3 1-190 1 38 1 68 1 63 1 8 1-230 1 246 1-281 1 287 1 75 1-329 1 202 1-154 1 99 1 68 1-113 1 118 1-72 1 57 1 146 1-199 1 91 1-38 1-54 1 172 1-184 1-4 1-124 1 102 1 45 1 96 1-60 1 129 1-171 1 60 1 16 1-37 1-43 1 19 1 136 1-234 1 121 1-30 1 32 1 89 1-114 1 64 1 42 1-92 1-60 1 14 1 39 1 78 1-26 1-19 1 118 1-208 1 68 1 127 1-257 1-41 1 299 1-102 1 61 1-151 1 200 1-175 1 10 1-65 1 273 1-98 1-52 1-109 1 80 1-62 1 27 1 128 1-72 1 27 1-8 1 55 1-157 1 42 1 200 1-241 1 125 1 82 1-249 1 115 1-37 1 49 1-10 1 158 1-234 1 141 1-70 1 10 1 81 1 26 1-101 1-133 1 180 1-5 1-66 1 64 1-177 1 77 1-197 1 220 1-189 1 266 1-79 1 122 1-62 1-7 1-90 1-68 1 152 1 108 1-134 1 17 1 30 1-128 1-25 1 171 1 1 1-216 1 209 1-140 1 166 1-172 1 20 1 5 1-2 1 69 1-104 1-4 1 65 1 38 1-125 1-19 1 200 1-140 1 73 1 281 1-243 1 28 1 26 1-172 1 185 1-161 1 112 1-176 1-21 1 40 1 283 1-41 1-167 1-82 1 171 1-17 1-45 1-54 1 91 1-39 1 8 1 121 1-292 1 8 1 159 1 15 1-189 1-61 1 232 1-53 1 98 1-73 1 275 1-37 1-250 1 63 1-58 1 31 1-50 1 32 1 43 1-59 1 106 1-197 1 224 1-53 1-124 1 121 1-126 1-47 1 62 1 117 1-222 1 134 1 136 1-283 1 173 1-41 1-25 1 134 1-134 1 201 1-24 1-54 1-250 1 153 1-51 1 151 1-95 1 244 1-167 1-68 1 98 1 125 1-28 1-213 1-65 1 163 1-187 1 273 1-182 1 29 1-68 1 240 1-235 1 83 1 94 1-37 1-23 1-50 1 110 1 1 1-91 1 13 1-52 1-37 1 256 1-160 1-33 1 19 1 107 1-170 1-92 1 179 1 59 1-150 1 72 1-10 1-10 1 67 1-43 1 68 1 110 1-277 1 69 1 36 1-133 1 142 1-121 1 27 1 108 1 89 1-165 1 24 1-73 1 240 1-132 1-36 1-10 1 22 1-19 1 249 1-187 1 34 1 79 1-155 1 50 1 71 1 22 1-164 1-41 1 83 1 97 1-120 1-168 1 85 1 102 1-148 1-36 1 84 1-82 1 154 1-41 1 71 1 29 1-40 1 77 1-65 1-225 1 146 1 88 1-182 1 26 1 238 1-34 1-231 1 154 1-9 1 70 1 54 1-214 1 186 1-131 1-123 1 124 1 74 1-83 1 6 1 101 1-72 1 142 1 47 1-108 1 108 1-100 1-49 1-31 1-159 1 266 1-43 1 1 1 51 1-291 1 270 1-51 1-6 1-259 1 272 1 43 1-192 1 183 1 130 1-303 1 19 1 225 1-17 1-114 1 89 1 51 1-29 1-285 1 68 1 206 1-86 1-27 1 45 1-30 1-171 1 230 1 13 1-70 1 61 1-21 1 0 1 52 1-212 1 181 1-192 1 209 1 7 1-114 1 52 1-109 1 16 1-164 1 152 1 179 1-95 1 17 1-16 1-264 1 476 1-286 1 91 1-24 1-104 1 111 1-84 1-47 1 9 1 290 1-110 1 61 1-48 1-57 1-223 1 267 1-33 1-12 1-163 1 201 1-102 1-35 1 24 1 248 1-65 1-192 1 233 1-141 1 119 1-182 1 46 1 141 1-120 1 77 1-47 1-177 1 94 1-6 1-114 1 138 1-117 1 87 1 13 1 64 1 43 1 19 1-9 1-143 1 12 1 122 1-200 1 181 1-23 1 91 1-50 1-166 1 41 1 106 1-180 1 125 1-14 1-95 1 56 1 79 1 68 1-225 1 353 1-168 1 100 1-104 1-140 1 117 1 8 1-36 1-194 1 56 1 109 1 85 1-23 1-73 1 58 1-12 1 87 1 29 1-24 1-128 1 111 1-339 1 195 1-10 1-31 1 195 1 11 1-88 1-83 1 4 1-103 1 23 1 32 1-9 1 81 1-57 1 110 1 13 1-132 1 242 1-286 1-45 1 224 1-121 1 54 1 111 1-132 1-15 1-45 1 129 1-47 1 74 1-156 1 105 1-92 1 148 1-78 1 99 1-15 1-177 1 124 1-10 1-79 1 149 1-264 1 260 1-35 1-252 1 372 1-327 1 129 1-12 1 151 1-118 1 138 1-214 1 119 1 39 1-15 1-32 1-108 1 56 1 111 1 9 1 15 1-174 1 29 1 153 1 46 1-145 1 51 1-108 1 64 1-49 1-40 1-21 1 120 1-90 1 124 1-313 1 235 1-90 1-20 1 140 1 152 1-191 1 54 1-82 1-40 1 144 1 26 1-30 1 28 1 28 1-115 1 92 1-42 1 5 1 26 1-118 1 104 1-36 1-85 1 91 1 121 1-89 1 0 1-107 1-95 1 136 1 34 1-151 1 204 1-96 1-17 1 52 1 13 1-36 1-124 1 86 1 113 1-86 1-62 1-76 1 90 1 58 1-110 1 45 1 69 1 78 1-72 1-81 1 190 1 46 1-196 1 191 1-20 1-100 1 3 1-29 1-10 1-35 1 62 1 67 1-182 1-11 1 41 1 15 1 63 1 80 1-129 1 54 1 119 1-222 1 228 1-89 1-207 1 241 1-94 1-81 1 99 1 130 1-82 1-42 1 132 1-271 1 103 1-37 1 42 1-11 1 73 1 100 1-200 1 62 1-143 1 254 1-123 1-190 1 330 1-14 1-132 1-137 1 270 1-117 1 25 1 35 1-28 1-140 1 101 1 136 1-63 1-68 1 138 1-63 1-26 1 152 1-365 1 320 1-152 1 24 1 40 1-172 1 108 1 85 1-189 1 56 1 151 1 43 1-224 1 98 1 120 1-188 1 186 1-66 1 11 1 102 1-246 1 172 1-168 1 23 1 65 1-18 1-35 1-33 1 109 1-53 1 25 1-76 1-36 1-14 1 146 1 3 1-114 1 93 1-5 1-68 1 8 1-87 1 238 1-220 1 151 1-112 1 187 1-108 1 46 1-226 1 256 1-197 1 183 1 29 1-136 1-69 1 105 1-64 1 34 1 30 1-136 1 129 1-82 1 191 1-90 1-108 1 134 1 150 1-268 1 16 1 85 1-40 1 44 1-72 1-65 1 72 1 40 1 38 1-31 1 33 1-141 1 191 1-43 1-91 1 1 1 8 1 67 1-62 1 153 1 9 1-22 1-158 1-91 1 171 1 12 1-26 1-199 1 148 1 11 1 65 1-104 1-73 1 102 1 96 1-200 1 125 1-169 1 266 1-84 1-42 1 188 1-171 1-49 1 72 1-56 1 26 1 98 1-149 1 141 1-42 1 41 1-132 1 107 1 1 1 148 1-167 1-121 1 283 1-225 1 40 1 155 1-118 1-130 1 90 1-35 1-69 1 135 1-113 1 198 1-35 1-217 1 9 1 38 1 227 1-117 1 287 1-489 1 305 1-7 1-61 1-90 1 88 1-27 1-59 1 27 1 172 1-52 1-270 1 147 1-164 1 33 1 33 1 96 1-137 1 187 1-259 1 158 1-1 1 94 1 17 1-31 1 25 1 32 1 18 1-121 1-91 1-73 1 111 1 82 1-69 1-101 1 145 1-80 1 55 1 24 1 68 1-122 1 146 1 16 1-128 1-57"/>
<path vector-effect="non-scaling-stroke" d="M0 533l1 84 1-44 1-245 1 261 1-101 1-12 1 49 1-107 1 6 1 138 1-219 1 230 1-33 1-26 1-30 1 116 1-119 1 217 1-151 1 37 1-17 1-54 1-28 1 88 1-68 1 136 1-100 1-115 1 143 1-33 1-25 1-73 1 39 1 47 1 74 1-109 1 91 1-107 1 103 1-122 1 62 1-124 1 175 1 116 1-174 1 45 1-35 1-112 1 183 1-138 1-18 1-16 1 267 1-187 1 74 1-41 1 52 1-43 1-111 1-70 1 91 1 169 1-217 1 217 1-75 1-132 1 150 1-113 1 85 1 78 1-120 1 66 1-203 1-8 1 25 1 228 1-259 1 142 1-17 1 27 1 65 1-59 1-66 1-60 1 87 1 49 1 43 1-15 1-171 1 84 1 40 1 164 1 10 1-213 1 4 1-43 1 81 1 74 1 93 1-69 1 128 1-235 1-15 1-81 1 282 1-35 1-178 1 25 1 204 1-113 1-71 1 43 1-67 1 30 1 52 1-82 1 40 1-109 1 230 1-107 1 39 1-38 1-57 1-21 1 246 1-292 1 55 1 1 1 40 1-77 1 47 1 195 1-100 1-36 1 10 1 7 1-93 1 153 1-33 1 22 1-86 1-41 1 119 1-115 1 83 1-174 1 328 1-201 1-103 1 134 1 66 1-21 1-126 1 97 1-142 1 89 1 53 1-10 1-81 1-48 1 161 1 34 1-1 1-147 1-123 1 211 1-106 1 95 1-118 1 215 1-185 1 169 1-41 1-105 1 50 1-15 1-52 1 29 1-117 1 67 1 143 1-70 1 43 1-13 1-197 1 230 1-183 1-22 1-121 1 256 1-23 1-3 1 58 1-193 1-18 1 389 1-182 1-135 1 199 1-30 1-64 1 4 1 15 1-4 1-177 1 379 1-169 1 57 1-123 1 61 1-83 1 42 1-213 1 332 1-75 1-121 1 112 1-47 1 151 1-201 1 75 1-62 1 133 1-33 1 28 1-228 1 308 1-195 1 15 1-91 1 89 1 118 1-138 1 201 1-250 1 105 1 57 1-22 1-97 1 202 1-306 1 220 1-202 1 123 1-162 1 287 1-189 1 85 1 51 1-132 1 96 1 46 1-47 1 51 1-51 1-16 1-101 1 106 1 62 1-138 1 101 1 55 1 21 1-271 1 172 1-157 1 236 1 7 1-253 1-183 1 358 1 3 1 73 1-186 1 203 1-179 1 166 1-346 1 184 1-36 1 253 1-184 1 89 1 22 1-3 1-151 1 71 1 49 1 9 1 4 1-10 1-23 1 79 1-22 1 124 1-203 1-55 1 96 1-170 1 195 1-72 1-102 1 83 1 93 1-104 1 68 1-136 1 31 1 89 1-67 1-112 1 57 1 24 1 94 1 37 1 15 1-161 1 190 1-134 1-109 1 289 1-175 1 121 1-78 1-58 1 136 1 30 1-83 1-55 1 54 1 51 1-148 1 163 1 29 1-140 1-190 1 245 1-37 1 84 1-38 1 48 1-127 1 86 1 10 1-155 1 215 1-215 1 100 1 66 1-80 1 22 1-53 1 48 1-193 1 78 1-6 1 210 1-78 1-138 1 53 1 52 1 9 1-102 1 265 1-93 1 47 1-229 1 229 1-101 1-146 1 149 1-53 1 23 1-58 1-145 1 312 1-102 1-156 1-72 1 243 1-145 1 65 1 3 1 185 1 19 1-159 1 23 1-2 1 98 1-238 1 147 1-274 1 279 1-55 1-34 1 99 1 59 1-40 1-52 1 47 1-230 1 231 1-116 1-4 1 56 1 114 1-143 1-39 1 69 1 14 1 198 1-98 1-82 1-33 1-51 1 95 1-43 1 108 1-149 1-8 1 75 1-97 1 113 1 18 1-18 1-211 1 330 1-163 1 49 1-41 1 142 1-198 1 6 1 83 1 14 1-44 1-80 1 223 1-264 1 155 1-104 1 150 1-256 1 157 1-139 1 217 1 3 1-160 1 38 1 32 1-81 1 74 1 68 1 139 1 40 1-268 1 7 1 132 1-129 1 66 1-21 1-84 1 229 1-174 1-15 1 63 1-31 1 117 1-116 1-43 1-13 1 132 1-135 1 45 1-32 1 63 1-60 1 39 1-212 1 257 1-130 1 105 1 132 1-176 1-68 1 42 1-2 1 143 1-100 1 152 1-288 1 22 1 235 1-59 1 76 1-43 1-28 1 66 1-64 1-99 1 83 1-90 1 80 1-24 1 123 1-198 1 186 1-70 1 84 1-161 1 139 1-145 1-128 1 148 1 236 1-295 1 74 1-40 1 18 1-68 1 13 1 97 1 107 1-105 1-77 1 237 1-181 1 175 1-263 1-70 1 92 1 117 1-109 1-51 1-32 1 24 1 30 1 188 1-80 1-51 1 38 1 179 1-159 1 48 1-82 1-13 1 161 1-61 1-83 1 109 1-91 1 73 1-12 1-143 1 91 1 38 1-189 1 168 1-25 1-5 1 81 1-136 1-21 1 111 1-109 1-26 1 208 1-145 1-112 1-17 1 145 1-195 1 278 1-156 1 46 1 143 1-186 1 206 1-56 1-50 1 100 1-215 1 146 1 72 1-135 1 24 1 97 1-49 1-130 1 7 1 216 1-230 1-1 1-16 1 147 1 26 1-60 1 49 1-35 1 31 1-29 1 19 1-47 1-12 1 38 1 26 1-196 1 63 1 40 1 123 1-136 1 71 1-68 1 33 1-218 1 237 1 93 1-189 1-6 1-17 1 201 1 5 1-10 1 74 1-159 1-47 1-38 1 15 1 81 1-140 1 120 1 46 1 6 1 40 1-99 1 69 1-8 1-154 1 194 1 56 1-146 1-36 1 69 1-10 1 53 1 67 1-51 1 28 1-208 1 135 1-151 1 141 1 70 1-99 1-2 1-102 1 304 1-145 1-75 1 105 1-79 1 37 1-157 1 16 1 301 1-47 1-68 1-65 1 8 1 32 1-101 1-24 1 69 1 36 1-31 1 79 1-150 1 0 1 158 1-216 1 137 1-79 1 75 1 16 1-81 1 153 1-67 1 86 1-152 1 65 1 8 1 19 1-106 1 34 1 44 1 22 1-206 1 27 1 239 1-212 1 62 1 20 1-11 1 162 1-357 1 42 1 188 1 2 1-12 1 74 1-109 1 52 1 94 1-53 1 15 1-4 1-24 1-86 1 94 1 109 1-277 1 184 1-184 1 109 1-27 1 125 1-85 1 43 1-29 1-48 1 78 1-110 1 203 1-31 1-136 1-8 1-50 1-51 1 107 1-28 1 45 1 9 1 22 1-19 1 60 1-36 1-86 1 27 1-59 1 146 1-10 1-71 1 116 1 4 1-136 1 82 1-104 1 70 1 47 1 55 1-201 1 115 1 73 1 55 1-22 1-76 1-147 1 194 1-108 1 6 1-59 1 195 1-187 1 258 1-286 1 101 1 151 1-320 1 182 1-155 1 125 1 86 1-168 1-63 1 49 1 222 1-163 1 162 1-52 1-176 1 251 1-364 1 374 1-21 1-185 1 86 1-5 1 71 1-150 1 46 1 27 1 66 1 62 1-134 1 202 1-144 1-116 1-5 1 99 1 129 1-216 1-30 1 75 1-112 1 24 1 244 1-131 1 24 1-188 1 46 1 87 1-41 1-29 1 144 1-48 1-7 1 29 1-8 1-51 1 139 1-13 1-175 1-69 1-33 1 331 1-192 1 110 1-27 1-29 1-56 1-15 1 44 1 62 1-153 1 87 1 157 1-56 1-16 1-165 1-69 1 261 1-146 1 72 1-78 1 73 1 82 1-43 1 0 1-192 1 201 1-118 1 127 1-16 1-81 1 72 1-233 1 62 1 222 1-149 1-91 1 247 1-73 1-172 1 211 1-133 1 65 1-24 1 111 1-88 1 33 1-201 1 104 1 48 1 11 1-63 1 206 1-53 1-7 1-11 1 76 1-196 1 90 1-157 1 125 1 23 1-73 1 0 1 65 1-78 1-62 1 155 1-158 1 135 1-96 1 82 1 31 1-62 1 129 1 43 1-141 1 18 1 80 1-298 1 160 1 102 1-112 1-2 1 84 1-14 1 146 1-188 1-153 1 70 1 9 1 147 1 45 1-177 1 53 1 44 1 11 1-113 1 28 1 99 1-32 1 139 1-43 1-158 1 93 1 37 1-103 1-90 1 190 1-46 1-7 1-251 1 137 1 67 1 153 1-197 1 17 1 69 1 50 1-27 1 108 1-114 1 7 1 40 1-53 1 113 1-243 1 116 1 93 1-176 1 19 1 95 1 74 1-113 1-48 1-15 1-25 1 6 1 209 1-143 1 178 1-254 1 50 1-49 1 82 1 4 1 48 1-190 1 159 1-259 1 126 1 135 1-49 1-11 1 92 1-52 1-31 1 76 1-86 1-70 1 36 1 50 1 39 1-80 1 113 1 9 1-172 1 148 1 88 1-197 1 11 1-36 1 109 1-112 1 114 1 79 1-75 1-38 1 120 1-82 1-38 1 60 1-45 1 9 1 70 1-102 1-22 1 231 1-119 1-134 1 32 1 209 1-190 1-105 1 48 1 9 1 78 1-17 1 109 1-104 1-211 1 214 1 80 1-129 1 228 1-391 1 154 1 79 1 8 1 49 1-92 1 7 1 142 1-227 1 120 1 66 1-181 1 17 1 117 1 7 1-156 1 133 1-54 1-105 1 231 1 26 1-59 1-24 1 256 1-395 1 125 1-191 1 133 1 195 1-172 1-67 1-35 1 162 1-55 1-215 1 192 1 96 1 53 1-97 1-72 1 132 1-221 1 189 1 102 1-227 1 54 1 24 1-135 1 168 1-116 1 109 1-195 1 147 1-1 1-51 1 60 1-48 1 61 1-76 1 50 1 53 1-98 1 8 1 137 1-69 1 123 1-158 1-65 1-152 1 200 1-67 1-39 1 67 1 229 1-123 1-72 1 4 1 16 1 91 1 85 1-199 1-70 1 146 1-91 1 96 1-35 1 39 1-125 1 155 1-94 1-68 1 82 1 107 1-143 1 50 1 99 1-98 1 9 1-79 1 96 1-51 1-45 1 221 1-254 1 85 1 90 1-100 1-80 1 153 1-12 1-171 1-18 1-40 1 176 1 88 1 0 1-56 1 60 1-127 1-74 1 207 1-226 1 212 1-19 1 61 1-186 1 71 1-9 1-13 1 67 1-79 1 73 1-224 1 150 1-69 1 123 1-107 1-34 1-125 1 330 1-282 1 285 1-110 1 48 1-20 1 155 1-145 1 81 1-89 1-41 1 17 1 15 1-134 1 95 1-24 1-67 1 125 1-15 1-50 1 83 1-135 1 167 1-37 1-6 1 16 1-27 1 41 1 173 1-317 1 140 1-102 1 160 1-147 1 167 1-245 1 142 1 28 1-59 1 223 1-158 1 13 1-1 1-9 1-130 1 121 1 0 1 31 1 29 1-128 1 71 1-5 1-59 1 21 1-64 1 4 1 180 1-45 1-155 1 119 1-90 1 134 1 146 1-28 1-135 1-23 1-256 1 151 1 4 1-20 1 224 1-148 1 14 1-189 1 241 1 68 1-136 1 23 1-26 1-12 1 6 1 70 1-17 1-254 1 269 1-100 1 134 1 63 1-232 1 61 1-102 1 24 1 71 1 88 1-244 1 170 1-193 1 134 1-20 1 26 1 13 1 58 1-237 1 297 1 55 1-161 1 84 1-145 1 103 1-121 1 96 1 78 1-40 1-90 1 116 1 19 1-57 1-44 1-82 1 73 1-39 1 93 1-185 1-34 1 260 1-79 1 33 1-39 1 55 1 35 1 53 1-70 1-46 1-90 1 42 1 86 1 22 1 75 1-193 1 52 1-45 1-13 1 19 1 57 1 17 1 63 1-32 1-94 1-171 1 245 1-56 1-111 1 123 1 39 1-31 1 24 1 149 1-243 1 231 1-107 1-11 1-76 1 59 1 24 1 35 1-97 1 52 1 34 1 56 1-41 1-89 1 152 1-150 1 5 1-94 1 163 1 26 1-77 1 26 1-24 1-115 1 85 1 9 1 84 1-104 1 57 1-166 1 80 1-65 1 235 1-31 1-41 1 18 1-198 1 111 1 127 1-71 1-188 1 191 1-81 1 205 1-102 1-35 1 9 1-23 1-31 1-70 1 255 1-159 1-57 1 42 1-81 1 113 1 26 1 35 1-153 1 194 1-76 1-34 1-57 1 79 1 58 1-134 1 153 1-37 1 113 1-192 1 4 1 166 1-133 1-69 1 108 1 89 1-139 1-62 1 217 1-238 1 81 1-87 1 173 1-174 1 54 1-41 1 63 1-81 1 102 1 23 1 53 1 47 1-144 1 36 1-21 1 16 1-55 1 26 1 56 1-118 1-125 1 268 1-39 1-87 1 112 1-154 1 150 1 46 1-23 1-177 1 271 1-190 1 201 1-255 1 29 1-24 1-137 1 199 1-110 1 50 1-42 1 158 1-166 1 126 1-161 1 48 1 76 1-47 1 4 1 27 1 91 1 1 1 47 1-3 1-97 1-17 1-65 1-28 1 65 1 9 1 95 1-172 1-34 1 133 1-74 1 119 1-54 1-11 1-67 1 205 1-135 1-73 1 49 1-28 1 285 1-149 1-38 1 30 1 143 1-304 1 73 1 195 1-128 1-46 1-82 1 27 1 150 1-32 1-78 1-68 1 128 1 17 1-107 1 39 1-110 1 80 1-46 1 263 1-52 1 15 1-75 1-91 1 55 1-69 1 113 1-154 1 12 1 230 1-59 1-39 1-128 1 3 1-94 1 299 1-154 1 21 1 24 1-12 1 173 1-211 1 64 1 75 1-240 1 190 1-83 1 83 1 78 1-98 1-70 1 119 1-136 1-110 1 48 1 134 1 44 1-154 1 207 1-32 1-252 1 123 1-10 1 69 1-95 1 92 1-12 1-89 1 100 1-67 1-81 1 4 1 138 1-58 1 105 1-157 1-45 1 80 1 60 1 90 1-10 1 62 1-52 1-19 1-145 1 217 1-189 1 215 1-428 1 303 1-66 1-149 1 181 1-27 1-4 1-38 1 96 1-208 1 58 1 92 1-99 1 121 1 38 1-38 1-52 1 184 1-112 1-70 1 141 1-130 1 131 1-119 1 25 1-37 1 98 1 112 1-247 1 150 1 53 1-54 1 72 1-279 1 62 1-12 1 182 1-197 1 163 1-184 1 122 1 208 1-206 1 71 1-313 1 355 1-94 1-2 1 52 1-10 1-62 1-36 1 71 1-14 1-25 1 88 1-66 1-24 1-92 1 33 1 16 1-38 1 155 1-175 1 138 1-20 1 24 1-97 1 118 1-111 1 85 1 14 1-81 1 114 1-187 1 175 1-22 1-153 1 245 1-217 1 76 1-2 1-9 1 101 1-235 1 103 1-10 1-14 1-15 1 60 1 114 1 32 1 7 1-83 1-131 1 209 1-87 1-85 1 85 1-7 1 74 1-112 1 68 1 11 1-27 1-69 1-55 1 193 1-149 1 145 1 67 1-107 1-66 1 10 1-38 1 217 1-310 1 52 1 14 1 204 1-185 1 86 1-1 1-46 1 146 1-242 1 5 1 20 1-56 1 280 1-126 1 4 1 82 1-186 1-169 1 337 1-147 1 44 1-7 1 4 1-52 1 118 1-21 1-187 1 150 1 2 1 156 1-199 1-13 1 31 1-118 1 320 1-257 1 226 1-51 1 84 1-251 1 85 1 29 1-42 1 193 1-134 1-73 1 72 1-48 1 137 1-157 1 43 1-47 1-121 1 134 1 61 1-88 1 135 1-248 1 148 1-1 1-43 1 158 1-111 1 19 1-218 1 68 1-36 1 162 1-9 1-81 1 155 1 22 1-224 1 99 1 0 1 195 1-114 1 3 1 22 1-92 1 111 1 24 1-284 1 135 1 135 1-288 1 144 1 18 1 46 1-150 1 118 1-96 1-46 1 271 1-286 1 95 1 64 1 221 1-393 1 151 1-26 1 161 1-161 1 3 1-84 1 219 1 113 1-141 1 34 1-113 1 39 1-33 1-96 1-39 1 148 1 148 1-141 1 18 1-11 1 6 1-10 1 198 1-248 1 4 1 15 1 41 1-90 1 231 1-140 1-61 1 92 1-34 1-95 1 105 1 63 1-36 1-75 1 126 1-94 1 37 1-41 1-62 1 2 1 59 1-14 1-49 1 138 1-83 1 115 1-211 1 100 1 123 1-72 1-108 1 41 1 170 1-302 1 136 1-13 1 60 1 44 1 61 1-146 1 15 1 20 1-89 1 38 1 119 1-55 1-134 1 220 1-315 1 241 1-286 1 198 1 180 1-181 1 32 1 45 1-42 1-1 1-122 1 62 1 90 1-27 1-61 1 63 1 108 1-180 1 100 1-49 1 84 1-50 1 74 1-228 1 234 1-179 1 250 1-187 1 47 1-112 1 66 1-187 1 189 1 67 1-110 1 145 1 2 1-81 1-83 1 20 1 74 1-116 1 204 1-25 1-73 1 153 1-280 1 131 1 18 1-69 1 320 1-271 1 140 1-136 1-25 1-133 1 142 1-120 1 122 1 142 1-210 1 60 1 58 1-133 1 176 1-60 1-96 1-13 1 133 1-85 1 20 1-48 1 76 1 167 1-155 1-168 1 210 1-57 1-91 1 94 1 76 1-94 1 15 1 60 1-64 1 110 1 16 1-39 1-84 1-17 1 54 1-150 1 43 1 49 1-97 1-32 1 70 1 112 1-125 1-30 1 68 1 46 1-34 1-5 1 191 1-304 1 138 1-177 1 175 1 77 1-144 1 65 1-71 1 117 1 2 1 20 1 1 1-98 1 150 1-128 1-81 1 182 1-65 1 49 1-35 1-46 1-48 1-17 1 137 1-118 1 114 1 48 1-16 1 85 1-174 1 166 1-180 1-228 1 328 1 104 1-219 1 126 1-89 1-4 1-20 1-191 1 182 1 5 1 31 1 56 1-9 1 38 1-171 1 90 1-73 1 30 1-177 1 213 1-63 1 108 1-157 1 120 1-21 1 125 1-172 1-101 1 28 1 218 1-176 1 142 1 84 1-36 1-224 1 140 1 81 1-140 1 2 1 57 1-71 1 77 1-144 1 42 1 74 1-37 1-48 1 90 1-56 1 57 1 19 1 141 1-58 1-20 1-94 1-241 1 330 1-44 1 76 1-80 1-14 1-81 1 185 1-168 1 23 1 48 1 85 1-17 1-76 1-69 1 60 1 59 1-93 1 118 1-163 1-47 1 168 1-144 1 179 1-95 1-40 1-61 1 106 1-119 1 235 1-95 1-18 1-9 1 19 1-181 1 204 1-125 1 52 1-151 1 208 1-84 1 13 1 212 1-198 1-57 1-46 1 234 1-78 1-129 1 212 1-29 1-125 1-9 1-60 1 19 1 83 1 112 1-36 1-58 1-34 1 29 1-67 1 139 1-29 1 78 1-303 1 200 1-102 1-27 1 82 1 48 1 28 1-21 1 132 1-107 1-117 1 42 1-48 1 3 1 8 1 53 1-7 1-66 1 116 1 89 1-196 1 72 1-94 1 155 1 91 1-133 1 42 1 29 1-226 1 115 1 131 1 38 1-135 1-61 1 27 1-80 1 76 1-14 1 213 1-286 1 165 1-133 1 223 1-58 1-188 1 217 1-126 1 50 1-194 1 125 1-83 1 120 1 149 1-341 1 240 1-56 1 8 1 138 1-205 1 98 1 124 1-24 1 73 1-135 1-52 1 69 1-82 1 28 1-77 1 46 1 16 1 58 1 34 1-25 1-115 1 77 1-176 1 60 1 195 1-162 1-72 1 170 1-169 1 176 1-209 1 95 1 69 1 130 1-140 1 58 1-101 1 113 1-122 1 85 1-95 1-22 1 58 1-29 1-54 1 185 1-140 1 32 1-125 1 163 1-105 1 241 1-266 1 75 1 4 1-46 1 194 1-94 1-27 1 35 1 19 1-133 1 84 1 24 1-25 1-116 1-52 1 73 1 54 1 165 1-70 1 34 1 1 1-193 1 162 1-179 1 115 1 22 1 6 1 110 1-92 1-113 1 15 1 48 1-47 1 47 1-22 1-191 1 214 1 168 1 34 1-124 1-85 1-69 1 91 1-15 1-42 1 142 1-83 1-35 1 65 1 40 1-122 1-52 1 93 1 222 1-145 1-33 1-76 1 82 1-4 1-126 1-26 1 107 1 106 1 11 1-166 1 127 1-67 1 14 1-29 1-17 1 123 1-35 1-74 1 14 1 124 1-296 1 300 1-218 1 239 1-232 1 244 1-239 1 66 1-55 1 138 1-90 1 1 1 8 1 64 1-172 1 284 1-24 1-6 1-260 1 208 1-14 1 0 1-37 1-5 1 20 1 93 1-174 1 38 1-137 1 99 1 44 1 122 1-136 1-46 1-99 1 116 1-36 1 18 1-95 1 46 1 98 1 134 1-278 1 140 1 80 1 58 1 29 1-182 1 38 1-42 1-82 1 164 1-81 1 74 1 31 1 126 1-134 1-168 1 144 1-74 1 16 1-177 1 55 1 191 1-20 1-142 1 82 1 11 1-97 1 55 1 37 1 149 1-173 1 158 1-151 1 6 1-131 1 125 1 86 1-90 1 144 1-78 1-64 1 109 1 104 1-86 1-21 1-123 1 93 1-35 1 79 1-91 1 63 1-107 1 30 1-109 1 79 1 81 1 50 1-97 1-47 1-75 1 191 1 69 1 45 1-73 1-72 1 8 1 3 1-23 1-34 1 181 1-154 1 19 1 1 1 24 1 128 1-209 1 85 1-32 1-38 1 24 1-33 1-2 1 122 1 19 1-175 1 142 1-268 1 297 1-113 1 21 1-30 1 108 1-113 1-152 1 230 1 154 1-259 1 20 1-23 1 132 1-109 1-42 1 122 1-48 1-41 1-20 1 86 1-38 1-163 1-3 1 277 1-293 1 233 1-128 1 205 1-93 1 41 1-130 1 54 1-20 1 3 1 18 1-64 1 71 1 19 1 49 1 24 1-33 1-80 1-58 1 101 1-191 1 70 1 107 1-28 1 34 1 160 1-235 1 54 1 167 1-226 1 128 1-29 1 131 1-149 1-336 1 371 1-37 1 167 1-214 1 51 1 0 1-63 1-32 1 98 1-87 1-85 1 263 1-105 1 152 1-175 1-91 1 134 1 91 1-54 1-85 1 170 1-8 1-166 1 162 1-128 1 102 1 47 1-214 1-29 1 170 1-282 1 198 1-34 1 31 1 113 1-190 1 79 1-33 1 32 1 48 1-253 1 178 1 59 1-80 1 168 1-141 1-221 1 314 1-105 1 150 1-109 1-96 1 190 1-7 1-188 1 81 1-36 1 12 1 163 1 37 1 16 1-213 1 172 1 31 1-108 1-37 1-36 1 185 1-281 1 204 1-98 1 18 1 85 1-125 1 5 1-71 1-75 1-22 1 112 1 24 1 93 1 103 1-174 1 90 1-28 1 19 1-81 1 74 1-259 1 144 1 124 1-79 1-94 1 235 1-127 1 67 1-54 1 50 1-61 1-25 1-15 1 190 1-197 1 60 1 60 1-52 1-152 1 161 1 64 1-142 1 81 1-82 1 39 1-100 1 179 1-21 1-133 1-58 1 137 1-91 1 67 1 42 1 150 1-346 1 91 1 318 1-284 1 125 1 39 1-40 1-118 1 71 1 14 1-3 1 19 1-82 1 233 1-64 1-106 1 92 1-121 1 48 1-69 1 50 1-69 1 54 1-67 1 97 1 127 1-160 1-2 1 47 1-136 1 43 1-95 1 174 1 2 1-82 1-91 1 199 1-108 1 48 1 24 1-110 1 3 1 15 1 122 1-58 1 150 1-199 1 165 1-93 1-100 1 97 1-35 1 73 1-307 1 357 1-58 1-40 1-263 1 300 1-57 1-67 1 262 1-272 1 48 1-107 1-3 1 95 1-56 1 158 1 45 1-83 1-39 1 45 1-67 1-18 1-105 1 175 1 28 1-85 1 22 1-33 1-105 1 231 1-141 1-57 1 6 1 251 1-106 1-144 1 116 1-39 1 50 1-128 1 96 1 48 1-35 1-118 1 92 1 182 1 41 1-247 1 214 1-162 1 78 1-83 1 86 1 153 1-343 1 131 1 13 1-158 1 81 1-37 1 119 1-30 1-29 1 95 1-128 1 35 1 66 1 9 1-114 1 93 1-51 1 10 1 44 1 54 1-103 1-41 1 129 1 2 1-138 1 186 1-219 1 61 1-74 1 127 1-13 1-16 1 163 1-59 1-178 1 160 1 25 1-115 1-94 1 128 1 19 1-21 1-41 1 178 1-172 1-4 1-58 1-3 1 39 1-128 1 183 1 11 1-157 1 136 1 62 1-3 1-47 1 120 1-209 1 61 1-87 1 205 1-60 1 26 1-104 1 13 1-33 1 5 1 158 1-121 1 17 1 10 1-47 1 212 1-106 1-36 1 51 1 28 1-184 1 5 1-76 1 237 1 126 1-266 1 89 1 66 1-140 1 54 1 145 1-159 1 153 1-192 1 159 1 24 1-198 1-19 1 106 1 79 1-155 1 42 1-9 1 55 1 98 1-90 1-169 1 186 1-49 1-5 1-88 1 58 1 62 1-206 1 154 1-12 1 85 1 76 1-174 1 70 1-58 1 227 1-349 1 146 1-67 1 165 1-103 1-5 1-85 1 29 1 248 1-198 1 7 1 40 1-47 1-32 1-34 1 185 1-26 1-78 1-54 1 142 1-85 1 112 1-115 1 19 1-60 1-78 1 191 1-106 1 175 1-165 1-131 1 293 1-90 1-37 1-46 1-161 1 280 1-111 1-94 1 191 1-86 1 85 1-26 1-44 1-75 1 57 1 23 1 12 1-111 1 51 1 8 1 199 1-144 1 76 1-252 1 98 1-71 1 203 1 62 1-64 1-128 1 117 1-125 1-57 1 150 1-117 1 283 1-86 1-56 1-24 1 97 1-94 1-125 1 17 1 37 1 119 1-208 1 69 1 147 1-177 1 118 1-79 1 14 1-18 1-83 1-101 1 199 1 24 1 14 1-45 1-12 1 168 1-125 1-205 1 145 1-29 1 101 1-204 1 147 1 80 1 38 1-108 1-119 1 219 1 30 1 120 1-270 1 159 1-30 1 30 1-16 1-147 1 138 1-83 1 80 1-32 1-91 1 1 1 162 1-106 1 86 1-147 1 118 1 28 1-156 1 124 1-61 1-52 1 111 1-19 1-81 1-157 1 157 1-13 1 63 1 6 1-138 1 201 1-4 1-195 1 202 1 42 1-154 1-46 1-71 1-45 1 408 1-186 1 11 1-62 1 109 1-79 1-22 1 8" stroke-dasharray="11.10 4.80"/>
<path vector-effect="non-scaling-stroke" d="M0 677l1 -122 1-2 1-52 1 27 1 88 1-90 1 90 1-233 1 165 1-19 1 38 1-65 1-19 1 34 1 85 1-200 1 105 1 169 1 38 1-104 1 4 1 44 1-62 1-121 1-84 1 94 1-11 1-73 1-99 1 98 1 49 1 69 1 82 1-134 1-70 1 81 1 80 1-106 1 63 1 48 1 124 1-231 1 113 1-169 1 167 1-68 1 61 1-216 1 38 1 125 1-132 1 247 1-177 1 114 1-40 1 31 1-100 1 219 1-119 1-171 1 339 1-193 1 105 1-228 1 66 1 83 1-163 1 288 1-206 1-111 1 315 1-230 1-4 1 45 1-110 1 66 1 130 1 5 1-60 1-165 1 164 1-95 1 96 1-72 1 8 1-63 1-57 1 217 1 60 1-100 1-4 1-29 1-68 1 133 1-41 1-1 1-101 1 143 1-152 1-70 1 201 1-153 1 80 1 57 1-195 1 74 1 143 1-82 1 117 1 65 1-227 1 96 1-153 1 138 1-11 1 36 1-26 1 91 1-53 1 140 1 6 1-40 1-68 1-50 1 8 1-125 1-131 1 470 1-364 1 48 1 141 1-69 1 194 1-158 1-167 1 258 1-54 1-67 1-53 1 59 1 54 1-111 1 117 1-287 1 116 1 105 1 87 1-23 1 16 1-38 1-71 1 161 1-136 1 15 1 90 1-208 1 73 1 16 1 84 1 16 1-73 1 139 1-169 1 140 1-104 1-64 1 87 1 37 1 10 1-84 1 117 1-99 1-94 1 262 1-97 1-100 1 129 1-6 1 17 1-193 1 276 1-184 1 8 1-20 1 75 1-80 1 57 1 31 1-328 1 155 1 194 1-34 1-107 1-91 1 150 1-85 1 48 1-90 1 159 1 21 1-98 1 0 1 22 1-109 1 48 1 54 1 119 1-173 1-16 1 140 1-52 1 94 1-114 1 32 1 141 1-162 1 31 1 1 1-127 1 50 1-36 1 111 1-154 1 195 1-140 1 205 1-157 1 115 1 39 1-196 1 45 1-30 1 43 1-21 1 28 1 12 1-26 1-206 1 310 1 44 1-53 1-22 1-114 1-51 1-4 1 124 1-87 1-104 1 110 1-60 1 209 1-172 1 7 1 188 1-117 1-55 1 141 1-166 1-6 1 61 1 38 1 8 1-53 1-67 1 228 1-143 1-5 1 105 1 38 1-99 1 134 1-174 1 47 1 77 1-103 1 80 1-11 1-176 1 181 1 64 1-164 1 125 1-13 1-225 1 148 1-82 1 204 1-31 1-18 1-145 1 130 1 113 1-246 1 120 1-58 1-62 1-131 1 205 1-149 1 273 1-143 1-12 1 233 1-113 1-24 1-115 1 93 1-6 1 24 1-107 1 48 1 2 1 14 1-85 1 130 1-65 1-4 1-35 1-57 1 60 1 155 1-216 1-20 1-6 1 36 1 223 1-132 1-86 1-2 1 83 1-21 1 114 1-139 1 225 1-168 1-108 1 198 1-227 1-65 1 132 1 97 1-3 1 66 1-179 1 170 1-121 1 119 1-151 1 177 1-116 1 56 1-160 1 130 1-22 1-118 1 206 1 12 1-108 1 89 1-248 1 141 1-11 1 55 1-84 1-63 1 128 1 172 1-83 1-97 1-116 1 82 1-3 1 4 1 114 1-21 1-64 1 125 1-126 1-59 1 282 1-199 1 5 1-35 1-151 1 288 1-306 1 115 1-174 1 272 1-69 1 46 1-59 1 131 1-10 1-58 1-75 1 180 1-89 1 28 1-86 1-49 1 214 1-44 1-60 1 61 1-224 1-25 1 86 1 21 1 151 1-13 1-129 1-96 1 169 1-60 1-121 1-11 1 252 1-118 1-44 1 221 1-106 1-63 1 68 1-98 1 85 1 121 1-40 1 80 1-73 1-176 1 28 1-20 1-72 1 225 1-59 1-59 1-141 1 127 1 39 1-41 1 113 1 94 1-223 1 85 1-82 1 152 1-26 1-155 1 52 1-68 1 150 1-70 1-58 1-18 1 87 1-31 1 35 1 5 1-8 1-48 1 166 1-119 1 92 1-96 1 26 1-40 1 41 1-9 1 114 1-255 1 253 1 46 1-203 1-22 1 63 1 23 1 75 1-276 1 326 1-373 1 362 1-49 1-72 1 19 1-88 1 125 1-46 1 111 1-253 1 137 1 42 1-73 1-82 1 49 1 100 1-81 1-18 1-8 1 67 1-92 1 165 1-114 1 87 1-82 1 60 1-118 1 100 1-146 1 195 1-181 1 173 1 157 1-144 1-172 1 61 1-26 1 81 1-68 1 124 1-251 1 12 1 103 1 97 1 6 1-119 1 24 1 116 1-152 1-12 1 27 1 15 1 14 1 22 1 27 1 29 1-169 1 253 1-152 1-68 1-138 1 248 1-158 1 9 1 29 1-83 1 320 1-242 1 98 1-51 1 53 1 66 1 91 1-208 1 61 1 101 1-111 1 91 1-20 1-98 1-54 1 247 1-167 1-63 1 173 1-87 1-59 1-55 1 192 1 43 1-90 1-10 1-44 1-8 1 180 1-241 1 218 1-184 1-14 1 7 1 11 1-5 1 107 1 4 1-274 1 52 1 21 1 47 1 222 1-318 1 193 1-18 1-73 1 134 1-183 1 349 1-342 1 65 1 128 1-158 1-29 1 33 1-12 1 110 1-120 1 0 1-21 1 56 1 215 1-202 1 171 1-48 1-60 1-27 1 44 1-58 1-17 1 32 1 10 1-25 1-32 1 151 1 52 1-234 1 86 1 233 1-323 1-2 1 272 1-56 1-61 1 64 1-53 1-54 1-97 1 185 1-102 1-93 1 106 1-36 1 36 1 48 1-126 1-52 1 21 1-89 1 258 1 122 1-140 1-66 1-93 1 57 1 108 1-184 1 84 1 20 1 41 1-57 1-16 1 51 1 233 1-148 1-124 1-104 1 36 1 6 1-59 1 97 1-60 1 28 1 72 1 106 1 67 1-193 1 157 1-106 1-79 1 136 1-152 1 78 1 90 1-139 1-13 1 114 1-95 1 154 1-118 1-17 1 125 1-106 1-126 1 196 1 46 1 26 1-60 1 31 1 49 1-164 1-21 1 123 1-98 1-82 1 53 1 16 1-47 1 127 1-146 1-92 1 237 1 111 1-104 1 25 1-116 1-92 1 59 1-108 1 117 1 36 1 186 1-216 1 98 1-10 1-26 1-175 1 69 1 79 1 135 1-93 1-15 1-106 1 29 1 2 1 139 1-177 1-86 1 305 1-33 1-103 1-85 1 67 1 15 1-128 1 239 1 88 1-46 1-217 1-13 1 126 1 98 1-51 1-118 1-54 1 151 1 19 1 9 1-28 1-121 1 46 1-16 1 24 1-8 1 140 1-22 1-133 1-5 1-63 1 108 1 75 1-63 1 3 1-73 1 66 1-66 1-3 1 0 1-5 1 148 1-200 1-49 1 75 1-73 1 107 1 90 1-103 1 54 1 8 1-161 1 232 1-188 1 157 1 107 1-230 1 57 1-11 1-4 1-77 1 65 1 57 1-16 1-51 1 93 1-88 1 222 1-175 1-9 1-67 1 166 1-82 1-61 1 115 1-90 1-39 1 106 1-254 1 225 1 1 1-36 1 135 1-26 1-60 1 43 1-164 1 136 1-257 1 186 1 94 1-83 1-48 1 63 1-40 1 63 1 52 1-63 1-167 1 196 1-31 1 134 1-78 1-91 1 63 1-136 1 17 1 130 1-32 1-70 1 27 1 62 1 137 1-289 1 122 1-13 1 81 1-200 1 144 1-26 1 197 1-138 1-36 1-41 1-27 1 81 1-110 1 104 1 4 1-14 1 151 1 48 1-364 1 322 1-99 1-110 1 116 1-162 1 276 1-187 1-45 1-143 1 67 1 200 1-145 1 53 1 136 1-63 1-142 1 122 1 61 1-433 1 461 1 28 1-176 1-8 1-52 1 234 1-37 1-141 1 26 1 30 1 92 1-79 1 99 1-265 1 74 1 154 1-201 1 205 1-147 1 39 1 52 1-158 1 269 1-117 1 0 1 129 1-23 1-147 1-12 1 114 1-142 1 8 1-27 1 92 1-14 1-64 1 107 1 25 1 33 1-157 1-67 1 277 1-139 1-93 1-68 1 108 1 97 1-139 1-149 1 176 1-30 1-92 1 287 1-206 1-61 1 43 1 71 1 48 1 18 1 67 1-72 1 61 1-97 1 11 1 33 1-16 1-42 1 116 1-166 1 40 1-37 1 82 1-11 1-31 1 2 1 45 1-5 1 18 1-15 1 35 1 4 1 17 1-209 1 181 1-51 1 78 1-101 1-94 1 172 1-79 1 20 1-82 1 83 1 2 1 11 1 150 1-258 1-57 1 218 1-149 1 74 1-127 1 173 1-87 1-76 1 439 1-343 1 22 1 50 1-67 1 97 1-230 1 94 1 63 1 118 1-224 1-25 1 76 1-37 1 0 1 78 1 20 1-34 1-97 1 158 1 87 1-148 1 1 1 18 1-24 1 119 1-27 1-41 1-28 1-50 1-18 1 45 1 30 1 74 1-44 1 95 1-72 1-100 1-12 1 139 1-189 1 301 1-246 1 46 1 14 1-49 1 71 1-233 1 238 1-11 1-56 1 195 1-156 1 111 1-238 1 159 1-32 1 142 1-308 1 305 1-22 1-61 1 128 1-77 1-78 1-127 1-5 1 197 1-51 1-108 1-43 1 176 1-51 1-22 1-13 1 34 1-177 1 175 1-123 1 55 1 31 1-113 1 294 1-222 1 232 1-293 1 143 1 156 1-93 1-57 1-156 1 117 1-34 1 103 1-16 1 88 1-94 1-10 1-17 1 68 1-53 1 22 1-62 1 80 1-2 1 25 1-16 1-36 1 66 1-199 1 19 1 57 1-35 1 176 1-51 1-15 1-63 1-50 1-5 1 204 1-123 1-103 1 121 1-65 1 188 1-150 1 27 1 149 1-243 1-50 1 48 1 103 1-19 1 47 1-114 1 13 1-84 1 126 1-83 1 102 1 44 1-63 1 76 1 0 1-143 1 4 1 133 1 10 1-62 1 50 1-130 1 93 1 86 1-40 1-113 1-143 1 135 1 167 1-40 1-95 1 30 1-28 1-164 1 269 1-5 1-83 1-7 1-16 1-55 1 75 1-95 1 77 1-18 1 183 1-72 1-42 1-93 1 115 1 28 1-18 1-218 1 281 1-151 1 16 1-121 1 63 1 91 1-105 1-39 1 145 1 114 1-40 1-110 1 94 1-102 1-87 1 81 1-175 1 204 1 96 1-125 1-69 1 208 1-163 1-104 1 126 1-141 1 292 1-182 1 196 1 6 1-23 1-221 1 65 1-95 1 199 1 72 1-225 1 139 1 72 1-202 1-23 1 160 1-82 1-36 1 133 1-11 1-98 1-120 1 232 1-160 1 19 1 35 1 35 1 57 1-135 1 70 1 218 1-258 1 101 1-59 1-194 1 150 1 215 1-144 1 64 1-193 1 75 1-37 1 47 1 37 1-71 1-124 1 327 1-118 1-45 1-5 1 25 1-67 1 31 1 52 1 126 1-228 1-71 1 25 1 67 1-69 1 241 1-208 1 40 1 38 1-109 1 118 1 19 1 58 1 72 1-122 1-201 1-10 1 224 1-71 1-123 1 232 1-52 1 87 1-274 1 205 1-26 1-30 1 76 1-323 1 138 1-90 1 379 1-255 1 85 1 88 1-111 1-140 1 40 1 154 1-27 1-127 1 180 1 3 1-19 1-53 1 41 1 11 1-148 1 148 1-75 1 71 1-36 1-132 1 106 1-69 1 77 1-109 1 105 1-108 1 225 1-222 1 60 1 129 1-23 1 119 1-156 1-42 1 68 1-145 1 293 1-176 1 97 1-68 1-126 1 81 1-138 1 170 1 29 1-36 1 111 1-54 1-75 1-91 1 180 1-8 1 62 1-15 1-123 1-9 1-25 1 55 1-121 1 257 1-157 1-62 1 90 1-71 1 61 1 15 1-51 1 76 1-58 1-60 1 158 1-165 1-44 1-44 1 180 1-134 1 272 1-41 1-133 1 110 1-16 1 8 1-64 1 32 1 27 1-84 1 46 1-50 1-28 1-23 1 71 1 20 1 0 1 60 1-142 1 48 1-100 1 67 1 74 1-124 1 105 1-20 1-50 1 21 1 93 1-134 1 28 1 37 1 16 1-39 1 157 1-253 1 349 1-139 1-3 1-124 1 32 1-28 1 143 1-218 1 27 1 266 1-203 1 190 1-120 1-101 1 48 1 120 1-60 1-154 1 81 1-50 1 217 1-199 1 30 1 104 1-212 1 129 1-83 1 126 1-84 1-12 1 59 1-20 1-19 1 36 1 104 1-143 1 41 1-33 1 96 1-208 1 53 1-42 1-44 1 78 1 115 1 86 1-214 1 76 1-50 1-43 1 132 1 68 1-119 1 76 1 36 1-110 1 57 1-68 1 143 1-87 1 12 1-20 1 52 1-113 1 186 1-167 1-57 1 98 1-8 1 76 1-92 1-17 1 24 1-18 1-15 1 28 1 180 1-60 1-90 1-200 1 96 1 96 1 16 1 22 1-92 1 80 1-32 1 83 1-40 1 49 1-17 1-39 1-134 1 71 1-60 1 133 1-66 1 79 1-38 1-2 1 127 1-145 1 109 1-148 1 100 1 79 1-32 1-25 1-203 1 235 1-76 1-49 1 31 1-10 1-67 1 124 1-213 1 32 1 100 1-100 1 108 1 48 1 67 1-45 1-111 1 22 1-109 1 3 1 57 1 67 1-143 1 158 1 206 1-186 1-65 1-9 1-1 1-17 1 300 1-433 1 152 1 42 1 173 1-238 1 163 1 80 1-222 1 4 1 60 1 69 1-118 1 33 1-25 1-7 1 169 1-170 1 150 1-152 1 76 1 11 1-187 1 123 1 2 1-52 1-122 1 158 1-13 1 40 1-95 1 96 1 7 1-57 1 55 1 75 1-81 1-161 1 110 1 256 1-191 1 75 1-387 1 401 1-93 1-53 1-29 1 130 1-80 1-178 1 262 1-64 1 82 1-62 1-61 1 39 1-55 1 174 1-127 1 41 1-67 1-59 1 87 1 64 1-149 1 47 1 260 1-254 1-180 1 194 1-48 1 225 1-10 1-11 1-225 1 13 1 316 1-313 1 267 1-59 1-118 1 55 1-59 1-23 1-87 1 151 1 17 1 4 1-292 1 119 1-3 1 55 1 29 1-106 1 135 1 132 1 7 1-383 1 334 1-32 1-49 1-110 1 199 1-83 1-55 1 153 1-124 1-93 1 77 1 14 1-38 1 53 1 36 1 8 1-126 1 226 1-38 1-184 1-36 1 100 1 88 1 69 1-202 1 39 1-14 1-7 1 136 1-25 1-61 1 8 1 131 1-33 1-95 1-145 1-97 1 201 1 54 1-59 1 22 1 86 1-84 1-12 1 74 1-52 1 85 1-59 1-46 1 137 1-57 1-125 1-15 1 233 1-236 1-45 1 79 1-4 1 30 1-25 1 81 1-162 1 120 1 130 1-182 1-33 1 45 1 130 1-150 1-77 1-20 1 104 1 215 1 25 1-412 1 202 1 90 1-99 1 52 1-2 1-47 1 1 1 125 1-126 1 9 1 110 1-179 1 38 1 144 1-259 1 113 1-75 1 195 1-25 1-57 1 65 1-33 1 112 1-320 1 139 1-71 1-39 1 163 1-188 1 403 1-183 1 16 1-47 1 103 1-187 1-101 1 160 1-34 1 255 1-130 1-106 1 100 1-91 1 65 1-71 1 161 1-176 1-83 1 66 1-132 1 205 1-90 1 201 1-209 1 41 1 70 1-127 1 210 1-83 1-52 1 121 1-2 1-182 1 124 1 63 1-50 1 10 1 16 1-103 1 130 1 37 1-139 1 12 1-118 1 232 1-67 1-146 1 60 1 86 1 23 1-139 1 67 1 74 1-35 1-4 1-123 1 2 1 138 1-164 1 263 1-125 1-103 1 197 1-69 1 29 1-95 1 77 1 36 1-105 1-11 1-84 1 140 1-22 1 39 1-160 1-3 1 183 1 119 1-369 1 342 1-9 1-106 1-223 1 71 1 125 1-88 1 80 1-117 1 142 1-185 1 91 1 106 1 102 1-259 1 56 1 138 1-6 1-37 1-13 1-16 1-14 1-2 1 53 1-239 1 212 1 35 1-111 1 130 1-120 1 27 1-81 1 182 1 81 1-276 1 123 1-174 1 90 1 110 1-75 1 139 1-18 1-91 1-10 1 162 1-222 1 23 1-47 1 226 1-185 1 110 1-13 1-139 1 89 1-48 1-28 1-21 1 185 1 2 1-119 1-18 1 116 1-104 1 115 1-54 1-16 1-30 1-42 1 90 1-46 1 89 1-143 1 14 1 99 1-222 1 177 1 16 1 13 1-74 1 20 1 71 1-101 1-50 1-38 1 78 1 76 1 40 1-118 1-63 1-94 1 231 1 70 1-10 1-119 1-27 1 125 1 41 1 65 1-233 1 203 1-186 1 68 1 159 1-69 1-189 1 87 1 22 1-129 1 112 1-12 1-1 1 3 1-89 1 145 1-146 1-38 1 182 1-89 1 147 1-111 1-102 1 25 1 120 1-88 1 6 1 35 1-4 1-160 1 415 1-186 1-133 1 90 1-42 1 4 1 48 1-22 1 70 1-68 1-68 1-22 1 42 1 70 1 13 1 116 1-134 1 69 1-22 1-32 1-37 1-6 1 11 1 102 1-59 1-102 1 70 1-46 1 32 1-128 1-14 1-92 1 270 1-105 1 186 1-179 1 22 1 76 1-163 1 113 1 151 1-268 1 122 1-62 1 129 1 10 1 40 1-12 1-160 1 15 1 194 1-144 1-2 1 71 1-94 1 98 1-156 1 112 1-40 1 123 1-61 1-43 1 60 1-37 1 65 1-160 1 169 1-62 1-154 1 24 1 105 1 111 1 53 1-203 1 18 1 46 1 0 1-213 1 107 1 78 1 19 1 12 1-61 1 53 1-33 1 49 1-107 1 45 1 123 1-232 1 105 1 67 1 67 1-117 1 63 1-206 1 103 1 101 1 101 1-227 1 219 1-191 1 32 1 4 1 31 1-169 1 227 1 120 1-49 1-144 1-33 1-49 1 51 1 110 1-46 1-19 1-6 1 98 1-170 1-40 1 109 1-25 1 126 1-132 1 92 1 7 1-152 1 59 1 56 1 103 1-148 1-145 1 116 1-247 1 167 1-83 1 138 1-40 1 72 1-27 1 4 1-59 1 142 1-73 1 1 1 36 1 47 1-129 1 108 1 104 1-204 1 194 1-200 1 303 1-234 1-161 1 180 1-123 1 140 1 34 1-44 1-112 1-30 1-12 1 48 1 82 1 177 1-109 1-205 1 281 1-189 1 4 1 192 1-183 1 69 1-55 1 28 1 10 1 66 1 94 1-339 1 240 1-55 1 11 1-8 1 42 1-120 1 52 1 44 1 10 1-102 1 131 1-134 1-71 1 23 1 44 1 202 1-218 1 41 1-99 1 175 1-10 1-174 1 205 1-178 1 72 1 260 1-186 1 2 1 80 1 48 1-177 1 101 1-31 1 25 1-65 1-68 1-28 1 26 1 81 1-18 1-68 1-60 1 121 1 110 1-145 1-31 1 101 1-151 1 152 1-44 1-34 1-112 1 255 1-159 1-21 1 82 1-104 1 154 1 47 1 7 1-50 1 36 1-147 1 46 1 133 1-276 1 121 1 174 1 17 1-174 1-118 1 153 1-117 1-61 1 82 1 97 1 91 1-59 1-184 1 120 1 94 1-54 1-20 1-122 1 158 1-227 1 151 1-12 1 137 1-142 1 14 1-43 1 134 1-87 1 162 1-47 1-316 1 266 1 29 1-154 1 98 1-269 1 247 1-60 1 91 1-130 1 101 1 259 1-187 1-111 1-25 1 175 1-56 1 24 1 81 1-184 1 114 1 38 1-14 1-133 1 40 1-110 1-15 1 96 1 106 1-157 1 136 1-39 1-34 1-135 1 74 1-51 1 158 1-132 1-32 1 199 1-95 1 77 1-5 1-68 1-5 1 87 1-75 1 117 1-99 1-30 1 59 1 97 1-69 1-109 1-52 1 1 1-6 1-67 1 202 1-147 1 182 1-237 1 71 1 184 1-158 1-28 1 168 1-108 1-49 1-90 1 223 1-194 1 236 1-17 1-201 1 54 1 141 1-212 1 93 1 30 1 44 1-10 1-17 1-86 1 91 1-71 1 76 1-136 1 213 1-131 1 132 1-106 1-42 1-45 1 31 1-35 1 204 1-107 1 214 1-232 1 184 1-250 1 80 1 45 1 35 1-78 1 74 1 75 1-168 1 117 1-125 1 134 1 24 1-322 1 153 1-55 1 136 1-21 1-2 1-183 1 119 1 54 1 13 1-10 1-91 1 92 1-2 1-119 1 34 1 16 1-108 1 190 1 96 1 44 1-143 1-28 1-67 1 221 1-8 1-103 1 7 1 103 1-112 1-82 1 89 1-244 1 154 1 144 1-56 1 112 1-333 1 228 1 3 1-97 1 100 1 32 1-56 1-100 1-1 1 222 1 23 1-192 1 72 1 15 1-142 1 55 1 91 1-107 1 128 1-21 1-222 1 196 1-75 1 76 1 5 1 74 1 2 1-223 1-91 1 143 1 9 1 106 1-46 1-146 1-112 1 185 1 28 1-65 1 89 1 85 1 11 1-57 1 12 1 188 1-61 1-240 1-14 1 13 1 98 1 42 1-59 1-35 1 76 1-147 1 166 1 159 1-287 1-20 1 100 1-113 1-14 1 198 1-127 1 152 1-178 1 40 1-54 1 103 1 33 1-84 1-209 1 194 1 139 1-95 1 20 1-141 1 105 1 42 1-46 1 84 1-113 1 147 1-58 1-64 1 148 1-3 1-52 1-209 1 57 1 72 1-87 1 12 1 138 1 46 1-215 1 174 1-124 1 206 1-137 1 109 1-179 1-9 1 33 1-36 1 126 1-90 1-18 1 138 1-140 1 31 1-18 1 68 1-18 1-51 1 35 1-43 1 179 1-213 1 163 1-172 1 232 1-75 1-84 1-13 1 81 1 42 1-143 1-38 1 180 1 29 1-56 1-45 1 151 1-67 1-157 1 137 1 2 1-218 1 40 1-55 1 155 1 13 1 26 1 97 1 58 1-186 1 65 1-133 1-31 1 232 1-13 1-150 1-109 1-16 1 211 1-72 1-127 1 204 1 22 1-218 1 192 1 44 1-260 1 188 1-2 1-94 1-85 1 66 1 50 1-18 1 0 1 13 1 187 1-189 1 155 1-56 1-82 1 23 1-46 1 37 1-48 1-124 1 273 1-204 1-71 1 212 1-6 1-24 1-53 1 110 1-32 1-31 1-10 1-125 1 178 1-124 1 3 1 56 1 4 1 90 1-9 1-103 1 12 1 47 1-131 1 93 1 7 1 21 1-113 1 47 1 22 1 147 1-274 1 286 1-167 1 148 1 34 1-231 1 78 1-13 1 63 1 11 1 83 1-121 1 22 1 113 1-93 1-13 1 73 1-205 1 223 1-302 1 75 1 150 1-195 1 46 1-11 1 97 1 109 1 102 1-220 1 37 1 45 1-248 1 145 1 185 1-126 1-61 1 164 1-136 1 53 1 104 1-175 1-25 1 103 1-81 1 96 1-23 1 121 1-60 1-255 1 96 1 81 1-23 1 85 1-66 1 69 1-104 1 129 1-123 1-54 1 102 1-48 1-8 1 77 1 79 1-229 1 90 1 37 1-143 1 191 1-29 1 18 1 30 1-82 1 46 1-188 1 190 1-175 1 197 1-54 1-34 1 85 1-144 1 118 1 7 1-126 1 133 1-127 1-40 1 25 1-56 1 167 1-152 1 163 1 101 1-134 1-195 1 271 1-254 1 292 1-213 1 37 1 88 1 165 1-269 1 3 1 13 1-43 1 165 1-260 1 101 1 155 1-275 1 202 1-42 1-34 1 157 1 3 1-68 1 91 1-87 1-145 1 231 1-113 1 61 1-129 1 185 1-6 1-85 1-201 1 274 1 68 1-63 1-157 1-18 1 90 1-29 1 152 1-165 1 52 1 44 1-150 1-5 1 141 1-65 1 195 1-77 1-216 1 223 1-17 1-189 1 319 1-151 1-134 1 112 1 38 1 16 1-116 1 107 1-115 1 42 1-15 1-102 1 146 1 43 1-87 1-25 1 41 1 136 1-215 1 220 1 20 1-265 1-51 1 164 1 50 1-203 1 247 1-119 1 51 1-110 1 27 1 100 1-173 1 33 1 67 1 28 1-21 1 109 1-94 1 1 1-74 1 69 1 20 1-62 1-64 1 35 1 64 1 29 1-165 1 123 1 112 1-131 1 180 1-111 1-109 1 75 1 15 1-98 1-39 1 195 1 16 1-38 1 38 1-148 1-24 1 77 1 89 1 46 1-128 1 58 1-114 1 157 1-64 1-15 1-130 1 22 1 27 1 25 1-44 1 225 1-244 1 104 1-157 1 51 1-27 1 172 1-16 1-102 1 27 1 80 1-87 1 223 1-312 1 76 1 50 1-129 1 74 1 7 1 90 1-79 1 138 1-4 1-117 1 71 1 66 1-106 1 149 1-308 1 225 1-1 1-222 1 276 1 66 1-200 1 24 1-117 1 98 1 142 1-157 1 34 1-137 1 85 1 114 1-23 1-65 1 41 1-59 1-5 1 132 1-129 1-53 1 184 1 22 1-201 1 18 1-34 1-76 1 171 1 86 1-117 1 82 1-97 1-33 1 58 1-43 1 51 1-23 1 130 1-259 1 217 1-25 1 28 1-43 1 18 1 138 1-320 1 107 1 61 1-24 1-96 1 17 1 49 1-54 1 326 1-322 1 100 1 51 1 24 1-102 1 165 1-187 1 102 1-138 1 227 1-196 1 78 1 67 1-221 1 13 1 187 1-58 1-161 1 124 1 68 1 30 1-16 1-125 1-30 1 120 1 61 1-21 1 89 1-204 1 44 1-100 1-110 1 87 1 161 1-7 1 89 1 70 1-361 1 149 1 164 1-204 1 258 1-172 1-30 1 71 1-11 1-122 1 123 1-155 1 268 1-123 1-196 1 252 1-2 1-95 1 46 1-66 1-70 1 40 1 33 1 57 1-57 1-66 1 168 1-42 1 63 1-103 1-16 1-285 1 402 1-32 1-132 1 114 1-131 1 135 1 13 1-144 1 147 1-179 1 312 1-208 1 51 1-13 1-62 1 206 1-379 1 239 1-276 1 156 1 57 1 163 1-303 1 98 1-49 1 254 1 18 1-124 1-87 1-25" stroke-dasharray="19.20 4.80 3.00 4.80"/>
<path vector-effect="non-scaling-stroke" d="M0 267l1 180 1 53 1 16 1 90 1-164 1 42 1 107 1-69 1-177 1 138 1 24 1 66 1-5 1-111 1-30 1 65 1-70 1 169 1-40 1-75 1-76 1 157 1-138 1 195 1-210 1-17 1 156 1-67 1-39 1 138 1-25 1 3 1-97 1-35 1 176 1-17 1-134 1 125 1-42 1-100 1 75 1-97 1 92 1 22 1 58 1 138 1-170 1 130 1-246 1 3 1 29 1-63 1-90 1 359 1-147 1-93 1 103 1-11 1-118 1 53 1 182 1-267 1 215 1-100 1-35 1 213 1-316 1 94 1 27 1-38 1 100 1-92 1 5 1 269 1-91 1-206 1 191 1-153 1 72 1-89 1 235 1-176 1 12 1-28 1 5 1 16 1-30 1-11 1 103 1-190 1 134 1 60 1-124 1 201 1-238 1 138 1-40 1 3 1-44 1 109 1-15 1-80 1 95 1-53 1 10 1 21 1 32 1 13 1-38 1 73 1-7 1-366 1 257 1-88 1 61 1-44 1 59 1-84 1 76 1-9 1 142 1-208 1 114 1-17 1-44 1 16 1 27 1-122 1 199 1 103 1-152 1 175 1-188 1-138 1-24 1 244 1-140 1 151 1-145 1-96 1 186 1-200 1 115 1-224 1 305 1 26 1-207 1 36 1 28 1 131 1-89 1 65 1-193 1 81 1 123 1 15 1 57 1-79 1-55 1-44 1-60 1 148 1-165 1 301 1-174 1-73 1 112 1-73 1-55 1 132 1-74 1-85 1 217 1-218 1 118 1 123 1-173 1-28 1 82 1-52 1-14 1 41 1-7 1-67 1 6 1 74 1 169 1-49 1-83 1-145 1 58 1-114 1 117 1 4 1 73 1-146 1 241 1-161 1 49 1 37 1-142 1 25 1 26 1 71 1 104 1-10 1 112 1-111 1-157 1-98 1 234 1-220 1-59 1 70 1-53 1 159 1 45 1-76 1-65 1 46 1 27 1-59 1 161 1-160 1 258 1-315 1 2 1-95 1 311 1-30 1 42 1 40 1 79 1-293 1 98 1-8 1 153 1-182 1-175 1 174 1-64 1 192 1-214 1 105 1-15 1-24 1 61 1-91 1 77 1 32 1 60 1 7 1-193 1-20 1 113 1 8 1 38 1-75 1-112 1 103 1 80 1-154 1 27 1 240 1-120 1-164 1 77 1 45 1-47 1 153 1-1 1-99 1-24 1-139 1 161 1-41 1-114 1 203 1-31 1-32 1-23 1 10 1-51 1 183 1 12 1-117 1 145 1-301 1 225 1-20 1-115 1 27 1-23 1 59 1 123 1-109 1 49 1 94 1-128 1-121 1 181 1-17 1 2 1-147 1 264 1-236 1 36 1 21 1 80 1-63 1-207 1 159 1 62 1-121 1 200 1-226 1 118 1-254 1 29 1 155 1 15 1 84 1-98 1-14 1 202 1 13 1-196 1 109 1-71 1 5 1-5 1 41 1-85 1-74 1-17 1 189 1-48 1 3 1 150 1 5 1-133 1-58 1-29 1 139 1-127 1 76 1 32 1-139 1 253 1 60 1-397 1 184 1-81 1 87 1 57 1 43 1 57 1-187 1 120 1-88 1-40 1 35 1-15 1-131 1 110 1 5 1 41 1-152 1 13 1 179 1-96 1 53 1 29 1 43 1-254 1 113 1 251 1-299 1-63 1 153 1 18 1-22 1-74 1 144 1-94 1 182 1-254 1 220 1-70 1-78 1-57 1 167 1-3 1-207 1 203 1 17 1-29 1-116 1-2 1-29 1 55 1 84 1-87 1-29 1 184 1-50 1-57 1-156 1 185 1-38 1 2 1-33 1-27 1 161 1-185 1 12 1 271 1-226 1-11 1-28 1 169 1-133 1-33 1-2 1-50 1 214 1-44 1-24 1-22 1-104 1 17 1 71 1-154 1 104 1 170 1-233 1 246 1-2 1-79 1 5 1-35 1-11 1 76 1-5 1-137 1 37 1 53 1 55 1-81 1 97 1 29 1-221 1 29 1 103 1-185 1 161 1-76 1 15 1 37 1-1 1-131 1 54 1 261 1-231 1 264 1-107 1-143 1 147 1-221 1 154 1-95 1 29 1-49 1-46 1 262 1-132 1-26 1-80 1 45 1 82 1 102 1 21 1-62 1-106 1 2 1-119 1 105 1-46 1 208 1-157 1 75 1 8 1-176 1 120 1 7 1-9 1 129 1 24 1-330 1 172 1 7 1-24 1 68 1-17 1 55 1-117 1 50 1-116 1-46 1 248 1-169 1 108 1-247 1 185 1-74 1 143 1-168 1 191 1 48 1 113 1-226 1 35 1-58 1 106 1-84 1 0 1 101 1-284 1-33 1 184 1-27 1-11 1-6 1 147 1-106 1-139 1 185 1 9 1 61 1-46 1 161 1-199 1-107 1 70 1 15 1 11 1 0 1 107 1 74 1-348 1 122 1 255 1-356 1 193 1-135 1 105 1 51 1-144 1 116 1 201 1-291 1 65 1-2 1 25 1-75 1-99 1 44 1 66 1 22 1 81 1-239 1 349 1-86 1-79 1-31 1-277 1 332 1-219 1 60 1 293 1-83 1 39 1-265 1 178 1 104 1-118 1 95 1-130 1-64 1 179 1-134 1-8 1 101 1-119 1 114 1-130 1 79 1 30 1-178 1 38 1 127 1-13 1-45 1 78 1-91 1 41 1 30 1 7 1-169 1-8 1 17 1 234 1-71 1-54 1 199 1-283 1 209 1-202 1 151 1-94 1 204 1-328 1 240 1 59 1-4 1-78 1-75 1-51 1 171 1 52 1-129 1 94 1 14 1-71 1-154 1 82 1 227 1-385 1 313 1-142 1 93 1-173 1 53 1-75 1 93 1 39 1-135 1 299 1-57 1 15 1-120 1 30 1 35 1-155 1 18 1 101 1 87 1-340 1 171 1 89 1-73 1-20 1 98 1-139 1 62 1 60 1-159 1 153 1-169 1 111 1 39 1-141 1 152 1-93 1-74 1 166 1 22 1-136 1-21 1 306 1-261 1-59 1 165 1-153 1 131 1 30 1-31 1-106 1 111 1 17 1-57 1-77 1 272 1-299 1-28 1 237 1-93 1-54 1 35 1-167 1 164 1 69 1-15 1-74 1 107 1-13 1-8 1-212 1 96 1 176 1-163 1-50 1 100 1-63 1 26 1-20 1 33 1 87 1-45 1 4 1 115 1-148 1 102 1-160 1-159 1 15 1 358 1-112 1 3 1-109 1 153 1-152 1 119 1-89 1 73 1-190 1 38 1 32 1 199 1-237 1 158 1 89 1-163 1-70 1 246 1-221 1 100 1-3 1-71 1 84 1 32 1-171 1 343 1-335 1 221 1-240 1 231 1-246 1 295 1-334 1 153 1 37 1 10 1-131 1 117 1-79 1 45 1 122 1-266 1 176 1-47 1 3 1 25 1-158 1 121 1 67 1-36 1 40 1 77 1-216 1 202 1-211 1 106 1-70 1 82 1 29 1-256 1 264 1 52 1-134 1-89 1 256 1-70 1-137 1-8 1 35 1 99 1-65 1 90 1-114 1 45 1-28 1 51 1-91 1 63 1 79 1-206 1 109 1 52 1-10 1-157 1 131 1-21 1 110 1-44 1 23 1 26 1 20 1-67 1 90 1-185 1-12 1 162 1-127 1 111 1-100 1-11 1 201 1 78 1-280 1 0 1 52 1 51 1 16 1-152 1-47 1 343 1-232 1 45 1-52 1 148 1-36 1-124 1 151 1-114 1 132 1-141 1-29 1 45 1-51 1 163 1-58 1-16 1-168 1 188 1-54 1-114 1 97 1-69 1 187 1-194 1 96 1-50 1-18 1 244 1-284 1 150 1-151 1 137 1-47 1 163 1-34 1-208 1 179 1-103 1 32 1 99 1-84 1-6 1-75 1 98 1 19 1-191 1-4 1 129 1 100 1-135 1 89 1-182 1 137 1 57 1-31 1 58 1-81 1 112 1-139 1-60 1 33 1 134 1-124 1 77 1 94 1-122 1-93 1 63 1 54 1 28 1-55 1-51 1 30 1-96 1 33 1-17 1 123 1-72 1 40 1-36 1 9 1-203 1 337 1-144 1 82 1-86 1 15 1-118 1 157 1 49 1-96 1 4 1 222 1-368 1 257 1-227 1 26 1-13 1 109 1 95 1-6 1-188 1 161 1-84 1 74 1 19 1-144 1 176 1-66 1 8 1-42 1 25 1 84 1-56 1-7 1-212 1 105 1 84 1-26 1 43 1-179 1 170 1 72 1-85 1 69 1-19 1 37 1-132 1 105 1 9 1-167 1-40 1 102 1 129 1-146 1 107 1-88 1 0 1 138 1-193 1 84 1 5 1 94 1-189 1 155 1-74 1 103 1 21 1 0 1 35 1-110 1-162 1 22 1 182 1-6 1-216 1 67 1 74 1 37 1 2 1 179 1-157 1-251 1 45 1 174 1-104 1 19 1 112 1 29 1-28 1-72 1-106 1 99 1 24 1 25 1-143 1-34 1 128 1 46 1-53 1-27 1-54 1 19 1 165 1-62 1 28 1-101 1 164 1 60 1-168 1 53 1-4 1-30 1 72 1-91 1 112 1 4 1-160 1 82 1-135 1 77 1 94 1-14 1 42 1-92 1-53 1 53 1-22 1 109 1-204 1 59 1-37 1 198 1-84 1 49 1-212 1 162 1-224 1 162 1 97 1-169 1-43 1 175 1 36 1-48 1 103 1-12 1 97 1-139 1 64 1-133 1-12 1-68 1 71 1 47 1-141 1 183 1 126 1-67 1-83 1-92 1-42 1 186 1-192 1 63 1-24 1 153 1-69 1 168 1-199 1 44 1-102 1-38 1 187 1-169 1-15 1 127 1-196 1 240 1 58 1-131 1-155 1 105 1 205 1-106 1-162 1 181 1-52 1 78 1-271 1 23 1 271 1 43 1-214 1 11 1 42 1-11 1 39 1-116 1 5 1-38 1 36 1 135 1-12 1-14 1-37 1 74 1 13 1-52 1 18 1-29 1-158 1 23 1 169 1-56 1 38 1 51 1-130 1 227 1-192 1 50 1 85 1-158 1-44 1 67 1-17 1 123 1-123 1-94 1 239 1-302 1 357 1-242 1 140 1-76 1 23 1-3 1-94 1 122 1-47 1-90 1 122 1 180 1-142 1 2 1 29 1-142 1 52 1 81 1-20 1 77 1-80 1-221 1 324 1-326 1 179 1 15 1 32 1 61 1-173 1 91 1 31 1-55 1-149 1 186 1-27 1-142 1 220 1-176 1-144 1 228 1 145 1-238 1 120 1-154 1 73 1 23 1 108 1-192 1 66 1 0 1-2 1 0 1 23 1 28 1 139 1-94 1-20 1-138 1 3 1 190 1-42 1 9 1-87 1 2 1-31 1 119 1-29 1-221 1 292 1-239 1 60 1-16 1 77 1 11 1-74 1 88 1-10 1 21 1-66 1 49 1 20 1-87 1 38 1 138 1-113 1-133 1 88 1-100 1 291 1-188 1 211 1-232 1 119 1-44 1-59 1 121 1-13 1-27 1-107 1-54 1 195 1 15 1-89 1 114 1 16 1-174 1 98 1-190 1 226 1-221 1 23 1 144 1-51 1-55 1 50 1 20 1 80 1-200 1 342 1-284 1 62 1-14 1 155 1-197 1 110 1-64 1-71 1 165 1-111 1-1 1 11 1 45 1 36 1 24 1-97 1-45 1 98 1-162 1 140 1-85 1 78 1-17 1-94 1 27 1-47 1 5 1 99 1-67 1 21 1 2 1-30 1 66 1-6 1-34 1 136 1-165 1-14 1 275 1-253 1 137 1 10 1-138 1 147 1-106 1 84 1 51 1-272 1 233 1 39 1-75 1-198 1 309 1-250 1 172 1-89 1 27 1-103 1 168 1-240 1 206 1 91 1-147 1-58 1 11 1-25 1 110 1-152 1 50 1 166 1-47 1 29 1-41 1-49 1 65 1-27 1-87 1-9 1-52 1 215 1-24 1 6 1-14 1 31 1 3 1-154 1-50 1 218 1-170 1 266 1-248 1-100 1 64 1 165 1 4 1-51 1-147 1 82 1 15 1-29 1 149 1 96 1-139 1-8 1-76 1 24 1-198 1 245 1 12 1-183 1 123 1-172 1 3 1 93 1 7 1 215 1-264 1 100 1-41 1-32 1 78 1 103 1-40 1 44 1-182 1 91 1-9 1 53 1-33 1 95 1-119 1 113 1-128 1 53 1-69 1-58 1 56 1 30 1-66 1 133 1-48 1-45 1 171 1-67 1-255 1 168 1 3 1-37 1 73 1 24 1-12 1-126 1-51 1 201 1-42 1-55 1 149 1-113 1-91 1-7 1-124 1 259 1-33 1-82 1 51 1-74 1 102 1 160 1-80 1 78 1-170 1-100 1 62 1 101 1 135 1-179 1 64 1-2 1-63 1-220 1 264 1 29 1 64 1-220 1 177 1 82 1-123 1-74 1 144 1-109 1 146 1-266 1 226 1-104 1 83 1-36 1-84 1 87 1-46 1-122 1-132 1 163 1 76 1-19 1 139 1-15 1 2 1-145 1 54 1 23 1-259 1 225 1-81 1 35 1 41 1-45 1 189 1-150 1-87 1-56 1 174 1-152 1 51 1 116 1 110 1-177 1 91 1-170 1 70 1 175 1-92 1-82 1-82 1 358 1-287 1 171 1-98 1 60 1-172 1 55 1-128 1 42 1 189 1 134 1-178 1 28 1-64 1 81 1-8 1-134 1 48 1 90 1-106 1 125 1-87 1-88 1 139 1 78 1-141 1 54 1-202 1 176 1 49 1 51 1 98 1-129 1-84 1 92 1-136 1-37 1 19 1 130 1 12 1-155 1 142 1-2 1-6 1-179 1 297 1-278 1 20 1-61 1 101 1-166 1 137 1 157 1 51 1-137 1-42 1 15 1-65 1-12 1 338 1-227 1-1 1-59 1 134 1-187 1 104 1-118 1 185 1-48 1 111 1-34 1-58 1 22 1-84 1-13 1 45 1-2 1 106 1-63 1-18 1 46 1-143 1 19 1 133 1-33 1-36 1-16 1-129 1 159 1 38 1-93 1-26 1-52 1 206 1-65 1-46 1 4 1 159 1-181 1-96 1 75 1 75 1 82 1-4 1-88 1 67 1 0 1 79 1-193 1-38 1 90 1-67 1 48 1-141 1 162 1-7 1 109 1-106 1 33 1 8 1-187 1 66 1-23 1 66 1 117 1-89 1-96 1 178 1-62 1-15 1-101 1 95 1-69 1 8 1 89 1-46 1 136 1-70 1-101 1 13 1 4 1 31 1-77 1 18 1 53 1 154 1 81 1-446 1 294 1-219 1 165 1-138 1 194 1-79 1 43 1-117 1-15 1 75 1 222 1-218 1 108 1-245 1 193 1 148 1-182 1 110 1-169 1 163 1-157 1 191 1-262 1 116 1-74 1 93 1-212 1 211 1-85 1 76 1-127 1 251 1 11 1-197 1 123 1 23 1-139 1 49 1 232 1-243 1 63 1 47 1-173 1 17 1-74 1 182 1 37 1-336 1 543 1-365 1 154 1-40 1-120 1 157 1 43 1-150 1 204 1-244 1 93 1 136 1-155 1-4 1 12 1-67 1 204 1-94 1-101 1 25 1 3 1-114 1 176 1 16 1-119 1 83 1-111 1 109 1-185 1 229 1-39 1-112 1 79 1-84 1 13 1-11 1 204 1-206 1 80 1-27 1 113 1-133 1-31 1 43 1-15 1 33 1 37 1-70 1 67 1-5 1-60 1-48 1-68 1 53 1 100 1 84 1-110 1 129 1 0 1 80 1-293 1 9 1 211 1-114 1-25 1-108 1 10 1 218 1-117 1 179 1-135 1-16 1 34 1 78 1-72 1-237 1 263 1-61 1-92 1 11 1 117 1-172 1 2 1 112 1-10 1 41 1-66 1 25 1-79 1 265 1-247 1 103 1-148 1 23 1 128 1-14 1 45 1 50 1-75 1-98 1 102 1 101 1-121 1 99 1-105 1-61 1-25 1-18 1 188 1-76 1 2 1 20 1-96 1 6 1 96 1-35 1-77 1 148 1 137 1-235 1 20 1 65 1-172 1 135 1 57 1-93 1-140 1 266 1-184 1 202 1-190 1 116 1-5 1-110 1-174 1 405 1-139 1 54 1-189 1 105 1 91 1-167 1 19 1 76 1-91 1 45 1-57 1 194 1-166 1-27 1 173 1-125 1-102 1 117 1 80 1-30 1-21 1-49 1 171 1-19 1-230 1 250 1-313 1 202 1 121 1-52 1-241 1 134 1 121 1-219 1 70 1 112 1 45 1 38 1-147 1-48 1-91 1-4 1 48 1 234 1-81 1-110 1 78 1-37 1 55 1-44 1-97 1 46 1 186 1-90 1 65 1 43 1-247 1 97 1-239 1 169 1 15 1 101 1 20 1-146 1 125 1-196 1 51 1 0 1 75 1 107 1-204 1 171 1-56 1-78 1 113 1 7 1 84 1-231 1-58 1 243 1-194 1-71 1 14 1 65 1 164 1 73 1-72 1-117 1-83 1 8 1 134 1-56 1 86 1 126 1-104 1-167 1 25 1 64 1 9 1-224 1 180 1 76 1 105 1-72 1-102 1 93 1-101 1 98 1 56 1-63 1-130 1 161 1-103 1-55 1 64 1 183 1-297 1 70 1 157 1-40 1-108 1 141 1-139 1 185 1-132 1-67 1 122 1-56 1-25 1-99 1 22 1 93 1-5 1 66 1 3 1 7 1 10 1-138 1 111 1 57 1-1 1-68 1-57 1 103 1 41 1-116 1-74 1 191 1-54 1 134 1-413 1 337 1 15 1-139 1 59 1-111 1 157 1-91 1-11 1-32 1-123 1 180 1 76 1-125 1 114 1-160 1 63 1 15 1 159 1-3 1-85 1-52 1 188 1-146 1-69 1 81 1-151 1 67 1-124 1 215 1-113 1-42 1 166 1-170 1 133 1 10 1 66 1-275 1 36 1 126 1-37 1 35 1 131 1-165 1 86 1 23 1-182 1 104 1 100 1-153 1 60 1-39 1 47 1-44 1 3 1 114 1-286 1 174 1 87 1-159 1 237 1-178 1-109 1 178 1-19 1-125 1 51 1 8 1 72 1-22 1 181 1-135 1-27 1-76 1 13 1 173 1-49 1 138 1-194 1-158 1 126 1 92 1-86 1 31 1 99 1-30 1-65 1-101 1 138 1 9 1 65 1-124 1 98 1-274 1 163 1 102 1-228 1 107 1 34 1-22 1 76 1 28 1-16 1-54 1-56 1-144 1 145 1-45 1-15 1 171 1 18 1-11 1-230 1 276 1-187 1 136 1-329 1 377 1-11 1-68 1 58 1-182 1-16 1-4 1-103 1 285 1-105 1 53 1 32 1-105 1-173 1 294 1-297 1 177 1 76 1 67 1-197 1 69 1 31 1 44 1-44 1 21 1-50 1 185 1-196 1-73 1 18 1 207 1-138 1-19 1-82 1 24 1-14 1 116 1-84 1 81 1 17 1 116 1-179 1 54 1 126 1-273 1 165 1-78 1 5 1 54 1-40 1-69 1 164 1 52 1-228 1 48 1 124 1-174 1 216 1-125 1-24 1 33 1-46 1 95 1 103 1-94 1-115 1 53 1 9 1 27 1-139 1 157 1-78 1-2 1 118 1-168 1 34 1-14 1 188 1-242 1 152 1-34 1-45 1-46 1 140 1-85 1 31 1 6 1-1 1 89 1-86 1-120 1 209 1 56 1-283 1 262 1-95 1 27 1-82 1 59 1-82 1 92 1 59 1-334 1 218 1-39 1 167 1-50 1-21 1-142 1 173 1-127 1 79 1 33 1-136 1 41 1 128 1-163 1 186 1-172 1 60 1-222 1 160 1-148 1 142 1 96 1-109 1 208 1-23 1-103 1-154 1 53 1 218 1 62 1-218 1 174 1-38 1-45 1 33 1-13 1-57 1-116 1 156 1-66 1-41 1-5 1 60 1 61 1-63 1 129 1-128 1-129 1 62 1 163 1-160 1-1 1 90 1-102 1 3 1 80 1 10 1 85 1-209 1 306 1-244 1 73 1-42 1 46 1-33 1 76 1 5 1-244 1 189 1-162 1 53 1 56 1-11 1 35 1-97 1 103 1 26 1-103 1 67 1-53 1 112 1-54 1-98 1 1 1 193 1-90 1 89 1-177 1 165 1 75 1-55 1 4 1-336 1 280 1-128 1 143 1-108 1-80 1 29 1-38 1 36 1 112 1-71 1 35 1 61 1-244 1 287 1 28 1-68 1-155 1 143 1-64 1 93 1-183 1 82 1 24 1-125 1 211 1-214 1 54 1 193 1-95 1-65 1 147 1-20 1-211 1-128 1 109 1 91 1 47 1 104 1-167 1 123 1-53 1-10 1-68 1 27 1 253 1-142 1-150 1-28 1 46 1-21 1 198 1-97 1-15 1-80 1 78 1 60 1-140 1 85 1-54 1 209 1-161 1-42 1-81 1 125 1 155 1-26 1-225 1 10 1 116 1 60 1-182 1 152 1-43 1 130 1-244 1 88 1-147 1 198 1 86 1-240 1 217 1 100 1-143 1-79 1 109 1-77 1-2 1-4 1-135 1 122 1-37 1-71 1 157 1-116 1 140 1-62 1 14 1-103 1 9 1 151 1 27 1 13 1-15 1-29 1-55 1 73 1-248 1 52 1-76 1 143 1-19 1 87 1-133 1 57 1 63 1-49 1-132 1 20 1 148 1 179 1-165 1-4 1 0 1-1 1-44 1-14 1 127 1-18 1-204 1-63 1 191 1 0 1-67 1 45 1 28 1 7 1-136 1 202 1-119 1 159 1-162 1 22 1 41 1-45 1 194 1-83 1-32 1-52 1 13 1 63 1-73 1-29 1-203 1 220 1-16 1 3 1 61 1 11 1-115 1 99 1 21 1-46 1-147 1 254 1-72 1-66 1-28 1-95 1-32 1 242 1-132 1-104 1 68 1 187 1-23 1-67 1-70 1 175 1-175 1 141 1-122 1-9 1 24 1-50 1 96 1-20 1-100 1 175 1 4 1 72 1-286 1 228 1-160 1 79 1-35 1 83 1-25 1-105 1 81 1 106 1-77 1 112 1-177 1-32 1 61 1-116 1-3 1 159 1-116 1 125 1-42 1 40 1-32 1 121 1-94 1 100 1-260 1 191 1-42 1 136 1-77 1-117 1 239 1-221 1 78 1-244 1 131 1-21 1 53 1-66 1 204 1-262 1 79 1 221 1-185 1 34 1-134 1 162 1-32 1-38 1 61 1-173 1 109 1 108 1-85 1 42 1-173 1 255 1 64 1-365 1 198 1-108 1 103 1 49 1-99 1 43 1 70 1 114 1-206 1-95 1 19 1 236 1-257 1 257 1-81 1-57 1 2 1 84 1-48 1-43 1 0 1-54 1-21 1 73 1 82 1-139 1 71 1 75 1 144 1-237 1-45 1-34 1 191 1-86 1 156 1-179 1-8 1 107 1-131 1-43 1-4 1 182 1-90 1-94 1 115 1 19 1-12 1-109 1 106 1 151 1-237 1 18 1 0 1-82 1 93 1 54 1 75 1-146 1 49 1-85 1 69 1-47 1 250 1-220 1-26 1 28 1-91 1 131 1-71 1 244 1-252 1 2 1 155 1 118 1-106 1-88 1-152 1 261 1-154 1-16 1 7 1 118 1-128 1 193 1 49 1-169 1 75 1 126 1-330 1 47 1 16 1 147 1-21 1 80 1-145 1 25 1-24 1-138 1 185 1-32 1 121 1-284 1 30 1 328 1-9 1-361 1-25 1 111 1-64 1 257 1-133 1-74 1 100 1 74 1-76 1 68 1-263 1 217 1 30 1 110 1-314 1 155 1-74 1 67 1-39 1 25 1 63 1-107 1 126 1-107 1-9 1-41 1 165 1-315 1 208 1 134 1 45 1-165 1 19 1-72 1 212 1-142 1-49 1-50 1 259 1-103 1 16 1-63 1 17 1-39 1 98 1-130 1 189 1-140 1-209 1 302 1-267 1 43 1 418 1-341 1-11 1 154 1 103 1-169 1 99 1-183 1 217 1-360 1-35 1 308 1 119 1-225 1 85 1-40 1 140 1-12 1-192 1 181 1 63 1-242 1-8 1 93 1 69 1-258 1 193 1-104 1 197 1 3 1-155 1-125 1 247 1-43 1-17 1-175 1 138 1-44 1-50 1 18 1-86 1 284 1-157 1-8 1 157 1-133 1-13 1 65 1 27 1-187 1 94 1 35 1-36 1 77 1-74 1-25 1 133 1-75 1-1 1-24 1 57 1-39 1 46 1 39 1-34 1 101 1-213 1 24 1 123 1 5 1-5 1 30 1-6 1-162 1 84 1-120 1 37 1 8 1 170 1-295 1 187 1 202 1-195 1 11 1-93 1 157 1-114 1 52 1-155 1 148 1-81 1-49 1 179 1-112 1 30 1-152 1 92 1 132 1-248 1 230 1-49 1-17 1-47 1 125 1-42 1 14 1-58 1 99 1-36 1 92 1-300 1 112 1-69 1 192 1 97 1-12 1-33 1-174 1 92 1 14 1 69 1-282 1 291 1-108 1 6 1-15 1 2 1-54 1 4 1-78 1 78 1 135 1-249 1-6 1 208 1-113 1 282 1-126 1-210 1 274 1-231 1-44 1 249 1-127 1-157 1-96 1 231 1-139 1 227 1-16 1-112 1-31 1 55 1-93 1 27 1-48 1 50 1 69 1-12 1 24 1-26 1-92 1 8 1-32 1 39 1 2 1 170 1-45 1 12 1 28 1 165 1-307 1 176 1-29 1-1 1-222 1 106 1-99 1 145 1-80 1-1 1 94 1-31 1 182 1-59 1-115 1 235 1-248 1 8 1 86 1-144 1 28 1-61 1 89 1-41 1 30 1 165 1-129 1 13 1-25 1 7 1-76 1 87 1 65 1-127 1 255 1-59 1-255 1 259 1-170 1 134 1-171 1 31 1-65 1 45 1-60 1 204 1-234 1 190 1-127 1 100 1-128 1 65 1 21 1-39 1 64 1-4 1-135 1 77 1 47 1 50 1-155 1 193 1-70 1 105 1-52 1-44 1-52 1 42 1-98 1 264 1-373 1 143 1 8 1 129 1-175 1 167 1-68 1-27 1-33 1 3 1 135 1 37 1-248 1 49 1 19 1 12 1-8 1 226 1-179 1-90 1 81 1-61 1 29 1 84 1 302 1-334 1-109 1 249 1-238 1 265 1-366 1 203 1-32 1 62 1-138 1 161 1-199 1-81 1 206 1 84 1-158 1 147 1-38 1-54 1-79 1 206 1-173 1 17 1 61 1-77 1 57 1 46 1 148 1 46 1-235" stroke-dasharray="3.00 4.95"/>
</g></g>
<g clip-path="url(#cr1)"><g transform="translate(1057.5,0) scale(0.3154,0.5)" fill="none" stroke="#2a2eec" stroke-opacity="0.35" stroke-width="3.3" stroke-linejoin="round">
<path vector-effect="non-scaling-stroke" d="M0 1436l1 -42 1-31 1 161 1-49 1 24 1 114 1-220 1-26 1 60 1-28 1 5 1-93 1 34 1-11 1 154 1-113 1 46 1 97 1-140 1 194 1-51 1-198 1 36 1 231 1-204 1 22 1 36 1 79 1-76 1-93 1-96 1 83 1 157 1-142 1-124 1 203 1 98 1-212 1 152 1-60 1-26 1 48 1-17 1-59 1-8 1 38 1-42 1 41 1 87 1-218 1 129 1-17 1-49 1 105 1 114 1 33 1-120 1-130 1 59 1-17 1 95 1 88 1-106 1 146 1-88 1-123 1 106 1 73 1-175 1 4 1 30 1 181 1-230 1 89 1-72 1-50 1 56 1-75 1 51 1 103 1 10 1-223 1-26 1 218 1-52 1-16 1-32 1 210 1-214 1 54 1-4 1 50 1-161 1 156 1-191 1 18 1 186 1-133 1-4 1 115 1 174 1-175 1-57 1-178 1 90 1 30 1 61 1-59 1 160 1-2 1 45 1-15 1-89 1-193 1 306 1-151 1 23 1 173 1-155 1 182 1-295 1 24 1 147 1-32 1 11 1 14 1-127 1 170 1-70 1 77 1-212 1 91 1-82 1 171 1 22 1-148 1 21 1-47 1 83 1-64 1-17 1 127 1 154 1-261 1 44 1 56 1 73 1-266 1 140 1 3 1 94 1-15 1-87 1 137 1-226 1 150 1-156 1 102 1 85 1-251 1 184 1 41 1-130 1 49 1 33 1 184 1-24 1-240 1 130 1-91 1 124 1-104 1 187 1-142 1-150 1 110 1 53 1-24 1-9 1-167 1 152 1-25 1 84 1-94 1 9 1 105 1 90 1-133 1-125 1 158 1-20 1-138 1 116 1 165 1-323 1 140 1 54 1-24 1-69 1 92 1-205 1 119 1-17 1 30 1 77 1-67 1-141 1 200 1-30 1-45 1 100 1-146 1 189 1-146 1 126 1 177 1-240 1-270 1 294 1-142 1 54 1 103 1-148 1 85 1 144 1 12 1-172 1-2 1 160 1-151 1 35 1-71 1 107 1-69 1 17 1-61 1-43 1-87 1 318 1-159 1 104 1 22 1 59 1-108 1-54 1 27 1-41 1 3 1-23 1 36 1-23 1 13 1 58 1 79 1 14 1-171 1 128 1-152 1 108 1 27 1-46 1-35 1-139 1 190 1 8 1-78 1-55 1 95 1-356 1 300 1 18 1-13 1 161 1-180 1 49 1-88 1 115 1-58 1 59 1-208 1 319 1-46 1-15 1-54 1 31 1-190 1 77 1-29 1 105 1 45 1-43 1 102 1 40 1-253 1 99 1-123 1 245 1-133 1 144 1-273 1 129 1 99 1-2 1-200 1 207 1-76 1-20 1 90 1-222 1-29 1 209 1-65 1-47 1 9 1-10 1 165 1-105 1 129 1-117 1-54 1-29 1 264 1-213 1 148 1-169 1 7 1 18 1-68 1 61 1 92 1-39 1-61 1 179 1-127 1-53 1 126 1-201 1 10 1 51 1 54 1 22 1-82 1 11 1-43 1 145 1-115 1-44 1 182 1-96 1 9 1 20 1-101 1 99 1-77 1 26 1-29 1 86 1 37 1-114 1 52 1-67 1 114 1 6 1-109 1 48 1 23 1-69 1 73 1-31 1-29 1 139 1-178 1 83 1 23 1-19 1 50 1 105 1-165 1 43 1-177 1 12 1 168 1-70 1-66 1 61 1 44 1 15 1 59 1-160 1 21 1 39 1 13 1-146 1 108 1-76 1 217 1-29 1-4 1-132 1 92 1-142 1 102 1-75 1 112 1-104 1 101 1-20 1 79 1 70 1-57 1-122 1 1 1 162 1-38 1 18 1-166 1 123 1 12 1-126 1 90 1-94 1-21 1 112 1 99 1-123 1-205 1 273 1-204 1 167 1 28 1-206 1 160 1 150 1-71 1-42 1-23 1-156 1 26 1 81 1-38 1 78 1 104 1-146 1 20 1-97 1 51 1-70 1 131 1-3 1 8 1 33 1-163 1 77 1 116 1-50 1-211 1-38 1 79 1 107 1-124 1 139 1 96 1-106 1 99 1-75 1-209 1 146 1 27 1-51 1 106 1-59 1 106 1 33 1-75 1 62 1 94 1-152 1 46 1-11 1-201 1 69 1-30 1 101 1 71 1-11 1-229 1 26 1 169 1-60 1 147 1-219 1 159 1-69 1-134 1 58 1 92 1-9 1-135 1-36 1 117 1 204 1-121 1-131 1 154 1-39 1 59 1 206 1-375 1 25 1 152 1-202 1 232 1-206 1 5 1 189 1 49 1-249 1 30 1 37 1 86 1-100 1 162 1-196 1-203 1 286 1-105 1 163 1-101 1 44 1-55 1 63 1 125 1-240 1 190 1-194 1 199 1-172 1 36 1 76 1-127 1 62 1-115 1 79 1-48 1 285 1-298 1 139 1-1 1 94 1-50 1-38 1-31 1 1 1 38 1-46 1-61 1 117 1 15 1-149 1 55 1 119 1-140 1 21 1-150 1 109 1 8 1 76 1 75 1-74 1 14 1 3 1-123 1 188 1-237 1 234 1 37 1-205 1 102 1 41 1-96 1 77 1-52 1 42 1-44 1 85 1-131 1 96 1-44 1 201 1-233 1 92 1-32 1 13 1 20 1 37 1-165 1 122 1-24 1 12 1 35 1-157 1 153 1-88 1 100 1 59 1 2 1-171 1 216 1-23 1-95 1-104 1 114 1-156 1 107 1 5 1-151 1 89 1 80 1 10 1-117 1-49 1 142 1-10 1-106 1 152 1-97 1 14 1 35 1 66 1 135 1-198 1 92 1-129 1 69 1-10 1-160 1 65 1 140 1-155 1 105 1 81 1-125 1 11 1-82 1-5 1-6 1 153 1-55 1 150 1-181 1 44 1 174 1-245 1 15 1 177 1 61 1-168 1-50 1 29 1-130 1-77 1 189 1 27 1 20 1-214 1 172 1-56 1-18 1-12 1 51 1-124 1 111 1 32 1 109 1-63 1-26 1-94 1 139 1-69 1 37 1-155 1 116 1-125 1 274 1-226 1 206 1-70 1-28 1-90 1 81 1-6 1-75 1-6 1 96 1-54 1-78 1 76 1 130 1-93 1 141 1-324 1 172 1 164 1-108 1-76 1-24 1 74 1 24 1 47 1-161 1-32 1 81 1 11 1 5 1 60 1-14 1-81 1 25 1-14 1 103 1-133 1 158 1-200 1 125 1-42 1 88 1-54 1 60 1-80 1 173 1-260 1 83 1-44 1 71 1-54 1 106 1 17 1-43 1 96 1-201 1 100 1-12 1 56 1-121 1-47 1 122 1-125 1 67 1 10 1 169 1-71 1-184 1 11 1-99 1 245 1-125 1 204 1-60 1 21 1-22 1-102 1-99 1 108 1 126 1-227 1 85 1 170 1-260 1 117 1-64 1 122 1-9 1-82 1 181 1-150 1-73 1 40 1 45 1 30 1 0 1-167 1 106 1 9 1 97 1-117 1-32 1 277 1-356 1 74 1 89 1 147 1-382 1 158 1 105 1 87 1-223 1 259 1-165 1 27 1 81 1-42 1-2 1-144 1 44 1-67 1 193 1-205 1 84 1-81 1 139 1-71 1 129 1-188 1 93 1 65 1-42 1-18 1 176 1-176 1 107 1-86 1-25 1-195 1 173 1 158 1-170 1 153 1-11 1-25 1-151 1-67 1 88 1 181 1-133 1-59 1-2 1 108 1-264 1 358 1-35 1 13 1-232 1 40 1 16 1-39 1 165 1 116 1-225 1 200 1-209 1 10 1 31 1-102 1 80 1 147 1-40 1-133 1 119 1-115 1 81 1-49 1 110 1-72 1 135 1-85 1-113 1 108 1 28 1-165 1 9 1 175 1-127 1-23 1 125 1-12 1-54 1-149 1 138 1 2 1 147 1-184 1-54 1 186 1-169 1 37 1-39 1 72 1-4 1-225 1 65 1 246 1 69 1-186 1-6 1 29 1 23 1-141 1 186 1 33 1-145 1 12 1 1 1 111 1-219 1 64 1 12 1 36 1 172 1-79 1 65 1-114 1 139 1-133 1 59 1-56 1 208 1-109 1-108 1-52 1 178 1-172 1-171 1 242 1 57 1 102 1-21 1-99 1-23 1-77 1-112 1 239 1-103 1-112 1 79 1 30 1 4 1 133 1 8 1-196 1-55 1 26 1 2 1-54 1 14 1 164 1-56 1 235 1-306 1 79 1 5 1-80 1 208 1-133 1 92 1-217 1 253 1-61 1-91 1-111 1 152 1 126 1-64 1-93 1-19 1 159 1-213 1 182 1 5 1-67 1 91 1 1 1-89 1-45 1 60 1 75 1-135 1 112 1-165 1 50 1-14 1 24 1 97 1-111 1-21 1 44 1-18 1-2 1 51 1 26 1-58 1-3 1-42 1-52 1 134 1 13 1-213 1 177 1-2 1 71 1-108 1 237 1-136 1-45 1 43 1-83 1-81 1 69 1 65 1-57 1 96 1-179 1-24 1 82 1-24 1 5 1 204 1-96 1 12 1-101 1-44 1 93 1-160 1 177 1 36 1 2 1 137 1-248 1 109 1-104 1 19 1-10 1 197 1-115 1-10 1-52 1 119 1 4 1-196 1 231 1-148 1 118 1-168 1 113 1-10 1 50 1 97 1-335 1 160 1-136 1 71 1 146 1-41 1-96 1 43 1 67 1-95 1-42 1-32 1-42 1 140 1 39 1-1 1-67 1-84 1-25 1 49 1 83 1 62 1-26 1 140 1-149 1 266 1-331 1-29 1-26 1 264 1-45 1-51 1-178 1 141 1-158 1 122 1-42 1 192 1 21 1-82 1 38 1 28 1-187 1-92 1 209 1-59 1-130 1 113 1-62 1 3 1-44 1 5 1 75 1 115 1-188 1 198 1-114 1-29 1 102 1-127 1 23 1 72 1-18 1 126 1 70 1-195 1-29 1 57 1-18 1 0 1-183 1 217 1-229 1 235 1-45 1-15 1-58 1-78 1 39 1-11 1 73 1 26 1 10 1 95 1-302 1 204 1 59 1 43 1-81 1 72 1-190 1-13 1 166 1-176 1 41 1 43 1 5 1 50 1-108 1 239 1-223 1 73 1 213 1-188 1-43 1-43 1 48 1 95 1-107 1 11 1 126 1-12 1-69 1 28 1-76 1-168 1 182 1 46 1-36 1 79 1-31 1 14 1-119 1 100 1-58 1-22 1 125 1-146 1-93 1 167 1-46 1-78 1-18 1 93 1 45 1-67 1 146 1-25 1-23 1-89 1 141 1-125 1 177 1-64 1-10 1-130 1-111 1 307 1-168 1 34 1-49 1 89 1-128 1 273 1-283 1-44 1 206 1-90 1 117 1-73 1-5 1 102 1-204 1 18 1-106 1 172 1-18 1-96 1 277 1-219 1 80 1-203 1 186 1-108 1 132 1-139 1-28 1 30 1 3 1 120 1-136 1 196 1-15 1-160 1 14 1-94 1 231 1-108 1-7 1-52 1 199 1-108 1 47 1-87 1-25 1 6 1-78 1 87 1 87 1-57 1 26 1 10 1-87 1 25 1 128 1 119 1-147 1-86 1-89 1 109 1-32 1-45 1-12 1 172 1-49 1-79 1-197 1 533 1-252 1-26 1-96 1 141 1 31 1-42 1-112 1 241 1-194 1-64 1 127 1 17 1 54 1-24 1-69 1-127 1 63 1 86 1 97 1-23 1-207 1 227 1-218 1 77 1-78 1 57 1 85 1-49 1 36 1 76 1-92 1-12 1 94 1-76 1-90 1 67 1 101 1-240 1 202 1-168 1 73 1-69 1 76 1 124 1-211 1 175 1 67 1 3 1-172 1 83 1-3 1 92 1-304 1 105 1-30 1 74 1-89 1 150 1-167 1 126 1 36 1-111 1 31 1 5 1 177 1-58 1 31 1-46 1-80 1 99 1-90 1 96 1-66 1-80 1-52 1-66 1 148 1-8 1-108 1 279 1-49 1-179 1-12 1-75 1 12 1 12 1 68 1 69 1-103 1 276 1-151 1 122 1-116 1 46 1-104 1 45 1-103 1 244 1-113 1-111 1 240 1-141 1 185 1-369 1 255 1-89 1-24 1 196 1-112 1 100 1-202 1-80 1 346 1-210 1 127 1-165 1-18 1-32 1 26 1 207 1-30 1-112 1-68 1 134 1-36 1-78 1 29 1-86 1 197 1-146 1 36 1 0 1 24 1 34 1-170 1 177 1-92 1 26 1 70 1-86 1 312 1-429 1 211 1-124 1 5 1-36 1 146 1-87 1 139 1-142 1-72 1-34 1 339 1-168 1-71 1 198 1-394 1 201 1 186 1-139 1-60 1 219 1-96 1-16 1-57 1-158 1 209 1-14 1-48 1-50 1 25 1 147 1-199 1 157 1-5 1-300 1 389 1-158 1 91 1-159 1 27 1 120 1-42 1 5 1-93 1 205 1-189 1 5 1 25 1 39 1-102 1 10 1 368 1-322 1-56 1 2 1 161 1 11 1-75 1 30 1-14 1-35 1-142 1 118 1-11 1-59 1 134 1-29 1 142 1-91 1-135 1 92 1-5 1-170 1-13 1 137 1 92 1 38 1-113 1 100 1-95 1 43 1-33 1 20 1-141 1 123 1-161 1 183 1-182 1 233 1-112 1 54 1 65 1-279 1 171 1 100 1 55 1-192 1-10 1 50 1 70 1-14 1 72 1-63 1-16 1-92 1-12 1 171 1 86 1-347 1 154 1 79 1-89 1 95 1-30 1-159 1 155 1-180 1 72 1 95 1-29 1-54 1-33 1 168 1-51 1-39 1-63 1 110 1-73 1-29 1 66 1-43 1 326 1-172 1-126 1-12 1-162 1 365 1-106 1 65 1-42 1-119 1 117 1-78 1-12 1 21 1-96 1 44 1 104 1-34 1-66 1 79 1-94 1 43 1 44 1-18 1 70 1-125 1 78 1 13 1-39 1-219 1 90 1 160 1 34 1-154 1 152 1-194 1 165 1-159 1-85 1 209 1-89 1-9 1-148 1-8 1 297 1-192 1 20 1 67 1-20 1 142 1-18 1-71 1 111 1-152 1 15 1-120 1 233 1-219 1 86 1 6 1 27 1-3 1 63 1 22 1-197 1 321 1-297 1 53 1 12 1-73 1 91 1-20 1-38 1 70 1-98 1 8 1 89 1-48 1 121 1-107 1 14 1 142 1-129 1-48 1 134 1 32 1-113 1 48 1 36 1-92 1 90 1-95 1-85 1 67 1 12 1 108 1-208 1 139 1-175 1 200 1-52 1 120 1-144 1 153 1-129 1-143 1 84 1 182 1-199 1 190 1-79 1 22 1-14 1-29 1 220 1-317 1 104 1 84 1-120 1-102 1 222 1-152 1 67 1-15 1 57 1-54 1-50 1 196 1-70 1-23 1 6 1 104 1-102 1 53 1-138 1 35 1-15 1-19 1 76 1 48 1-154 1 100 1 19 1-201 1 278 1-209 1-45 1 150 1 24 1-87 1 106 1 109 1-281 1-44 1 263 1-184 1 46 1 19 1-68 1 104 1-12 1-39 1-16 1 257 1-336 1 53 1-45 1 112 1 79 1-143 1 2 1-40 1 25 1 140 1 22 1-81 1-54 1 43 1 40 1-61 1 183 1-159 1 194 1-354 1 316 1-327 1 81 1-16 1 21 1 107 1-40 1-136 1 240 1-78 1-105 1 146 1-215 1 261 1-39 1-74 1 75 1-45 1-22 1 15 1-46 1-4 1 4 1 11 1 12 1-25 1-4 1-38 1-75 1 203 1-217 1 81 1-13 1 136 1-71 1-5 1 53 1-88 1 170 1-28 1-151 1 38 1 185 1-185 1 26 1-62 1 83 1-4 1 92 1-79 1 26 1-83 1 235 1-184 1-100 1 135 1-96 1 23 1 27 1-19 1 93 1-139 1 54 1 188 1-223 1 163 1-13 1-123 1 71 1-51 1-8 1 34 1-47 1 178 1-293 1 73 1 136 1-41 1-149 1 212 1 70 1-430 1 159 1 84 1-117 1 108 1-23 1 11 1-15 1 154 1-92 1-26 1 126 1 20 1-109 1-149 1 153 1-106 1-16 1-9 1 62 1 216 1 40 1-98 1-75 1-15 1 33 1-13 1-84 1 162 1-162 1 4 1 210 1-174 1 16 1-48 1 5 1 245 1-373 1 158 1-76 1 6 1 171 1-85 1 13 1-213 1 316 1-260 1 58 1 89 1 85 1-77 1-78 1 146 1-104 1-37 1-6 1 93 1-89 1-9 1 253 1-79 1 23 1-61 1-137 1 24 1 11 1 82 1-139 1 237 1-17 1-191 1 87 1-120 1 18 1-8 1 158 1-22 1 103 1-154 1 2 1 51 1-28 1-41 1-65 1 135 1 3 1-47 1-59 1-116 1 80 1 28 1 216 1-85 1-140 1 5 1 146 1 38 1-102 1-44 1 61 1-31 1-86 1 180 1-95 1 174 1-63 1-204 1 161 1 23 1-164 1 116 1-127 1-88 1-27 1 218 1-49 1 82 1-208 1 105 1 28 1 65 1-38 1-79 1 139 1-6 1-101 1-45 1 161 1-62 1-64 1 60 1-67 1-81 1 198 1-84 1-77 1 96 1-132 1 168 1-130 1 78 1-32 1 114 1-158 1 201 1-200 1 94 1-22 1-95 1 244 1-196 1 37 1 78 1-119 1 74 1-169 1 211 1-185 1 15 1 93 1 93 1-59 1 115 1-54 1-8 1-86 1 159 1-167 1 80 1-126 1 33 1 107 1-76 1 3 1 66 1-24 1-11 1 78 1 21 1-128 1 180 1-204 1-32 1 112 1-77 1 108 1-127 1-39 1 53 1 49 1-2 1 123 1-60 1-40 1 30 1-63 1-103 1 238 1-68 1-70 1 119 1-23 1-126 1-7 1 23 1 119 1-138 1-26 1 114 1-45 1 29 1-3 1 26 1-83 1 108 1-224 1 94 1 79 1-218 1 182 1 225 1-310 1 36 1 65 1-9 1 59 1 52 1-8 1-322 1 280 1-68 1-146 1 221 1-55 1 32 1 95 1-179 1-10 1 74 1-1 1-74 1-7 1-110 1 109 1-9 1 128 1 64 1-235 1 187 1-134 1 52 1 81 1-95 1-130 1 30 1 162 1-18 1 162 1-77 1-58 1-50 1-38 1 77 1-147 1 187 1-142 1 151 1-59 1-47 1-52 1 130 1-27 1-15 1-44 1-104 1 66 1 89 1-2 1-136 1-10 1 28 1 91 1 80 1-13 1-77 1 103 1-78 1-202 1 156 1-43 1 161 1-211 1 155 1-280 1 230 1 11 1 52 1-101 1-125 1 209 1-104 1 170 1-124 1 82 1-179 1 161 1-93 1 48 1 113 1-110 1 5 1-71 1 86 1 144 1-70 1-44 1-105 1 92 1-112 1 104 1-57 1-54 1 74 1 164 1-250 1 119 1-90 1 119 1-46 1 4 1 35 1-29 1 79 1-7 1-122 1 60 1-83 1 30 1 96 1-64 1 30 1-74 1-99 1 141 1 47 1-230 1 210 1 40 1-31 1 161 1-326 1 36 1 2 1 47 1 64 1 30 1 22 1-133 1-16 1 13 1 160 1-259 1 235 1-69 1 5 1 38 1 164 1-97 1-58 1-137 1 124 1-65 1 136 1-75 1-138 1-53 1 395 1-286 1 38 1 24 1-20 1-79 1 148 1 38 1-150 1 105 1-87 1 128 1-115 1 60 1 10 1-108 1 116 1 167 1-113 1-88 1-164 1 176 1 71 1-54 1-142 1 60 1-12 1-5 1-85 1 245 1-229 1 62 1 136 1-147 1-58 1 140 1-110 1 281 1-59 1-176 1 36 1-52 1 14 1-32 1 205 1-1 1-230 1 71 1 24 1 19 1-157 1 204 1-98 1-93 1 178 1 0 1-23 1 150 1-276 1 12 1-74 1 160 1-41 1-24 1-85 1 115 1-14 1 101 1-89 1 30 1-92 1 26 1 166 1-6 1-124 1 66 1-61 1-73 1 210 1-145 1 120 1-81 1 8 1 85 1 115 1-174 1 73 1-120 1 7 1-73 1 35 1 219 1-16 1-76 1-67 1-32 1 80 1-88 1 111 1-177 1 133 1 6 1-4 1-44 1-127 1 110 1-67 1 148 1-347 1 215 1-21 1 170 1-5 1-82 1-48 1 125 1-89 1-121 1 311 1-63 1-93 1-59 1 43 1-48 1-78 1 164 1 32 1-195 1 270 1-225 1-40 1 89 1 74 1-63 1 63 1-221 1 118 1 49 1-32 1-8 1-46 1 63 1 96 1-44 1 71 1 27 1-143 1 69 1-33 1-70 1-25 1 71 1 56 1-105 1 128 1 223 1-254 1-139 1 190 1-162 1 33 1 51 1-105 1 46 1 38 1 16 1-50 1 30 1 81 1-7 1-47 1 90 1 70 1-246 1 122 1-249 1 182 1-53 1 4 1 63 1 35 1 110 1-44 1 23 1 8 1 9 1-152 1 193 1-314 1 211 1-108 1 10 1-11 1 45 1 9 1-27 1-67 1 16 1 45 1 146 1-52 1-85 1-95 1-24 1 178 1-80 1 78 1 34 1-90 1-43 1 30 1 232 1-312 1 288 1-279 1-32 1 298 1-45 1-84 1-55 1-29 1 80 1-139 1 135 1-39 1 5 1-69 1 23 1 183 1-212 1 161 1-7 1-19 1-44 1-73 1 0 1 184 1-124 1-101 1 12 1 65 1 81 1-118 1 75 1 100 1 109 1-274 1-61 1-67 1 55 1 76 1 50 1-26 1-42 1 162 1-115 1 45 1-93 1 6 1 248 1-50 1-139 1-48 1 121 1-84 1 12 1 46 1 8 1-85 1-72 1 155 1-101 1 29 1 68 1 1 1 35 1-97 1-38 1 77 1 135 1-166 1 18 1 24 1-132 1 171 1-45 1-40 1-117 1 224 1-113 1 183 1-104 1-35 1 91 1-163 1 26 1 90 1-78 1 73 1-38 1-5 1-139 1 198 1-128 1-52 1 92 1-46 1-123 1 271 1 3 1-151 1 48 1-129 1 181 1-57 1-49 1 247 1-315 1 118 1 84 1-26 1-9 1-161 1 194 1-193 1 167 1-90 1 71 1-30 1-87 1 92 1 45 1-138 1-90 1 193 1 5 1 248 1-151 1-54 1-97 1 87 1-81 1 11 1-38 1-76 1 137 1 115 1-140 1-29 1-106 1 151 1 64 1 21 1-132 1 72 1-108 1-29 1 116 1-50 1 47 1-49 1 173 1-44 1-217 1 274 1-40 1-141 1 134 1-47 1 42 1-209 1 139 1-150 1 120 1 165 1-157 1 176 1-247 1 282 1-291 1 45 1-83 1 92 1 14 1 57 1 22 1 10 1-36 1-9 1-225 1 169 1 116 1-197 1 109 1 71 1-72 1 69 1-106 1 75 1-121 1 202 1-128 1 136 1-277 1 264 1-275 1 193 1-113 1 164 1-45 1-151 1 242 1-170 1 196 1-328 1 89 1 260 1-134 1-126 1-106 1 206 1 162 1-279 1 182 1-69 1 43 1 85 1 83 1-347 1 127 1 10 1 56 1-85 1 130 1 7 1 24 1 7 1-157 1 164 1-305 1 178 1 31 1-19 1-162 1 149 1-11 1-156 1 60 1 68 1 64 1-243 1 247 1-210 1 256 1 58 1-145 1 41 1 98 1-134 1-225 1 235 1-52 1 41 1-1 1-23 1 8 1 12 1-31 1-6 1 24 1 153 1-60 1 28 1-83 1-160 1 112 1 64 1-219 1 106 1 134 1-104 1-50 1 5 1 140 1-75 1 81 1 62 1-169 1 229 1-169 1-106 1 37 1 58 1-39 1 20 1-105 1 70 1-19 1 127 1-49 1 33 1-140 1 16 1 65 1-67 1 68 1 22 1-67 1 26 1-183 1 321 1-202 1 169 1-153 1 159 1 67 1-295 1 154 1-160 1 209 1 9 1-183 1 164 1-59 1 85 1-59 1 180 1-166 1-21 1 244 1-344 1 96 1-17 1 12 1-194 1 252 1-137 1 63 1 124 1-164 1-54 1 76 1 130 1-156 1-4 1 95 1-119 1 227 1-37 1-78 1-30 1-81 1-4 1 152 1-159 1-48 1 64 1 85 1 12 1 51 1 103 1-106 1 59 1-144 1 6 1-23 1 5 1-15 1 90 1-15 1-69 1-90 1 289 1-61 1-74 1 69 1-42 1-50 1 73 1-143 1 10 1-5 1 25 1-28 1 239 1-242 1 155 1-274 1 251 1-91 1 162 1-29 1-123 1-16 1-103 1 61 1-37 1-61 1 310 1-269 1 203 1-100 1 37 1-89 1 5 1 24 1 89 1 129 1-174 1 9 1-7 1-47 1-120 1 72 1 59 1 86 1 63 1-244 1 72 1 58 1 143 1-109 1-87 1 18 1 77 1-56 1 39 1 13 1-158 1 58 1 37 1 69 1-162 1 242 1-142 1 120 1 95 1-149 1 147 1-160 1 101 1-125 1 45 1 97 1-101 1 31 1-201 1 5 1 56 1-10 1-138 1 192 1 7 1-126 1 85 1 136 1-221 1 122 1-110 1-13 1 173 1-38 1-47 1 165 1-26 1-100 1 14 1 82 1-75 1-41 1 97 1 9 1-56 1 83 1-18 1-43 1 145 1-126 1-71 1 113 1-195 1 73 1-90 1 123 1-62 1 63 1 90 1-149 1 117 1-114 1 139 1-92 1 27 1-137 1 138 1-127 1 53 1-89 1 170 1-122 1 4 1 21 1 37 1-103 1 249 1-191 1 117 1-97 1-30 1 46 1 55 1 61 1 48 1-68 1-104 1 177 1-371 1 241 1 64 1-162 1-6 1 61 1 104 1-74 1-96 1 34 1 250 1-252 1-82 1 217 1 109 1-103 1-78 1 26 1 0 1-68 1 115 1 3 1-58 1-107 1 173 1-170 1-22 1 32 1 137 1-166 1 157 1-18 1 120 1-51 1-6 1-205 1 92 1 5 1 58 1 6 1 51 1-56 1-154 1 140 1-199 1 129 1 83 1-148 1 118 1-93 1 136 1-176 1 93 1 17 1-66 1 132 1 145 1-117 1-157 1-56 1 261 1-169 1-6 1 175 1 36 1-314 1 120 1 66 1-77 1 199 1-184 1 44 1 20 1-128 1 99 1-2 1 45 1 32 1-62 1-142 1 315 1-83 1-42 1-111 1 119 1-115 1 255 1-104 1 210 1-217 1-113 1-95 1 57 1-7 1 147 1-25 1-145 1 63 1-130 1 120 1 23 1 12 1-131 1 41 1 134 1-97"/>
<path vector-effect="non-scaling-stroke" d="M0 1469l1 40 1-135 1-110 1 239 1-72 1-52 1 129 1-227 1 154 1 34 1-83 1 69 1-155 1 140 1 45 1-31 1-155 1 89 1-9 1 219 1-89 1-27 1-72 1-114 1 211 1-6 1-66 1-118 1 196 1-48 1 32 1-149 1-50 1-47 1 35 1 61 1 130 1-95 1-67 1 38 1 149 1-53 1 13 1-125 1 63 1 61 1-99 1 25 1 94 1-153 1 87 1 20 1 75 1-97 1-35 1 258 1-148 1-35 1-72 1 160 1-284 1 194 1 56 1-65 1-90 1 78 1 63 1-86 1-6 1 16 1 97 1-115 1-87 1 134 1-37 1 214 1-196 1-28 1 69 1-25 1 76 1-162 1 70 1 110 1-76 1-57 1 7 1-202 1 230 1-18 1 85 1-127 1 127 1-120 1 103 1 15 1-2 1-245 1 275 1-195 1 86 1 118 1-87 1 40 1-99 1-70 1-70 1 218 1 2 1 9 1-60 1 70 1-223 1 161 1 12 1-120 1 84 1 106 1-299 1 152 1 89 1-81 1-118 1 131 1-36 1 240 1-100 1 43 1-150 1 174 1 25 1-120 1-22 1-67 1-88 1 27 1 100 1-7 1 190 1-276 1 180 1-37 1-32 1 85 1-66 1-108 1-37 1-44 1 86 1 125 1-88 1 135 1-265 1 128 1 89 1 0 1 54 1-261 1 157 1-107 1 104 1-14 1 6 1-114 1 308 1-150 1 34 1-98 1 90 1-52 1 57 1 27 1-119 1-53 1 64 1 155 1-55 1-140 1 103 1-106 1 66 1-125 1 219 1-109 1-58 1 32 1 165 1-45 1-35 1 65 1-60 1 4 1-13 1 1 1 36 1-142 1-22 1 105 1-130 1 6 1 141 1-187 1 21 1 50 1 111 1-64 1 79 1-116 1 93 1 79 1 0 1-51 1 34 1-129 1-25 1 55 1 47 1-9 1 24 1 29 1-118 1 95 1-101 1 140 1 21 1-139 1-223 1 246 1 77 1-202 1 125 1 34 1 77 1-173 1 108 1 36 1-49 1-126 1 26 1 174 1 86 1-325 1 131 1-171 1 142 1-11 1 49 1-6 1-19 1 18 1-137 1 158 1 14 1-136 1 188 1-57 1-30 1 145 1-178 1 49 1-85 1 52 1 137 1 19 1-59 1-46 1-9 1 7 1-73 1 372 1-269 1-185 1 135 1-5 1-67 1 181 1-148 1 40 1 57 1-86 1-110 1 101 1 41 1-154 1 87 1-119 1 54 1 100 1 69 1-28 1-127 1 214 1-326 1 222 1-50 1-56 1 178 1 133 1-160 1-8 1-117 1 83 1-24 1 34 1-145 1 173 1-26 1-40 1 135 1-177 1 282 1-159 1 30 1-77 1-78 1 8 1 82 1 41 1-47 1 50 1-242 1 62 1 121 1-76 1 107 1-42 1-17 1 119 1-109 1 60 1-102 1 140 1-41 1-105 1-85 1 84 1 19 1 164 1-81 1-67 1 20 1-14 1-94 1-20 1 169 1 27 1 76 1-159 1-49 1-58 1 179 1-23 1 34 1-273 1 48 1 187 1-63 1 92 1-34 1-229 1 218 1-6 1-18 1 125 1 25 1 45 1-287 1 163 1-15 1-138 1 184 1-59 1 31 1-109 1 60 1 138 1-253 1-25 1 87 1 56 1-16 1 98 1-76 1-127 1 70 1 153 1 1 1-101 1-140 1 74 1 41 1-80 1 146 1-101 1 63 1 74 1-154 1 169 1-114 1-98 1 209 1-231 1-10 1 51 1 95 1 0 1-1 1-24 1 85 1-112 1-102 1 258 1-272 1 243 1-20 1-38 1-35 1-22 1-128 1 94 1-60 1 153 1-88 1 209 1-58 1-321 1 225 1-67 1-20 1 15 1 191 1-143 1-186 1 108 1 131 1-40 1 48 1-62 1 8 1 10 1 67 1 97 1-207 1 23 1-29 1-54 1 122 1-128 1 120 1-104 1 28 1 132 1-161 1 44 1 33 1 20 1-14 1 72 1 45 1-108 1-79 1 88 1-80 1 207 1-285 1 122 1 47 1-29 1-27 1 25 1-27 1 150 1-169 1 69 1 84 1-175 1 74 1-137 1 192 1-174 1 67 1 121 1-151 1 32 1-37 1 137 1 185 1-196 1-50 1-72 1-23 1-7 1 58 1 39 1 54 1-85 1 86 1-64 1 55 1-97 1 99 1 24 1-9 1-100 1 98 1-156 1 200 1-116 1 56 1 77 1-99 1-46 1-17 1 82 1 71 1-32 1-15 1-208 1 270 1-100 1-204 1 293 1-242 1 16 1 51 1 28 1 206 1-149 1 11 1-129 1 5 1 210 1-183 1 148 1-238 1 157 1 7 1-61 1 88 1-55 1 105 1-5 1-117 1 28 1-46 1 58 1-80 1 48 1 7 1-66 1 87 1 114 1-28 1-54 1-115 1 144 1-25 1-137 1-19 1 256 1-23 1-88 1-25 1 61 1 84 1-323 1 155 1-96 1 55 1 18 1 212 1-190 1 15 1 2 1 81 1 43 1-115 1-54 1-32 1 73 1 178 1-127 1 13 1 19 1 45 1-162 1 117 1-70 1-41 1 121 1-44 1 31 1-160 1 168 1 74 1-225 1 318 1-359 1 82 1 5 1-3 1 29 1-31 1 14 1 60 1 77 1 73 1-65 1-78 1-52 1 94 1 13 1-211 1 69 1 136 1-1 1-87 1-63 1 123 1-36 1-93 1 223 1-151 1 33 1 70 1-109 1-53 1 101 1 19 1-164 1 99 1 93 1-103 1-38 1 79 1 151 1-116 1 47 1-234 1 203 1-220 1 148 1-4 1-16 1-117 1 234 1-57 1-10 1-59 1 83 1-63 1-65 1 112 1-149 1 116 1 11 1-71 1 85 1-69 1 94 1 53 1-134 1-36 1 70 1-82 1 113 1-216 1 202 1-69 1 50 1 9 1 64 1-197 1 134 1 39 1-153 1 7 1 151 1-119 1-42 1 79 1 130 1-106 1 58 1 44 1-127 1-38 1 266 1-173 1 40 1-109 1 86 1 70 1-241 1 136 1-131 1 96 1 98 1 47 1 5 1-105 1-38 1-102 1 220 1-113 1-59 1-52 1 33 1 32 1-7 1 173 1-123 1 117 1-288 1 93 1 99 1 14 1-2 1-77 1 78 1-15 1 66 1-127 1-10 1 147 1-145 1 70 1-91 1-10 1 130 1-96 1-43 1 201 1-108 1 95 1-146 1 203 1-226 1 107 1-88 1-115 1 175 1 82 1 15 1-163 1 179 1 16 1-162 1-81 1 84 1-130 1 50 1 38 1 29 1 6 1-5 1-51 1 77 1 145 1 24 1-62 1-94 1 140 1-116 1-44 1-76 1 181 1 1 1 31 1-6 1-70 1-163 1 108 1 22 1-23 1-95 1 8 1 83 1 181 1-80 1-40 1 37 1-133 1 110 1 55 1-95 1-77 1 122 1 41 1-20 1-77 1-21 1 84 1 9 1-133 1-122 1-44 1 27 1 257 1-73 1 22 1 34 1 7 1-48 1-43 1-73 1-2 1 140 1 0 1-106 1 21 1 101 1-47 1 166 1-187 1 130 1-131 1-121 1 147 1 110 1-60 1-56 1 68 1-197 1 53 1 119 1-179 1 149 1-22 1-132 1-11 1 156 1-64 1 75 1-96 1 109 1-122 1 248 1-181 1-69 1 86 1 167 1-168 1 115 1-53 1-49 1-142 1 165 1 89 1-252 1 175 1 32 1-34 1 4 1-136 1 308 1-118 1-141 1 55 1 24 1 164 1-250 1 124 1-167 1 336 1-246 1-19 1-90 1 130 1 65 1-77 1 52 1-43 1 196 1-183 1-14 1-5 1 16 1-155 1-12 1 70 1 84 1-114 1 107 1 45 1 15 1-39 1-137 1 13 1 8 1 72 1 83 1-78 1 30 1 52 1-146 1 231 1-19 1-17 1-56 1-38 1-77 1-11 1 115 1 11 1-58 1-83 1 51 1-20 1-23 1 45 1 30 1 185 1-138 1 66 1-42 1-40 1-87 1-30 1 161 1-120 1-9 1 223 1-200 1 33 1 156 1-174 1-50 1-7 1 108 1-109 1-25 1 35 1 179 1-200 1 124 1-1 1-155 1-15 1-7 1 49 1-37 1 308 1-240 1 159 1-133 1-65 1 9 1 111 1 54 1-25 1-5 1-51 1-80 1 151 1-136 1 143 1-23 1-87 1-35 1-14 1 131 1-110 1 154 1-280 1 124 1 52 1 83 1-25 1-66 1 77 1-69 1 88 1-18 1-151 1 170 1-45 1 45 1-131 1 134 1-55 1-33 1 31 1-77 1 28 1 7 1 64 1-27 1 52 1-8 1 22 1-211 1 47 1 174 1-88 1-83 1 88 1-154 1 244 1-115 1 204 1-299 1 166 1-77 1-69 1 96 1 31 1 19 1-180 1-14 1 177 1-161 1 171 1 154 1-146 1 13 1-95 1-8 1 103 1 2 1-51 1 212 1-276 1-34 1 81 1 130 1-109 1 58 1-15 1-196 1 162 1 38 1-115 1 181 1-270 1 111 1 12 1-9 1 158 1-176 1 6 1 39 1 76 1-63 1-131 1 187 1-101 1-41 1 184 1-67 1-67 1-82 1 81 1 81 1-50 1 155 1-201 1 51 1 15 1-27 1-10 1 105 1-266 1 271 1-104 1 8 1 150 1-122 1 64 1 35 1 43 1-156 1-90 1 16 1 79 1-45 1 239 1-233 1 79 1-106 1-7 1 59 1 27 1 0 1-174 1 183 1-64 1-44 1-42 1 244 1-137 1 115 1-73 1-94 1 221 1-172 1 24 1-83 1 72 1-18 1 43 1-121 1 34 1 36 1-24 1-7 1 114 1-112 1 24 1-20 1 82 1-49 1 33 1 117 1-166 1 102 1-73 1-79 1-25 1 65 1 20 1 26 1 69 1-113 1 12 1 79 1-95 1 145 1-134 1 91 1 15 1-1 1-28 1 39 1-87 1-7 1 101 1 61 1-118 1-102 1-55 1 122 1-78 1 112 1-100 1 113 1 67 1-124 1 33 1-20 1 40 1 92 1-96 1 17 1 54 1-31 1-64 1-8 1 79 1 17 1-35 1 9 1-47 1-160 1 171 1 137 1-293 1 130 1 34 1-78 1 83 1-183 1 145 1-2 1 32 1-68 1 55 1 14 1-21 1 59 1-141 1-44 1 200 1-52 1-75 1 150 1-47 1-107 1 35 1-18 1 196 1-268 1 86 1 21 1-167 1 73 1 215 1-290 1 208 1-37 1 88 1-232 1 129 1-50 1-40 1 80 1 184 1-317 1 164 1 104 1-101 1-4 1 9 1-30 1-48 1-115 1 74 1 67 1-173 1 178 1-196 1 197 1 154 1-269 1 135 1 10 1-15 1-19 1-46 1 62 1 104 1-146 1-10 1 73 1-59 1-26 1 216 1 17 1-106 1-148 1 216 1-237 1 148 1-89 1 85 1 7 1-19 1 39 1 21 1-22 1-32 1-1 1 94 1-84 1-18 1-80 1 2 1 39 1-6 1 124 1-62 1-111 1 32 1-94 1-51 1 24 1 208 1 1 1-24 1-145 1 84 1 56 1 74 1-92 1 17 1-133 1-109 1 341 1 16 1-214 1 13 1 113 1-82 1-3 1 128 1-160 1 111 1-67 1-95 1 202 1-163 1 7 1-68 1 209 1-107 1 170 1-134 1-122 1-41 1 101 1 149 1 57 1-182 1 91 1-95 1 34 1 3 1-139 1 269 1-111 1-90 1-62 1 228 1 19 1-64 1 115 1-52 1-232 1 202 1 44 1-81 1-51 1 84 1-71 1-81 1 16 1 88 1-129 1-34 1 91 1 226 1-261 1 112 1-113 1 140 1 8 1-5 1-13 1-190 1 196 1-7 1-56 1 117 1-53 1 41 1-172 1 215 1-121 1-29 1-91 1 35 1 47 1 111 1-294 1 86 1 80 1 173 1-86 1 58 1 6 1-31 1 70 1-20 1-71 1-18 1 159 1-159 1-165 1 159 1 30 1 2 1-240 1 115 1-2 1 23 1 47 1-165 1 186 1 183 1-251 1-35 1 58 1-33 1 11 1 8 1-145 1 44 1 76 1 36 1 55 1 63 1 13 1-8 1-83 1 3 1-85 1 47 1 199 1-28 1-96 1-282 1 259 1-88 1 26 1 67 1-107 1 254 1-99 1 53 1-177 1-144 1 218 1 63 1-2 1-98 1 16 1-49 1 90 1 5 1-164 1-11 1 50 1 141 1-192 1 119 1 75 1-159 1 88 1-54 1 14 1-32 1 111 1-72 1 70 1-81 1 22 1 69 1-54 1 37 1-72 1 8 1-6 1 236 1-192 1 43 1-8 1-134 1 15 1 61 1-122 1 15 1 80 1-57 1-67 1 245 1 17 1-23 1-52 1-30 1-114 1 166 1-186 1 10 1-1 1 114 1 73 1-181 1 69 1 60 1-99 1 47 1 98 1-109 1 28 1 33 1-55 1 109 1-76 1 54 1-114 1 55 1 31 1-97 1 130 1 15 1-163 1 177 1-204 1 35 1 116 1 28 1-233 1 167 1 36 1 18 1 35 1-269 1 127 1 45 1 54 1-12 1-114 1 277 1-137 1 15 1 50 1-199 1 122 1-154 1 3 1 184 1-180 1 66 1 44 1-125 1 83 1 6 1 141 1-206 1 101 1-126 1 125 1-105 1 72 1-45 1 245 1-186 1 21 1 2 1 80 1 71 1-227 1 61 1-17 1-71 1 138 1-168 1 57 1 33 1 15 1-140 1 108 1-22 1 149 1-123 1 130 1-31 1-95 1 60 1 142 1-71 1-41 1-102 1 98 1-139 1 81 1 98 1-225 1 147 1 31 1 17 1-52 1 31 1-59 1-46 1 55 1 73 1-150 1 111 1-58 1 236 1-295 1 152 1-131 1 177 1-86 1-132 1 13 1 75 1 355 1-142 1-127 1-41 1 166 1-134 1-66 1-61 1 100 1-128 1-125 1 242 1-69 1 2 1-61 1 308 1-223 1 81 1 66 1-4 1-71 1-73 1 92 1 81 1-113 1-135 1 200 1-141 1-49 1 114 1 55 1 17 1-193 1 53 1 63 1-24 1 76 1-42 1-148 1 82 1 6 1-16 1 109 1-74 1 127 1 119 1-208 1 34 1 13 1 73 1-96 1-3 1 54 1-11 1 45 1-57 1-117 1 153 1-154 1 182 1-52 1 78 1-13 1-210 1 156 1-100 1-21 1-33 1 86 1 44 1-261 1 151 1 0 1 127 1 26 1-149 1-75 1 177 1 50 1-181 1 132 1-90 1 132 1-91 1 68 1-35 1 35 1-93 1 52 1-52 1 66 1-140 1 158 1-32 1-120 1 79 1 74 1-15 1 22 1-159 1 88 1 4 1 137 1-215 1-2 1-29 1 203 1-199 1 155 1-87 1 21 1-60 1 195 1-128 1-58 1-93 1 174 1-60 1-78 1 151 1-7 1-26 1-115 1 143 1-51 1 55 1-49 1-132 1 86 1 11 1 84 1 20 1-135 1-26 1 169 1-39 1 13 1-9 1-101 1 168 1-188 1-35 1 246 1-128 1 29 1 68 1-247 1 34 1 171 1-4 1-60 1-92 1 15 1 72 1 118 1 48 1-138 1-60 1-23 1-51 1 129 1 7 1-110 1 111 1-84 1 286 1-319 1 78 1-4 1-48 1 72 1 138 1-92 1-179 1 154 1-12 1 44 1-30 1 39 1 42 1-94 1 57 1 41 1-196 1 116 1-48 1-105 1-10 1 188 1-81 1 38 1 60 1-84 1 70 1 15 1-61 1-24 1-30 1 63 1-94 1 120 1-1 1-98 1 135 1-118 1-18 1 109 1 8 1-59 1-38 1 85 1-7 1 100 1-157 1-41 1-10 1 83 1-55 1-79 1 57 1 51 1 10 1-39 1 12 1 49 1-102 1 85 1-63 1 95 1-137 1 87 1 61 1 13 1-204 1 102 1-43 1 121 1-21 1 18 1-68 1 51 1-43 1 114 1-268 1 276 1-14 1-113 1-81 1 108 1-91 1 58 1 130 1-17 1 22 1-173 1 91 1-14 1-16 1 21 1-5 1 65 1 19 1-122 1 12 1 24 1-55 1 14 1 5 1-74 1 288 1-214 1 234 1-268 1 7 1 75 1-9 1-63 1 94 1-21 1-82 1 274 1-233 1-9 1-29 1 28 1 177 1-241 1 193 1 143 1-248 1 13 1-22 1-27 1-75 1 47 1 201 1-159 1 2 1 49 1-15 1 15 1-75 1 138 1 137 1-199 1 65 1-49 1-87 1 158 1-104 1 104 1-10 1-30 1 22 1-115 1 129 1-80 1 2 1 15 1-93 1-29 1 37 1-48 1 101 1-99 1 27 1 66 1-92 1 173 1 11 1 21 1-135 1 138 1-180 1 180 1-75 1-30 1-45 1 105 1-114 1-19 1 75 1 153 1-243 1 121 1 27 1-72 1 189 1-251 1 175 1-136 1 29 1 73 1-98 1 0 1 46 1-23 1-17 1 79 1 28 1-75 1 140 1-55 1-144 1 0 1 68 1-63 1 64 1 49 1-112 1 51 1-4 1 13 1-195 1 134 1-30 1 94 1-61 1 101 1-28 1-13 1-11 1-142 1 199 1-137 1 52 1 11 1-155 1 182 1 131 1-240 1 38 1 190 1-185 1 135 1-74 1-115 1 187 1-63 1-126 1 113 1 31 1-108 1-11 1-5 1-106 1 336 1-3 1-91 1 92 1-65 1 39 1-167 1-30 1 138 1-234 1 41 1 202 1-35 1-10 1-67 1-3 1 44 1-14 1 3 1-35 1 109 1-63 1 82 1-78 1 29 1-36 1 167 1-38 1-257 1 112 1 94 1-110 1-133 1 75 1 187 1-28 1 100 1-72 1-171 1-42 1 116 1 133 1 88 1-227 1 21 1 7 1-10 1-158 1 181 1-49 1-29 1-75 1 138 1 5 1-68 1 54 1 86 1-82 1 10 1 56 1 56 1-57 1-23 1-110 1-33 1 190 1-105 1 27 1-23 1-43 1 123 1 86 1-187 1 45 1-69 1 17 1 64 1-81 1 77 1-55 1 101 1-92 1-2 1 81 1-59 1-135 1 176 1 65 1-225 1-45 1 147 1-20 1-21 1 87 1-100 1 94 1 183 1-171 1-56 1-127 1 163 1 46 1-63 1 16 1 38 1-151 1 66 1 105 1-80 1-63 1 201 1 14 1-117 1 25 1 38 1-43 1 78 1-273 1 131 1-30 1 106 1-99 1 45 1 62 1-92 1 85 1-52 1 185 1-162 1-54 1-20 1 55 1 54 1-168 1 187 1-27 1-36 1-34 1-26 1 112 1-116 1 5 1 154 1-153 1 118 1-191 1-25 1 250 1 76 1-111 1-46 1-19 1 26 1-150 1 90 1-25 1 213 1-199 1 69 1-41 1 13 1-109 1 220 1-164 1 218 1-206 1 37 1-123 1 130 1-46 1 103 1-84 1 13 1 20 1 9 1-42 1 101 1-83 1-97 1 27 1 29 1 192 1-51 1 27 1-79 1-28 1-74 1 97 1 6 1-130 1 112 1 123 1-178 1 112 1-93 1-81 1 38 1 107 1-38 1 52 1-166 1 32 1 49 1-42 1-41 1 131 1-86 1-78 1 152 1-127 1 57 1 130 1-74 1 106 1-170 1 127 1-64 1 10 1-174 1 97 1 44 1-129 1 204 1-130 1 28 1 14 1-50 1 138 1-203 1 94 1-6 1 12 1 15 1-1 1 20 1 75 1-40 1 16 1-90 1 80 1-28 1 48 1-115 1-108 1 238 1-160 1 29 1-5 1 42 1-60 1-25 1 137 1 200 1-275 1 86 1-159 1 158 1-66 1 243 1-249 1 13 1-98 1 78 1-10 1 11 1 200 1-249 1 63 1-3 1-21 1 87 1-27 1-21 1-31 1-69 1 76 1-19 1 113 1-220 1 42 1 39 1 173 1-152 1 152 1-69 1 25 1 42 1-122 1-120 1 199 1-137 1 83 1 21 1-46 1-18 1 106 1 44 1-51 1 78 1-261 1 199 1-82 1 39 1 19 1 26 1 6 1-61 1-8 1 20 1-35 1-56 1 177 1 34 1-257 1 208 1-35 1-98 1 60 1-115 1 93 1-67 1 46 1-27 1 82 1 14 1-71 1 106 1-193 1 114 1 21 1-161 1 182 1 12 1-112 1 68 1-19 1-15 1-45 1 92 1-135 1 166 1-80 1 47 1-145 1 180 1-281 1 285 1-108 1 11 1-28 1 9 1 154 1 10 1-107 1-28 1 98 1-109 1-89 1 100 1-41 1 115 1-250 1 190 1-13 1-2 1 41 1-30 1-17 1 110 1-151 1 16 1 76 1 71 1-71 1 57 1-241 1 50 1 85 1 41 1-109 1 27 1-94 1 317 1-214 1 170 1-287 1 339 1-78 1-14 1-48 1-3 1-112 1 97 1-23 1-16 1 156 1-232 1 207 1-158 1-1 1 150 1-186 1 40 1 14 1 16 1-4 1-33 1-42 1 283 1-342 1 130 1-14 1 84 1-10 1-83 1 124 1 32 1-169 1 41 1 56 1-182 1 123 1-15 1 41 1-12 1 72 1-183 1 249 1-80 1 115 1-135 1-48 1 12 1-49 1 105 1-89 1 103 1 9 1-64 1-83 1 253 1-102 1-2 1-107 1 72 1-63 1-76 1 75 1 21 1 73 1 58 1-94 1-162 1 225 1-88 1 79 1-121 1-51 1 196 1-109 1 22 1 22 1 46 1-116 1 1 1-100 1 186 1-63 1 69 1-17 1-213 1 68 1 121 1-6 1-29 1-117 1 37 1 93 1 101 1-73 1-168 1 214 1-52 1 143 1-208 1 33 1-137 1 321 1-83 1 1 1-158 1 64 1 115 1-160 1 61 1-122 1 29 1 217 1-62 1 63 1-153 1-22 1 114 1-204 1 160 1-89 1 16 1 12 1-8 1 56 1 49 1 27 1-68 1-86 1-83 1 118 1 40 1 2 1-17 1 105 1-17 1-120 1-56 1-29 1 64 1 99 1-146 1 63 1 54 1-176 1 158 1-113 1 133 1-25 1-6 1 2 1 6 1-26 1-86 1 100 1 78 1 116 1-250 1-77 1 241 1-129 1-123 1 202 1-14 1-114 1 136 1 48 1-83 1 23 1 50 1-153 1 97 1-3 1-24 1 35 1 27 1-45 1 103 1-151 1 41 1-64 1 90 1-179 1 144 1 41 1-133 1 173 1-211 1-55 1 278 1 27 1-157 1-30 1 5 1 145 1 30 1 79 1-223 1 102 1 129 1-227 1-39 1 39 1 75 1-110 1 102 1-57 1-35 1 75 1 49 1-24 1-167 1 186 1 146 1-223 1 148 1 121 1-197 1-51 1 103 1-165 1-2 1 31 1-5 1-2 1 67 1-30 1-57 1 81 1 77 1-200 1 62 1-78 1 94 1 20 1 62 1-47 1-89 1-96 1 105 1 41 1-108 1 6 1 331 1-157 1 115 1 47 1-232 1 29 1 7 1-82 1 62 1-27 1-8 1 106 1-259 1 103 1 88 1-46 1 93 1-82 1-8 1 97 1 12 1 19 1-21 1-186 1 180 1-22 1-105 1 179 1-277 1 93 1 66 1-163 1 215 1-179 1 114 1-47 1 70 1 40 1-18 1-122 1 89 1 31 1 25 1 117 1-283 1 91 1 140 1-95 1-45 1 71 1-31 1-7 1-48 1 33 1-73 1-6 1 58 1-4 1 46 1-100 1-70 1 106 1-17 1-42 1 159 1-56 1-88 1 60 1-81 1 91 1-144 1 88 1 101 1 65 1-196 1 127 1 1 1 44 1 55 1-217 1 130 1-43 1 81 1-1 1-76 1 22 1-118 1 30 1 17 1-99 1 118 1 87 1-355 1 148 1 166 1-144 1 69 1 58 1 133 1-84 1 14 1-151 1 156 1-150 1-19 1 114 1 17 1 34 1-77 1 32 1-11 1 21 1-25 1-148 1 144 1 58 1 11 1-109 1 73 1-50 1 11 1 61 1 112 1-157 1 178 1-259 1 179 1-61 1-27 1 63 1-164 1 150 1-76 1-21 1-92 1 46 1-49 1 55 1 239 1-210 1 71 1-47 1 8 1-93 1 254 1-188 1 52 1 98 1-89 1-51 1 34 1-6 1 50 1-74 1 32 1 86 1-239 1 266 1-222 1 162 1 13 1-122 1 123 1 41 1-53 1-150 1 224 1-280 1 59 1 0 1 40 1 118 1-40 1-78 1-31 1 7 1 65 1 36 1-254 1 317 1-105 1 106 1-204 1 146 1-98 1-74 1 129 1 96 1 98 1-61 1 1 1-49 1-189 1 120 1-45 1-96 1 115 1 31 1-120 1 77 1 117 1 108 1-130 1-67 1 71 1-123 1-95 1 68 1 190 1-74 1 50 1-168 1 30 1 49 1 10 1 25 1 68 1-101 1 79 1-52 1-130 1 120 1-91 1 45 1 93 1-130 1 91 1-73 1 46 1-103 1 48 1 54 1 56 1-238 1 189 1-31 1 11 1 33 1 86 1-74 1 45 1-170 1-102 1 244 1-65 1-59 1 150 1-25 1 6 1-184 1 71 1 128 1-80 1 1 1 1 1 173 1-164 1-25 1-29 1 35 1 62 1-16 1-104 1-12 1 152 1-161 1-7 1 112 1 69 1-127 1 89 1 13 1-97 1 120 1 10 1-171 1-4 1-9 1 50 1 33 1-46 1-47 1-37 1 79 1-24 1 108 1-129 1-60 1 5 1 140 1 169 1-83 1-100 1 122 1-34 1-214 1 279 1 0 1-125 1 3 1-189 1 151 1-14 1 17 1 160 1 37 1-31 1-114 1 132 1-218 1 72 1-49 1-7 1 49 1 157 1-74 1-87 1 148 1-107 1 86 1-159 1 13 1 29 1-35 1-44 1 85 1-22 1-56 1 56 1 16 1 22 1 23 1 24 1-109 1 26 1 55 1-126 1-12 1 91 1 83 1-105 1 30 1-50 1 47 1-83 1 184 1-94 1 24 1-57 1 91 1 3 1 56 1-119 1-146 1 7 1 177 1-35 1-34 1 178 1-203 1-58 1 127 1 150 1-32 1-176 1 78 1-20 1-66 1-225 1 310 1 0 1 133 1-268 1-6 1 151 1-73 1 105 1-129 1 57 1 41 1 11 1-146 1 92 1-44 1 113 1-304" stroke-dasharray="11.10 4.80"/>
<path vector-effect="non-scaling-stroke" d="M0 1506l1 -127 1-37 1 19 1-107 1 238 1-115 1-25 1 32 1-90 1 36 1 48 1-76 1 160 1-68 1 71 1-160 1 177 1 6 1-109 1 30 1 106 1-103 1-102 1 102 1 118 1-93 1 80 1-17 1-156 1 32 1-73 1 187 1-53 1 79 1-177 1 162 1 5 1 15 1-152 1 21 1 17 1-99 1 99 1 74 1-247 1 237 1-6 1-161 1 104 1-20 1 162 1-73 1 14 1-112 1 58 1-64 1 106 1-42 1-55 1 137 1-21 1-179 1 142 1-241 1 125 1 8 1 72 1-45 1 24 1 132 1-79 1-12 1-102 1 92 1 209 1-246 1 40 1-70 1 26 1 136 1 22 1-76 1 26 1-77 1 45 1-36 1-63 1 72 1 18 1-91 1-35 1 31 1 189 1-151 1 34 1-107 1 319 1-227 1-10 1-35 1 70 1 3 1-43 1 142 1-143 1 153 1-67 1-150 1 38 1-1 1-63 1 61 1 8 1 97 1-10 1-180 1 188 1-151 1 48 1-104 1 203 1-159 1 145 1-19 1-182 1 8 1 124 1-107 1 77 1 54 1-95 1 198 1 0 1-78 1-53 1 95 1-36 1-40 1 6 1-56 1 56 1-110 1 264 1-240 1-7 1 121 1-161 1 149 1-212 1 73 1 80 1 33 1-43 1 23 1 22 1-29 1-82 1 129 1 59 1-251 1 157 1-37 1 66 1 43 1-139 1-20 1 145 1 22 1-75 1-17 1 71 1-124 1 63 1 103 1-69 1-21 1-3 1 57 1-103 1 143 1-125 1 49 1 77 1-20 1 75 1 4 1-1 1-160 1 33 1 96 1-47 1 41 1-174 1 152 1-83 1-29 1-17 1-43 1 117 1 125 1-194 1-6 1 211 1-148 1-37 1 61 1-31 1 121 1-41 1 21 1-239 1 134 1 34 1 46 1-87 1-3 1 31 1 80 1-18 1 49 1 25 1-187 1 82 1-93 1 53 1 10 1 7 1-28 1-161 1 108 1 116 1-169 1 142 1 80 1 59 1-17 1-211 1-11 1 152 1-72 1 103 1-107 1-93 1 49 1 66 1 45 1-93 1-21 1 72 1-24 1-89 1 66 1 121 1-214 1 112 1 159 1-268 1-29 1 95 1 85 1 44 1-55 1 141 1-228 1 0 1 138 1-240 1 72 1-58 1 83 1-60 1 75 1 126 1-100 1 123 1-30 1-75 1 92 1 23 1-177 1 70 1-2 1-30 1 140 1-135 1 91 1-114 1 7 1 24 1-128 1 119 1-32 1 30 1-16 1-78 1-69 1 154 1 42 1 2 1-11 1-122 1 160 1 67 1-152 1 60 1-21 1 29 1-13 1-16 1 69 1-67 1 88 1-64 1-229 1 161 1 28 1 25 1-15 1-109 1 183 1-71 1 24 1-120 1 49 1 108 1 110 1-231 1-48 1 160 1-173 1 253 1-8 1 41 1-212 1 88 1-97 1 75 1-68 1 47 1-132 1 92 1 173 1-269 1 132 1-100 1 191 1-116 1-50 1-9 1 22 1 176 1-78 1 62 1-118 1 187 1-302 1 217 1-140 1 156 1-285 1 39 1 311 1-4 1-183 1 177 1-128 1-103 1 173 1-40 1-6 1-49 1-72 1 26 1 172 1-14 1-124 1-91 1 160 1 26 1-49 1-3 1-39 1 35 1-38 1 80 1-143 1 14 1 33 1 27 1 61 1 49 1-128 1 43 1 8 1-155 1 153 1-147 1-50 1 65 1 128 1-64 1 62 1-42 1-7 1 143 1-109 1-31 1-32 1 27 1 17 1 34 1-125 1 147 1 5 1-54 1 23 1 93 1-174 1-34 1 78 1 14 1-17 1-61 1 165 1-95 1-91 1 173 1-134 1 234 1-256 1-64 1 73 1 29 1 128 1-2 1 6 1-134 1 62 1-111 1 117 1-85 1 27 1 41 1 39 1-109 1 283 1-426 1 253 1-88 1-127 1 286 1-33 1-173 1 205 1-103 1 8 1-44 1 44 1-78 1 127 1-61 1 115 1-168 1 210 1-198 1 92 1-184 1 101 1-8 1 88 1-84 1-48 1 31 1-105 1 150 1-169 1 294 1-80 1-32 1 7 1-64 1 77 1 78 1-74 1 76 1-104 1-22 1 199 1-256 1 151 1-63 1-30 1 27 1-94 1-24 1 152 1-253 1 239 1-42 1 32 1 65 1-65 1-19 1-9 1-74 1 34 1 115 1-182 1 60 1 112 1-104 1-30 1 90 1-9 1 225 1-56 1-131 1-19 1-94 1 200 1-50 1-63 1 89 1 2 1-195 1 91 1-120 1 217 1-169 1-3 1-93 1 155 1-100 1 21 1 92 1 118 1-47 1-8 1-33 1-84 1-28 1 181 1-134 1-7 1-17 1 163 1 16 1-174 1 76 1-2 1-143 1 193 1 69 1-69 1-191 1 146 1-69 1 3 1-132 1 243 1-101 1 10 1 45 1-41 1 173 1-191 1 155 1-203 1 96 1 139 1-105 1-104 1 137 1 122 1-174 1-19 1 6 1-27 1-88 1 18 1-13 1 118 1-173 1 295 1-14 1-25 1-79 1-37 1 107 1-89 1-78 1 40 1 7 1-60 1-29 1 192 1-54 1 127 1-68 1 3 1-37 1 115 1-133 1-22 1 107 1-56 1-114 1 6 1 139 1-34 1-28 1-68 1-30 1 121 1-4 1-57 1 70 1-80 1 156 1-58 1-213 1 137 1 100 1-180 1 81 1 8 1-14 1-164 1 214 1 44 1-135 1-10 1 143 1-47 1-176 1 77 1-64 1 152 1-31 1 104 1 108 1-288 1 184 1-94 1 72 1-70 1 49 1-210 1 152 1 57 1-51 1 69 1-119 1 119 1-165 1 201 1-225 1 26 1 160 1-159 1 40 1 99 1-125 1 158 1-166 1-47 1-12 1 234 1-219 1 6 1 98 1-4 1-14 1 80 1-15 1-74 1-33 1 80 1 161 1-211 1 237 1-296 1 46 1 149 1-165 1 4 1 117 1 95 1-233 1 80 1 59 1-119 1 139 1-159 1-49 1 205 1-9 1-119 1 61 1 176 1-268 1 140 1-146 1 227 1-154 1-10 1-8 1 129 1 58 1-200 1-32 1 79 1-32 1 108 1 31 1-204 1-28 1-31 1 130 1 118 1-133 1 22 1-72 1 40 1-2 1 162 1-207 1-22 1-112 1 119 1-26 1 313 1-38 1-9 1-201 1 76 1 94 1-9 1-134 1 204 1-192 1-1 1-146 1 180 1 173 1-293 1 106 1 26 1 52 1-82 1 87 1-25 1 6 1-150 1 38 1 181 1-118 1 50 1-67 1-27 1 69 1-133 1 2 1 198 1-89 1 98 1 46 1-15 1-21 1-8 1-138 1 13 1 94 1 24 1-107 1-26 1-75 1 101 1-22 1 182 1-109 1-74 1 108 1 8 1-273 1 112 1 90 1-89 1 62 1 86 1-47 1 7 1-105 1 106 1-13 1 103 1-5 1-85 1-6 1-63 1 3 1 28 1 113 1-138 1 181 1-153 1-33 1-78 1 167 1-53 1 14 1 138 1-218 1 121 1-103 1 172 1-155 1-18 1 59 1-185 1 163 1-51 1 257 1-254 1 219 1-47 1-21 1-35 1-199 1 176 1-26 1 64 1-46 1 151 1-187 1 1 1 165 1 57 1-124 1-79 1 100 1 72 1-197 1 189 1-218 1-42 1 287 1-235 1-2 1 0 1-77 1-21 1 114 1 0 1 30 1 18 1-131 1 28 1 61 1-132 1 9 1 21 1 94 1-13 1-139 1 44 1 56 1 113 1-24 1-36 1 15 1-99 1 21 1 240 1-186 1-32 1 149 1 38 1-124 1 8 1-143 1 124 1-85 1-38 1 18 1 155 1-56 1 54 1 39 1-170 1 209 1-10 1-4 1-101 1 13 1-52 1-8 1 31 1 119 1-85 1-66 1-6 1 174 1-62 1 105 1-215 1 73 1-51 1 50 1 77 1 66 1-300 1 307 1-34 1-232 1 207 1-144 1-74 1 2 1 51 1 33 1-77 1 74 1-25 1 73 1 14 1 91 1-253 1 111 1-148 1 314 1-4 1-106 1 50 1-64 1 39 1-14 1-47 1-130 1 74 1 136 1-69 1 11 1-167 1 341 1-123 1-104 1 94 1-156 1 163 1-67 1-81 1-81 1 46 1 146 1-134 1 180 1-52 1-130 1 224 1-233 1 211 1-167 1 56 1-39 1 17 1 156 1-123 1-65 1 85 1-89 1 192 1-60 1-181 1 100 1 8 1-17 1-83 1 172 1-134 1 71 1 6 1 82 1-215 1 94 1 76 1-23 1 43 1-145 1 212 1-80 1-31 1-28 1 88 1-368 1 219 1-69 1 221 1-45 1 8 1 28 1-134 1 294 1-97 1-91 1-56 1-13 1-23 1 0 1 77 1-7 1-56 1-59 1 3 1 118 1 16 1-159 1 54 1-70 1 128 1 28 1-77 1 191 1-210 1 114 1 7 1-50 1 107 1-56 1-174 1 231 1-118 1 100 1-190 1-58 1 340 1-214 1 7 1-47 1-21 1 52 1-26 1 121 1-218 1 100 1 152 1-72 1-11 1 97 1-47 1 22 1-162 1-69 1 125 1-99 1 220 1-104 1 41 1-100 1 133 1-53 1 1 1 28 1 58 1-160 1 153 1-104 1 142 1 9 1-38 1-13 1-164 1 158 1-26 1 8 1-90 1-50 1 138 1-30 1-130 1-13 1 104 1 18 1 209 1-160 1-162 1 145 1 135 1-149 1 28 1-109 1 62 1-24 1-119 1 169 1 39 1-79 1-21 1 130 1-155 1 199 1-60 1-130 1-74 1 142 1-103 1 95 1 67 1-49 1-89 1 5 1-86 1 101 1-82 1-10 1 217 1 6 1-79 1-114 1-18 1 170 1-22 1 52 1-33 1-262 1 211 1 97 1-20 1 74 1-230 1 79 1-198 1 43 1 236 1 33 1-1 1-204 1-22 1 137 1 16 1-24 1 54 1 84 1-100 1 62 1-109 1 22 1 8 1-77 1 160 1-213 1 28 1-12 1 139 1-64 1-100 1 69 1 169 1-174 1 74 1-13 1-12 1 124 1-64 1 30 1-22 1-115 1-39 1 38 1-29 1 77 1 16 1 48 1-142 1 71 1-39 1 16 1-127 1 220 1-46 1 71 1-42 1-113 1 76 1 189 1-125 1-99 1 14 1 46 1-91 1 63 1-15 1-60 1 7 1 201 1-121 1-135 1 91 1-82 1 136 1-101 1 67 1 13 1-32 1-73 1 144 1-47 1 42 1-23 1-21 1 12 1-21 1-100 1 181 1 113 1-328 1-23 1 269 1-69 1-115 1 87 1 34 1 35 1 73 1-259 1 115 1 146 1-199 1-40 1 71 1-21 1 157 1-168 1 67 1 19 1 29 1-88 1 0 1 36 1-23 1 12 1-4 1-150 1 65 1-98 1 26 1 291 1-242 1 100 1 130 1-17 1-100 1-128 1 38 1 54 1 89 1-60 1-40 1-17 1 82 1 130 1-84 1-125 1 51 1-65 1 4 1 123 1-102 1-56 1 166 1-10 1-153 1 124 1-44 1 23 1-10 1 8 1-112 1 77 1 16 1-32 1 61 1 52 1 28 1-262 1 208 1 30 1-147 1-5 1 7 1-2 1 153 1-269 1 72 1 122 1 8 1 188 1-133 1-158 1-9 1 120 1 45 1-76 1 25 1-17 1-71 1 300 1-235 1 144 1-196 1 132 1 70 1-191 1-20 1 125 1-192 1 171 1 4 1-49 1 21 1 42 1-196 1 163 1-77 1 98 1 16 1-8 1 53 1-196 1 210 1-120 1-30 1 202 1-215 1 131 1-37 1 51 1-160 1 196 1-35 1-118 1-164 1 92 1-14 1 195 1-198 1 127 1 3 1-6 1-157 1 108 1 116 1-114 1-64 1 59 1-96 1 158 1-93 1-39 1 98 1 36 1-169 1 109 1-26 1 110 1-99 1-6 1-2 1 26 1-13 1 41 1-40 1 54 1 9 1-176 1 383 1-93 1-147 1 39 1-262 1 142 1-45 1 186 1-25 1 93 1-77 1-118 1 138 1-147 1 51 1 144 1-28 1-58 1-90 1 130 1 4 1-55 1-20 1-9 1-51 1 218 1-128 1-75 1-93 1 80 1 66 1-28 1 94 1-131 1 157 1-12 1-25 1-72 1-80 1 97 1-139 1 33 1-21 1 53 1 30 1 30 1-81 1 68 1 59 1-110 1-21 1 102 1 52 1-58 1 154 1-253 1 117 1-113 1 28 1 81 1-27 1 189 1-173 1 96 1-178 1 94 1-64 1 85 1 45 1-6 1-192 1 72 1 47 1-26 1 90 1-83 1 52 1-228 1 278 1-98 1 118 1 9 1 26 1-273 1 71 1-49 1 32 1 98 1 75 1-21 1 51 1-97 1 18 1 0 1-181 1 258 1-130 1 83 1-42 1-4 1-133 1 161 1-69 1-149 1-1 1 108 1-5 1-111 1 93 1 90 1 33 1 8 1-85 1 30 1-138 1 172 1-142 1 65 1 15 1-70 1 81 1 11 1 146 1-125 1 88 1-117 1 17 1 12 1 71 1-36 1-161 1 34 1 105 1-140 1 132 1 127 1-119 1-10 1 65 1-24 1-82 1 102 1-66 1-44 1 123 1-45 1 50 1-138 1-84 1 73 1 224 1-247 1 162 1-93 1 116 1-267 1 135 1 73 1-64 1-116 1 290 1-233 1 76 1 173 1-189 1-33 1 87 1 72 1-32 1-76 1-72 1 58 1-54 1 169 1 18 1-231 1-35 1 184 1-43 1 7 1-63 1 17 1 23 1 32 1 174 1-308 1 243 1-29 1 80 1-102 1 41 1-47 1 39 1-128 1 17 1 150 1-218 1 171 1-264 1 178 1-18 1 36 1-66 1-195 1 218 1 8 1 52 1 24 1-137 1-21 1 170 1-51 1 16 1 25 1-59 1 71 1 14 1-315 1 445 1-179 1-74 1 111 1 44 1-135 1-20 1-47 1 253 1-152 1-78 1-96 1 80 1 176 1-111 1 25 1-49 1-31 1-70 1 197 1-136 1 103 1 34 1 0 1-7 1-113 1 16 1 123 1-81 1-60 1 10 1-22 1 93 1-67 1 220 1-157 1 72 1 68 1-4 1-109 1-70 1 221 1-164 1-70 1 106 1-137 1 121 1-98 1 25 1-96 1-8 1 233 1-214 1-38 1 317 1-305 1 82 1 130 1-204 1 78 1 92 1-18 1-13 1-21 1 4 1 18 1 58 1-82 1-46 1-42 1 134 1 24 1 60 1-252 1 31 1 211 1 63 1-173 1 77 1-129 1-133 1 190 1 97 1-189 1-6 1 35 1 36 1 32 1-50 1 186 1-171 1 19 1-44 1 260 1-237 1-9 1 100 1-93 1 102 1-92 1 180 1-111 1-60 1 42 1-94 1 28 1 174 1-90 1-127 1 44 1-63 1 126 1-50 1-39 1 181 1-131 1 153 1-147 1-95 1 63 1 21 1 21 1-80 1 146 1-260 1 126 1-1 1-13 1 115 1-141 1 38 1 92 1-21 1 9 1 57 1 106 1-168 1-48 1-86 1 76 1-113 1 156 1-8 1-10 1 38 1-125 1 175 1-93 1-5 1 33 1-244 1 183 1 75 1-140 1 102 1-40 1 103 1 106 1-336 1 135 1 72 1 63 1-39 1-17 1-19 1 176 1-136 1-177 1 57 1-83 1 103 1 93 1-167 1 155 1-59 1-6 1 9 1 165 1-255 1 176 1-108 1 101 1-65 1-66 1 227 1-17 1-218 1 156 1-6 1-179 1 48 1 46 1-76 1 123 1-106 1 2 1 4 1 75 1-111 1-28 1-35 1 193 1 1 1-128 1 88 1-177 1 148 1 26 1 107 1-155 1 92 1-156 1 60 1-4 1 40 1 107 1-97 1 59 1-66 1 49 1-141 1 5 1 111 1-33 1 38 1-53 1-30 1 70 1 245 1-334 1 86 1 58 1 26 1-143 1 129 1-160 1 69 1 110 1-91 1-65 1 119 1 80 1-135 1-206 1 259 1 1 1 37 1-204 1 132 1-19 1-38 1 8 1 181 1-210 1 165 1 38 1-101 1-61 1 45 1 56 1 2 1-93 1 53 1 83 1 28 1-103 1 0 1 166 1-183 1-70 1-54 1 34 1 127 1 19 1-112 1 133 1-9 1-277 1 351 1-154 1 137 1-181 1 137 1-120 1-29 1 11 1-73 1-36 1 269 1-43 1-182 1 89 1-25 1 29 1-57 1 99 1-140 1 67 1-119 1 258 1-2 1-75 1 112 1-11 1-66 1 20 1-238 1 252 1-101 1 65 1 51 1-121 1-69 1-20 1 135 1-130 1 63 1 65 1-98 1 129 1-176 1 236 1-12 1 114 1-240 1-283 1 368 1-98 1-86 1 130 1 129 1-277 1 237 1-115 1-30 1-47 1 86 1-89 1 33 1 32 1 37 1-29 1 96 1 0 1-107 1-145 1 329 1-156 1-58 1 136 1-41 1-109 1 212 1-188 1-1 1 42 1-78 1 38 1 56 1-19 1 147 1-31 1-191 1 65 1-48 1-36 1 168 1-41 1 77 1-215 1 236 1-182 1 69 1 96 1-73 1-6 1 25 1-46 1 39 1-69 1-80 1 161 1 46 1-314 1 311 1 43 1-249 1 202 1-129 1 64 1 56 1-133 1 159 1-174 1 255 1-218 1 33 1 77 1 134 1-155 1-56 1-5 1-105 1 19 1 174 1-16 1 53 1-99 1-26 1-22 1 85 1-119 1 138 1-85 1-126 1 195 1-41 1 190 1-292 1-7 1 61 1-27 1 195 1-220 1 9 1-87 1 205 1-38 1 114 1 27 1-193 1 42 1 82 1-129 1-65 1 171 1-107 1 38 1-11 1-77 1 133 1-81 1 219 1-204 1-155 1 32 1 75 1 169 1-144 1 57 1 36 1-56 1-5 1-78 1 107 1 177 1-155 1-151 1 123 1-74 1 19 1 60 1-92 1-21 1-8 1 199 1-99 1-4 1-18 1 153 1-56 1-116 1-49 1 100 1 89 1-244 1 99 1-42 1 118 1-19 1-18 1-21 1 149 1-90 1-75 1 27 1 144 1-268 1 73 1-14 1-7 1 31 1 92 1-14 1-29 1 79 1 14 1-139 1-131 1 173 1 117 1 101 1 2 1-102 1-142 1 78 1 82 1-103 1 12 1-80 1 16 1 46 1 109 1 4 1-92 1 38 1-166 1 5 1 238 1-257 1 229 1-108 1-62 1 171 1-110 1 30 1-108 1 114 1 37 1-139 1 31 1-39 1 97 1 91 1-216 1 66 1-196 1 230 1 169 1-132 1-73 1 202 1-65 1-98 1 41 1-84 1 97 1-252 1 253 1-66 1 100 1-89 1-11 1 78 1 46 1-296 1 213 1-10 1 99 1-292 1 266 1-95 1-4 1-105 1 202 1-130 1 8 1 64 1 62 1 23 1-97 1 34 1-80 1-76 1 72 1-29 1 154 1 93 1-185 1-65 1 112 1 72 1-76 1-33 1-71 1 107 1-61 1 57 1 146 1-270 1 149 1-221 1 3 1 193 1-18 1-83 1 47 1-125 1-7 1 279 1 63 1-284 1-60 1 162 1 37 1-75 1 76 1-204 1 321 1-99 1-147 1 136 1-45 1 129 1-219 1 276 1-246 1 40 1 9 1 7 1-1 1 40 1-74 1-169 1 170 1 204 1-117 1-117 1 23 1 7 1 53 1 19 1 34 1 67 1-197 1-7 1-160 1 149 1 85 1-111 1 10 1 219 1-391 1 194 1 153 1-41 1-10 1-125 1 142 1-102 1 193 1-244 1 9 1-54 1 136 1 40 1 118 1-233 1-44 1 117 1 11 1 75 1-214 1 176 1-108 1 255 1-206 1-1 1-66 1-44 1 195 1 5 1-124 1-45 1 267 1-87 1-233 1 203 1-27 1 1 1-72 1 8 1 76 1-207 1 40 1 104 1 35 1 70 1-127 1 172 1-79 1-29 1-19 1 40 1-179 1 159 1-87 1 31 1 65 1-66 1 61 1 61 1 12 1-124 1 102 1-93 1 16 1-34 1 12 1 60 1-87 1 49 1-35 1 39 1 45 1 3 1 4 1-37 1 66 1-105 1 24 1 13 1 41 1-161 1-10 1 29 1 108 1-33 1-76 1 2 1 19 1-10 1-46 1 110 1 119 1-147 1 16 1-137 1 161 1-10 1-31 1 117 1-3 1 38 1-2 1-184 1-24 1 282 1-200 1-16 1-5 1-59 1 51 1-75 1 210 1-158 1-22 1 58 1 189 1-136 1-3 1-134 1 23 1 158 1-13 1-127 1 99 1 34 1-51 1 69 1 127 1-190 1 80 1-179 1 75 1 85 1 80 1-94 1-47 1 62 1-180 1-45 1 95 1 189 1-35 1 8 1-69 1 19 1-61 1 87 1 71 1-189 1 88 1-84 1-106 1 195 1-176 1 158 1-21 1-78 1 284 1-249 1 2 1-30 1-49 1 77 1 23 1-69 1 23 1-106 1 189 1-120 1-8 1-19 1 110 1 5 1 148 1-148 1 160 1-129 1 18 1-13 1-1 1-58 1-87 1 53 1 112 1 5 1-60 1-63 1 146 1-137 1-126 1 168 1 99 1-222 1 63 1 72 1 6 1-53 1-19 1 123 1-104 1 184 1-122 1 52 1-93 1-44 1-77 1 54 1 195 1-124 1-112 1 225 1-93 1-139 1 129 1 96 1-127 1 83 1-90 1 116 1-74 1 49 1 68 1-88 1-37 1-79 1 121 1 52 1-114 1-14 1 121 1-53 1-63 1-137 1 176 1 124 1-203 1-130 1 227 1-16 1-12 1 121 1-11 1-104 1-79 1 29 1 104 1-44 1-129 1 87 1 65 1-143 1 175 1-19 1 53 1-60 1 105 1-45 1-57 1 4 1 8 1-3 1 100 1-191 1 72 1 11 1-79 1 82 1-72 1 84 1 37 1 13 1-50 1-86 1 214 1-197 1-1 1 2 1 79 1-57 1-15 1-1 1 122 1-150 1 141 1-173 1 273 1-192 1 52 1-96 1 107 1-253 1 227 1-149 1 90 1 6 1-140 1 101 1 133 1-91 1 70 1-111 1 59 1 186 1-91 1-82 1-79 1-7 1 257 1-205 1 60 1-12 1-26 1 42 1 27 1-135 1-95 1 181 1-43 1-204 1 90 1 42 1 42 1 113 1-42 1-41 1-108 1 51 1-7 1 12 1 27 1-22 1 262 1-32 1-18 1-147 1-75 1 31 1-40 1 66 1-46 1 178 1-206 1 160 1-55 1 8 1-51 1 125 1 9 1-253 1 264 1-243 1 108 1 33 1-26 1-125 1 133 1-14 1-83 1 179 1-114 1-9 1 84 1-185 1 173 1-38 1-72 1 68 1-24 1 117 1-218 1-85 1 95 1 82 1-100 1 46 1 114 1-22 1-75 1 46 1 79 1-63 1-100 1 107 1 21 1-54 1 220 1-234 1-115 1 165 1 162 1-193 1 35 1 145 1-70 1-140 1-37 1 85 1 12 1-64 1 135 1-41 1-25 1 1 1 9 1-28 1-52 1 118 1-54 1 11 1-8 1-120 1 119 1-158 1 140 1 136 1-120 1 53 1-153 1 224 1-109 1 3 1-8 1 139 1-236 1 39 1 51 1-62 1 149 1-66 1 43 1-92 1 172 1-269 1 158 1 50 1-251 1-32 1 112 1 199 1-138 1 84 1 0 1 62 1-115 1 53 1-129 1 167 1-157 1 25 1-69 1 236 1-98 1-8 1-53 1 30 1 58 1-33 1-64 1 70 1-37 1 151 1-137 1-110 1 0 1 128 1 28 1-71 1 46 1 89 1-174 1 40 1-33 1-158 1 246 1-139 1 21 1-73 1-21 1 133 1 108 1-33 1-8 1-234 1 316 1-173 1 140 1 40 1-151 1 77 1-81 1 99 1-148 1-49 1 194 1-95 1 89 1 88 1 26 1-352 1 204 1 109 1-150 1 16 1 46 1-45 1 44 1 26 1-100 1-134 1 83 1 31 1 0 1 1 1-74 1-21 1 230 1 42 1-89 1-162 1-18 1 121 1-55 1 119 1-70 1 101 1-124 1 199 1 38 1-55 1-109 1-34 1-62 1 92 1-90 1 107 1-9 1-79 1 189 1-72 1-32 1 47 1-15 1-16 1-48 1 133 1-162 1 56 1-59 1 50 1-26 1 87 1-62 1 104 1-130 1-86 1 164 1-72 1 180 1-83 1-115 1 105 1-73 1-58 1 110 1-162 1 262 1-98 1-24 1-42 1 221 1-332 1 118 1 10 1-55 1 69 1-80 1 57 1 34 1 47 1-242 1 323 1 17 1-164 1 56 1-295 1 58 1 141 1 98 1-132 1 121 1-212 1 128 1-93 1-39 1 151 1-139 1 225 1-125 1 21 1-10 1 40 1-146 1 165 1-73 1 95 1-197 1 67 1 48 1 34 1-20 1 47 1 92 1 12 1-260 1 232 1-239 1 197 1-91 1-56 1 282 1-47 1-166 1-211 1 403 1-192 1 53 1-41 1 7 1 43 1-111 1-53 1 22 1 57 1-54 1 131 1 25 1-155 1 62 1-120 1 285 1-233 1 127 1-76 1 58 1 7 1 78 1 19 1-305 1 188 1-138 1 173 1-155 1 98 1 21 1 45 1-136 1 182 1-16 1-226 1 135 1 12 1 159 1-86 1-172 1 157 1 122 1-249 1 215 1-186 1-162 1 79 1 132 1 60 1 20 1-107 1 25 1-134 1 128 1-105 1 59 1-114 1 124 1 11 1 103 1-36 1 144 1-204 1 131 1-207 1-67 1 37 1 275 1-136 1-105 1 209 1-212 1-7 1 199 1-142 1 27 1 0 1-82 1 105 1-70 1 75 1 35 1 58 1-175 1 121 1-191 1 142 1 82 1-21 1-104 1-27 1 103 1 58 1-101 1 8 1-86 1 195 1-230 1 219 1-27 1-151 1-24 1 121 1-6 1-26 1 74 1-51 1-127 1-17 1 125 1-10 1 2 1-112 1 262 1-160 1 19 1 26 1-11 1 93 1-104 1-16 1 61 1-109 1-53 1 46 1 75 1 20 1-11 1 111 1-122 1-85 1 108 1-48 1 95 1-76 1-26 1 23 1 195 1-128" stroke-dasharray="19.20 4.80 3.00 4.80"/>
<path vector-effect="non-scaling-stroke" d="M0 1385l1 106 1-64 1-126 1 204 1 8 1-56 1 81 1-264 1 217 1-135 1 130 1-244 1 87 1 43 1-51 1 15 1 181 1-146 1 26 1-116 1 95 1 109 1-230 1 144 1 73 1 38 1-152 1 169 1-109 1-28 1 198 1-53 1 75 1-211 1 26 1-5 1 17 1-84 1 35 1-45 1 54 1 7 1-159 1 300 1-132 1-119 1 198 1-192 1 201 1-78 1 52 1-64 1 236 1-206 1-17 1 27 1-131 1 41 1 96 1-112 1 144 1-59 1-56 1 35 1-101 1 116 1 34 1-132 1 54 1-31 1 269 1-288 1 76 1 0 1 91 1-96 1 86 1-160 1 97 1 105 1-146 1-77 1 41 1 21 1-94 1 197 1-86 1 39 1-62 1 152 1-195 1 128 1-109 1-34 1 82 1-159 1 260 1-19 1 11 1-39 1-96 1-48 1 103 1 56 1-4 1 112 1-159 1 152 1-236 1 193 1-270 1 377 1-283 1 235 1-125 1 17 1-94 1-92 1 34 1 242 1-243 1 254 1-84 1-195 1 245 1-52 1-62 1 118 1-163 1 204 1-258 1 77 1 31 1-118 1 212 1-146 1 11 1 40 1-23 1 60 1 86 1 51 1-238 1-23 1 85 1 18 1 104 1-273 1 181 1-104 1 5 1 138 1-87 1-51 1 85 1-35 1-36 1 133 1-120 1 55 1-10 1 135 1-79 1-33 1 30 1-61 1 69 1-37 1-1 1-188 1 175 1 149 1-28 1-180 1-17 1 107 1 21 1-111 1 215 1-214 1 19 1-5 1 209 1-211 1-48 1 107 1 41 1 31 1-80 1-80 1 43 1-21 1-74 1 163 1 93 1-14 1-110 1-17 1-9 1-127 1 215 1-67 1 143 1-15 1-19 1-78 1-241 1 188 1-18 1 157 1-81 1 40 1-166 1 97 1-106 1 186 1-96 1-50 1-94 1-23 1 252 1-200 1 130 1-10 1 15 1-39 1 190 1-214 1 89 1-64 1 197 1-169 1 24 1-15 1-24 1-81 1 81 1-43 1 102 1 33 1-40 1 6 1-112 1 4 1-18 1 36 1 69 1 54 1-190 1 3 1 240 1-358 1 269 1-169 1 199 1-127 1 23 1-72 1 66 1 87 1-202 1 287 1-110 1 115 1-239 1 70 1 47 1-170 1 73 1 94 1-24 1-22 1 22 1-98 1 43 1 29 1-33 1 83 1-113 1-39 1 73 1 72 1-33 1 51 1-157 1 2 1 142 1-60 1 75 1-61 1 59 1-171 1 188 1-170 1 149 1-88 1 49 1 45 1 11 1-86 1-39 1 16 1-7 1 71 1-117 1 120 1-9 1 1 1-41 1 171 1-191 1 23 1-27 1 69 1-37 1 128 1-23 1-143 1 89 1-77 1 11 1 61 1 160 1-95 1-25 1-82 1 89 1-83 1-151 1 241 1 97 1 1 1-187 1 47 1-228 1 307 1 59 1-148 1-80 1-84 1-21 1 65 1 98 1 32 1 31 1-110 1 38 1 113 1-77 1 70 1-134 1-5 1-21 1 145 1-28 1-32 1 127 1-101 1-27 1-34 1 70 1-197 1 73 1 114 1 13 1-38 1-75 1-20 1 1 1 21 1 9 1 129 1-53 1-47 1-34 1 148 1-179 1-28 1 251 1 12 1-54 1-22 1-108 1-74 1-8 1 133 1 32 1-194 1 69 1 31 1 73 1 14 1-107 1 57 1 11 1 7 1-71 1-32 1 30 1 44 1 169 1-199 1 45 1 182 1-140 1 45 1-88 1-4 1-57 1-104 1 301 1-230 1 198 1-192 1 74 1 15 1-70 1 41 1-31 1 50 1-54 1-79 1 124 1-19 1 37 1 99 1-220 1 30 1 135 1-8 1-105 1 52 1 94 1-19 1-188 1 172 1-24 1-68 1-17 1-13 1 108 1-10 1-29 1 82 1-251 1 191 1-115 1 165 1-9 1-3 1 0 1 78 1-76 1-104 1-66 1 22 1-9 1-53 1 129 1-73 1-14 1 138 1-40 1-75 1-59 1 233 1-227 1 175 1 58 1-18 1 92 1-146 1-22 1-119 1 57 1-61 1-89 1 60 1 188 1 25 1-73 1 22 1-69 1 89 1 24 1-155 1 53 1-69 1-4 1 171 1-139 1 30 1-8 1-2 1 121 1-13 1 59 1 22 1-41 1 65 1-219 1 43 1 31 1-66 1 226 1-341 1 270 1-108 1 17 1 57 1-102 1 72 1-99 1-6 1 97 1-179 1 90 1 117 1 8 1-118 1 295 1-139 1-103 1-41 1 45 1 3 1 85 1 12 1-229 1 170 1-52 1 34 1-132 1 295 1-165 1 63 1-51 1-55 1 121 1-201 1 161 1-119 1 78 1-16 1-64 1 73 1-46 1 46 1-43 1 149 1-1 1-130 1 33 1 10 1 27 1 105 1-191 1-13 1 91 1 112 1-12 1-190 1 89 1-35 1 54 1-117 1 56 1 113 1 58 1-96 1 36 1 6 1-200 1 6 1 47 1 38 1-193 1 269 1-74 1 47 1 39 1-181 1 109 1 56 1 10 1-57 1 30 1 62 1-39 1-99 1 159 1-80 1-250 1 163 1 79 1-61 1 42 1-3 1-120 1 76 1-41 1 95 1-7 1-90 1-67 1 87 1 83 1-121 1 37 1 69 1 13 1-46 1 122 1-90 1 107 1-242 1 76 1-27 1 142 1-158 1 23 1 112 1-168 1 117 1-27 1-18 1 101 1-43 1-16 1-15 1 36 1-86 1 114 1 55 1-128 1 44 1-49 1-129 1 57 1-6 1 88 1-5 1 31 1-26 1-44 1-17 1 57 1 75 1-143 1 238 1-105 1-72 1-135 1 84 1-72 1 102 1 154 1-94 1 47 1-68 1 40 1-8 1-93 1-2 1-101 1 178 1-27 1-58 1 53 1 56 1-22 1 128 1-74 1-89 1 13 1 68 1-41 1 84 1-213 1 87 1 110 1-179 1 171 1 123 1-252 1-115 1 309 1 25 1-109 1-114 1 83 1 5 1 22 1-104 1-46 1 110 1-138 1 140 1-62 1 42 1 33 1-18 1 186 1-211 1-149 1 30 1 57 1 30 1 150 1-162 1 166 1-152 1-53 1 243 1-113 1-116 1 55 1 29 1-121 1-13 1 171 1 112 1-112 1-56 1-184 1 98 1 149 1-153 1 154 1 16 1-1 1-62 1-63 1 18 1 120 1-79 1 207 1-135 1 134 1-175 1-190 1 97 1 159 1-144 1 8 1 99 1-39 1 98 1-238 1 135 1 105 1 42 1-276 1 264 1-111 1 44 1-22 1-68 1-40 1 103 1-6 1-92 1 27 1-63 1 214 1-222 1-13 1 213 1-105 1-41 1 19 1-70 1-32 1 10 1 203 1-226 1 44 1 157 1 13 1-139 1 107 1 0 1 41 1-189 1 132 1-133 1 207 1-45 1-333 1 195 1-101 1 159 1 42 1 76 1-229 1 109 1-16 1 8 1-4 1 32 1-27 1-5 1 6 1-61 1 41 1 166 1-15 1-44 1-76 1-53 1-17 1 35 1 45 1 100 1-128 1-13 1 121 1-129 1 14 1 100 1-98 1 2 1 81 1-42 1-17 1 31 1 134 1-176 1 150 1-197 1 37 1-62 1 78 1 52 1-32 1 92 1-169 1 32 1 40 1-112 1 231 1-136 1 106 1 63 1-119 1 45 1-208 1 177 1 92 1-284 1 87 1-22 1 41 1-5 1-67 1 1 1 143 1-141 1 332 1-202 1 6 1-14 1-49 1 24 1-121 1 306 1-110 1-108 1 10 1 133 1-71 1 15 1-39 1 9 1 103 1-43 1 41 1-104 1-103 1-27 1 41 1 64 1 180 1-179 1 159 1-45 1-29 1-73 1 5 1 124 1 50 1-195 1 33 1 137 1-184 1 140 1-162 1-25 1-71 1 136 1 135 1-287 1 323 1-133 1 55 1-80 1-67 1-19 1 203 1-153 1-23 1-23 1 61 1-64 1 141 1-10 1 120 1-194 1 112 1-120 1 118 1 30 1 101 1-171 1 26 1-79 1 140 1-127 1 79 1-32 1 60 1-42 1-73 1-81 1 158 1-57 1-81 1 118 1-162 1 161 1-35 1-62 1 44 1-61 1-17 1 27 1 52 1 128 1-102 1-47 1 96 1-113 1 40 1 4 1 42 1-39 1-19 1 51 1-61 1 144 1-108 1-40 1 184 1-121 1-22 1 59 1-116 1-92 1 34 1 90 1-45 1-92 1 172 1-35 1-32 1-35 1 132 1-95 1 220 1-212 1 82 1-29 1-219 1 220 1 141 1-177 1-34 1 86 1-16 1-50 1 14 1 134 1-41 1-98 1 0 1 26 1-100 1 33 1 114 1-97 1-29 1 194 1-73 1-37 1 155 1-260 1-5 1 110 1 85 1-191 1-52 1 116 1-106 1 102 1 28 1-122 1 197 1-10 1-37 1 15 1 80 1-15 1-244 1 155 1 54 1 68 1-35 1-62 1 95 1-210 1 138 1-92 1 335 1-278 1 144 1-74 1-21 1-113 1 146 1-193 1 186 1-77 1-28 1 47 1 52 1 5 1-94 1 91 1-222 1 93 1 86 1 87 1-202 1-86 1 247 1 70 1-211 1-95 1 108 1 139 1-45 1-105 1 146 1-111 1-26 1-43 1 180 1-96 1-50 1 71 1-78 1 90 1 60 1 38 1-88 1-21 1-95 1 65 1 110 1-133 1-113 1 222 1-89 1 187 1-358 1 118 1-39 1 100 1-18 1 43 1 41 1-212 1 59 1 145 1-18 1-42 1-23 1-112 1 291 1-82 1 109 1-115 1-60 1-143 1 59 1 6 1 112 1-204 1 62 1 131 1 20 1-110 1 159 1-27 1-122 1 47 1 43 1-35 1 11 1 5 1-42 1 170 1-218 1 91 1-5 1-18 1-46 1-160 1 272 1 8 1-55 1 25 1 102 1-109 1 11 1-172 1 51 1 243 1 19 1-336 1 174 1 143 1-118 1-164 1 78 1-137 1 35 1 162 1-112 1 204 1-169 1 10 1 15 1-19 1-137 1 254 1-24 1-60 1 31 1-97 1 64 1 127 1-153 1 72 1 77 1-189 1 146 1-34 1-96 1 122 1 10 1-25 1-64 1 25 1-102 1 166 1-175 1 52 1-11 1 64 1 117 1-94 1-83 1-37 1 140 1-40 1-43 1-35 1 52 1 121 1-12 1-102 1 58 1-254 1 313 1-116 1 72 1-101 1-115 1 334 1-154 1 18 1-84 1 95 1-66 1 102 1-178 1 2 1 132 1 153 1-167 1-18 1 80 1-211 1 260 1-308 1 145 1-43 1 152 1 22 1-145 1-129 1 184 1-140 1 85 1 104 1-114 1-34 1 86 1-69 1 24 1-85 1 151 1 0 1-98 1 209 1-137 1 35 1-1 1-122 1 61 1 27 1-84 1 189 1-175 1 120 1-92 1-102 1 132 1 80 1 56 1-70 1 7 1 28 1 6 1-39 1 8 1-45 1 14 1-152 1 151 1-3 1-47 1 0 1 79 1 17 1-36 1 15 1-147 1 181 1-49 1-44 1-37 1-83 1 153 1-9 1-140 1 9 1 121 1 82 1-136 1 162 1-234 1 48 1 173 1-186 1 160 1-44 1-139 1 209 1 67 1-68 1-131 1 15 1 83 1 105 1-137 1 53 1-151 1 229 1-229 1 85 1-40 1-20 1-3 1 136 1-161 1 173 1-172 1 62 1 45 1-43 1-23 1 9 1-66 1 57 1 36 1-220 1 265 1 30 1-140 1-53 1 3 1-3 1-19 1 173 1-137 1 173 1-124 1 104 1-101 1-17 1 0 1 64 1 32 1-149 1-28 1 151 1 136 1-166 1-81 1 105 1 13 1-105 1-39 1 185 1 17 1-61 1 89 1-161 1 158 1-231 1 150 1-8 1-101 1 19 1 24 1-24 1 110 1-221 1 283 1-71 1 38 1 1 1-180 1-19 1 4 1 77 1 180 1-11 1-43 1-20 1-103 1-2 1 45 1 130 1-197 1 57 1 153 1-186 1 104 1-234 1 281 1-173 1 87 1 156 1-60 1-3 1-93 1-129 1 64 1-97 1 68 1-45 1 96 1-41 1-6 1 90 1-45 1 76 1-40 1 57 1-52 1 9 1-120 1 146 1 11 1-92 1 64 1 2 1-55 1-17 1 20 1-86 1-53 1 51 1 118 1 85 1-9 1-104 1 134 1-154 1 73 1-37 1-55 1 33 1 192 1-31 1-265 1 137 1-135 1 134 1-41 1 79 1-96 1-30 1 54 1-60 1 58 1 199 1-232 1-23 1 145 1-151 1 184 1-84 1-54 1 256 1-266 1 46 1-75 1 118 1-35 1-5 1-3 1 84 1-194 1 226 1-82 1-62 1 97 1-151 1 126 1 14 1-98 1-117 1 169 1-108 1 147 1-46 1-10 1-59 1 21 1 110 1-16 1-36 1-61 1-174 1 219 1-152 1-24 1 211 1 41 1-171 1 220 1-247 1 128 1-75 1 34 1 184 1-238 1 55 1 244 1-51 1-176 1 8 1 16 1-14 1 94 1-42 1-153 1 319 1-257 1-64 1 64 1-95 1 70 1-24 1 67 1 146 1-35 1-166 1 64 1-53 1-65 1 139 1-184 1 224 1-41 1-66 1-10 1 95 1-102 1 223 1-178 1-53 1 73 1 13 1-16 1 93 1-244 1 145 1 36 1-18 1-36 1 84 1 63 1-197 1 140 1-15 1 127 1-206 1-34 1 20 1 18 1 200 1-308 1 91 1 91 1-107 1 46 1-11 1 82 1-56 1 38 1-78 1 69 1-52 1 33 1-58 1-19 1 56 1-78 1 89 1 38 1-137 1-4 1 230 1-87 1-42 1-41 1 11 1-10 1 138 1-266 1 144 1-28 1 49 1 0 1 9 1-144 1 179 1-83 1-60 1 223 1-37 1 17 1-134 1 187 1-114 1-24 1 29 1 124 1-302 1 216 1-9 1-154 1 143 1 1 1 34 1-45 1-54 1-85 1 113 1-25 1 188 1-190 1-54 1-18 1 245 1-70 1 68 1-137 1-122 1 250 1-176 1 94 1-151 1 148 1 110 1-111 1-27 1 23 1 29 1-121 1 9 1 68 1-84 1 29 1-94 1-39 1-9 1 199 1-95 1 73 1-59 1-12 1 60 1 5 1-86 1 112 1 19 1 38 1 16 1-177 1-28 1 114 1 41 1-184 1 149 1 33 1-22 1-99 1 56 1-124 1 52 1 59 1 176 1-75 1-213 1 21 1 47 1-4 1 52 1 13 1 86 1-150 1 22 1 141 1 12 1-141 1 92 1-198 1 129 1 104 1-52 1 22 1 1 1-125 1 127 1 29 1 116 1-263 1 29 1 214 1-293 1 138 1-191 1 141 1 67 1-113 1-37 1 203 1-131 1-29 1 79 1 68 1-41 1-143 1 5 1 58 1 281 1-319 1-28 1 20 1 42 1 29 1-67 1 99 1-34 1-95 1 199 1 17 1-278 1 337 1-197 1-65 1 115 1-13 1-37 1 198 1-168 1-122 1 41 1 70 1 3 1-93 1 165 1-100 1-74 1 204 1-88 1-87 1-109 1 272 1-179 1-72 1 98 1 54 1 7 1 107 1-229 1 248 1-116 1 29 1-74 1 75 1-153 1 276 1 22 1-177 1 121 1-185 1 1 1-12 1 166 1-29 1-23 1-57 1 14 1-66 1 112 1-216 1 143 1-16 1 259 1-136 1-166 1 134 1 2 1 51 1 160 1-330 1 65 1-101 1 184 1-134 1 39 1-1 1 143 1-127 1-23 1 161 1-292 1 156 1 112 1-218 1 201 1-129 1 179 1-248 1 68 1 40 1 66 1 28 1-227 1 148 1-127 1 194 1-90 1 99 1-137 1 216 1-247 1 185 1-151 1 26 1 19 1-3 1-153 1 242 1-29 1-163 1 40 1-60 1 86 1 71 1-34 1-48 1-26 1 46 1 92 1-52 1-161 1 211 1-190 1 248 1-45 1 56 1-224 1 125 1-23 1-131 1 76 1 162 1-29 1 60 1-224 1 82 1 73 1-79 1-58 1-30 1-114 1 259 1-142 1-10 1 56 1 88 1 67 1-288 1 239 1-94 1 95 1-248 1 90 1 156 1 28 1-167 1-38 1 129 1-102 1 59 1 0 1-8 1 148 1-60 1-96 1 30 1-131 1 252 1-160 1-179 1 166 1-24 1 111 1-5 1-74 1 117 1 33 1 17 1-8 1-209 1 22 1-21 1 74 1-9 1 134 1-92 1-77 1 125 1 95 1-204 1 152 1-167 1 95 1 30 1-3 1-13 1-95 1-2 1-26 1 55 1 24 1-48 1 86 1 32 1-47 1 23 1 112 1-47 1-150 1 47 1 31 1-57 1-10 1-71 1 40 1 57 1-27 1 9 1 189 1-317 1 243 1-155 1 104 1 29 1-176 1 182 1-34 1-182 1 90 1 96 1 34 1-159 1 97 1 15 1-82 1 148 1-21 1 4 1 75 1-94 1-45 1-90 1-35 1 167 1-211 1 171 1-137 1 93 1 18 1 224 1-322 1 243 1-194 1 212 1 23 1-34 1-19 1-25 1-123 1-20 1-2 1-53 1 37 1 18 1 34 1-108 1 118 1 170 1-97 1-188 1 135 1 24 1-149 1 90 1 2 1 7 1-128 1 101 1 13 1-7 1 69 1-31 1-177 1 153 1-106 1 164 1-21 1 36 1-71 1-267 1 306 1-7 1 98 1-203 1 7 1 55 1-86 1 42 1 75 1 134 1-135 1 69 1-114 1-50 1 115 1 120 1-252 1 27 1-9 1 194 1-78 1-111 1-16 1 14 1 262 1-328 1 203 1-1 1-129 1 111 1 5 1-55 1 20 1-8 1 35 1 54 1-46 1-18 1 3 1-76 1-109 1 264 1 155 1-295 1 125 1-52 1-7 1-19 1 14 1 6 1-106 1 194 1-172 1-22 1 22 1 171 1 9 1-97 1 30 1 13 1-183 1 188 1-154 1-44 1-9 1-48 1 77 1 76 1 142 1-107 1 19 1-185 1 79 1 65 1 119 1-12 1-73 1-53 1-63 1 46 1 32 1-70 1 174 1-41 1 3 1-71 1-33 1 79 1 120 1-159 1 109 1-145 1 246 1-365 1 252 1-236 1 88 1-61 1 27 1 156 1-10 1 17 1 22 1-193 1 188 1-45 1 131 1-193 1 161 1-341 1 215 1 8 1-52 1 105 1-29 1-41 1-16 1-39 1 59 1 184 1-154 1 40 1-42 1-45 1 24 1-187 1 209 1 46 1-76 1-11 1-114 1 185 1-114 1 18 1 19 1 4 1-7 1 130 1-59 1-72 1-113 1 51 1 56 1 0 1-3 1-20 1-33 1 216 1-108 1-219 1 115 1 93 1 32 1-56 1 122 1-55 1-134 1-6 1 50 1 12 1 39 1 83 1-27 1-32 1-39 1 82 1-5 1-200 1 135 1-103 1 84 1 68 1-42 1 86 1-192 1 5 1 4 1 46 1 58 1 32 1-136 1 82 1 24 1-3 1-38 1 54 1-52 1-70 1-13 1 138 1-86 1 49 1 74 1 45 1-186 1-114 1 108 1-67 1-49 1 36 1 207 1-101 1 61 1 120 1-237 1 133 1-161 1 139 1-26 1 39 1-35 1-85 1 58 1-2 1 39 1-69 1 142 1-107 1-25 1 92 1-160 1 100 1 133 1-98 1-75 1 44 1 161 1-197 1 103 1-61 1 201 1-344 1 1 1 147 1 141 1-174 1-145 1 71 1-99 1 331 1-243 1 148 1 2 1-100 1 53 1 110 1 91 1-155 1 36 1-280 1 288 1-201 1 174 1-176 1 51 1-59 1 92 1-42 1 102 1 72 1-236 1-24 1 113 1-137 1 276 1-82 1 50 1-110 1 157 1-125 1-41 1-70 1 115 1-175 1 281 1-136 1-110 1 279 1-106 1-31 1-98 1 39 1 170 1-46 1-22 1-115 1-49 1 136 1 91 1 28 1-175 1-50 1 149 1 63 1-10 1-106 1 178 1-100 1-56 1 157 1-191 1 111 1-163 1 267 1-278 1 229 1-144 1-56 1 98 1-55 1 21 1 17 1-127 1 208 1-168 1-80 1 76 1 150 1-114 1-27 1-10 1 242 1 18 1-317 1 68 1 35 1 45 1-94 1-54 1 59 1 131 1-86 1-151 1 178 1 73 1-173 1 139 1-54 1-144 1 48 1 189 1-167 1-21 1-28 1 126 1-12 1-147 1 311 1-65 1-5 1-153 1 1 1 60 1-80 1 143 1 17 1-45 1 147 1-50 1-138 1 39 1 47 1-161 1 45 1 45 1 2 1-94 1-111 1 283 1-61 1 33 1-82 1 139 1-89 1-154 1 161 1 72 1-139 1-21 1 120 1-169 1 105 1-103 1 46 1 67 1 32 1-102 1 148 1 45 1-272 1 260 1-69 1-2 1-33 1 111 1-29 1-146 1 34 1 193 1-243 1 18 1 73 1 100 1-252 1-94 1 279 1 123 1-366 1 175 1-30 1 6 1 115 1-43 1 13 1-67 1 62 1-159 1 134 1-128 1 226 1-118 1-11 1 92 1-114 1 53 1-157 1 32 1 97 1 58 1-46 1-115 1 87 1 48 1 23 1 132 1-262 1 147 1-66 1-23 1 99 1-37 1-57 1-101 1 140 1 7 1-13 1 32 1-116 1 181 1-90 1-10 1-76 1 29 1 107 1-25 1 72 1-94 1 1 1 119 1-150 1-186 1 176 1 71 1 10 1-166 1 117 1 55 1 80 1-224 1 297 1-239 1 99 1-169 1 109 1 38 1-155 1 227 1-195 1 7 1 286 1-128 1-4 1-42 1-51 1 28 1-76 1 101 1 94 1 86 1-120 1-36 1 10 1-124 1 57 1 144 1-77 1-32 1-259 1 156 1 88 1-68 1-54 1 192 1-255 1 234 1-153 1-78 1 139 1-52 1 151 1-210 1 35 1-96 1 90 1 144 1 22 1 4 1-12 1-181 1 263 1-24 1-38 1 62 1-49 1-179 1 128 1-54 1 40 1-69 1-56 1 50 1 32 1 82 1 48 1-138 1-22 1-35 1 63 1 87 1 1 1-123 1 97 1 45 1 45 1-53 1-145 1 17 1-88 1 89 1 18 1-74 1-9 1 126 1-75 1 78 1 55 1-186 1 95 1 86 1 63 1-171 1-56 1 241 1-168 1 93 1-86 1-165 1 312 1-172 1-112 1 168 1 103 1-27 1-1 1-111 1 121 1-216 1 169 1 86 1-172 1 42 1-57 1 25 1 106 1-27 1-171 1 106 1-84 1 73 1-81 1 63 1 81 1 76 1-206 1 140 1 111 1-274 1 92 1 11 1 130 1-180 1 76 1 109 1-61 1 48 1-245 1 181 1-80 1-74 1-68 1 229 1 47 1-185 1 13 1-153 1 255 1-180 1 46 1 84 1-29 1 35 1 36 1 170 1-269 1 142 1 26 1-71 1-127 1-70 1 78 1 49 1 20 1 175 1-54 1-83 1-8 1 59 1-213 1 30 1 187 1-165 1 80 1-215 1 123 1 23 1 26 1-40 1 87 1-160 1 172 1 142 1-143 1-74 1 206 1 16 1-128 1-138 1 47 1 270 1-262 1 98 1 37 1-78 1-211 1 336 1-99 1 188 1-260 1 18 1 6 1-14 1 156 1-105 1 12 1 64 1-157 1 15 1 149 1-99 1-34 1 20 1-32 1 51 1 28 1 99 1-47 1-83 1 0 1 124 1-99 1-65 1-72 1 66 1 57 1-79 1 222 1-170 1 98 1-235 1 265 1-167 1-112 1 217 1 18 1-57 1 25 1 63 1-28 1-133 1 14 1 144 1 10 1-110 1-24 1 30 1-7 1-163 1 70 1 39 1 118 1-207 1 166 1-36 1 8 1-68 1 235 1-97 1-154 1 120 1 49 1-142 1-26 1 74 1-44 1 161 1-109 1 56 1 143 1-210 1 71 1-10 1-39 1 26 1-94 1 123 1-104 1 105 1-95 1 46 1-74 1-145 1 211 1-59 1 149 1-44 1-72 1-78 1 209 1-84 1-132 1 275 1-205 1 67 1-188 1 186 1 68 1-218 1-7 1 90 1-123 1 200 1-45 1 76 1 16 1-108 1 57 1-186 1 222 1-80 1 223 1-222 1 64 1 3 1-67 1 40 1 78 1-161 1 52 1 64 1-190 1 140 1-83 1-2 1 112 1-62 1 45 1 63 1-43 1-190 1 146 1-139 1 76 1 204 1-119 1-83 1 61 1-30 1 9 1 94 1-151 1-84 1 209 1-14 1-45 1-61 1 103 1-118 1 119 1 32 1 117 1-216 1-43 1 155 1-80 1 77 1 6 1-216 1 49 1 275 1-259 1 50 1-132 1 129 1 10 1 96 1-56 1 11 1 110 1-209 1 119 1-62 1-43 1 231 1-131 1 35 1-13 1 58 1-121 1 136 1-70 1 0 1-1 1-31 1-16 1-29 1-157 1 241 1-41 1 42 1-219 1 320 1-62 1-178 1 46 1 164 1-235 1 194 1-4 1-210 1-1 1 35 1 64 1-52 1 143 1-245 1 332 1-215 1-67 1 209 1-59 1-62 1-125 1 64 1-14 1 110 1-53 1-7 1-82 1 259 1-138 1 21 1 31 1-204 1 233 1-120 1 36 1-42 1 127 1 41 1-296 1 87 1 111 1 56 1-78 1 14 1 33 1-108 1 45 1 40 1-38 1 80 1-110 1 24 1 213 1-245 1 103 1-26 1-76 1 62 1-39 1 160 1-227 1 127 1-128 1 88 1-7 1-83 1 33 1 67 1-45 1-133 1 173 1 35 1-92 1 178 1-149 1 53 1-51 1 246 1-303 1 67 1 91 1-154 1 130 1 81 1-15 1-86 1 21 1-32 1 39 1-89 1-25 1 152 1-193 1 187 1-148 1-13 1 85 1 40 1 50 1-270 1 316 1-129 1-6 1-108 1 32 1 87 1 45 1-249 1 205 1 53 1-217 1 170 1 78 1-152 1 86 1 172 1-175 1-62 1 174 1-128 1-122 1 143 1 66 1-24 1-149 1 121 1-90 1 53 1 65 1-161 1-73 1 255 1-127 1-6 1 7 1 12 1-134 1-91 1 209 1 30 1-90 1 144 1-1 1-116 1-40" stroke-dasharray="3.00 4.95"/>
</g></g>
<g clip-path="url(#cr2)"><g transform="translate(1057.5,0) scale(0.3154,0.5)" fill="none" stroke="#2a2eec" stroke-opacity="0.35" stroke-width="3.3" stroke-linejoin="round">
<path vector-effect="non-scaling-stroke" d="M0 2397l1 4 1-168 1 169 1 42 1-161 1 68 1-113 1 252 1 20 1-217 1-17 1 10 1 113 1-113 1 102 1 50 1-42 1 131 1-215 1 3 1 142 1 54 1-155 1-75 1 288 1-155 1 26 1-187 1-13 1 258 1-51 1 90 1-145 1-24 1-85 1 263 1-12 1-162 1 4 1 81 1-57 1-43 1 58 1-175 1-12 1 128 1 59 1 81 1-67 1 7 1 2 1-25 1-39 1 33 1 121 1-7 1-159 1-35 1 150 1 46 1-64 1-59 1-183 1 112 1 39 1 82 1-43 1 80 1-165 1 67 1 89 1-86 1-153 1 218 1 31 1-62 1-22 1-34 1 36 1-79 1 70 1-32 1-133 1 265 1-15 1-97 1 94 1-27 1-293 1 320 1-9 1-117 1 40 1 141 1-162 1-103 1 145 1-57 1 52 1 70 1-6 1-130 1 19 1 171 1-217 1 56 1-22 1-39 1 223 1-99 1 25 1 9 1-56 1-51 1 59 1-217 1 286 1 63 1-171 1-162 1 139 1 108 1-52 1 30 1-110 1 41 1-252 1 47 1 135 1 224 1-59 1-36 1-45 1-3 1 50 1-198 1 281 1-163 1 31 1-105 1 152 1-24 1-200 1 167 1 27 1 13 1 17 1 75 1 0 1-65 1-42 1-75 1 108 1 3 1-36 1 50 1-45 1-107 1 172 1 32 1-54 1-46 1 84 1-146 1-137 1 104 1-37 1-19 1 70 1 62 1-4 1 138 1-17 1-47 1 34 1-27 1-101 1 48 1 17 1-216 1 232 1-30 1-102 1 112 1-126 1 168 1-198 1 100 1 168 1-120 1-62 1 82 1-71 1 74 1-86 1 67 1-121 1 54 1-48 1 10 1 119 1-15 1-55 1-77 1 62 1 148 1-214 1 78 1-85 1 195 1-34 1 12 1 43 1-228 1 151 1 48 1 41 1-51 1-123 1-49 1 59 1 87 1-44 1 154 1-27 1-96 1-40 1 39 1-31 1 66 1-20 1-36 1 42 1 9 1-18 1-177 1 233 1-288 1 279 1-151 1-31 1-19 1 158 1 190 1-143 1-99 1-206 1 255 1-64 1-6 1-130 1 107 1-97 1 212 1 71 1-117 1 68 1-141 1 71 1-93 1 174 1-36 1-10 1-142 1 126 1-13 1-149 1 191 1-11 1-190 1 336 1-293 1 136 1-13 1-19 1-16 1 27 1-141 1 303 1 12 1-195 1 132 1-88 1 12 1-20 1-59 1 234 1-112 1-221 1 189 1 5 1-307 1 229 1 106 1-123 1-5 1 144 1-162 1 94 1 128 1-221 1 3 1 20 1 5 1 92 1-14 1 41 1-169 1 42 1-124 1 134 1 78 1 15 1 23 1-3 1-143 1 222 1-63 1 164 1-341 1 67 1 35 1-99 1 117 1-72 1-125 1 168 1 6 1-59 1-26 1-4 1 98 1-57 1 25 1-85 1 118 1-3 1 61 1-44 1 18 1 228 1-400 1 153 1-231 1 210 1-133 1 60 1 102 1-41 1 117 1-166 1-138 1 153 1-147 1 172 1 20 1-29 1 43 1-64 1-150 1 170 1 52 1-44 1-83 1 98 1 127 1-64 1-224 1 156 1-123 1 118 1 57 1-79 1-74 1 117 1 83 1-77 1 29 1-163 1 183 1 9 1 29 1-113 1 40 1-11 1-65 1 51 1-256 1 76 1 217 1-235 1 172 1-30 1 118 1-129 1-53 1 42 1 23 1-61 1 33 1 180 1-107 1-52 1 94 1-261 1 157 1 50 1-22 1-24 1 76 1 24 1 78 1-224 1 70 1 124 1-197 1 86 1 48 1 33 1-261 1 88 1 50 1 0 1 51 1-1 1-158 1 197 1 11 1-147 1 237 1-100 1 17 1-54 1 106 1-76 1 3 1-51 1-55 1-58 1 103 1 61 1 15 1-20 1-243 1 64 1 35 1 44 1 147 1-193 1 120 1 70 1 1 1-107 1 80 1-215 1 34 1 51 1 26 1-31 1 236 1-48 1-118 1 41 1 136 1-196 1 71 1 41 1-161 1-29 1 169 1-55 1-32 1 53 1-44 1 117 1-28 1-105 1 35 1-188 1 231 1-20 1-48 1-26 1 23 1-96 1 93 1-59 1 131 1-138 1-166 1 378 1-220 1 22 1 153 1-97 1-100 1 142 1-147 1 151 1-138 1 93 1 243 1-217 1 28 1-56 1 79 1-150 1 75 1 25 1 12 1-1 1 56 1-91 1 103 1-24 1 42 1-200 1-13 1 181 1-26 1 84 1 3 1-164 1-172 1 269 1-123 1 182 1-280 1-61 1 217 1-32 1-150 1 147 1 138 1-131 1 147 1 140 1-295 1-72 1 74 1-19 1 78 1-75 1 63 1 25 1 15 1 100 1-166 1 70 1-13 1-49 1-5 1-86 1 238 1-182 1 57 1-113 1 186 1 103 1-179 1 28 1 29 1-19 1-131 1 120 1-142 1 52 1 130 1 116 1-246 1 157 1 2 1-150 1-57 1-3 1 144 1-14 1 72 1-88 1-24 1-154 1 188 1 69 1-168 1 155 1 29 1-101 1-4 1 13 1 90 1-73 1 81 1 29 1-171 1-74 1 86 1-93 1 72 1-163 1 266 1-38 1-1 1-66 1-29 1 132 1 45 1 44 1 17 1-222 1 156 1-182 1 116 1-93 1-8 1 7 1-28 1 125 1-87 1 86 1 45 1-61 1-48 1 89 1-170 1 203 1 18 1-33 1-158 1 111 1-54 1-8 1 152 1-96 1-93 1 9 1 73 1-48 1 26 1-46 1 192 1-37 1-200 1 114 1 89 1-121 1 13 1 97 1-87 1 26 1-84 1 70 1-23 1-53 1 46 1 73 1 41 1-23 1-5 1-47 1 11 1 7 1 30 1-178 1 127 1 94 1-111 1-78 1 85 1-36 1 108 1-146 1 15 1-46 1 67 1-170 1 104 1-11 1-10 1 201 1-146 1-23 1 2 1 113 1 49 1-26 1 52 1-129 1 89 1-66 1 3 1 21 1 45 1-3 1-171 1 228 1-137 1 96 1-18 1-37 1-214 1 158 1-25 1-7 1-25 1 57 1-100 1 109 1 64 1-38 1-1 1-146 1 265 1-60 1-54 1-9 1 24 1 56 1-67 1-27 1 122 1-83 1-17 1 1 1-152 1 248 1-135 1 3 1 139 1-183 1 163 1-103 1 81 1-30 1-87 1-43 1 85 1-9 1 32 1-101 1 43 1 214 1-333 1 228 1 66 1-56 1-53 1 16 1 75 1-155 1 92 1-52 1-153 1 137 1 188 1-75 1-44 1-78 1-62 1 152 1-29 1-50 1-30 1-38 1-4 1 171 1-131 1 126 1-78 1-56 1 7 1 57 1 60 1-139 1 28 1 206 1-272 1 27 1 222 1-259 1 60 1 20 1 125 1-22 1-79 1-50 1 29 1-112 1 184 1 76 1-36 1-134 1-5 1-35 1 41 1-27 1 59 1-35 1-33 1 25 1 111 1 38 1-76 1-245 1 214 1 97 1-9 1-5 1-136 1-20 1 199 1-43 1-5 1 134 1-171 1 4 1-38 1 92 1-33 1-62 1 46 1-119 1 1 1 97 1-19 1 27 1-225 1 266 1 50 1 38 1-21 1-126 1 27 1 6 1 38 1-185 1 81 1 197 1-175 1 101 1-312 1 211 1 83 1 48 1-219 1 174 1-11 1-56 1 22 1 91 1-175 1 98 1-148 1 116 1-61 1-76 1 84 1 75 1 82 1-91 1 95 1-68 1-2 1-35 1-91 1 23 1 3 1 62 1-8 1 91 1-207 1 150 1-69 1 14 1 138 1-175 1 96 1-95 1-82 1 173 1-63 1 77 1-67 1 11 1 43 1-37 1-47 1 20 1-30 1 33 1 60 1 70 1-137 1 24 1-78 1 105 1-48 1 44 1 53 1-16 1-22 1-36 1 89 1-120 1-36 1 134 1-9 1-56 1-5 1-61 1 156 1-67 1-174 1 155 1-151 1 123 1 90 1-116 1-10 1 136 1-271 1 92 1 9 1 221 1-44 1 4 1-54 1-79 1-43 1 14 1 135 1-223 1 218 1 9 1-40 1-154 1 341 1-312 1 150 1 21 1 141 1-181 1 33 1-25 1 57 1-66 1 78 1-100 1-92 1-107 1 244 1-180 1 85 1-84 1 236 1 25 1-77 1-83 1-27 1 251 1-212 1-125 1 178 1-119 1 162 1-105 1 99 1-35 1 96 1-220 1-104 1 245 1-67 1 63 1-23 1-38 1 5 1 12 1-20 1-44 1-151 1 150 1 13 1 106 1 0 1-61 1 7 1-18 1 68 1-46 1 21 1-37 1 16 1-56 1-4 1 86 1-122 1 52 1-100 1 304 1-121 1 1 1-193 1 106 1-15 1 38 1 44 1-6 1-30 1 157 1-109 1 24 1-56 1 28 1 60 1-35 1 51 1-60 1-132 1 136 1-191 1 254 1-197 1 123 1-124 1 156 1-124 1-99 1 207 1-127 1-32 1 205 1-120 1 28 1 73 1-136 1 5 1 18 1 267 1-234 1 7 1-35 1-55 1 117 1 14 1-179 1 75 1 148 1-196 1-30 1-1 1 57 1 125 1-18 1-75 1-12 1 94 1-82 1 7 1 134 1-68 1-239 1 280 1-88 1 91 1-54 1-27 1 71 1-125 1-64 1 67 1 198 1-135 1 22 1-31 1-96 1 188 1-150 1 105 1-92 1 37 1-1 1-67 1-49 1 229 1-113 1 190 1-141 1-152 1 201 1-44 1 17 1-20 1-84 1-1 1 108 1 26 1-78 1-73 1 31 1-71 1 51 1 66 1-53 1 117 1-194 1 150 1 11 1-15 1-80 1 82 1 99 1-292 1 194 1 99 1 15 1-131 1 113 1-73 1 67 1-86 1-45 1 137 1-263 1 210 1-89 1-132 1 91 1-9 1 181 1 8 1-124 1-19 1-52 1 34 1 37 1 23 1 6 1-22 1 95 1-56 1-55 1-31 1 59 1-82 1-3 1 3 1 40 1 57 1-123 1 33 1 85 1-92 1-23 1 81 1-1 1 104 1-58 1-68 1-7 1 113 1-220 1 387 1-235 1 71 1-118 1 122 1-134 1 96 1-89 1 164 1-130 1-64 1 73 1-57 1 79 1-170 1 157 1 74 1 66 1-285 1 197 1-144 1 169 1-17 1-195 1 203 1-120 1 133 1 9 1-82 1 34 1 28 1-108 1 140 1-171 1 50 1 130 1-157 1 21 1-178 1 132 1 9 1-82 1 279 1-42 1-20 1 18 1-148 1 22 1-196 1-55 1 526 1-300 1 31 1-5 1 75 1-106 1 32 1 58 1-103 1 198 1-193 1-89 1 204 1-250 1 124 1 110 1-137 1 196 1-6 1-49 1-76 1 103 1 4 1 4 1-227 1 97 1 167 1-12 1-119 1-96 1 137 1-156 1 72 1 138 1-12 1-116 1-4 1 96 1-31 1 81 1-146 1-31 1 87 1-66 1-39 1 154 1-171 1 164 1-116 1 52 1 14 1-27 1-135 1 185 1-71 1-68 1 13 1 77 1 58 1-89 1 57 1 33 1-109 1-51 1 80 1 63 1 30 1-132 1 39 1 11 1 56 1 16 1 77 1-165 1 100 1 72 1-47 1 40 1-1 1-188 1 96 1 47 1-13 1 48 1-8 1-116 1 63 1-9 1 120 1-65 1-168 1 115 1-70 1 94 1-136 1 22 1-17 1 55 1 84 1-32 1-19 1 3 1 37 1 14 1-39 1 9 1-108 1 61 1-179 1 137 1 124 1-51 1-83 1-111 1 226 1-38 1-30 1 4 1 111 1-143 1 24 1-112 1 152 1-168 1 98 1 3 1 48 1 85 1 73 1-118 1 118 1-163 1 100 1 30 1-247 1 7 1-26 1 183 1 11 1-54 1-19 1-76 1 104 1 32 1-27 1 97 1-152 1 75 1-202 1 213 1-60 1 73 1-134 1-98 1-49 1 262 1-164 1 44 1-31 1 93 1-14 1 12 1 91 1-82 1-138 1 245 1-176 1 151 1-80 1-131 1 228 1-212 1 257 1-279 1 192 1 30 1-51 1 60 1-2 1-77 1 52 1-66 1 72 1-164 1-85 1 247 1-138 1 73 1-62 1-23 1 77 1 35 1 151 1-391 1 322 1-211 1 133 1-71 1 139 1-153 1 110 1 3 1-12 1-48 1 80 1-63 1 77 1-181 1 168 1-131 1 105 1 27 1-22 1-64 1-28 1-54 1 92 1-63 1 130 1 98 1-263 1 96 1-35 1 170 1-142 1-2 1-91 1 177 1-106 1 42 1-28 1-89 1 94 1-41 1 26 1 22 1 11 1 13 1-24 1 1 1-1 1 68 1 47 1-58 1 75 1-259 1 224 1-40 1-97 1 93 1-41 1-89 1 152 1-211 1 218 1-129 1 128 1-15 1 74 1-215 1 53 1 155 1-255 1 207 1-41 1 34 1-453 1 168 1 295 1 0 1-173 1 121 1 67 1-172 1-158 1 195 1 119 1-4 1-6 1 33 1-22 1-36 1-17 1-26 1-159 1 283 1-135 1 10 1 119 1-271 1 75 1 233 1-313 1 262 1-141 1-94 1 163 1-105 1 179 1-34 1-3 1-50 1-167 1 7 1 242 1 27 1-126 1 88 1 20 1-80 1-55 1 65 1 0 1 11 1-94 1-40 1 72 1 78 1-75 1 48 1 71 1-98 1-20 1-48 1 3 1 90 1 29 1-90 1-84 1 99 1-12 1 110 1 27 1-101 1 54 1 132 1-209 1-63 1-87 1 224 1 9 1-37 1 36 1-171 1 67 1 123 1-138 1 59 1-20 1 132 1 73 1-226 1 85 1-45 1-17 1 36 1-165 1 94 1 227 1-167 1-55 1 17 1 12 1 74 1-51 1-5 1-69 1 60 1 17 1-32 1 58 1-123 1 112 1-188 1 195 1-70 1 255 1-517 1 231 1 131 1-241 1 41 1 72 1 66 1 90 1-175 1 108 1-66 1 191 1-123 1-145 1 7 1 75 1-58 1 143 1-231 1 200 1 40 1-28 1-86 1-28 1 167 1-142 1-38 1-20 1 100 1-34 1 146 1-2 1-287 1 162 1 35 1-145 1 135 1 15 1-87 1-30 1 253 1-7 1-221 1-9 1 188 1-113 1-103 1 34 1 50 1-124 1 202 1-67 1-5 1 67 1-6 1-105 1 20 1 11 1 161 1-258 1 96 1 12 1 236 1-316 1 142 1-33 1 36 1-160 1-10 1 153 1-239 1 269 1-44 1-36 1 90 1-55 1 69 1-26 1-71 1-80 1 169 1 73 1-59 1 30 1-93 1-70 1-24 1 181 1-287 1 273 1-88 1-15 1 84 1-134 1 130 1-56 1 65 1-14 1-60 1 36 1-11 1-58 1 121 1-66 1 103 1-184 1 74 1-84 1 99 1-23 1 12 1 23 1 21 1-177 1 89 1 35 1-33 1 30 1-190 1 64 1 119 1 66 1-219 1 266 1-114 1-53 1-19 1 172 1-95 1 53 1-55 1 73 1-91 1 64 1-61 1 92 1-26 1 28 1-173 1 112 1-53 1 113 1-112 1 71 1-77 1 78 1 128 1-226 1 212 1-196 1 34 1-153 1 220 1-228 1 55 1 69 1-104 1 193 1 4 1 23 1-91 1 87 1-268 1 90 1-13 1 161 1 41 1 29 1-24 1-168 1 110 1-55 1 54 1 87 1-226 1 163 1-54 1 4 1 39 1-77 1 123 1-183 1 71 1 40 1-1 1 29 1-80 1-93 1 31 1 108 1 14 1-149 1 66 1-19 1-25 1 319 1-273 1 117 1-12 1-64 1 101 1-18 1-95 1 78 1-13 1-196 1 247 1-135 1-13 1-19 1-49 1 32 1 29 1 164 1-34 1-115 1 224 1-250 1 0 1-63 1 171 1-123 1 213 1-52 1-60 1-144 1 172 1-67 1-35 1 150 1-41 1 98 1-369 1 127 1 117 1 31 1-65 1-155 1 263 1-31 1 67 1-192 1-5 1 119 1 28 1-123 1-80 1 46 1 51 1 23 1-117 1 188 1-86 1-30 1 0 1 66 1 22 1-84 1 2 1 76 1-13 1-31 1-32 1 34 1-20 1 102 1-78 1 56 1-125 1-93 1 194 1-234 1 247 1-45 1 31 1-14 1-44 1-43 1 37 1 38 1-114 1 76 1 4 1-1 1-112 1 133 1 26 1-12 1-62 1-70 1-7 1 277 1-202 1 59 1-36 1-26 1 191 1-148 1 80 1-256 1 218 1 13 1 24 1-48 1-133 1 99 1-58 1 80 1-101 1 184 1-157 1 82 1-214 1 244 1-116 1 179 1-95 1 15 1 54 1 18 1-51 1 29 1 23 1-199 1 175 1 51 1-65 1-136 1 198 1-162 1 240 1-175 1 24 1-53 1-57 1 42 1 178 1-170 1 69 1-29 1 42 1-16 1-130 1 19 1 85 1 88 1-43 1-59 1 35 1-128 1 127 1 34 1-114 1 51 1 133 1-112 1-54 1-72 1 255 1-161 1 39 1-13 1 64 1-123 1 26 1 106 1-46 1-251 1 302 1 22 1-87 1-119 1 62 1 69 1-90 1 65 1-51 1-93 1 207 1-91 1 104 1 28 1-44 1-151 1-136 1 412 1-176 1-117 1 58 1-121 1 120 1 33 1-52 1-67 1 163 1-98 1 119 1-233 1 226 1-58 1-85 1-5 1 109 1-30 1 90 1 15 1 56 1-150 1-44 1 213 1-118 1-15 1 114 1-133 1-36 1-34 1 44 1 46 1-152 1 152 1 45 1-67 1 29 1-86 1 54 1-183 1 82 1 110 1-3 1 27 1-91 1 38 1-52 1 85 1-47 1 1 1 95 1-268 1 206 1-16 1-18 1 109 1-202 1 142 1-101 1-37 1 111 1-97 1 34 1 114 1-134 1 113 1-105 1 130 1-71 1 80 1-126 1 9 1 55 1 82 1 78 1-278 1 134 1 81 1-99 1 5 1-40 1 191 1-139 1-75 1-47 1 66 1 38 1-64 1 53 1 145 1-153 1 108 1-275 1 154 1-77 1-18 1 173 1-4 1-130 1 57 1 85 1 2 1-130 1-91 1 139 1 44 1-11 1 113 1-156 1-39 1 290 1-246 1-18 1-16 1 49 1 43 1-117 1 150 1-157 1 99 1-41 1-19 1 75 1-126 1 184 1-121 1 120 1-192 1 144 1-110 1 188 1-238 1 251 1 24 1-5 1-181 1 33 1 46 1 38 1-83 1-88 1 101 1 100 1-235 1 84 1-9 1 116 1 13 1-99 1 104 1-178 1 123 1-184 1 82 1 93 1-101 1-34 1 245 1-211 1 40 1 217 1-127 1 242 1-398 1 111 1 43 1 85 1-81 1-51 1 72 1-13 1-102 1 19 1-8 1 35 1-82 1 181 1 29 1-363 1 163 1 167 1 58 1-338 1 221 1-58 1 39 1 38 1 96 1-225 1 134 1-324 1 320 1-26 1 0 1-26 1 27 1 28 1-71 1 112 1-402 1 322 1 21 1-133 1-22 1-50 1-67 1 306 1-45 1-106 1-8 1-87 1 195 1 36 1-165 1 32 1 145 1-78 1 68 1-131 1 42 1 35 1 72 1 1 1-118 1 158 1-26 1-161 1-21 1 50 1 96 1 40 1-118 1 43 1 30 1-110 1 5 1 232 1-172 1-37 1 42 1-7 1-128 1 64 1 64 1 16 1-83 1-146 1 137 1-39 1 66 1-48 1 24 1-70 1 11 1 195 1 11 1-106 1 128 1-144 1 74 1 37 1 49 1-34 1 6 1-301 1 146 1-65 1 111 1-9 1 35 1-88 1 58 1 39 1 44 1 55 1-10 1-186 1 134 1-163 1 252 1-174 1-86 1 249 1-21 1-128 1-16 1-7 1 88 1-100 1-18 1 259 1-102 1-59 1 32 1-14 1-69 1 151 1-113 1-171 1 108 1 55 1 6 1-119 1 38 1-7 1 148 1-42 1-2 1 7 1-51 1-16 1-54 1 126 1 50 1-137 1 274 1-183 1 30 1 37 1-88 1 72 1-54 1-52 1-125 1 152 1 24 1-77 1-85 1 162 1-66 1-51 1 157 1 21 1-139 1 129 1 63 1-89 1-112 1 14 1 121 1-181 1 132 1-78 1 126 1-150 1-138 1 254 1 42 1-71 1-48 1-66 1 97 1-30 1 29 1 80 1-200 1 119 1-177 1 237 1-20 1-95 1-25 1-47 1-8 1 38 1 202 1-354 1 203 1 98 1-86 1 109 1-205 1 85 1-11 1 66 1-109 1 38 1 106 1-52 1-42 1 135 1-209 1 153 1-74 1-3 1 140 1-124 1 135 1-141 1 83 1-92 1 103 1 37 1-141 1 198 1-103 1-35 1-83 1 1 1 59 1 63 1 19 1 27 1-118 1 194 1-116 1-133 1 8 1-68 1 45 1 132 1-75 1 16 1 40 1-59 1 98 1-73 1-81 1 130 1-123 1 143 1-170 1 65 1 149 1-77 1-68 1 147 1-83 1-266 1 229 1-162 1 282 1 13 1-121 1 42 1-140 1 285 1-161 1-53 1-34 1 25 1 91 1-70 1 42 1 11 1-66 1 55 1 43 1-32 1-64 1-80 1 63 1 150 1-45 1-255 1 194 1-63 1 45 1 123 1-83 1 43 1-110 1 19 1 145 1-120 1-5 1 1 1-73 1 21 1-90 1 278 1-206 1-96 1 206 1-82 1 62 1 107 1-233 1 171 1-69 1 27 1 3 1 45 1 59 1-173 1 46 1-121 1 159 1-142 1 133 1 163 1-187 1-50 1 34 1-124 1 102 1 81 1 84 1-29 1-140 1 141 1-81 1-86 1-38 1-7 1 154 1-88 1-52 1 123 1 18 1 0 1-29 1 39 1-299 1 259 1-66 1 80 1-97 1 62 1-40 1-169 1 179 1-19 1-17 1-73 1 183 1 10 1-87 1-53 1 115 1-48 1-24 1-32 1 47 1 188 1-197 1-51 1 160 1-169 1 109 1-20 1 102 1-296 1 259 1-79 1 138 1-27 1-53 1-26 1 18 1-108 1 123 1-53 1-28 1-17 1 124 1-163 1 201 1-142 1 125 1-61 1-73 1 63 1-168 1 231 1 42 1-22 1-205 1 180 1-226 1 182 1 90 1-39 1-102 1 71 1 51 1-135 1-45 1 139 1-20 1-127 1 58 1 50 1-36 1-131 1 52 1 52 1 178 1-129 1 59 1-34 1-165 1 114 1 84 1-150 1 243 1-322 1 161 1-60 1 45 1-116 1 183 1-15 1 101 1 3 1-179 1 117 1-160 1 185 1-71 1 153 1-216 1 116 1-76 1-107 1 40 1-63 1 58 1 41 1 114 1-58 1-96 1 110 1-53 1 61 1-193 1 124 1 68 1-196 1 172 1-89 1-181 1 111 1 180 1 38 1-96 1-1 1 34 1-88 1 33 1 15 1 124 1-10 1-185 1 159 1-340 1 313 1-69 1-59 1-77 1 83 1 8 1 198 1-55 1-98 1 78 1-152 1 127 1-23 1-58 1-53 1 163 1-24 1 131 1-101 1-103 1 4 1-71 1 153 1-79 1 208 1-125 1-179 1 296 1-80 1-63 1 57 1 34 1-146 1 63 1-147 1 97 1 9 1 42 1-90 1 101 1-29 1-70 1 80 1-192 1 276 1-97 1-182 1 30 1 95 1-81 1 189 1-48 1 139 1-131 1-48 1-256 1 369 1-209 1 77 1 24 1 103 1-93 1 76 1-98 1-83 1 118 1 84 1-94 1 17 1-90 1 45 1-111 1 316 1-153 1 22 1-31 1 145 1-231 1 95 1 70 1-100 1-67 1 65 1-9 1 59 1-234 1 276 1-106 1 81 1-21 1-132 1 103 1-69 1 106 1-49 1-96 1 181 1 70 1-160 1 26 1-121 1 94 1 142 1-109 1 119 1-114 1 43 1 131 1-113 1-159 1 34 1 83 1-46 1-66 1 157 1 18 1-269 1 257 1-8 1 10 1-29 1-159 1-48 1 39 1 29 1 100 1-112 1 98 1-56 1 88 1-10 1-130 1 92 1-41 1 41 1 58 1-196 1 121 1 48 1-115 1-46 1 81 1 158 1-143 1 42 1 43 1-18 1-55 1-8 1 73 1-59 1 148 1-24 1-178 1-48 1 167 1-17 1-37 1 19 1 12 1 22 1-41 1-65 1 101 1-38 1-25 1 9 1 65 1-139 1 173 1-43 1-81 1 23 1 20 1 36 1-89 1-30 1-187 1 356 1-49 1-153 1 72 1 8 1-63 1-20 1 105 1 2 1 106 1-164 1-19 1 22 1 131 1 52 1-188 1 121 1-3 1-206 1 149 1 35 1-124 1 97 1-106 1-90 1 200 1 81 1-112 1-122 1-40 1 45 1 57 1-8 1 148 1 101 1-182 1 64 1-21 1 52 1-153 1 196 1-57 1-167 1 138 1-7 1-64 1 59 1-88 1-32 1 64 1-21 1 54 1 26 1 61 1-222 1 70 1 190 1-168 1 28 1-92 1 52 1 32 1 38 1 35 1-151 1 59 1-21 1 32 1-15 1 83 1 15 1-37 1-30 1-3 1 45 1-24 1-145 1 312 1-72 1-178 1 196 1-246 1 4 1 188 1-37 1-44 1 75 1-139 1 47 1 177 1-32 1-203 1 176 1-87 1 23 1-23 1 53 1-83 1-107 1 141 1-19 1 15 1-10 1 9 1-69 1 129 1 62 1-257 1 141 1-41 1-11 1-44 1 210 1-51 1-75 1-11 1 63 1-106 1 168 1 8 1-37 1-94 1-224 1 271 1-1 1 75 1-237 1 186 1-71 1-109 1 220 1-3 1-129 1 23 1 59 1-105 1 113 1 12 1 38 1 2 1-32 1-138 1 64 1 42 1 9 1 66 1-108 1-18 1-74 1 186 1-221 1 120 1-1 1 9 1 129 1-182 1 19 1 107 1 25 1-123 1 56 1 89 1-81 1-23 1 98 1-129 1-75 1 132 1-40 1 61 1 13 1-169 1 175 1-228 1 191 1-4 1 88 1-70 1-107 1 51 1-30 1-64 1 131 1-58 1-207 1 284 1-156 1 207 1-119 1-81 1 200 1-74 1 98 1-144 1 85 1-104 1-71 1 138 1 36 1-120 1 209"/>
<path vector-effect="non-scaling-stroke" d="M0 2259l1 72 1 206 1-87 1 2 1-129 1 126 1 28 1-32 1 70 1-46 1-66 1-82 1 219 1-381 1 249 1-58 1 130 1-73 1-15 1-33 1 86 1 30 1-42 1-69 1-187 1 309 1-7 1 26 1-11 1-188 1 122 1-36 1-148 1 86 1 2 1 59 1-26 1 19 1-64 1-47 1 119 1-2 1-38 1 0 1-74 1-7 1 120 1 11 1 54 1-24 1-117 1 6 1 282 1-213 1 51 1-68 1-69 1 161 1 43 1-123 1 20 1-106 1 141 1 35 1-39 1 58 1-71 1-74 1 92 1 117 1-80 1-155 1-35 1 2 1 113 1 80 1-91 1-69 1 43 1 100 1-119 1-16 1 258 1-99 1-172 1 30 1 24 1-41 1 81 1 14 1-95 1 181 1-46 1-270 1 218 1-123 1 11 1 11 1 44 1 249 1-310 1 58 1-44 1-14 1-154 1 335 1-117 1-219 1 304 1-149 1 32 1 46 1 158 1-132 1 54 1 11 1-4 1-15 1-81 1 156 1-108 1 7 1 78 1-56 1-27 1 42 1 89 1-154 1 38 1-36 1 155 1-242 1 192 1-127 1 64 1 84 1-72 1-199 1 61 1-14 1 81 1-17 1 170 1-253 1 14 1 129 1-23 1 47 1-98 1-22 1-94 1 130 1 16 1-44 1 82 1-13 1-31 1-115 1 9 1 96 1-73 1 72 1 73 1 55 1-140 1 34 1 8 1 41 1-66 1 116 1-136 1 70 1-15 1-14 1 206 1-205 1-209 1 325 1-198 1 154 1-158 1 151 1-6 1 48 1-192 1 61 1 237 1-183 1 22 1 22 1-125 1 95 1-45 1-4 1-19 1 41 1-186 1 337 1-22 1-32 1-81 1-153 1 89 1 5 1-44 1-6 1 145 1-61 1 21 1-40 1-3 1 24 1-58 1 231 1-424 1 153 1 184 1 38 1-260 1 74 1 60 1 27 1-18 1 88 1 27 1 8 1-53 1 34 1-170 1 103 1-99 1 124 1 107 1-122 1-70 1 131 1-1 1-132 1-20 1 107 1-62 1-7 1-63 1 180 1-169 1 3 1-32 1-18 1 170 1-116 1 58 1-145 1 166 1 57 1-57 1 62 1-127 1 118 1-60 1-80 1 106 1 0 1 11 1-79 1 156 1-261 1 163 1 37 1-235 1 183 1-106 1 5 1 90 1 61 1-57 1 38 1-120 1 133 1-20 1-28 1 66 1-256 1 255 1-28 1-118 1-94 1 255 1-146 1 84 1-81 1-49 1 85 1-50 1 141 1-52 1-128 1 22 1-50 1 50 1 50 1-23 1 154 1-99 1 34 1-198 1 273 1-61 1-1 1 28 1-4 1-13 1-61 1-62 1 46 1 59 1 11 1-6 1-157 1-42 1 245 1-27 1 16 1-55 1 20 1-229 1-61 1 172 1 140 1-274 1 319 1-204 1 119 1-62 1 54 1-71 1-104 1 237 1-6 1-24 1 3 1-292 1 163 1 49 1-75 1 226 1-180 1 240 1-205 1 65 1-19 1 83 1-255 1 158 1-224 1 300 1-27 1-247 1 198 1-56 1 121 1-31 1-63 1 77 1-90 1-81 1 143 1-33 1-76 1 9 1 96 1-129 1 11 1 208 1-89 1-91 1 153 1-39 1-41 1 27 1-49 1-190 1 182 1 33 1 56 1-200 1 32 1 171 1-89 1 123 1-364 1 272 1-69 1 116 1-77 1 29 1-147 1 24 1 70 1-22 1-63 1 232 1-170 1 45 1 40 1-23 1 43 1-35 1-79 1 83 1 86 1-98 1-56 1 55 1 170 1-53 1-217 1 94 1 17 1 62 1-123 1-60 1 115 1-21 1-50 1 18 1 17 1-86 1 249 1-76 1 6 1 67 1-128 1-108 1 195 1-115 1-41 1 185 1-91 1 41 1-179 1 122 1-51 1-53 1-77 1 182 1-2 1 25 1 17 1-10 1 106 1-29 1-65 1-143 1 143 1 75 1-123 1-60 1 68 1 117 1-58 1-99 1-47 1 130 1 12 1-81 1 5 1 27 1-78 1 36 1 116 1-29 1-63 1 139 1-176 1 95 1-297 1 259 1 29 1-64 1-84 1 67 1 122 1-89 1 58 1-52 1 1 1 25 1-130 1 164 1-27 1-100 1-68 1 154 1-40 1-184 1 222 1-176 1 167 1-50 1 85 1-14 1-139 1 160 1-70 1-60 1 67 1 118 1-209 1 73 1-66 1 219 1 2 1-115 1 36 1-154 1-59 1 185 1-83 1 17 1 11 1-82 1 185 1-144 1 121 1 21 1-118 1 42 1 11 1-65 1-32 1 15 1 225 1-111 1 12 1-33 1-81 1 86 1-109 1 116 1-251 1 296 1-106 1-16 1 49 1-93 1 29 1 105 1-118 1 189 1-104 1-53 1-196 1 135 1 28 1-24 1 48 1 66 1-14 1 12 1-197 1 131 1 23 1-7 1 34 1 28 1-180 1 153 1-10 1-16 1 157 1-30 1-68 1 52 1 25 1-224 1 231 1-180 1 168 1-88 1 68 1-16 1-77 1 130 1-165 1-84 1 41 1-17 1 75 1-111 1 60 1-168 1 364 1-190 1 70 1-12 1 124 1-136 1-45 1-19 1-2 1 248 1-182 1-43 1-59 1 71 1-93 1 118 1-38 1 190 1-102 1 14 1-50 1-101 1 148 1-81 1 131 1-123 1 67 1 34 1-51 1 10 1 21 1 20 1-143 1 37 1-119 1 219 1-46 1-95 1 111 1 90 1-162 1-160 1 265 1 22 1-134 1 84 1 39 1-58 1-26 1-61 1-22 1 163 1-114 1-76 1 123 1-34 1 13 1-57 1 11 1 63 1 39 1 2 1 73 1 0 1-88 1-7 1-1 1 5 1-83 1 40 1 242 1-234 1-101 1 26 1 263 1-299 1 77 1 140 1-166 1 87 1-7 1-39 1 171 1-133 1 95 1-216 1 38 1 113 1 24 1-73 1-32 1-50 1 132 1-62 1 99 1-135 1-75 1 228 1 2 1-81 1-98 1 59 1 156 1-18 1-133 1-158 1 257 1-27 1 39 1-60 1-144 1 153 1 157 1-130 1 44 1-146 1-24 1 122 1-27 1-167 1 45 1 86 1 140 1-154 1-4 1-5 1 157 1 77 1-307 1 119 1 116 1-151 1-26 1 18 1-48 1 59 1-105 1 239 1-91 1-166 1 248 1-144 1 131 1-171 1 94 1 88 1-208 1 254 1-168 1-17 1 47 1 11 1 8 1-23 1 75 1-17 1-133 1 101 1-176 1 113 1 72 1-60 1 125 1-112 1 97 1-180 1-91 1 164 1 45 1-31 1 18 1-57 1-22 1-33 1 35 1-15 1 58 1 144 1-107 1-20 1 31 1 132 1-71 1-184 1 143 1-132 1 49 1-16 1-14 1-37 1 142 1-43 1-16 1-86 1 197 1-208 1 24 1-14 1 157 1-207 1 4 1 221 1-191 1 78 1 85 1-103 1 54 1-11 1 131 1 18 1-28 1-71 1-42 1 101 1-40 1-185 1 62 1 24 1 153 1-90 1 20 1-54 1 9 1-71 1 5 1 114 1-14 1-100 1 146 1-170 1-106 1 234 1-145 1 297 1-292 1 170 1 42 1 23 1-42 1-7 1-160 1 10 1 147 1 10 1 51 1-153 1-45 1-24 1 114 1 147 1-139 1-117 1 154 1-98 1-140 1 123 1-19 1-1 1 9 1 102 1-251 1 256 1-152 1 70 1-10 1 45 1-78 1 85 1 14 1 15 1-61 1 80 1-27 1 17 1-111 1-129 1 312 1-117 1-32 1-1 1 187 1-231 1-20 1 169 1-35 1-245 1 13 1 91 1 146 1-2 1-97 1 22 1 135 1-151 1-47 1 139 1-114 1-22 1 67 1-94 1 89 1 4 1-108 1 90 1 16 1 27 1 25 1 106 1-195 1 19 1 145 1 9 1-111 1-96 1 159 1-212 1 159 1-162 1 102 1-45 1 132 1-88 1 76 1-46 1-77 1-44 1 227 1-124 1 10 1-74 1-6 1 121 1 57 1-96 1-139 1 111 1-33 1 110 1-212 1 242 1-92 1 43 1 63 1-135 1-5 1 85 1-79 1 319 1-379 1 100 1 132 1-215 1 166 1-1 1-17 1 1 1-80 1 139 1-166 1 163 1-210 1 306 1-140 1-52 1 20 1 89 1-49 1-33 1-54 1-2 1-22 1-19 1 18 1 49 1-146 1 36 1 155 1 42 1-124 1-45 1 281 1-256 1 65 1-17 1-76 1 146 1-56 1 75 1-80 1 107 1-92 1-3 1-96 1 70 1-86 1 148 1-256 1 180 1 112 1-11 1-206 1-13 1 128 1 79 1 3 1-71 1-151 1 225 1-180 1 42 1 151 1-102 1-70 1 65 1 12 1 85 1-66 1-152 1-25 1 173 1-96 1 71 1 96 1-59 1 55 1 27 1-74 1-80 1-10 1 48 1 21 1 96 1-211 1 115 1-26 1 43 1-31 1 83 1-129 1 141 1 16 1 5 1-100 1-16 1 30 1 6 1 1 1-32 1 52 1-72 1 50 1 110 1-232 1 167 1-102 1 201 1-102 1-122 1 154 1-144 1 125 1-104 1 27 1 99 1-215 1 120 1-5 1 107 1-12 1-47 1 60 1-38 1 37 1-126 1 53 1 57 1-287 1 400 1-173 1-5 1-10 1 78 1-82 1-91 1 131 1-69 1-3 1 127 1-57 1-76 1-77 1 106 1-109 1 186 1 48 1-147 1 15 1 28 1-176 1 94 1 67 1 17 1-25 1-25 1-104 1 262 1-177 1 62 1-97 1 16 1 24 1 86 1 80 1-216 1 102 1-39 1-45 1 59 1 61 1-30 1 3 1 69 1-147 1 39 1 91 1-76 1-35 1 92 1-9 1-23 1-122 1 1 1 82 1-35 1 14 1-17 1 147 1-103 1-50 1 267 1-96 1-246 1 136 1-58 1 123 1-135 1 45 1 70 1-61 1 96 1 35 1 2 1 67 1-153 1 42 1-130 1 11 1 87 1-29 1 18 1 167 1-212 1 41 1-85 1-57 1-18 1 58 1 243 1-231 1 42 1 87 1-149 1 126 1-124 1-115 1 245 1-115 1-18 1 1 1 141 1 127 1-345 1 199 1-19 1 36 1 23 1-138 1-48 1 24 1 86 1-49 1 161 1-218 1 158 1 64 1-146 1 77 1-247 1 160 1-43 1-101 1 270 1-33 1-207 1 142 1-23 1-44 1 48 1 22 1 16 1-9 1-71 1-9 1 209 1-64 1 53 1-137 1 5 1-121 1 240 1-55 1 4 1-77 1-30 1-11 1-4 1-6 1 32 1 30 1-48 1 77 1-70 1 4 1-29 1 98 1 132 1-134 1-69 1 25 1-2 1 69 1-117 1 79 1 70 1-90 1 76 1-194 1-44 1 213 1-167 1 40 1 46 1-5 1 106 1 116 1-189 1-126 1 187 1-23 1-51 1 35 1-125 1 191 1-149 1 224 1-49 1-150 1 59 1-77 1 178 1-88 1-93 1 146 1-170 1 77 1-46 1 243 1-197 1 114 1-43 1-72 1 114 1 86 1-149 1-228 1 57 1 50 1 117 1 55 1-113 1 34 1 103 1-190 1 99 1-18 1 12 1 9 1-58 1 131 1-223 1 66 1 47 1 114 1-166 1 208 1-216 1 157 1-148 1 79 1-139 1 218 1-7 1-148 1 162 1-61 1-42 1-13 1-30 1 148 1 7 1-119 1-18 1-19 1 141 1-32 1 29 1-72 1-206 1 369 1-64 1-238 1 58 1 139 1-107 1-166 1 265 1-82 1-45 1 20 1 62 1 83 1-182 1-5 1 86 1 135 1-195 1 156 1 56 1-259 1 59 1-2 1 15 1-5 1-154 1 82 1 178 1 21 1-158 1 39 1-4 1 147 1 65 1-28 1-77 1 76 1-16 1-2 1-96 1-35 1 41 1 75 1-20 1-23 1-115 1-115 1 44 1 207 1-96 1-64 1 28 1-71 1 166 1-57 1-33 1-98 1 52 1 7 1 212 1-264 1 105 1 129 1-110 1-57 1 74 1-67 1 158 1-323 1 280 1-61 1 125 1-4 1-172 1 106 1 18 1-116 1 16 1 45 1-40 1 5 1 99 1-76 1 45 1-37 1 125 1-236 1 156 1-143 1-48 1 166 1-218 1 255 1-54 1 30 1 15 1-40 1 5 1 27 1-40 1-28 1-25 1 22 1 7 1 6 1-170 1 226 1 62 1-136 1-33 1 37 1-60 1 180 1-168 1-58 1 80 1-33 1-53 1 129 1 123 1-182 1-22 1 161 1-280 1 188 1-60 1 120 1 28 1-81 1 64 1-151 1-9 1 316 1-300 1 184 1-313 1 239 1-55 1 70 1-92 1 84 1-29 1 7 1-72 1 113 1 13 1-78 1 3 1 8 1 109 1-120 1 82 1-17 1-155 1 191 1 19 1-66 1-83 1 35 1 38 1-155 1-10 1 314 1-136 1 101 1-153 1 27 1-106 1 284 1-109 1-41 1-128 1 37 1-53 1 54 1-10 1 101 1 40 1-213 1 182 1-10 1-166 1 24 1 150 1-147 1-23 1 141 1-86 1-59 1 199 1-117 1 98 1-39 1 92 1-57 1-137 1 138 1-117 1-34 1 133 1-70 1 69 1 8 1 103 1-197 1-69 1 165 1 10 1-99 1 46 1 14 1-225 1 211 1 52 1 6 1-21 1-184 1-152 1 160 1 212 1-293 1 238 1-93 1 167 1-73 1 86 1-123 1-60 1 209 1-91 1 2 1-27 1-11 1-79 1 53 1 86 1-129 1 66 1 109 1-249 1 148 1 87 1-96 1 65 1 28 1-148 1 157 1-26 1 41 1-81 1-27 1-56 1-116 1 170 1 56 1-21 1-75 1 48 1-82 1-23 1 145 1-69 1-19 1 100 1 6 1-64 1 57 1-93 1-108 1 81 1 45 1 65 1-230 1 233 1-92 1 57 1-57 1-76 1 81 1-12 1-57 1 261 1-125 1 13 1-75 1 103 1-168 1-46 1 284 1-86 1-106 1 56 1-124 1 106 1-10 1 29 1 48 1-157 1-70 1 16 1 145 1-13 1 20 1-71 1 33 1-8 1 54 1 114 1-14 1-153 1 25 1 36 1 65 1-109 1-70 1 61 1-62 1 72 1 142 1-115 1 79 1-186 1 23 1-77 1 125 1 129 1 35 1-46 1-80 1-72 1 22 1-46 1 164 1-110 1 12 1 57 1 57 1-95 1-30 1 110 1 16 1-184 1 36 1 217 1-183 1-19 1 98 1 9 1-55 1-90 1 58 1 14 1 108 1-194 1 65 1 121 1-2 1-13 1-77 1 25 1-90 1 182 1-233 1 274 1-80 1-181 1-18 1 228 1-39 1-110 1-193 1 303 1 8 1-175 1 107 1 52 1-119 1-5 1-50 1 230 1-78 1 96 1-131 1-6 1 22 1-120 1 138 1-155 1 201 1-14 1-18 1-205 1 87 1 69 1-33 1 111 1-8 1-109 1-7 1 97 1-162 1 163 1 96 1-112 1 3 1-136 1 198 1-177 1 111 1-72 1 71 1-35 1 137 1-166 1 66 1-55 1 84 1-50 1 170 1-191 1 11 1 6 1 36 1 116 1-345 1 200 1-148 1 147 1 82 1-60 1-17 1-1 1 49 1-64 1-52 1 72 1-16 1-68 1 21 1 120 1-215 1 127 1-56 1 130 1-24 1-36 1-83 1 3 1-97 1 165 1 17 1 32 1-68 1 92 1-149 1-20 1 210 1-110 1-137 1 213 1 15 1-162 1 165 1-30 1-190 1 112 1 97 1-85 1 33 1-87 1 193 1-94 1-44 1 83 1 13 1-70 1-24 1-11 1-31 1-66 1-97 1 270 1-104 1 98 1-40 1-91 1-125 1 287 1-195 1 178 1-285 1 160 1 127 1-70 1 4 1-34 1-10 1 201 1-222 1-3 1-38 1 40 1 149 1-14 1-90 1-58 1 130 1 53 1 67 1-12 1-207 1 115 1-41 1-19 1-26 1 61 1-30 1-3 1 16 1-107 1-64 1 236 1-112 1-31 1 44 1-171 1 182 1 17 1-5 1-66 1 57 1 62 1-147 1 57 1-30 1 67 1-137 1 239 1-71 1-85 1 59 1-112 1 202 1-60 1-118 1 91 1 20 1-87 1-90 1 251 1-101 1-129 1 11 1 105 1 18 1-67 1-17 1 13 1-22 1 81 1-145 1 235 1-215 1 80 1-76 1 167 1 32 1-170 1-8 1 215 1-233 1 28 1 165 1-236 1 127 1-122 1-100 1 139 1 111 1-168 1 129 1-70 1 87 1 23 1 9 1-73 1 26 1-122 1 145 1 85 1 77 1-6 1-137 1-246 1 289 1-76 1 48 1-119 1 79 1 28 1-20 1 124 1-90 1-39 1-116 1 150 1 71 1-166 1 36 1 34 1 156 1-74 1-186 1 139 1-127 1 129 1-128 1-50 1 153 1-10 1-69 1 116 1 11 1-163 1 170 1-28 1-211 1 126 1 101 1-119 1 112 1-69 1-26 1-2 1 124 1-356 1 198 1-124 1 253 1-78 1 130 1-139 1-26 1-33 1 116 1-6 1 176 1-106 1-154 1 114 1-50 1 47 1-46 1 115 1-101 1-15 1 8 1-194 1 247 1-51 1 3 1-128 1 82 1 146 1-161 1 50 1-139 1 272 1-233 1 174 1-74 1 15 1-42 1-23 1-7 1 68 1 21 1-15 1-8 1 39 1-99 1 181 1-188 1 137 1-118 1-63 1 27 1-37 1 152 1-103 1 21 1 90 1 47 1-16 1-192 1 144 1-115 1 76 1-46 1 130 1-6 1 27 1-51 1-122 1 126 1-1 1-35 1 0 1-29 1 81 1-53 1 168 1-240 1-35 1 152 1-93 1 55 1 60 1-78 1 47 1 9 1 20 1-15 1-209 1 91 1 44 1 32 1-5 1 69 1 45 1 19 1-44 1-45 1 20 1 21 1-163 1 121 1-140 1 175 1-189 1 45 1-19 1-72 1 138 1 58 1-120 1-141 1 227 1 3 1-159 1 116 1 115 1-63 1-94 1 94 1 23 1-139 1 1 1-55 1 255 1-62 1-61 1-154 1 98 1 86 1-2 1-86 1 147 1-127 1 15 1-81 1 106 1 57 1 88 1-126 1-252 1 151 1 129 1 35 1-46 1-7 1-18 1-103 1-73 1 193 1 79 1-118 1 73 1-45 1 143 1-229 1 77 1-185 1 132 1 157 1-25 1-3 1-46 1-122 1 159 1-21 1-215 1 240 1-160 1 67 1 29 1 84 1-126 1 166 1-8 1-215 1 83 1-16 1-178 1 130 1 83 1 56 1-141 1 8 1-84 1 147 1-36 1-17 1 50 1 61 1-105 1-2 1-44 1 9 1-28 1 95 1-54 1-49 1 164 1-94 1 6 1 131 1-89 1-25 1 38 1 98 1-94 1 83 1-8 1-72 1-16 1 46 1 60 1-135 1 3 1 65 1-151 1 66 1 94 1-167 1 54 1 83 1 69 1-35 1-100 1 66 1 7 1 54 1-77 1 47 1-89 1-74 1-20 1 79 1-17 1 92 1-35 1 120 1-95 1 83 1-99 1-23 1-20 1-6 1 59 1 66 1-25 1-61 1 98 1-120 1 21 1-54 1 35 1 101 1-20 1 60 1-81 1 71 1-81 1-81 1 79 1-18 1-194 1 307 1-211 1 72 1-174 1 213 1-14 1-28 1-22 1 80 1-60 1-180 1 155 1 131 1-26 1-42 1 29 1-31 1 27 1-68 1 95 1-195 1 152 1 31 1 22 1-43 1-189 1 129 1-63 1 142 1-78 1 144 1-240 1 136 1-173 1 191 1-56 1 35 1-150 1 103 1 10 1 13 1 5 1-7 1-50 1 234 1-227 1 111 1-59 1-18 1 105 1-60 1 83 1-265 1 232 1-117 1 4 1-35 1 61 1 88 1-116 1 109 1 52 1-67 1-45 1-77 1 194 1-47 1-74 1 23 1-150 1 123 1 110 1-202 1 119 1 34 1 88 1-55 1-39 1-63 1 5 1-137 1 58 1 72 1-40 1 57 1 57 1-89 1 104 1-124 1 82 1-10 1-87 1 79 1 86 1-7 1-213 1 112 1 4 1 25 1 83 1-89 1-70 1 90 1-44 1 55 1-39 1-143 1 107 1-145 1 271 1 110 1-237 1 96 1-11 1-49 1-30 1 70 1-36 1-137 1-53 1 202 1 162 1-8 1-110 1-67 1 101 1-92 1-93 1 71 1-131 1 176 1-27 1 89 1-109 1-41 1 101 1 1 1-76 1 54 1 89 1-274 1 206 1 3 1 13 1-26 1 84 1 6 1-6 1-210 1 72 1 12 1-34 1 75 1-114 1 72 1 116 1-55 1-23 1-7 1 7 1-96 1 140 1-72 1 25 1-64 1 26 1 90 1-13 1-116 1 90 1 98 1-155 1 113 1 19 1-97 1 6 1-96 1 187 1-38 1-151 1-126 1 207 1 14 1-4 1 48 1 3 1-131 1 29 1 155 1-209 1 117 1 83 1-83 1-192 1 185 1-50 1-75 1 115 1 97 1-142 1-1 1 58 1-23 1 107 1-47 1-63 1 195 1-78 1-143 1 91 1 29 1-20 1-13 1-99 1 17 1-43 1 48 1 61 1-14 1 132 1-273 1 106 1 101 1-134 1-131 1 193 1-86 1-28 1-107 1 123 1-38 1 109 1-92 1 112 1-42 1 151 1-150 1 71 1-17 1-9 1 34 1-126 1 153 1-258 1 87 1 202 1 97 1-272 1 134 1-23 1-200 1 91 1 178 1-144 1 135 1-220 1 269 1-4 1-150 1-46 1 172 1-164 1-28 1 58 1 39 1-64 1-324 1 314 1-86 1 86 1 140 1-31 1 13 1-12 1-309 1 199 1 69 1 26 1 37 1 1 1-144 1 160 1-142 1 3 1 148 1-69 1-151 1 137 1-20 1-122 1 51 1 20 1 88 1 125 1-101 1-57 1 126 1-263 1 188 1 33 1 25 1-233 1 57 1 138 1-146 1 78 1-38 1 29 1-6 1 74 1-99 1-9 1 133 1-217 1 87 1-69 1 61 1 100 1 5 1-108 1 37 1-50 1 29 1 9 1-35 1 14 1-52 1-163 1 357 1-57 1-45 1 29 1 112 1-144 1-49 1-41 1 109 1-92 1-3 1 68 1 57 1-186 1 191 1-158 1-113 1 249 1 23 1-86 1-68 1 152 1-101 1 71 1 28 1-60 1 131 1-245 1 230 1-200 1 96 1-5 1-63 1 218 1-124 1 19 1-67 1 51 1-181 1 192 1 26 1-58 1 122 1-70 1-102 1-95 1 97 1 120 1 53 1-142 1-151 1 210 1-2 1-187 1 166 1-151 1 64 1 54 1-94 1-67 1 264 1 22 1-299 1 33 1 193 1-76 1 107 1-79 1-2 1 87 1-163 1 171 1-157 1-108 1 194 1-169 1 58 1 99 1-113 1-3 1 116 1-5 1 24 1 23 1-109 1 133 1-148 1-73 1 134 1 94 1-97 1-154 1-75 1 234 1-9 1-2 1-26 1 113 1-59 1 81 1-88 1 8 1 19 1 71 1-8 1 5 1-277 1 219 1-121 1 117 1 81 1-104 1 42 1-105 1 18 1 46 1-108 1 152 1 29 1-10 1-220 1 220 1 29 1-167 1 6 1 112 1 71 1 64 1-158 1 73 1-70 1-187 1 236 1 82 1-51 1-217 1 108 1-91 1 27 1-96 1 182 1-2 1 173 1-251 1 55 1 109 1-79 1-49 1 0 1 31 1-13 1 65 1-216 1 4 1 283 1-164 1 43 1 82 1-22 1-175 1 9 1 100 1-28 1 20 1 1 1 163 1-247 1 170 1-297 1 323 1-43 1-95 1-54 1 161 1-110 1 50 1-194 1 131 1 22 1 4 1-55 1 102 1-173 1 135 1 144 1-60 1-150 1 177 1-64 1-245 1 238 1-231 1 137 1 3 1 30 1 78 1 12 1-104 1 114 1-108 1 18 1-179 1 146 1 43 1-122 1 49 1 75 1-47 1-127 1 142 1-17 1 142 1-255 1 69 1 186 1-183 1 135 1 17 1-18 1 43 1 2 1-24 1-136 1 112 1-79 1 10 1 32 1-60 1 99 1-70 1 32 1 136 1-183 1 133 1-77 1-31 1 133 1-106 1-147 1 163 1 8 1-154 1 123 1-16 1 4 1 55 1-38 1-90 1 190 1-289 1 171 1 39 1-107 1 162 1-79 1-28 1 16 1-81 1 198 1-90 1-94 1 146 1-46 1 18 1-41 1 44 1 34 1-81 1-5 1 45 1 6 1-14 1-111 1 129 1-106 1 4 1-39 1 69 1 7 1-24 1-50 1 149 1-49 1 103 1-130 1 43 1-101 1 147 1-246 1-9 1 318 1-201 1 134 1-112 1 177 1-105 1-113 1 18 1 107 1-46 1-77 1-93 1 63 1 174 1-14 1-36 1-33 1 164 1-76 1-48 1 45 1 111 1-117 1-131 1 319 1-143 1-128 1 49 1-38 1-124 1 150 1 48 1-29 1 21 1 94 1-189 1 121 1-158 1-16 1 125 1 3 1 0 1 0 1 57 1-18 1 136 1-243 1-52 1 138 1-28 1-37 1 45 1-33 1 112 1-129 1 27 1-18 1 120 1-28 1-154 1 156 1-6 1-129 1 44 1 79 1-93 1-8 1-118 1 54 1 139 1-48 1 95 1-73 1-76 1 93 1-19 1-89 1-173 1 164 1-3 1 87 1-94 1 168 1-30 1 63 1-231 1 109 1 0 1-3 1 12 1 20 1-31 1 113 1 54 1-69 1-35 1-131 1-23 1 114 1-175 1 129 1 64 1 88 1-142 1-32 1 90 1 3 1 17 1-208 1 170 1-13 1 15 1 6 1-12 1-169 1 48 1-1 1 168 1-78 1 146 1-186 1 26 1-119 1 124 1-94 1 153 1-26 1 134 1-91 1-28 1 75 1-126 1-109 1 191 1 7 1-166 1 58 1 100 1-91 1 103 1 99 1-112 1-105 1 29 1 6 1 94 1 27 1-158 1 45 1-155 1 294 1-218 1 27 1 61 1 178 1 19 1-241 1-21 1 23 1 119 1-20 1-44 1 130 1-121" stroke-dasharray="11.10 4.80"/>
<path vector-effect="non-scaling-stroke" d="M0 2460l1 2 1-39 1 3 1-5 1-46 1 50 1-60 1-71 1 52 1 228 1-352 1 319 1-98 1-22 1-154 1 259 1-38 1-119 1 160 1-300 1 103 1 212 1-184 1 40 1 101 1-160 1 108 1-109 1 82 1-155 1 68 1 64 1 44 1 46 1-93 1-50 1 27 1 78 1-14 1-78 1 9 1-148 1 321 1-94 1 20 1-95 1-106 1 250 1-83 1-108 1 119 1-102 1 162 1-247 1 75 1 119 1-221 1-32 1 162 1 3 1 45 1 71 1-174 1 103 1-51 1 71 1-21 1-47 1-43 1 35 1 77 1-166 1 82 1-15 1-19 1 14 1 124 1-38 1 75 1-185 1 204 1-136 1 51 1-5 1 15 1-112 1 63 1 43 1-13 1 13 1-201 1 197 1-73 1 46 1-65 1 49 1 81 1-98 1-100 1 12 1 210 1-201 1 26 1 80 1-77 1 135 1-114 1 155 1-148 1-33 1 153 1 17 1-87 1 124 1-166 1 23 1-214 1 244 1 99 1-141 1 43 1-112 1 152 1-48 1 17 1-14 1 34 1-120 1 44 1 89 1-113 1-11 1 117 1 18 1-45 1-72 1 46 1 14 1 120 1-87 1-32 1-59 1 57 1 56 1-11 1-86 1 49 1-35 1 117 1-17 1-117 1 34 1-9 1 24 1 70 1 12 1-103 1-20 1-133 1 210 1-34 1 0 1-219 1 169 1-35 1 91 1 4 1-99 1 250 1-123 1-99 1 51 1 137 1-110 1-26 1 46 1-138 1 134 1-63 1 122 1-112 1-78 1 11 1 197 1-115 1 48 1-14 1 24 1-2 1-70 1-133 1 150 1-174 1 225 1 64 1-76 1-56 1 77 1 32 1-241 1 25 1 28 1 57 1 22 1 64 1-25 1-37 1 92 1-74 1-18 1 41 1-14 1 2 1-126 1 189 1 14 1-44 1-113 1 47 1 138 1-43 1-185 1 260 1-178 1-156 1 312 1-163 1 134 1-71 1 24 1 124 1-131 1-69 1 42 1-180 1 278 1-50 1 79 1-24 1-203 1-31 1 24 1 88 1-2 1-156 1 32 1 156 1-125 1 100 1-157 1 94 1 60 1 87 1-63 1-34 1 8 1 21 1 59 1-62 1-7 1-119 1 99 1-43 1 117 1 1 1 19 1-27 1-103 1-103 1 192 1-252 1 194 1-62 1 203 1-149 1-23 1-76 1 163 1-33 1 4 1 81 1-215 1 91 1-190 1 206 1-61 1 177 1-51 1-1 1-239 1 191 1 99 1-107 1 104 1-253 1 188 1 34 1-30 1-168 1 166 1-146 1 118 1-9 1-91 1 142 1-100 1 94 1 80 1-108 1 24 1 24 1-54 1 16 1-112 1 84 1 100 1-64 1-24 1-70 1 10 1 126 1-207 1 69 1 51 1 51 1 135 1-343 1 53 1 16 1 175 1 14 1-54 1-16 1 88 1-80 1-135 1 271 1-203 1-7 1 90 1-340 1 324 1-20 1-97 1 186 1-359 1 136 1 97 1-27 1 43 1-122 1-11 1 225 1-140 1-53 1 153 1-92 1 25 1 26 1 12 1-108 1 172 1-148 1-15 1 58 1 94 1 38 1-18 1-58 1-71 1 241 1-310 1 190 1-120 1 123 1-15 1-98 1 131 1-262 1 240 1 22 1-156 1-24 1 179 1-131 1 168 1-244 1 158 1 61 1-165 1 61 1-31 1 115 1-189 1 89 1 117 1-77 1 76 1 18 1-219 1-15 1-12 1 274 1-95 1-64 1 178 1-7 1-277 1 141 1 21 1 78 1-283 1 232 1 35 1-258 1 188 1 135 1-204 1 18 1 112 1-83 1-110 1-19 1 53 1 144 1-153 1 44 1 170 1-117 1 60 1-94 1 103 1-200 1 175 1-21 1 21 1-179 1 180 1 88 1-72 1-139 1 18 1-199 1 238 1-9 1 51 1-54 1 8 1-21 1 173 1-264 1 132 1 31 1 16 1-68 1-52 1-29 1 69 1-133 1 305 1-152 1-66 1 10 1 44 1 92 1-35 1-84 1 93 1-115 1 141 1-56 1 97 1-64 1-106 1 65 1 65 1-286 1 249 1-81 1-85 1 206 1-62 1 0 1-82 1 30 1 84 1 35 1 11 1-146 1-40 1 102 1 10 1-108 1 158 1-18 1-242 1 132 1 52 1 179 1-225 1 111 1-140 1 15 1 63 1-57 1-77 1 18 1 124 1-50 1 61 1-23 1 86 1-208 1 116 1-50 1 135 1 74 1-80 1-107 1-17 1-107 1 131 1 25 1-96 1 68 1-36 1-74 1 258 1-223 1 264 1-132 1 13 1-50 1-140 1 161 1-23 1-36 1 124 1 37 1-163 1 0 1 15 1 37 1 68 1-157 1 127 1-166 1 178 1-38 1 13 1-203 1 164 1-115 1 150 1-219 1 137 1-60 1 43 1 131 1-206 1 85 1-138 1 304 1-37 1-171 1 26 1 230 1-114 1 17 1-102 1-62 1 25 1 93 1-30 1 5 1 95 1-150 1 56 1 188 1-185 1-60 1-88 1 131 1-46 1 81 1-65 1-4 1 29 1 56 1 0 1-219 1 73 1-23 1 104 1-31 1 203 1-117 1-79 1 83 1-53 1 137 1-51 1-170 1 291 1-223 1 7 1-14 1-97 1 10 1 140 1-17 1 58 1 20 1 48 1-49 1-180 1 1 1 39 1 36 1 76 1-27 1 102 1-144 1 25 1-9 1 66 1-2 1 2 1-148 1 36 1 83 1-120 1 3 1-33 1 208 1-153 1 44 1 44 1 79 1-72 1 29 1-138 1-119 1 329 1-97 1-63 1 150 1-66 1-113 1 200 1-247 1 45 1 85 1-3 1 16 1 43 1-73 1-58 1-1 1 36 1 138 1-47 1-165 1 70 1-14 1-116 1 258 1-179 1-3 1 172 1 68 1-54 1-89 1 137 1-15 1-104 1 50 1-97 1 100 1-51 1-44 1 89 1-66 1-24 1-22 1 72 1 49 1-24 1-81 1 105 1-74 1 11 1-43 1-36 1-17 1 149 1-59 1-40 1 58 1-42 1 170 1-323 1 171 1-123 1 132 1-80 1 11 1-61 1 186 1-115 1 154 1-38 1 25 1-97 1-155 1 261 1-226 1 105 1 55 1 25 1-151 1 54 1-48 1 102 1 126 1-2 1-184 1 113 1-93 1 62 1 1 1 126 1-277 1 271 1-106 1-110 1 238 1-202 1-71 1-91 1 209 1-79 1 120 1-183 1 107 1 101 1-65 1-79 1 53 1-155 1 168 1 21 1-139 1 112 1 62 1-213 1 170 1-108 1 67 1 168 1-150 1-29 1 3 1 62 1-213 1 159 1 16 1-86 1 222 1-148 1-32 1-113 1 109 1 105 1-90 1-39 1 89 1 98 1-95 1-16 1-69 1 136 1 44 1-89 1 38 1-166 1-97 1 273 1-200 1 212 1 77 1-127 1-80 1 5 1 3 1 26 1 13 1-13 1 99 1-149 1-93 1 101 1 10 1-73 1 49 1-14 1 131 1-25 1 53 1-50 1 64 1-117 1 44 1-1 1-151 1 77 1 11 1 43 1-49 1 30 1-231 1 208 1 89 1 35 1-449 1 320 1-103 1 131 1 16 1 85 1-75 1-56 1 134 1-133 1 76 1 49 1-147 1 144 1-76 1-70 1-64 1-3 1 151 1-114 1 125 1-45 1-122 1 101 1 115 1-33 1 63 1-38 1-287 1 171 1 46 1 15 1-154 1 68 1 34 1 93 1-59 1-109 1 106 1 55 1-119 1 11 1 102 1-19 1-116 1-39 1 204 1-139 1 154 1-194 1 28 1 67 1 36 1 40 1 29 1-129 1 49 1-49 1-81 1 136 1-35 1 113 1-250 1 95 1 29 1-30 1 171 1-76 1-30 1-52 1 94 1-80 1 9 1 103 1-124 1 55 1-7 1-14 1 77 1-113 1-3 1 111 1-25 1 28 1-292 1 195 1 87 1 47 1-91 1-57 1 114 1-88 1 76 1 39 1-133 1 209 1-285 1 225 1-106 1-44 1-5 1 27 1 86 1-202 1 273 1-216 1 54 1-113 1 89 1-67 1 240 1-272 1 38 1 182 1-26 1-187 1 144 1-25 1-8 1-105 1 216 1-156 1 136 1-11 1 32 1 25 1-219 1-34 1 109 1-193 1 325 1 0 1-160 1-53 1 234 1-71 1-49 1 71 1-71 1 188 1-86 1-176 1 26 1-65 1 25 1 217 1-131 1-40 1 134 1-85 1 60 1 76 1-216 1 57 1-78 1-61 1 117 1-29 1-2 1 175 1-270 1 223 1-8 1 79 1-213 1 85 1-150 1 180 1 0 1 85 1-222 1 104 1-60 1 178 1-4 1-151 1 97 1-24 1 55 1-81 1 30 1-47 1 98 1-300 1 236 1-147 1 31 1 157 1-131 1 200 1 33 1-90 1-73 1-137 1 159 1-121 1 33 1 145 1-154 1-44 1 12 1 150 1-47 1 5 1 94 1 53 1-98 1-109 1 164 1-177 1 158 1-155 1 140 1-107 1 101 1-84 1 14 1 43 1 0 1-53 1-39 1 73 1-66 1 41 1-108 1 259 1-96 1-19 1 31 1 15 1-16 1-58 1 4 1 10 1-41 1 51 1 46 1-148 1-91 1 78 1 140 1-20 1-224 1 314 1-224 1 72 1 86 1 35 1-210 1 61 1 24 1 55 1 29 1-59 1 52 1-34 1 48 1-15 1-149 1 126 1 120 1-13 1-120 1 17 1 128 1-209 1-194 1 278 1 71 1-227 1 43 1 173 1-16 1-76 1 36 1-89 1 98 1-78 1-89 1 74 1-23 1 60 1-127 1 36 1 205 1-215 1 179 1-201 1 198 1-45 1 7 1-7 1 23 1 129 1-166 1-181 1 101 1 122 1-135 1-112 1 273 1 13 1-157 1 91 1-60 1 105 1-142 1 168 1-38 1-32 1-11 1 48 1-37 1 29 1-93 1 105 1-81 1-123 1 71 1 18 1 105 1 75 1-91 1 30 1-34 1-87 1 158 1-16 1-56 1-76 1 80 1 140 1-127 1-104 1 105 1-172 1 114 1-4 1 75 1-274 1 279 1-42 1-34 1 89 1-134 1 3 1 62 1 21 1-114 1-97 1 81 1 111 1 88 1-114 1 141 1-309 1 217 1-93 1 100 1 22 1-266 1 114 1 159 1-75 1-48 1 146 1-169 1 21 1 141 1-148 1 109 1-15 1-15 1-43 1-106 1-17 1 153 1 26 1-30 1 28 1-246 1 99 1 290 1-140 1-14 1-134 1 126 1-119 1-37 1 63 1 74 1 23 1-138 1 160 1 0 1-107 1 73 1-69 1 40 1 86 1-60 1 64 1-240 1 248 1-118 1 132 1-188 1 49 1 145 1-162 1-176 1 164 1 169 1-230 1 237 1-42 1 46 1-12 1 49 1-73 1-84 1-225 1 218 1-1 1-14 1-33 1 258 1-160 1-148 1 319 1-175 1-48 1-78 1 184 1 53 1-174 1 49 1 49 1-155 1 228 1-162 1-77 1-113 1 200 1-41 1 10 1-98 1 260 1-100 1 75 1-30 1-64 1-46 1 7 1 175 1 0 1-113 1-35 1 112 1-93 1 37 1-17 1-53 1 110 1-110 1 85 1 50 1-10 1-79 1 8 1 26 1-97 1 75 1 149 1-87 1-98 1-12 1 118 1-154 1-63 1 94 1 127 1-48 1 6 1-34 1-101 1 31 1-96 1 156 1-36 1-1 1-51 1 80 1 51 1 14 1-250 1 283 1 29 1-272 1 90 1 1 1-42 1 147 1 30 1-120 1 60 1-43 1-26 1 61 1-80 1 192 1-145 1-52 1 53 1 31 1-54 1 71 1-29 1 23 1-217 1 304 1-78 1 8 1-74 1 157 1-75 1 96 1-134 1 116 1-75 1-180 1 243 1-122 1-148 1 65 1 205 1-195 1 41 1 1 1 161 1-254 1 152 1 93 1-83 1-34 1-110 1 92 1 62 1-52 1-53 1 69 1-16 1 71 1 31 1-75 1-83 1 52 1-45 1-66 1 107 1-57 1 41 1 87 1-198 1 31 1 207 1-92 1-35 1 136 1-50 1-78 1 27 1 100 1-72 1-40 1-23 1 6 1 34 1 6 1-161 1 176 1 11 1 13 1-17 1 15 1-109 1 59 1 127 1-109 1 40 1-60 1 26 1-31 1 82 1-104 1-107 1-89 1 220 1 10 1 44 1-68 1 135 1-18 1-274 1 161 1-2 1 24 1-9 1-169 1 271 1-43 1-37 1-179 1 30 1 134 1 11 1 12 1 8 1-42 1 112 1-54 1 32 1-130 1 109 1-74 1-81 1 121 1 97 1-59 1 113 1-388 1 149 1-17 1 212 1-68 1 13 1 54 1-233 1-71 1 152 1-96 1 42 1 179 1-85 1 72 1-52 1-132 1 133 1-98 1 82 1-155 1 58 1-12 1 50 1 47 1-84 1 168 1 128 1-273 1 75 1 22 1 30 1-138 1 72 1 86 1-277 1 79 1 283 1-77 1-112 1-19 1 103 1-271 1 85 1 89 1-11 1 43 1 30 1-161 1 227 1-184 1 28 1 8 1 4 1 105 1-32 1 46 1-67 1 64 1-33 1 19 1 87 1-54 1-27 1-96 1 71 1-60 1 66 1-35 1-17 1 79 1 30 1-68 1-5 1-84 1 21 1 155 1-55 1-111 1 86 1 10 1-86 1 70 1-49 1 121 1-99 1 126 1-96 1-28 1 14 1 21 1 1 1 63 1-120 1 15 1 153 1-161 1 132 1-116 1-122 1 263 1-368 1 145 1 76 1-141 1 166 1-138 1 172 1 38 1-13 1-58 1 53 1 23 1-109 1 40 1-158 1 133 1-112 1 34 1 98 1 49 1-73 1-15 1-70 1-144 1 207 1 61 1-19 1-170 1 149 1 57 1-31 1-45 1 13 1-31 1-63 1 203 1-175 1 45 1 64 1-153 1-55 1 103 1 167 1-185 1 38 1 15 1 61 1-64 1 42 1-200 1 13 1 307 1-221 1 107 1-22 1 40 1-13 1-147 1 199 1-104 1-192 1 356 1-83 1-39 1-79 1-62 1 44 1 93 1-19 1-60 1 62 1-19 1 116 1-80 1-226 1 92 1 69 1-92 1 137 1 126 1-148 1 6 1 166 1-172 1-18 1-211 1 220 1-120 1-26 1 57 1 127 1-100 1 28 1 159 1-112 1 141 1 2 1-104 1 19 1-15 1-31 1-37 1 138 1-61 1-133 1-12 1-36 1-48 1 289 1-65 1-7 1 42 1-43 1-21 1 154 1-128 1 61 1 38 1 18 1-303 1 221 1-54 1-50 1 112 1-74 1 30 1 36 1-24 1 0 1-83 1 50 1 7 1-136 1 1 1 105 1 85 1-184 1 83 1 23 1 101 1-92 1 64 1-137 1 130 1-104 1-96 1 227 1 77 1-215 1 106 1 24 1 48 1-27 1-3 1-70 1 110 1-18 1-136 1 15 1 70 1-169 1 65 1 84 1 34 1-44 1 27 1 56 1-248 1 43 1 15 1 47 1 30 1 44 1-34 1 32 1-3 1-76 1 53 1 39 1 38 1-90 1 157 1-170 1-67 1-155 1 286 1-46 1 25 1-29 1 108 1-108 1-35 1 17 1 89 1-120 1 78 1-17 1 2 1-168 1 140 1-7 1-55 1 113 1-66 1 95 1 3 1-71 1 18 1 60 1-77 1-3 1 133 1-168 1 6 1-81 1 232 1-143 1-31 1 165 1-57 1-9 1 50 1-195 1-12 1 63 1 202 1-83 1-156 1 54 1 240 1-341 1 97 1 90 1-22 1 37 1-64 1-37 1-46 1 40 1-65 1 165 1-274 1 154 1 60 1 9 1-91 1 163 1-127 1 162 1-251 1 24 1 179 1-185 1 130 1 58 1-197 1 190 1-164 1-21 1 179 1 45 1-64 1 85 1-89 1-45 1 18 1 10 1 50 1-49 1-88 1 13 1 19 1 156 1-178 1 182 1-185 1 58 1 52 1 39 1-154 1 146 1-43 1-74 1 78 1-98 1 84 1-81 1 9 1 42 1 2 1-154 1 207 1 49 1-192 1 140 1 45 1-110 1-75 1-6 1 49 1-11 1 123 1-108 1 15 1 25 1-58 1 199 1-52 1 56 1-287 1 90 1 52 1-47 1 92 1-18 1 74 1-81 1 40 1-115 1 110 1-51 1 31 1-33 1 50 1 70 1-193 1 40 1-59 1 34 1-40 1 16 1 74 1-133 1 139 1 113 1-18 1-117 1-39 1 110 1 37 1-65 1-81 1 96 1 37 1-119 1-3 1-48 1 175 1-182 1 3 1 11 1 101 1-32 1 119 1-171 1-58 1 157 1 87 1-243 1 111 1-39 1 4 1 122 1-79 1 63 1-12 1-162 1 209 1-160 1 83 1-1 1-66 1 103 1 12 1 14 1-98 1-9 1 91 1-37 1-109 1 172 1-72 1 69 1-22 1-7 1-49 1-13 1 60 1-133 1 98 1 34 1-45 1 118 1-41 1-93 1-121 1-70 1 159 1 68 1-42 1-13 1-17 1-107 1 290 1-87 1-47 1 95 1-132 1 116 1-128 1 114 1 127 1-237 1 69 1-5 1 35 1-123 1 38 1 1 1-46 1 244 1-263 1 256 1-188 1-16 1-45 1-22 1 102 1 86 1-191 1 24 1 21 1 160 1-192 1 88 1-18 1 45 1 12 1-76 1 29 1 74 1-57 1-29 1-5 1 53 1 62 1-111 1 87 1-43 1-48 1 17 1 16 1 36 1-153 1 114 1-66 1 119 1-88 1 78 1-88 1 101 1-77 1 37 1-181 1 8 1 124 1-53 1 131 1 137 1-140 1-1 1-59 1 33 1-26 1 39 1-182 1 52 1 33 1 89 1 84 1-78 1-12 1-45 1-6 1-126 1 118 1 50 1 44 1-6 1 0 1 0 1-47 1 115 1-195 1 222 1-241 1 157 1-17 1-64 1-114 1 281 1-23 1-84 1-89 1 42 1 111 1-197 1-2 1 106 1 133 1-118 1-75 1-56 1-7 1 197 1-34 1 30 1-142 1 38 1-15 1 8 1 16 1 133 1-96 1 46 1-69 1-27 1 65 1 104 1-162 1-121 1 187 1 34 1-100 1-5 1-41 1-127 1 178 1-19 1-55 1 74 1-95 1 177 1 63 1-86 1 46 1-119 1-179 1 60 1 115 1 49 1-234 1 280 1-35 1-87 1 94 1-51 1 63 1-106 1-81 1 176 1 48 1-36 1-82 1-115 1 189 1 67 1-52 1-134 1 51 1 12 1 170 1-146 1 118 1-279 1 56 1 10 1-22 1 112 1 23 1-45 1 12 1 106 1 44 1-112 1-58 1-85 1 45 1-101 1 133 1 120 1-165 1 95 1-146 1 101 1 34 1 122 1-325 1 72 1 201 1-15 1-10 1-188 1 327 1-72 1-71 1 88 1-119 1-12 1 31 1-33 1 8 1 24 1-104 1 168 1 48 1-229 1-6 1-95 1 238 1 30 1-117 1 14 1-92 1 53 1 95 1 196 1-193 1-164 1 158 1-16 1 48 1-94 1-30 1 121 1-75 1 169 1-205 1 41 1 19 1 2 1-117 1 186 1-91 1-69 1-94 1 164 1 107 1-125 1-56 1-59 1 113 1-40 1 126 1-134 1-96 1 184 1-73 1 86 1 86 1-61 1 71 1-120 1 6 1-106 1-35 1 126 1-21 1 129 1-241 1 232 1-33 1-25 1-45 1-75 1 138 1-162 1 109 1 31 1 34 1-132 1 43 1 27 1 30 1-44 1-167 1 140 1-24 1 25 1 56 1-8 1-60 1 88 1-3 1-29 1-27 1 154 1-133 1-122 1 83 1 61 1 112 1-56 1-41 1-32 1 25 1-58 1-51 1-37 1 67 1 92 1 16 1-30 1-102 1 74 1-202 1 273 1 48 1-87 1-52 1 83 1-96 1 13 1 135 1-148 1 103 1-131 1-88 1 102 1 190 1 1 1-204 1 56 1 51 1 61 1-249 1 240 1-78 1-41 1 112 1-177 1 58 1-5 1 9 1 68 1 75 1-176 1 13 1 36 1-140 1 94 1 85 1 88 1-79 1-18 1-135 1 23 1 23 1 63 1 96 1-158 1 2 1 138 1-60 1-53 1 72 1 7 1-47 1-26 1 86 1-43 1 100 1 19 1-277 1 179 1 17 1-42 1-39 1-119 1 100 1-43 1 83 1 35 1 3 1-40 1-16 1 13 1 74 1-75 1 74 1-135 1 118 1-48 1 58 1 46 1-165 1-65 1 69 1 91 1-77 1-35 1 210 1-210 1 190 1-24 1-15 1-56 1 41 1-52 1-147 1 252 1-119 1 107 1-245 1 200 1-130 1 111 1 31 1-189 1 197 1 7 1-99 1 27 1-32 1 154 1-204 1 117 1-51 1 137 1-41 1-104 1 164 1-77 1-78 1 145 1-44 1 20 1-64 1-143 1 233 1-158 1 86 1 50 1-23 1-56 1 35 1 51 1-8 1-205 1-33 1 95 1 87 1-66 1-74 1 51 1-84 1 162 1 8 1-16 1-44 1-134 1 108 1 147 1-224 1 106 1-29 1-41 1 17 1 264 1-237 1 76 1-20 1-57 1-43 1 201 1-134 1 53 1-123 1 267 1-165 1-51 1 152 1-95 1-40 1 175 1-373 1 246 1-97 1 131 1-17 1-68 1 209 1-98 1-83 1-74 1-98 1 153 1 37 1 28 1-51 1 39 1-166 1 199 1-153 1 51 1 36 1-54 1 169 1-260 1 175 1-95 1 25 1-35 1 56 1 41 1 97 1 16 1-158 1 22 1-122 1 278 1-172 1 93 1-51 1-94 1-54 1 140 1 18 1-75 1 124 1-95 1-41 1 76 1-50 1 68 1-91 1 50 1-47 1-64 1 179 1-109 1-32 1-9 1 4 1 114 1-194 1 140 1 31 1-88 1 164 1-148 1 46 1 140 1-117 1-98 1-96 1 91 1 108 1-103 1 84 1-106 1 117 1 11 1-26 1-129 1 243 1-39 1-100 1 92 1-55 1 124 1-231 1 93 1-30 1 138 1-172 1 23 1 62 1-81 1 128 1 120 1-151 1-226 1 264 1-44 1 23 1-62 1-15 1 48 1-31 1 27 1-32 1-67 1 109 1-97 1 118 1-186 1 195 1-38 1-68 1 0 1-100 1 266 1-130 1-22 1 8 1 88 1 116 1-10 1-375 1 0 1 329 1-138 1 46 1-83 1 6 1 61 1-85 1 178 1-54 1-122 1-85 1 311 1-163 1 39 1-44 1-111 1 149 1 76 1-101 1 113 1-214 1 189 1-45 1-10 1-74 1-11 1-14 1 64 1 45 1-39 1-85 1 93 1 4 1-35 1-39 1 117 1-61 1-81 1 263 1-263 1 15 1 127 1-11 1-65 1 57 1-165 1 64 1 212 1-288 1 162 1-76 1 192 1-210 1 100 1-27 1-26 1 34 1 105 1-46 1-249 1 306 1-38 1 27 1-125 1 41 1-5 1 106 1-347 1 146 1 99 1-63 1 48 1 35 1-188 1 77 1 117 1-67 1 23 1-1 1 81 1-112 1 91 1-203 1 2 1 55 1 91 1 46 1 37 1-154 1 63 1-3 1 64 1-163 1 242 1-168 1 94 1-84 1 158 1-257 1 280 1-147 1-30 1-67 1 28 1 18 1 27 1-154 1 297 1-268 1 125 1-83 1 134 1-280 1 349 1-210 1 172 1-143 1-20 1 83 1-11 1 47 1 20 1-15 1-41 1-18 1 80 1-170 1 113 1-33 1 13 1 17 1 39 1-71 1 16 1 48 1-121 1 91 1 34 1-70 1 96 1-23 1-28 1 7 1 55 1-233 1 235 1-52 1-136 1 14 1-40 1 61 1 174 1-30 1-164 1 53 1 54 1 124 1-158 1 32 1-20 1 11 1 2 1-58 1 56 1-5 1 72 1-125 1 152 1-177 1-29 1 89 1 62 1-112 1 107 1-44 1-46 1 87 1-145 1 107 1 7 1 183 1-252 1 190 1-131 1 43 1-9 1 133 1-142 1-50 1 74 1-11 1-168 1 281 1-232 1 160 1-43 1-122 1 92 1 32 1-286 1 109 1 98 1 5 1 112 1-58 1-67 1 30 1 23 1-30 1 82 1-65 1-163 1 328 1-72 1-47 1-94 1 99 1-47 1 35 1-176 1 189 1 16 1-74 1 65 1-30 1 134 1-83 1-66 1 92 1-94 1 43 1-97 1 48 1-20 1-62 1 84 1-6 1 35 1 44 1 9 1-105 1 117 1-93 1-95 1 155 1 24 1-86 1-31 1 181 1 16 1-148 1 71 1-73 1-87 1-95 1 213 1-18 1 5 1-207 1 42 1 251 1-23 1 37 1-82 1 119 1-226 1-9 1 29 1 105 1-34 1-107 1 80 1 71 1-63 1 90 1-84 1-241 1 393 1-188 1 17 1-57 1 39 1 69 1-27 1-21 1 122 1-70 1 132 1-135 1 19 1 18 1-80 1-58 1 100 1-217 1 287 1-112 1-179 1 210 1-36 1-131 1 144 1 96 1-96 1-65 1 94 1 28 1-3 1-85 1 71 1-195 1 209 1-76 1-88 1 75 1 178 1-167 1 59 1-18 1 55 1-65 1-19 1 101 1 36 1-172 1-11 1-41 1 94 1 49 1 38 1-174 1 22 1-112 1 228 1-20 1-160 1 228 1 33 1-87 1-122 1-37 1 157 1-30 1 105 1-299 1-11 1 172 1 65 1-113 1-2 1 118 1 52 1-24 1-302 1 320 1-47 1-67 1 50 1 4 1-70 1 17 1-109 1 167 1-65 1-40 1 49 1 43 1-24 1 163 1-210 1 3 1 33 1-137 1 306 1-176 1 82 1-106 1 185 1-99 1-140 1 74 1 16 1-49 1-15 1 35 1 113 1 18 1-205 1-67 1-64 1 153 1 88 1-87 1 94 1-158 1 51 1 298 1-253 1 31 1 155 1-32 1-68 1-57 1 48 1-83 1 213 1-135 1-29 1-50 1 81 1 96 1-220 1 154 1-95 1 106 1-44 1 90 1-20 1-7 1-123 1-87 1-8 1 121 1 21 1 2 1-26 1 25 1-26 1 69 1-103 1-75 1 126 1-177" stroke-dasharray="19.20 4.80 3.00 4.80"/>
<path vector-effect="non-scaling-stroke" d="M0 2349l1 -109 1 176 1-27 1 14 1-23 1 81 1-97 1 37 1-42 1-53 1 82 1-106 1 194 1-149 1 168 1-140 1 42 1 32 1 89 1-187 1-56 1 187 1-68 1 54 1-18 1-182 1 88 1 63 1 36 1-11 1-163 1 60 1-3 1 28 1-52 1 275 1-197 1 111 1-109 1-61 1 143 1 38 1-2 1-323 1 330 1-156 1-109 1 219 1-93 1 238 1-138 1-48 1 45 1-82 1-146 1 161 1 40 1-21 1-73 1 83 1-77 1 27 1 206 1-147 1 94 1-25 1 18 1-37 1-88 1 63 1-159 1 164 1 31 1 31 1-52 1-40 1-153 1 147 1-39 1 114 1-162 1-16 1 31 1-22 1 43 1-48 1 145 1 76 1-70 1-100 1-163 1 124 1-54 1 193 1-29 1 77 1-138 1-31 1 14 1 115 1-60 1-80 1 72 1-80 1 88 1-9 1-77 1 83 1-86 1 60 1-11 1-41 1 72 1 61 1 93 1-116 1 23 1-89 1-63 1 82 1-163 1 170 1-90 1 61 1-5 1 25 1 158 1-104 1-113 1 201 1-175 1 33 1-67 1 66 1 156 1-277 1 140 1-43 1 66 1-40 1-99 1-49 1 94 1-60 1 177 1-41 1-142 1 55 1 46 1 77 1 30 1-47 1-212 1 126 1-114 1 126 1 49 1 5 1-141 1-172 1 304 1-172 1 344 1-229 1 36 1-230 1 303 1-103 1 12 1 7 1 152 1-249 1 61 1-13 1-67 1 10 1 203 1-78 1-109 1 126 1-143 1 175 1-237 1 103 1 21 1 83 1-14 1-1 1-24 1 3 1 8 1 31 1 208 1-239 1-40 1 101 1-67 1 94 1-135 1-131 1 234 1-232 1 68 1 146 1-39 1-27 1-74 1 182 1-96 1-97 1 147 1-25 1 47 1 64 1-26 1-53 1-161 1-36 1 187 1-8 1-43 1 18 1 32 1-70 1 69 1-110 1 163 1-53 1-201 1 165 1 79 1-63 1-48 1-16 1 29 1-111 1 196 1-125 1 102 1-20 1-131 1 103 1 144 1-108 1-123 1 161 1-28 1 1 1-88 1 66 1 82 1-92 1 113 1-220 1 160 1-161 1-60 1 169 1 139 1-189 1-51 1 122 1 6 1-38 1 15 1-19 1 31 1-9 1 25 1-120 1 67 1 89 1 135 1-141 1-145 1 134 1-26 1 0 1-159 1 200 1 43 1-13 1 26 1-201 1 188 1-155 1 48 1 18 1-72 1 163 1-129 1 56 1-24 1 79 1-58 1 42 1-56 1-72 1 16 1 76 1 10 1-120 1-44 1 44 1 168 1-57 1-42 1-42 1-86 1 195 1-71 1-89 1 135 1-121 1 152 1-104 1 65 1 80 1-37 1-115 1 141 1 101 1-191 1-12 1 79 1-311 1 159 1 59 1 120 1-44 1 30 1-21 1-87 1 34 1-51 1 102 1-211 1 207 1 1 1-22 1-16 1-196 1 175 1 71 1-137 1 176 1-294 1 207 1 8 1 51 1-56 1-81 1-19 1 100 1 141 1-227 1 2 1 19 1 98 1-204 1 140 1 7 1-42 1-66 1-23 1 183 1 12 1-2 1-20 1-179 1 106 1-49 1 203 1-335 1 307 1-166 1-55 1 210 1 62 1-176 1 134 1-88 1-5 1-120 1 35 1 64 1-73 1 38 1-12 1-9 1 121 1 32 1-160 1 72 1 68 1-11 1-163 1 226 1-131 1 57 1 58 1-122 1 25 1 34 1 40 1-104 1 5 1-36 1 107 1-103 1-29 1 81 1 62 1 77 1-273 1 61 1-8 1 61 1 9 1-73 1 33 1-56 1 195 1-91 1 64 1-162 1 61 1 49 1-61 1 91 1-70 1 58 1 87 1-98 1-221 1 258 1 65 1-210 1 91 1 38 1-40 1 51 1-155 1 57 1 104 1-291 1 263 1 102 1-255 1 120 1-30 1 94 1-16 1-103 1-139 1 139 1-16 1 156 1-201 1 101 1 29 1-33 1 58 1 44 1 100 1-209 1-32 1 126 1-169 1 155 1-2 1 66 1-153 1-52 1 58 1 90 1-1 1-3 1-219 1-43 1 162 1 62 1-63 1-35 1-75 1 242 1-94 1 8 1 135 1-126 1 101 1-187 1 60 1-30 1 25 1 56 1 94 1-1 1-182 1-34 1 75 1-40 1-20 1-2 1-1 1 5 1 85 1 17 1-91 1-7 1 168 1-341 1 351 1-114 1 75 1-228 1 194 1-70 1 33 1-32 1 2 1-47 1 127 1-129 1 108 1-33 1 29 1-113 1 109 1 28 1-73 1-29 1-10 1 53 1 11 1 105 1-227 1 110 1 70 1-137 1 99 1-30 1-68 1 85 1 55 1-66 1 10 1 111 1-135 1-53 1 123 1-78 1-16 1-9 1 44 1-52 1 31 1-57 1 28 1 185 1-241 1-11 1 265 1-11 1-89 1-73 1 39 1-92 1 25 1-55 1-53 1 204 1-116 1 137 1-70 1 99 1-199 1 103 1 20 1-123 1 113 1 47 1 118 1-92 1-243 1 253 1-196 1 159 1-181 1 104 1 67 1-6 1-65 1 62 1-142 1 4 1 312 1-235 1-12 1-49 1 106 1-82 1 118 1-2 1 0 1 9 1-145 1-23 1-57 1 148 1 59 1 66 1-231 1 69 1 31 1-188 1 181 1 7 1 33 1 63 1-236 1 123 1-21 1-28 1 224 1-97 1 9 1-196 1 183 1 60 1-55 1-45 1 40 1-134 1-43 1 139 1 113 1-190 1 231 1-25 1-144 1-86 1 9 1 118 1-94 1 177 1-17 1-138 1 109 1 23 1-74 1-169 1 88 1-79 1 157 1 6 1-104 1 233 1-181 1 238 1-170 1-57 1 23 1-64 1 41 1 141 1-18 1-169 1 190 1-80 1-13 1-40 1-52 1 214 1-125 1-198 1 36 1 109 1-70 1-1 1 198 1-129 1 132 1-187 1-132 1 197 1 68 1-170 1 231 1-76 1 78 1-205 1 85 1-50 1-60 1 220 1-76 1 16 1-246 1 219 1 91 1-51 1-46 1 47 1-56 1 126 1-206 1 52 1-19 1-95 1 82 1 125 1-63 1-50 1 121 1-109 1 8 1 12 1 75 1 24 1-145 1 170 1-137 1-48 1 167 1-121 1 43 1 233 1-155 1-30 1-23 1-95 1 148 1-12 1 27 1-292 1 259 1 2 1-88 1 66 1-14 1-48 1 20 1-194 1 102 1 94 1-57 1 104 1-15 1-175 1 230 1-56 1 10 1-111 1 78 1 55 1 43 1-54 1-140 1 6 1 72 1 40 1 29 1-126 1 228 1-235 1-89 1 171 1-201 1 283 1 11 1-213 1 62 1 21 1-130 1 53 1 8 1-20 1 111 1-49 1 206 1-73 1-190 1 32 1 157 1-128 1 48 1 91 1-9 1-56 1 130 1-217 1-32 1 75 1 34 1 9 1 96 1-54 1-33 1-126 1 142 1-171 1 124 1 62 1-96 1 88 1-99 1 51 1-143 1 16 1 69 1-80 1 134 1 116 1-77 1-84 1-9 1 84 1-143 1 7 1 108 1 32 1 115 1-235 1 113 1 18 1 25 1-120 1 90 1-52 1-96 1-53 1 110 1 262 1-168 1-7 1-91 1 136 1-300 1 244 1 11 1-19 1 72 1 4 1-78 1-118 1 126 1-46 1 85 1-162 1 31 1 119 1-46 1-60 1 83 1-38 1-39 1 167 1-126 1-31 1 103 1-190 1 140 1 0 1-12 1-88 1 63 1 2 1-21 1 182 1-8 1-48 1-55 1-107 1 31 1 58 1-194 1 196 1-100 1 128 1 2 1-90 1 229 1-260 1-11 1 20 1 103 1-149 1 122 1-77 1-61 1 188 1-28 1 18 1 26 1-245 1 132 1 129 1-29 1 54 1-101 1 45 1-36 1-19 1-48 1-123 1 148 1 42 1-112 1 75 1 53 1-32 1-53 1 127 1 2 1-188 1 116 1 10 1 72 1-248 1 157 1 15 1 44 1-186 1 207 1-195 1 86 1 91 1-107 1 36 1 14 1 56 1-38 1 39 1 48 1-216 1 219 1-128 1-86 1 115 1-5 1 13 1 87 1-195 1 175 1-110 1 28 1-98 1 94 1-71 1 94 1 8 1-114 1 41 1 59 1 15 1-109 1 2 1-27 1-33 1-32 1 95 1 195 1-67 1 79 1-244 1-14 1-22 1 66 1 116 1-82 1 197 1-106 1-169 1 91 1 67 1 44 1-110 1-58 1-20 1 85 1 31 1 26 1 85 1-108 1 79 1-152 1 94 1 31 1-179 1 130 1-47 1 104 1-45 1-60 1 104 1-138 1-22 1 2 1 147 1-170 1 191 1-201 1 127 1-71 1 35 1 72 1 74 1 0 1-267 1 39 1 248 1-186 1 65 1-105 1 219 1-92 1 75 1 18 1-222 1 134 1-144 1 85 1 123 1-122 1-10 1-173 1 176 1-150 1-43 1 160 1-29 1 90 1 12 1 0 1-173 1 111 1 151 1 89 1-130 1-43 1-13 1 81 1-27 1 35 1-194 1 103 1-31 1 15 1 56 1-118 1 75 1 13 1-33 1 36 1-106 1 143 1-131 1-108 1 221 1 42 1-50 1 15 1-164 1 90 1-91 1 66 1 98 1-62 1-101 1 80 1 82 1 26 1-52 1 39 1-229 1 288 1-181 1 113 1-69 1 68 1-112 1 92 1-17 1-124 1 168 1-58 1-75 1 198 1-121 1 36 1-213 1 73 1 120 1-81 1 201 1-21 1-140 1 92 1-72 1 107 1-156 1 86 1-40 1-153 1 219 1 65 1-96 1-232 1 231 1 42 1-35 1-1 1 22 1-33 1-114 1 80 1 6 1 27 1-45 1 114 1-159 1-116 1 100 1 101 1-100 1 97 1 41 1-49 1-12 1-85 1 33 1-27 1 83 1 130 1-53 1-110 1 91 1-99 1 139 1-167 1 166 1-132 1-34 1 76 1-116 1 25 1 99 1-105 1 83 1 7 1-57 1 56 1 177 1-88 1-356 1 114 1 25 1 187 1 96 1-170 1-105 1 123 1 135 1-186 1 47 1 51 1-105 1 155 1-176 1 104 1 57 1-225 1 140 1 120 1-182 1 58 1-82 1 214 1 5 1-93 1-10 1-100 1 34 1-82 1 97 1 14 1-52 1-38 1 24 1 151 1-123 1 31 1-5 1 116 1-268 1 103 1 134 1-44 1-51 1 32 1 48 1-80 1 101 1 14 1-75 1-135 1 53 1 162 1-224 1 95 1 46 1 98 1 50 1-113 1 103 1-106 1-138 1 183 1-198 1 29 1 11 1 106 1-86 1-54 1 91 1 61 1-197 1 161 1-105 1 16 1 111 1-19 1-169 1 209 1-241 1 237 1-14 1 5 1 27 1-67 1 75 1-231 1 195 1-18 1-184 1 249 1-202 1 67 1 155 1-124 1 89 1-27 1 23 1-33 1-61 1 202 1-142 1-38 1-7 1 59 1 72 1-110 1-11 1-45 1-105 1 121 1-95 1 143 1-109 1 111 1-42 1 46 1 4 1-94 1 35 1 70 1-46 1-93 1-7 1 157 1-47 1-15 1 9 1-62 1 54 1-115 1 96 1 88 1-36 1-154 1 248 1-128 1-159 1 92 1 233 1-106 1-202 1 322 1-207 1-89 1 212 1 17 1-95 1-79 1 59 1 3 1-37 1-25 1 126 1-24 1 17 1-79 1-58 1-66 1 196 1-39 1 144 1-44 1-102 1-117 1 30 1 187 1-64 1-203 1 114 1 13 1-16 1 66 1-62 1 16 1 101 1 64 1-129 1-118 1 193 1-75 1-32 1-69 1 83 1 109 1-142 1 101 1-52 1-117 1 66 1 57 1-143 1 120 1 113 1-26 1-139 1 23 1 204 1 30 1-193 1 10 1 166 1-185 1 8 1 144 1-92 1-147 1 135 1 53 1-60 1-194 1 305 1-139 1-57 1-20 1-54 1 270 1-263 1 3 1 99 1 64 1 62 1-22 1-30 1 16 1-110 1 166 1-100 1-126 1 143 1 37 1-296 1 106 1 233 1-161 1 0 1 51 1 5 1-129 1 112 1 1 1 74 1-201 1 102 1 20 1-16 1 59 1 32 1-3 1-282 1 189 1-27 1 0 1 105 1-20 1-56 1 35 1-6 1-133 1 64 1-23 1 73 1 125 1-26 1-280 1 369 1-253 1-73 1-6 1 409 1-159 1-123 1 146 1-134 1-54 1-36 1 192 1 1 1-59 1 64 1-199 1 34 1 54 1 23 1 101 1-196 1-108 1 229 1 24 1-84 1 79 1-19 1-67 1 67 1-81 1 98 1-92 1 152 1-271 1 9 1 178 1-45 1 141 1-85 1-207 1 217 1 114 1-131 1-77 1 110 1-40 1-35 1 21 1 80 1-162 1 4 1 74 1-35 1-195 1 192 1 75 1-113 1 204 1-192 1 162 1-24 1 10 1-105 1-39 1 80 1-95 1-4 1 93 1-154 1 3 1 99 1-66 1 22 1 204 1-149 1 169 1-188 1-6 1 75 1-126 1 199 1-214 1 58 1 96 1-56 1 107 1-125 1 51 1-190 1 269 1-206 1 101 1 124 1-53 1 11 1-147 1 175 1-81 1-60 1-63 1 256 1-92 1 65 1-40 1-121 1 92 1 32 1-62 1 37 1-92 1-165 1 183 1 14 1-50 1 104 1-89 1 82 1-120 1 7 1 149 1-161 1 58 1-15 1 77 1-31 1-53 1 73 1 6 1-93 1 121 1-61 1-41 1 128 1-91 1-69 1-13 1 181 1-26 1 31 1-70 1 66 1-164 1 98 1 3 1-168 1 275 1-179 1-46 1-24 1 56 1 94 1-191 1 177 1-151 1 97 1-78 1 165 1-8 1 153 1-238 1-94 1 168 1-150 1 24 1 42 1 63 1 34 1-90 1 6 1 97 1-95 1 67 1 39 1-41 1-24 1 44 1-129 1 94 1 84 1 72 1-76 1-91 1 114 1-17 1-140 1-80 1 80 1 147 1 39 1-55 1-311 1 294 1-64 1-123 1 141 1 24 1-23 1-49 1-16 1 87 1-62 1-175 1 162 1 83 1-123 1 174 1-97 1-28 1-107 1 36 1 105 1-43 1-85 1-2 1 89 1 44 1-72 1 187 1-3 1 8 1-177 1-44 1 113 1-102 1 79 1-196 1 255 1-59 1 9 1-90 1 109 1-39 1-30 1 41 1-89 1 186 1-88 1 137 1-338 1 180 1 22 1 9 1-4 1 89 1-308 1 17 1 300 1-131 1 62 1-37 1 7 1-43 1-8 1-9 1-93 1 168 1 94 1-209 1 55 1-49 1 126 1-25 1-133 1 164 1-74 1-91 1 128 1 33 1-260 1 219 1-48 1 39 1 35 1-113 1 67 1 63 1-157 1 188 1-41 1-37 1-188 1 78 1 14 1-1 1 33 1 70 1 17 1 96 1-39 1-82 1 3 1-97 1 118 1 85 1-281 1 181 1 128 1-332 1 258 1-160 1 217 1-100 1-3 1-22 1 145 1-246 1 72 1 56 1-5 1 60 1-11 1-68 1-49 1 59 1 15 1-148 1 268 1 46 1-208 1 14 1 78 1-112 1-25 1-34 1 104 1-112 1 46 1 61 1-16 1 127 1-265 1 84 1 129 1-194 1 263 1-265 1 91 1 62 1 59 1-156 1-23 1 128 1-74 1-128 1 278 1-203 1 171 1-157 1-31 1 119 1-101 1-146 1 357 1-308 1 175 1 47 1-16 1-89 1-118 1 140 1-12 1 95 1 51 1-184 1 112 1 180 1-224 1 65 1 27 1 3 1-176 1 180 1-130 1 101 1 54 1-235 1 69 1-78 1 139 1-66 1-131 1 240 1-129 1 73 1-44 1 143 1-52 1 121 1-176 1-9 1 90 1-202 1 96 1 26 1 114 1-87 1-100 1 166 1 0 1-50 1-7 1-65 1 37 1 111 1-162 1 57 1-37 1 146 1-63 1-29 1-40 1 25 1 121 1-238 1 158 1-16 1-143 1 163 1-22 1-70 1 16 1 150 1-103 1-138 1 167 1 30 1-202 1 51 1 37 1-67 1 186 1-58 1 39 1-119 1-51 1 127 1-52 1-65 1 131 1 20 1 184 1-148 1-107 1 75 1 23 1-229 1 118 1-57 1-18 1 73 1-64 1 189 1-199 1 134 1 69 1 91 1-314 1 247 1-217 1 175 1-102 1-92 1 108 1 94 1-71 1 1 1 77 1-66 1 63 1-67 1-78 1-53 1 181 1-60 1-96 1-38 1 62 1-85 1 65 1 184 1-46 1-259 1 227 1-43 1 96 1-40 1-49 1 67 1-293 1 272 1-192 1 239 1 3 1 53 1-101 1-34 1 112 1-20 1-302 1 176 1 24 1 25 1-89 1 161 1-22 1 6 1 37 1-55 1-176 1 127 1-90 1 170 1-199 1 72 1 19 1 94 1 86 1-178 1 76 1 9 1-49 1 52 1-245 1 177 1 31 1-66 1-50 1 163 1-60 1 0 1-106 1 100 1 60 1-116 1 29 1 2 1 17 1 112 1-91 1 17 1 13 1-42 1 63 1-40 1-6 1-109 1 28 1 53 1-66 1-17 1 26 1 25 1 39 1 95 1-99 1-139 1 77 1 56 1 65 1-33 1 42 1-110 1 46 1-215 1 285 1-10 1-188 1 98 1-71 1 94 1-15 1 58 1 172 1-218 1 214 1-307 1 42 1-28 1-86 1-61 1 207 1 18 1-4 1-97 1 275 1-132 1-24 1 18 1-144 1 71 1-13 1-32 1 82 1 23 1-109 1 172 1-80 1 128 1-75 1-96 1-58 1 200 1-141 1 116 1-66 1 23 1-164 1 211 1-58 1 56 1-133 1 39 1 153 1-131 1 98 1-210 1 57 1 97 1-8 1 75 1-66 1-145 1 206 1-73 1-85 1-88 1 62 1 63 1-101 1 142 1-207 1 85 1 24 1-12 1 54 1 10 1 137 1-96 1 51 1 58 1-148 1 77 1-22 1-173 1 60 1 74 1-2 1 31 1-40 1-36 1 111 1-92 1 76 1-16 1-75 1 85 1-73 1-22 1-136 1 171 1 63 1-36 1 7 1-114 1 1 1 182 1 26 1 6 1-305 1 135 1 77 1-84 1 56 1 86 1 82 1-103 1-146 1 11 1 79 1 69 1-287 1 194 1-37 1 59 1-133 1-55 1 229 1-196 1 127 1 34 1 32 1-138 1 81 1 44 1 75 1-199 1 122 1-12 1-88 1 67 1 6 1-81 1 87 1-30 1-72 1 28 1 25 1-6 1-92 1 53 1 131 1-132 1 98 1 67 1 7 1 74 1-131 1 91 1-220 1 119 1 23 1-8 1 8 1-40 1 50 1-60 1 14 1-13 1 145 1-80 1-144 1-48 1 95 1 112 1-23 1-261 1 350 1-166 1-93 1 239 1-53 1-96 1 148 1-54 1-85 1 92 1-150 1 116 1 5 1 92 1-133 1-74 1 51 1 124 1-111 1 76 1-72 1-32 1 79 1-97 1 78 1-22 1-30 1 47 1-89 1 144 1-167 1 169 1-12 1-46 1-132 1 42 1 160 1 22 1-7 1-111 1 76 1-174 1 43 1 85 1-46 1 61 1-7 1 90 1-61 1-18 1-285 1 296 1-3 1-244 1 242 1-219 1 65 1 239 1-99 1 181 1-224 1 49 1 43 1 3 1-281 1 55 1 67 1 57 1 14 1 28 1-41 1-66 1 20 1 70 1 58 1 70 1-219 1 64 1 2 1-48 1-163 1 311 1-78 1 0 1-169 1 198 1-59 1 120 1-149 1 106 1-54 1-48 1 63 1 12 1-115 1 175 1-82 1 87 1-253 1 203 1 43 1-106 1-43 1 93 1-116 1-16 1 182 1 23 1-44 1-14 1 62 1-79 1 66 1-25 1-219 1 133 1-68 1 199 1 26 1-121 1 15 1 65 1-108 1 66 1-37 1-214 1 225 1-47 1 169 1-212 1 149 1-54 1 47 1 31 1-6 1-190 1-54 1-2 1 224 1 18 1-166 1 125 1-139 1 54 1 2 1 83 1-20 1-130 1 174 1-55 1 42 1 28 1-231 1 206 1-68 1-50 1-11 1 57 1-93 1 38 1 75 1-102 1-29 1 23 1 87 1-46 1-65 1 144 1-26 1 102 1-161 1 62 1 72 1-232 1 325 1-90 1 26 1-146 1 129 1-1 1-78 1-85 1-7 1 83 1-39 1 71 1-92 1-8 1-38 1 180 1-99 1 121 1-59 1-136 1 214 1-160 1 2 1 108 1-64 1 30 1 107 1-215 1 165 1-134 1-3 1 55 1 47 1 26 1-30 1-1 1-83 1 31 1 148 1-138 1-41 1 25 1 75 1-22 1-205 1 100 1-1 1-127 1 272 1-141 1 12 1-16 1 184 1-52 1-54 1-75 1-32 1-41 1 99 1-121 1 162 1-46 1 3 1 152 1-63 1-89 1 115 1-51 1-46 1 22 1-63 1-22 1 81 1 2 1-155 1 75 1 4 1 116 1-117 1 29 1 186 1-105 1-169 1 14 1-80 1 113 1 161 1-70 1-57 1 3 1 69 1 17 1-8 1-161 1 139 1-247 1 212 1-3 1 149 1-12 1-103 1 99 1-108 1-13 1-82 1-24 1 141 1 102 1-86 1-188 1 165 1 66 1-5 1-162 1 8 1 95 1-252 1 141 1 103 1-107 1 139 1-71 1 120 1-200 1 65 1 32 1 126 1-162 1 47 1 23 1 23 1 81 1-150 1 153 1-107 1-4 1 70 1-281 1 366 1-231 1 90 1 85 1-90 1 113 1-212 1 15 1-22 1 107 1 82 1-194 1 333 1-302 1 29 1 130 1-81 1 106 1-71 1-21 1-106 1 43 1-145 1 156 1-29 1-1 1 29 1 27 1-105 1 119 1 26 1-9 1-230 1 123 1 42 1 38 1-149 1 29 1 134 1-29 1 74 1 6 1 35 1-187 1 42 1-66 1 170 1-5 1 37 1-188 1 157 1-166 1 22 1 87 1-80 1 40 1 13 1-66 1 18 1 60 1-57 1-40 1 210 1-122 1 56 1-92 1 97 1 41 1-49 1-140 1 107 1 59 1 103 1-157 1-17 1-58 1-91 1 91 1 74 1 2 1 123 1-87 1-116 1-110 1 114 1 124 1-74 1 109 1-65 1-19 1 33 1-92 1 158 1-86 1-68 1 148 1-351 1 283 1-19 1 14 1 70 1-150 1 130 1-174 1 100 1 85 1-192 1-101 1 198 1 49 1-142 1 3 1 169 1-55 1-200 1 187 1-184 1 160 1 97 1-214 1 108 1-145 1 216 1-59 1-60 1-12 1 21 1 68 1-23 1 105 1 10 1-57 1 18 1 158 1-250 1 60 1 94 1-203 1 86 1 29 1-137 1 67 1-149 1 168 1-16 1-82 1 186 1-68 1 96 1-259 1 62 1 264 1-161 1 2 1-105 1 154 1-193 1 190 1-150 1 152 1-37 1 73 1-88 1 144 1-75 1-165 1-11 1 44 1 52 1 197 1-366 1 233 1-124 1 49 1 39 1 90 1-221 1 175 1 23 1-56 1-41 1 3 1-85 1 162 1-15 1-161 1 175 1 7 1-39 1-28 1 49 1-255 1 127 1 163 1-53 1-99 1 117 1 6 1 78 1-241 1 182 1 6 1-38 1-57 1-10 1 71 1 72 1-77 1-95 1 46 1 167 1-69 1-186 1 27 1 40 1-116 1 93 1-20 1 24 1 23 1 61 1-57 1 2 1 71 1 18 1-28 1-17 1-142 1 86 1 3 1-42 1 14 1 64 1 40 1-134 1-6 1 173 1-159 1 81 1-105 1-64 1 106 1-69 1 128 1-36 1 23 1-114 1 147 1-6 1 116 1-195 1 128 1-46 1-175 1 7 1-55 1 313 1-172 1 143 1-25 1-161 1 105 1 124 1-94 1 41 1-13 1-33 1-8 1-101 1 118 1 78 1-118 1-37 1 175 1-29 1-136 1 43 1 50 1-215 1 30 1 60 1 59 1-7 1 24 1-183 1 226 1 100 1-115 1 19 1-123 1 50 1-16 1 4 1-91 1 190 1 0 1-37 1 31 1-149 1 158 1-212 1 233 1 29 1-106 1-194 1 192 1-51 1 81 1-92 1-58 1 118 1 40 1-226 1 235 1-14 1-74 1 83 1-96 1-148 1 107 1 117 1-135 1 275 1-253 1 93 1-91 1 169 1-66 1-190 1 135 1 54 1 77 1-138 1 48 1-150 1 231 1-171 1-84 1 63 1 231 1 8 1-92 1 69 1-77 1-91 1 85 1-1 1 28 1-258 1 206 1-2 1 2 1 39 1-180 1 164 1-80 1-72 1 179 1-67 1-22 1 11 1 67 1 81 1-202 1 118 1-13 1 42 1-146 1-105 1 138 1 101 1-88 1-38 1-105 1 127 1 69 1-4 1-46 1 51 1-73 1 41 1-5 1 48 1 37 1-101 1 120 1-136 1 84 1-197 1 76 1 108 1-146 1 112 1-103 1 87 1 32 1 93 1 75 1-211 1-88 1 101 1 207 1-268 1 35 1 89 1-64 1-15 1 75 1-183 1 228 1-276 1 125 1 76 1 35 1 20 1-101 1 40 1-42 1-161 1 151 1-37 1 29 1 52 1-116 1-46 1-140 1 162 1 17 1 213 1-157 1 145 1-167 1 219 1-192 1-21 1 99 1-43 1-77 1-65 1 211 1-58 1 63 1-50 1-3 1-44 1-17 1 156 1-19 1-86 1 28 1-85 1 110 1 9 1 20 1-407 1 256 1 20 1 59 1-27 1 87 1-20 1 74 1-164 1 123 1-81 1-104 1 264 1-106 1 39 1-94 1 169 1-179 1-112 1 244 1-118 1 5 1 20 1-26 1-138 1 30 1 258 1-144 1 86 1-6 1-68 1 53 1-208 1 140 1-70 1 108 1-83 1 82 1-9 1-37 1 21 1-141 1 124 1 116 1-78 1-13 1-62 1 40 1-135 1 78 1-12 1 51 1 106 1-63 1 67 1-27 1 61 1 16 1-169 1 142 1-75 1 6 1-215 1 183 1 123 1-76 1-39 1-25 1 82 1-5 1 20 1-182 1 197 1-171 1 24 1 30" stroke-dasharray="3.00 4.95"/>
</g></g>
<g font-family="Liberation Sans, sans-serif" fill="#262626"><text x="0" y="0" font-size="33.35" transform="translate(421.43,43.85) scale(1.0976,1)">Intercept</text><text x="0" y="0" font-size="33.35" transform="translate(1459.12,43.85) scale(1.0976,1)">Intercept</text><text x="0" y="0" font-size="29.57" transform="translate(70.37,463.40) scale(1.0485,1)">0.8</text><text x="0" y="0" font-size="29.57" transform="translate(226.75,463.40) scale(1.0552,1)">0.9</text><text x="0" y="0" font-size="29.57" transform="translate(383.13,463.40) scale(1.0504,1)">1.0</text><text x="0" y="0" font-size="29.48" transform="translate(539.54,463.40) scale(1.0427,1)">1.1</text><text x="0" y="0" font-size="29.57" transform="translate(695.95,463.40) scale(1.0332,1)">1.2</text><text x="0" y="0" font-size="29.57" transform="translate(852.32,463.40) scale(1.0400,1)">1.3</text><text x="0" y="0" font-size="29.57" transform="translate(1049.29,463.40) scale(0.9906,1)">0</text><text x="0" y="0" font-size="29.57" transform="translate(1189.48,463.40) scale(1.0472,1)">500</text><text x="0" y="0" font-size="29.57" transform="translate(1337.95,463.40) scale(1.0642,1)">1000</text><text x="0" y="0" font-size="29.57" transform="translate(1495.65,463.40) scale(1.0642,1)">1500</text><text x="0" y="0" font-size="29.57" transform="translate(1653.26,463.40) scale(1.0656,1)">2000</text><text x="0" y="0" font-size="29.57" transform="translate(1810.96,463.40) scale(1.0656,1)">2500</text><text x="0" y="0" font-size="29.57" transform="translate(1004.08,414.57) scale(1.0485,1)">0.8</text><text x="0" y="0" font-size="29.57" transform="translate(1004.06,291.51) scale(1.0504,1)">1.0</text><text x="0" y="0" font-size="29.57" transform="translate(1004.10,168.45) scale(1.0332,1)">1.2</text><text x="0" y="0" font-size="32.58" transform="translate(484.16,511.00) scale(1.0699,1)">x</text><text x="0" y="0" font-size="32.58" transform="translate(1521.85,511.00) scale(1.0699,1)">x</text><text x="0" y="0" font-size="29.57" transform="translate(80.26,930.40) scale(1.0526,1)">1.6</text><text x="0" y="0" font-size="29.57" transform="translate(254.53,930.40) scale(1.0489,1)">1.8</text><text x="0" y="0" font-size="29.57" transform="translate(428.68,930.40) scale(1.0530,1)">2.0</text><text x="0" y="0" font-size="29.57" transform="translate(602.97,930.40) scale(1.0363,1)">2.2</text><text x="0" y="0" font-size="29.57" transform="translate(777.21,930.40) scale(1.0521,1)">2.4</text><text x="0" y="0" font-size="29.57" transform="translate(1049.29,930.40) scale(0.9906,1)">0</text><text x="0" y="0" font-size="29.57" transform="translate(1189.48,930.40) scale(1.0472,1)">500</text><text x="0" y="0" font-size="29.57" transform="translate(1337.95,930.40) scale(1.0642,1)">1000</text><text x="0" y="0" font-size="29.57" transform="translate(1495.65,930.40) scale(1.0642,1)">1500</text><text x="0" y="0" font-size="29.57" transform="translate(1653.26,930.40) scale(1.0656,1)">2000</text><text x="0" y="0" font-size="29.57" transform="translate(1810.96,930.40) scale(1.0656,1)">2500</text><text x="0" y="0" font-size="29.57" transform="translate(1004.06,876.47) scale(1.0526,1)">1.6</text><text x="0" y="0" font-size="29.57" transform="translate(1004.07,808.25) scale(1.0489,1)">1.8</text><text x="0" y="0" font-size="29.57" transform="translate(1003.96,740.03) scale(1.0530,1)">2.0</text><text x="0" y="0" font-size="29.57" transform="translate(1003.98,671.81) scale(1.0363,1)">2.2</text><text x="0" y="0" font-size="29.57" transform="translate(1003.96,603.59) scale(1.0521,1)">2.4</text><text x="0" y="0" font-size="32.87" transform="translate(428.97,977.80) scale(1.0308,1)">y_sigma</text><text x="0" y="0" font-size="32.87" transform="translate(1466.66,977.80) scale(1.0308,1)">y_sigma</text><text x="0" y="0" font-size="29.57" transform="translate(113.51,1396.40) scale(1.0514,1)">0.45</text><text x="0" y="0" font-size="29.57" transform="translate(319.50,1396.40) scale(1.0564,1)">0.50</text><text x="0" y="0" font-size="29.57" transform="translate(525.51,1396.40) scale(1.0514,1)">0.55</text><text x="0" y="0" font-size="29.57" transform="translate(731.50,1396.40) scale(1.0564,1)">0.60</text><text x="0" y="0" font-size="29.57" transform="translate(1049.29,1396.40) scale(0.9906,1)">0</text><text x="0" y="0" font-size="29.57" transform="translate(1189.48,1396.40) scale(1.0472,1)">500</text><text x="0" y="0" font-size="29.57" transform="translate(1337.95,1396.40) scale(1.0642,1)">1000</text><text x="0" y="0" font-size="29.57" transform="translate(1495.65,1396.40) scale(1.0642,1)">1500</text><text x="0" y="0" font-size="29.57" transform="translate(1653.26,1396.40) scale(1.0656,1)">2000</text><text x="0" y="0" font-size="29.57" transform="translate(1810.96,1396.40) scale(1.0656,1)">2500</text><text x="0" y="0" font-size="29.57" transform="translate(986.33,1326.70) scale(1.0514,1)">0.45</text><text x="0" y="0" font-size="29.57" transform="translate(986.32,1245.99) scale(1.0564,1)">0.50</text><text x="0" y="0" font-size="29.57" transform="translate(986.33,1165.28) scale(1.0514,1)">0.55</text><text x="0" y="0" font-size="29.57" transform="translate(986.32,1084.57) scale(1.0564,1)">0.60</text></g>
</svg></body></html>
